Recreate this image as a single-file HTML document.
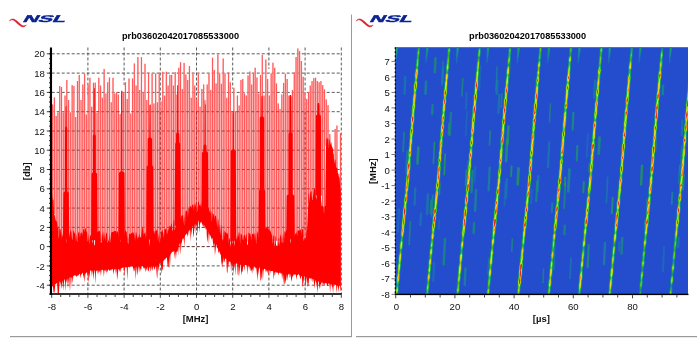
<!DOCTYPE html>
<html><head><meta charset="utf-8"><title>NSL</title><style>html,body{margin:0;padding:0;background:#fff;overflow:hidden}body{width:697px;height:338px;position:relative}</style></head><body>
<svg width="697" height="338" viewBox="0 0 697 338" style="position:absolute;left:0;top:0">
<rect x="0" y="0" width="697" height="338" fill="#fff"/>
<rect x="351" y="14.6" width="1" height="322.4" fill="#9a9a9a"/>
<rect x="10" y="336" width="342" height="1.2" fill="#9a9a9a"/>
<rect x="356" y="336" width="341" height="1.2" fill="#9a9a9a"/>
<g transform="translate(0,0)">
<path transform="translate(-0.3,0.9)" d="M9.6 20.3 C10.6 18.9 12.3 18.4 13.9 19.4 C16.5 21 18.6 24.2 21.5 25.6 C23.6 26.5 25.4 25.8 26.6 24.0 C25.4 24.9 23.8 25.2 22.2 24.3 C19.6 22.7 17.4 19.6 14.6 18.4 C12.4 17.5 10.4 18.4 9.6 20.3 Z" fill="#dc1a28" stroke="#dc1a28" stroke-width="0.45" stroke-linejoin="round"/>
<text x="0" y="0" transform="translate(21.9,21.6) skewX(-32) scale(2.17,1)" font-family="Liberation Sans, sans-serif" font-weight="bold" font-size="9.8" fill="#0b2390" stroke="#0b2390" stroke-width="0.4">NSL</text>
</g>
<g transform="translate(346.9,0)">
<path transform="translate(-0.3,0.9)" d="M9.6 20.3 C10.6 18.9 12.3 18.4 13.9 19.4 C16.5 21 18.6 24.2 21.5 25.6 C23.6 26.5 25.4 25.8 26.6 24.0 C25.4 24.9 23.8 25.2 22.2 24.3 C19.6 22.7 17.4 19.6 14.6 18.4 C12.4 17.5 10.4 18.4 9.6 20.3 Z" fill="#dc1a28" stroke="#dc1a28" stroke-width="0.45" stroke-linejoin="round"/>
<text x="0" y="0" transform="translate(21.9,21.6) skewX(-32) scale(2.17,1)" font-family="Liberation Sans, sans-serif" font-weight="bold" font-size="9.8" fill="#0b2390" stroke="#0b2390" stroke-width="0.4">NSL</text>
</g>
<text x="180.5" y="38.6" text-anchor="middle" font-family="Liberation Sans, sans-serif" font-weight="bold" font-size="9.2" fill="#000">prb03602042017085533000</text>
<text x="527.6" y="38.6" text-anchor="middle" font-family="Liberation Sans, sans-serif" font-weight="bold" font-size="9.2" fill="#000">prb03602042017085533000</text>
<line x1="51.7" y1="285.2" x2="341.3" y2="285.2" stroke="#5a5a5a" stroke-width="1" stroke-dasharray="3 2"/>
<line x1="51.7" y1="265.9" x2="341.3" y2="265.9" stroke="#5a5a5a" stroke-width="1" stroke-dasharray="3 2"/>
<line x1="51.7" y1="246.6" x2="341.3" y2="246.6" stroke="#5a5a5a" stroke-width="1" stroke-dasharray="3 2"/>
<line x1="51.7" y1="227.4" x2="341.3" y2="227.4" stroke="#5a5a5a" stroke-width="1" stroke-dasharray="3 2"/>
<line x1="51.7" y1="208.1" x2="341.3" y2="208.1" stroke="#5a5a5a" stroke-width="1" stroke-dasharray="3 2"/>
<line x1="51.7" y1="188.8" x2="341.3" y2="188.8" stroke="#5a5a5a" stroke-width="1" stroke-dasharray="3 2"/>
<line x1="51.7" y1="169.5" x2="341.3" y2="169.5" stroke="#5a5a5a" stroke-width="1" stroke-dasharray="3 2"/>
<line x1="51.7" y1="150.2" x2="341.3" y2="150.2" stroke="#5a5a5a" stroke-width="1" stroke-dasharray="3 2"/>
<line x1="51.7" y1="131.0" x2="341.3" y2="131.0" stroke="#5a5a5a" stroke-width="1" stroke-dasharray="3 2"/>
<line x1="51.7" y1="111.7" x2="341.3" y2="111.7" stroke="#5a5a5a" stroke-width="1" stroke-dasharray="3 2"/>
<line x1="51.7" y1="92.4" x2="341.3" y2="92.4" stroke="#5a5a5a" stroke-width="1" stroke-dasharray="3 2"/>
<line x1="51.7" y1="73.1" x2="341.3" y2="73.1" stroke="#5a5a5a" stroke-width="1" stroke-dasharray="3 2"/>
<line x1="51.7" y1="53.8" x2="341.3" y2="53.8" stroke="#5a5a5a" stroke-width="1" stroke-dasharray="3 2"/>
<line x1="160.3" y1="47.5" x2="160.3" y2="294.0" stroke="#5a5a5a" stroke-width="1" stroke-dasharray="3 2"/>
<line x1="196.5" y1="47.5" x2="196.5" y2="294.0" stroke="#5a5a5a" stroke-width="1" stroke-dasharray="3 2"/>
<line x1="305.1" y1="47.5" x2="305.1" y2="294.0" stroke="#5a5a5a" stroke-width="1" stroke-dasharray="3 2"/>
<line x1="341.3" y1="47.5" x2="341.3" y2="294.0" stroke="#5a5a5a" stroke-width="1" stroke-dasharray="3 2"/>
<line x1="87.9" y1="47.5" x2="87.9" y2="95.0" stroke="#5a5a5a" stroke-width="1" stroke-dasharray="3 2"/>
<line x1="87.9" y1="271.5" x2="87.9" y2="294.0" stroke="#5a5a5a" stroke-width="1" stroke-dasharray="3 2" stroke-dashoffset="4.0"/>
<line x1="124.1" y1="47.5" x2="124.1" y2="85.1" stroke="#5a5a5a" stroke-width="1" stroke-dasharray="3 2"/>
<line x1="124.1" y1="267.9" x2="124.1" y2="294.0" stroke="#5a5a5a" stroke-width="1" stroke-dasharray="3 2" stroke-dashoffset="0.4"/>
<line x1="232.7" y1="47.5" x2="232.7" y2="88.7" stroke="#5a5a5a" stroke-width="1" stroke-dasharray="3 2"/>
<line x1="232.7" y1="263.2" x2="232.7" y2="294.0" stroke="#5a5a5a" stroke-width="1" stroke-dasharray="3 2" stroke-dashoffset="0.7"/>
<line x1="268.9" y1="47.5" x2="268.9" y2="68.9" stroke="#5a5a5a" stroke-width="1" stroke-dasharray="3 2"/>
<line x1="268.9" y1="270.5" x2="268.9" y2="294.0" stroke="#5a5a5a" stroke-width="1" stroke-dasharray="3 2" stroke-dashoffset="3.0"/>
<path d="M52.60 104.5V201.9M54.38 97.4V214.4M56.15 115.9V229.3M57.93 112.4V233.3M59.71 86.0V237.3M61.49 87.1V238.7M63.26 112.3V239.6M65.04 95.6V240.5M66.82 80.0V240.5M68.59 100.0V240.6M70.37 112.4V240.6M72.15 85.1V240.6M73.92 86.0V240.6M75.70 117.0V240.7M77.48 81.1V240.7M79.26 74.9V240.7M81.03 100.0V240.7M82.81 84.5V240.8M84.59 73.8V240.8M86.36 114.4V240.8M88.14 84.5V240.8M89.92 77.8V240.9M91.69 106.7V240.9M93.47 82.7V240.9M95.25 82.7V240.9M97.03 112.7V241.0M98.80 77.8V241.0M100.58 85.6V241.0M102.36 97.8V241.0M104.13 68.9V241.0M105.91 93.4V240.9M107.69 82.3V240.9M109.46 77.4V240.9M111.24 102.3V240.9M113.02 77.8V240.9M114.80 93.4V240.9M116.57 92.3V240.8M118.35 94.5V240.8M120.13 113.9V240.8M121.90 90.7V240.8M123.68 92.3V240.8M125.46 82.3V240.7M127.23 98.9V240.7M129.01 78.5V240.7M130.79 113.5V240.7M132.56 78.5V240.7M134.34 63.4V240.7M136.12 85.6V240.6M137.90 57.1V240.6M139.67 90.0V240.6M141.45 57.1V240.6M143.23 92.3V240.6M145.00 63.8V240.5M146.78 100.0V240.5M148.56 72.7V240.5M150.33 104.5V240.5M152.11 73.4V240.2M153.89 103.4V240.0M155.67 73.4V239.8M157.44 102.3V239.5M159.22 72.7V239.3M161.00 101.2V239.1M162.77 71.8V238.5M164.55 95.6V237.7M166.33 71.8V236.9M168.10 85.6V236.1M169.88 74.9V234.4M171.66 74.9V231.9M173.44 85.6V229.4M175.21 72.2V228.1M176.99 94.5V227.1M178.77 67.8V226.1M180.54 62.2V225.1M182.32 88.9V224.1M184.10 62.9V223.1M185.87 74.5V220.6M187.65 80.0V218.0M189.43 66.0V215.9M191.21 97.8V214.5M192.98 72.7V213.1M194.76 85.6V211.7M196.54 98.9V211.0M198.31 73.4V210.5M200.09 106.7V210.0M201.87 88.9V209.8M203.64 84.5V211.5M205.42 104.5V213.2M207.20 84.5V214.9M208.98 73.4V216.9M210.75 90.0V219.2M212.53 57.8V221.5M214.31 70.0V223.4M216.08 83.4V225.2M217.86 54.5V227.5M219.64 73.4V231.1M221.41 83.8V234.8M223.19 58.5V237.6M224.97 73.4V240.0M226.75 97.8V242.0M228.52 72.7V241.9M230.30 82.3V241.9M232.08 111.2V241.9M233.85 87.8V241.8M235.63 111.2V241.8M237.41 95.6V241.7M239.18 105.6V241.7M240.96 80.0V241.6M242.74 78.9V241.6M244.52 93.4V241.6M246.29 95.6V241.5M248.07 75.6V241.5M249.85 71.6V241.4M251.62 84.5V241.4M253.40 73.4V241.3M255.18 67.8V241.3M256.95 77.4V241.2M258.73 93.4V241.2M260.51 74.9V241.1M262.29 54.9V241.1M264.06 95.6V241.1M265.84 59.6V241.0M267.62 78.9V241.0M269.39 95.6V240.9M271.17 73.4V240.9M272.95 62.7V240.8M274.72 67.8V240.8M276.50 83.4V240.7M278.28 103.4V240.7M280.06 108.9V240.6M281.83 94.5V240.6M283.61 82.9V240.5M285.39 73.8V240.5M287.16 78.9V240.2M288.94 95.6V240.0M290.72 111.2V239.8M292.49 90.0V239.6M294.27 72.2V239.3M296.05 57.1V239.1M297.83 48.5V238.8M299.60 51.1V238.3M301.38 61.1V237.7M303.16 76.7V237.2M304.93 92.3V236.2M306.71 98.9V234.7M308.49 92.3V202.9M310.26 85.6V201.0M312.04 81.1V199.1M313.82 78.2V197.3M315.60 77.8V196.0M317.37 81.1V196.0M319.15 82.3V196.0M320.93 81.1V196.0M322.70 85.1V215.0M324.48 89.4V215.0M326.26 99.4V146.1M328.03 105.2V146.7M329.81 134.1V147.2M331.59 146.4V151.8M333.37 154.0V159.5M335.14 128.9V167.3M336.92 125.6V175.2M338.70 173.8V183.5M340.47 133.1V190.9" stroke="#ffa4a4" stroke-width="1.4" fill="none"/>
<path d="M52.60 104.5V201.9M54.38 97.4V214.4M56.15 115.9V229.3M57.93 112.4V233.3M59.71 86.0V237.3M61.49 87.1V238.7M63.26 112.3V239.6M65.04 95.6V240.5M66.82 80.0V240.5M68.59 100.0V240.6M70.37 112.4V240.6M72.15 85.1V240.6M73.92 86.0V240.6M75.70 117.0V240.7M77.48 81.1V240.7M79.26 74.9V240.7M81.03 100.0V240.7M82.81 84.5V240.8M84.59 73.8V240.8M86.36 114.4V240.8M88.14 84.5V240.8M89.92 77.8V240.9M91.69 106.7V240.9M93.47 82.7V240.9M95.25 82.7V240.9M97.03 112.7V241.0M98.80 77.8V241.0M100.58 85.6V241.0M102.36 97.8V241.0M104.13 68.9V241.0M105.91 93.4V240.9M107.69 82.3V240.9M109.46 77.4V240.9M111.24 102.3V240.9M113.02 77.8V240.9M114.80 93.4V240.9M116.57 92.3V240.8M118.35 94.5V240.8M120.13 113.9V240.8M121.90 90.7V240.8M123.68 92.3V240.8M125.46 82.3V240.7M127.23 98.9V240.7M129.01 78.5V240.7M130.79 113.5V240.7M132.56 78.5V240.7M134.34 63.4V240.7M136.12 85.6V240.6M137.90 57.1V240.6M139.67 90.0V240.6M141.45 57.1V240.6M143.23 92.3V240.6M145.00 63.8V240.5M146.78 100.0V240.5M148.56 72.7V240.5M150.33 104.5V240.5M152.11 73.4V240.2M153.89 103.4V240.0M155.67 73.4V239.8M157.44 102.3V239.5M159.22 72.7V239.3M161.00 101.2V239.1M162.77 71.8V238.5M164.55 95.6V237.7M166.33 71.8V236.9M168.10 85.6V236.1M169.88 74.9V234.4M171.66 74.9V231.9M173.44 85.6V229.4M175.21 72.2V228.1M176.99 94.5V227.1M178.77 67.8V226.1M180.54 62.2V225.1M182.32 88.9V224.1M184.10 62.9V223.1M185.87 74.5V220.6M187.65 80.0V218.0M189.43 66.0V215.9M191.21 97.8V214.5M192.98 72.7V213.1M194.76 85.6V211.7M196.54 98.9V211.0M198.31 73.4V210.5M200.09 106.7V210.0M201.87 88.9V209.8M203.64 84.5V211.5M205.42 104.5V213.2M207.20 84.5V214.9M208.98 73.4V216.9M210.75 90.0V219.2M212.53 57.8V221.5M214.31 70.0V223.4M216.08 83.4V225.2M217.86 54.5V227.5M219.64 73.4V231.1M221.41 83.8V234.8M223.19 58.5V237.6M224.97 73.4V240.0M226.75 97.8V242.0M228.52 72.7V241.9M230.30 82.3V241.9M232.08 111.2V241.9M233.85 87.8V241.8M235.63 111.2V241.8M237.41 95.6V241.7M239.18 105.6V241.7M240.96 80.0V241.6M242.74 78.9V241.6M244.52 93.4V241.6M246.29 95.6V241.5M248.07 75.6V241.5M249.85 71.6V241.4M251.62 84.5V241.4M253.40 73.4V241.3M255.18 67.8V241.3M256.95 77.4V241.2M258.73 93.4V241.2M260.51 74.9V241.1M262.29 54.9V241.1M264.06 95.6V241.1M265.84 59.6V241.0M267.62 78.9V241.0M269.39 95.6V240.9M271.17 73.4V240.9M272.95 62.7V240.8M274.72 67.8V240.8M276.50 83.4V240.7M278.28 103.4V240.7M280.06 108.9V240.6M281.83 94.5V240.6M283.61 82.9V240.5M285.39 73.8V240.5M287.16 78.9V240.2M288.94 95.6V240.0M290.72 111.2V239.8M292.49 90.0V239.6M294.27 72.2V239.3M296.05 57.1V239.1M297.83 48.5V238.8M299.60 51.1V238.3M301.38 61.1V237.7M303.16 76.7V237.2M304.93 92.3V236.2M306.71 98.9V234.7M308.49 92.3V202.9M310.26 85.6V201.0M312.04 81.1V199.1M313.82 78.2V197.3M315.60 77.8V196.0M317.37 81.1V196.0M319.15 82.3V196.0M320.93 81.1V196.0M322.70 85.1V215.0M324.48 89.4V215.0M326.26 99.4V146.1M328.03 105.2V146.7M329.81 134.1V147.2M331.59 146.4V151.8M333.37 154.0V159.5M335.14 128.9V167.3M336.92 125.6V175.2M338.70 173.8V183.5M340.47 133.1V190.9" stroke="#ff3030" stroke-width="0.68" fill="none"/>
<line x1="51.7" y1="246.6" x2="341.0" y2="246.6" stroke="#7a2020" stroke-opacity="0.5" stroke-width="1" stroke-dasharray="3 2"/>
<line x1="51.7" y1="227.4" x2="341.0" y2="227.4" stroke="#7a2020" stroke-opacity="0.5" stroke-width="1" stroke-dasharray="3 2"/>
<line x1="51.7" y1="208.1" x2="341.0" y2="208.1" stroke="#7a2020" stroke-opacity="0.5" stroke-width="1" stroke-dasharray="3 2"/>
<line x1="51.7" y1="188.8" x2="341.0" y2="188.8" stroke="#7a2020" stroke-opacity="0.5" stroke-width="1" stroke-dasharray="3 2"/>
<line x1="51.7" y1="169.5" x2="324.0" y2="169.5" stroke="#7a2020" stroke-opacity="0.5" stroke-width="1" stroke-dasharray="3 2"/>
<line x1="51.7" y1="150.2" x2="324.0" y2="150.2" stroke="#7a2020" stroke-opacity="0.5" stroke-width="1" stroke-dasharray="3 2"/>
<line x1="51.7" y1="131.0" x2="324.0" y2="131.0" stroke="#7a2020" stroke-opacity="0.5" stroke-width="1" stroke-dasharray="3 2"/>
<line x1="76" y1="111.7" x2="324.0" y2="111.7" stroke="#7a2020" stroke-opacity="0.5" stroke-width="1" stroke-dasharray="3 2"/>
<line x1="160.3" y1="111.7" x2="160.3" y2="233.2" stroke="#8a2a2a" stroke-opacity="0.75" stroke-width="1" stroke-dasharray="3 2"/>
<line x1="196.5" y1="111.7" x2="196.5" y2="205.0" stroke="#8a2a2a" stroke-opacity="0.75" stroke-width="1" stroke-dasharray="3 2"/>
<line x1="305.1" y1="111.7" x2="305.1" y2="230.1" stroke="#8a2a2a" stroke-opacity="0.75" stroke-width="1" stroke-dasharray="3 2"/>
<polygon points="65.8,106.0 65.6,108.0 65.5,126.3 65.0,127.7 64.9,191.3 63.4,192.7 63.0,239.5 69.2,239.5 68.8,192.7 67.3,191.3 67.2,127.7 66.6,126.3 66.5,108.0 66.4,106.0" fill="#ff0000"/>
<polygon points="94.0,88.0 93.8,90.0 93.8,134.3 92.8,135.7 92.8,172.3 91.5,173.7 91.1,239.9 97.5,239.9 97.1,173.7 95.8,172.3 95.8,135.7 94.8,134.3 94.8,90.0 94.6,88.0" fill="#ff0000"/>
<polygon points="121.4,91.0 121.2,93.0 121.1,171.3 118.9,172.7 118.5,239.8 124.9,239.8 124.5,172.7 122.3,171.3 122.2,93.0 122.0,91.0" fill="#ff0000"/>
<polygon points="149.6,105.0 149.5,107.0 149.3,137.3 147.7,138.7 147.6,165.3 146.6,166.7 146.2,239.5 153.6,239.5 153.2,166.7 152.2,165.3 152.1,138.7 150.5,137.3 150.3,107.0 150.2,105.0" fill="#ff0000"/>
<polygon points="177.4,85.0 177.2,87.0 177.1,132.3 176.1,133.7 176.0,142.3 175.2,143.7 175.1,162.3 175.0,163.7 174.6,225.7 180.8,225.7 180.4,163.7 180.3,162.3 180.2,143.7 179.4,142.3 179.3,133.7 178.2,132.3 178.1,87.0 178.0,85.0" fill="#ff0000"/>
<polygon points="204.7,100.0 204.6,102.0 204.4,144.3 203.5,145.7 203.4,151.3 202.0,152.7 201.6,211.8 208.4,211.8 208.0,152.7 206.6,151.3 206.5,145.7 205.6,144.3 205.4,102.0 205.3,100.0" fill="#ff0000"/>
<polygon points="233.0,112.0 232.8,114.0 232.7,149.3 230.8,150.7 230.4,240.8 236.2,240.8 235.8,150.7 233.9,149.3 233.8,114.0 233.6,112.0" fill="#ff0000"/>
<polygon points="261.6,96.0 261.4,98.0 261.3,116.3 259.8,117.7 259.7,189.3 259.0,190.7 258.6,240.1 265.4,240.1 265.0,190.7 264.3,189.3 264.2,117.7 262.7,116.3 262.6,98.0 262.4,96.0" fill="#ff0000"/>
<polygon points="289.9,95.0 289.5,97.0 289.4,132.3 288.5,133.7 288.4,194.3 286.7,195.7 286.3,238.8 294.7,238.8 294.3,195.7 292.6,194.3 292.5,133.7 291.6,132.3 291.5,97.0 291.1,95.0" fill="#ff0000"/>
<polygon points="317.8,103.0 317.4,105.0 317.3,114.3 315.9,115.7 315.5,195.0 321.3,195.0 320.9,115.7 319.5,114.3 319.4,105.0 319.0,103.0" fill="#ff0000"/>
<polygon points="51.7,189.5 52.3,196.6 52.9,200.7 53.5,198.9 54.1,215.3 54.7,214.8 55.3,218.7 55.9,220.7 56.5,221.1 57.1,222.7 57.7,227.8 58.3,226.2 58.9,239.0 59.5,228.4 60.1,229.2 60.7,229.4 61.3,238.9 61.9,231.2 62.5,237.0 63.1,234.5 63.7,237.4 64.3,233.2 64.9,238.5 65.5,239.0 66.1,233.4 66.7,243.2 67.3,231.9 67.9,231.4 68.5,237.5 69.1,237.6 69.7,233.5 70.3,231.6 70.9,229.2 71.5,232.8 72.1,240.3 72.7,238.5 73.3,230.5 73.9,231.0 74.5,233.4 75.1,232.2 75.7,241.3 76.3,232.7 76.9,241.1 77.5,241.6 78.1,233.4 78.7,231.7 79.3,231.8 79.9,238.1 80.5,232.9 81.1,233.1 81.7,232.0 82.3,235.7 82.9,231.2 83.5,228.7 84.1,229.3 84.7,232.6 85.3,227.5 85.9,229.0 86.5,232.6 87.1,231.4 87.7,241.4 88.3,240.3 88.9,233.0 89.5,244.6 90.1,234.9 90.7,235.7 91.3,234.8 91.9,238.1 92.5,243.5 93.1,238.6 93.7,234.1 94.3,245.6 94.9,244.9 95.5,234.6 96.1,240.1 96.7,233.3 97.3,232.3 97.9,231.8 98.5,231.0 99.1,231.5 99.7,230.5 100.3,231.8 100.9,242.8 101.5,242.5 102.1,231.0 102.7,236.8 103.3,231.1 103.9,240.9 104.5,231.6 105.1,241.6 105.7,236.1 106.3,232.2 106.9,233.3 107.5,243.3 108.1,239.3 108.7,241.1 109.3,241.5 109.9,233.5 110.5,243.0 111.1,232.6 111.7,232.4 112.3,232.0 112.9,231.7 113.5,231.7 114.1,231.3 114.7,231.1 115.3,231.1 115.9,231.1 116.5,233.0 117.1,232.3 117.7,231.1 118.3,232.0 118.9,238.4 119.5,232.1 120.1,242.4 120.7,236.9 121.3,232.3 121.9,229.2 122.5,228.3 123.1,232.8 123.7,227.4 124.3,235.6 124.9,232.5 125.5,229.8 126.1,231.5 126.7,232.1 127.3,243.4 127.9,234.5 128.5,245.0 129.1,233.7 129.7,233.6 130.3,234.3 130.9,234.2 131.5,232.7 132.1,233.1 132.7,232.2 133.3,232.2 133.9,233.8 134.5,235.5 135.1,240.8 135.7,232.6 136.3,232.3 136.9,235.5 137.5,239.7 138.1,235.4 138.7,238.4 139.3,232.7 139.9,237.7 140.5,236.8 141.1,238.1 141.7,232.4 142.3,227.7 142.9,227.5 143.5,235.5 144.1,232.3 144.7,234.3 145.3,231.7 145.9,238.1 146.5,235.9 147.1,235.3 147.7,236.6 148.3,236.1 148.9,235.4 149.5,246.8 150.1,234.8 150.7,237.4 151.3,235.7 151.9,232.3 152.5,231.8 153.1,231.6 153.7,231.1 154.3,231.0 154.9,234.5 155.5,230.5 156.1,231.1 156.7,229.7 157.3,229.5 157.9,240.8 158.5,232.1 159.1,243.6 159.7,232.9 160.3,241.0 160.9,232.4 161.5,231.7 162.1,229.8 162.7,231.0 163.3,233.5 163.9,238.2 164.5,228.7 165.1,229.8 165.7,228.5 166.3,228.3 166.9,235.1 167.5,232.6 168.1,227.1 168.7,231.2 169.3,226.5 169.9,226.1 170.5,227.0 171.1,224.6 171.7,222.9 172.3,229.3 172.9,231.6 173.5,220.5 174.1,219.8 174.7,230.7 175.3,225.8 175.9,228.5 176.5,220.3 177.1,218.1 177.7,218.7 178.3,220.6 178.9,217.0 179.5,216.7 180.1,216.8 180.7,220.9 181.3,215.8 181.9,215.6 182.5,215.6 183.1,214.7 183.7,223.8 184.3,214.0 184.9,225.8 185.5,212.1 186.1,211.3 186.7,210.4 187.3,209.7 187.9,217.5 188.5,208.6 189.1,208.8 189.7,207.1 190.3,206.4 190.9,205.8 191.5,208.2 192.1,204.9 192.7,204.5 193.3,204.8 193.9,211.1 194.5,202.9 195.1,206.8 195.7,203.5 196.3,202.1 196.9,212.1 197.5,209.6 198.1,201.7 198.7,201.4 199.3,205.0 199.9,205.6 200.5,206.3 201.1,202.6 201.7,206.5 202.3,211.1 202.9,202.0 203.5,202.5 204.1,207.1 204.7,203.5 205.3,206.4 205.9,204.8 206.5,205.3 207.1,206.9 207.7,209.6 208.3,208.2 208.9,207.9 209.5,212.8 210.1,209.3 210.7,213.8 211.3,211.1 211.9,221.8 212.5,212.5 213.1,214.0 213.7,213.9 214.3,219.3 214.9,215.1 215.5,215.9 216.1,216.3 216.7,222.2 217.3,228.5 217.9,218.6 218.5,220.6 219.1,232.0 219.7,222.9 220.3,235.4 220.9,224.7 221.5,226.6 222.1,235.9 222.7,240.9 223.3,229.1 223.9,240.1 224.5,230.4 225.1,231.8 225.7,232.4 226.3,232.9 226.9,233.4 227.5,233.0 228.1,235.4 228.7,243.3 229.3,238.2 229.9,238.6 230.5,247.5 231.1,238.1 231.7,237.7 232.3,244.5 232.9,237.9 233.5,238.0 234.1,238.3 234.7,246.5 235.3,236.7 235.9,238.5 236.5,239.4 237.1,234.3 237.7,238.6 238.3,235.5 238.9,231.7 239.5,233.3 240.1,243.7 240.7,233.1 241.3,234.8 241.9,233.9 242.5,239.2 243.1,240.4 243.7,235.5 244.3,235.2 244.9,234.3 245.5,239.2 246.1,233.5 246.7,235.1 247.3,244.9 247.9,244.8 248.5,231.9 249.1,233.6 249.7,233.4 250.3,233.5 250.9,236.7 251.5,240.9 252.1,233.5 252.7,234.0 253.3,234.6 253.9,233.6 254.5,233.2 255.1,241.3 255.7,232.4 256.3,244.2 256.9,231.1 257.5,233.8 258.1,230.0 258.7,236.4 259.3,239.0 259.9,229.1 260.5,228.5 261.1,230.4 261.7,228.3 262.3,228.3 262.9,232.8 263.5,226.9 264.1,229.7 264.7,227.3 265.3,226.8 265.9,229.2 266.5,226.7 267.1,227.0 267.7,226.6 268.3,227.4 268.9,230.1 269.5,229.0 270.1,231.7 270.7,230.6 271.3,235.4 271.9,232.4 272.5,244.1 273.1,235.8 273.7,235.1 274.3,247.9 274.9,235.8 275.5,236.5 276.1,246.4 276.7,244.7 277.3,247.2 277.9,237.7 278.5,238.9 279.1,245.8 279.7,238.3 280.3,236.1 280.9,234.1 281.5,243.3 282.1,233.7 282.7,243.7 283.3,231.8 283.9,243.5 284.5,231.1 285.1,231.4 285.7,233.3 286.3,230.1 286.9,229.8 287.5,238.2 288.1,231.4 288.7,232.9 289.3,233.6 289.9,234.0 290.5,243.9 291.1,237.6 291.7,236.4 292.3,235.7 292.9,236.9 293.5,234.6 294.1,235.9 294.7,236.3 295.3,233.1 295.9,234.3 296.5,230.9 297.1,236.5 297.7,230.5 298.3,230.2 298.9,230.8 299.5,230.7 300.1,229.5 300.7,229.3 301.3,234.9 301.9,229.0 302.5,229.4 303.1,228.8 303.7,241.5 304.3,235.1 304.9,240.1 305.5,238.0 306.1,226.3 306.7,236.1 307.3,225.7 307.9,213.4 308.5,194.1 309.1,193.3 309.7,202.6 310.3,192.2 310.9,191.7 311.5,190.8 312.1,200.6 312.7,198.6 313.3,194.8 313.9,189.9 314.5,188.0 315.1,189.0 315.7,195.7 316.3,199.7 316.9,187.7 317.5,187.2 318.1,189.2 318.7,192.5 319.3,187.1 319.9,187.0 320.5,187.2 321.1,199.3 321.7,206.3 322.3,206.0 322.9,206.0 323.5,206.9 324.1,215.1 324.7,206.1 325.3,206.0 325.9,149.0 326.5,137.6 327.1,139.7 327.7,137.6 328.3,138.9 328.9,148.5 329.5,138.2 330.1,141.4 330.7,144.9 331.3,141.7 331.9,147.4 332.5,147.2 333.1,150.3 333.7,156.8 334.3,164.0 334.9,158.9 335.5,160.0 336.1,168.3 336.7,167.2 337.3,168.0 337.9,173.4 338.5,176.7 339.1,176.4 339.7,179.4 340.3,190.5 340.9,187.3 340.9,285.8 340.3,292.1 339.7,285.6 339.1,285.7 338.5,292.6 337.9,286.6 337.3,285.2 336.7,293.5 336.1,284.9 335.5,284.8 334.9,285.3 334.3,284.6 333.7,284.6 333.1,293.5 332.5,287.5 331.9,286.1 331.3,284.0 330.7,284.5 330.1,293.1 329.5,283.7 328.9,283.7 328.3,283.5 327.7,286.2 327.1,285.6 326.5,283.2 325.9,283.0 325.3,282.9 324.7,286.2 324.1,282.7 323.5,284.0 322.9,285.2 322.3,282.2 321.7,282.3 321.1,284.1 320.5,284.7 319.9,288.9 319.3,286.5 318.7,281.8 318.1,281.1 317.5,293.5 316.9,287.1 316.3,283.0 315.7,279.9 315.1,281.9 314.5,288.7 313.9,282.3 313.3,279.0 312.7,278.8 312.1,282.4 311.5,278.3 310.9,278.1 310.3,279.3 309.7,277.7 309.1,278.8 308.5,284.6 307.9,287.2 307.3,282.4 306.7,276.6 306.1,282.9 305.5,287.2 304.9,277.2 304.3,275.7 303.7,280.5 303.1,284.0 302.5,287.6 301.9,276.2 301.3,276.0 300.7,279.5 300.1,277.5 299.5,275.8 298.9,274.3 298.3,274.3 297.7,275.3 297.1,275.1 296.5,279.9 295.9,275.3 295.3,274.0 294.7,274.8 294.1,274.6 293.5,274.5 292.9,276.7 292.3,276.2 291.7,281.7 291.1,279.3 290.5,273.5 289.9,278.4 289.3,273.4 288.7,274.9 288.1,273.4 287.5,281.1 286.9,273.8 286.3,279.6 285.7,280.7 285.1,283.6 284.5,284.5 283.9,274.1 283.3,285.1 282.7,272.9 282.1,279.8 281.5,272.7 280.9,274.2 280.3,272.6 279.7,273.0 279.1,272.5 278.5,275.5 277.9,272.2 277.3,273.1 276.7,272.6 276.1,272.5 275.5,271.6 274.9,276.4 274.3,271.8 273.7,280.2 273.1,271.4 272.5,271.1 271.9,271.0 271.3,271.2 270.7,270.4 270.1,273.4 269.5,270.7 268.9,270.0 268.3,276.5 267.7,269.9 267.1,273.4 266.5,269.4 265.9,272.6 265.3,269.2 264.7,268.9 264.1,268.8 263.5,271.1 262.9,280.8 262.3,268.4 261.7,277.2 261.1,279.6 260.5,281.5 259.9,267.7 259.3,267.6 258.7,275.6 258.1,268.4 257.5,281.6 256.9,274.1 256.3,268.2 255.7,267.3 255.1,268.8 254.5,266.5 253.9,266.5 253.3,271.5 252.7,268.3 252.1,274.3 251.5,269.6 250.9,271.3 250.3,268.6 249.7,265.8 249.1,270.1 248.5,265.5 247.9,265.5 247.3,275.0 246.7,265.4 246.1,265.0 245.5,265.0 244.9,264.9 244.3,271.1 243.7,264.9 243.1,267.1 242.5,272.0 241.9,271.3 241.3,275.8 240.7,264.9 240.1,264.5 239.5,276.7 238.9,263.9 238.3,275.9 237.7,274.6 237.1,263.5 236.5,263.6 235.9,263.4 235.3,276.0 234.7,263.4 234.1,268.3 233.5,274.0 232.9,262.7 232.3,268.5 231.7,263.2 231.1,272.4 230.5,261.8 229.9,261.9 229.3,261.0 228.7,268.1 228.1,260.6 227.5,273.0 226.9,272.2 226.3,259.2 225.7,258.6 225.1,258.7 224.5,261.4 223.9,262.8 223.3,257.1 222.7,268.3 222.1,261.3 221.5,266.1 220.9,255.3 220.3,253.9 219.7,252.6 219.1,251.1 218.5,253.4 217.9,248.4 217.3,248.3 216.7,245.8 216.1,244.3 215.5,250.7 214.9,255.7 214.3,242.6 213.7,247.0 213.1,243.2 212.5,238.6 211.9,237.4 211.3,239.9 210.7,235.9 210.1,235.5 209.5,233.4 208.9,245.1 208.3,231.1 207.7,239.8 207.1,242.2 206.5,228.6 205.9,230.1 205.3,227.3 204.7,227.4 204.1,225.0 203.5,227.3 202.9,223.4 202.3,226.2 201.7,222.6 201.1,222.0 200.5,222.5 199.9,224.4 199.3,232.8 198.7,221.7 198.1,220.4 197.5,234.6 196.9,229.3 196.3,222.8 195.7,225.1 195.1,233.6 194.5,224.0 193.9,233.9 193.3,237.9 192.7,226.4 192.1,226.6 191.5,236.1 190.9,229.3 190.3,242.1 189.7,229.5 189.1,230.7 188.5,231.7 187.9,237.2 187.3,234.6 186.7,233.4 186.1,234.4 185.5,234.9 184.9,236.6 184.3,247.1 183.7,238.7 183.1,238.3 182.5,239.1 181.9,241.9 181.3,244.2 180.7,255.4 180.1,242.7 179.5,244.4 178.9,255.7 178.3,245.3 177.7,251.4 177.1,251.6 176.5,251.9 175.9,260.0 175.3,251.5 174.7,259.0 174.1,250.4 173.5,252.0 172.9,251.4 172.3,252.1 171.7,252.6 171.1,253.4 170.5,254.4 169.9,269.5 169.3,255.6 168.7,266.1 168.1,267.6 167.5,264.8 166.9,257.2 166.3,258.0 165.7,258.3 165.1,259.7 164.5,259.3 163.9,261.0 163.3,260.5 162.7,270.7 162.1,268.9 161.5,274.6 160.9,262.5 160.3,263.1 159.7,263.6 159.1,265.0 158.5,272.0 157.9,265.0 157.3,279.0 156.7,275.3 156.1,266.3 155.5,266.8 154.9,269.2 154.3,269.2 153.7,265.5 153.1,267.7 152.5,271.0 151.9,265.8 151.3,269.0 150.7,271.8 150.1,267.1 149.5,267.3 148.9,271.2 148.3,271.0 147.7,266.0 147.1,271.1 146.5,269.5 145.9,267.4 145.3,272.8 144.7,267.2 144.1,268.9 143.5,268.0 142.9,266.0 142.3,266.0 141.7,266.1 141.1,269.9 140.5,268.3 139.9,273.0 139.3,267.4 138.7,266.0 138.1,271.1 137.5,276.1 136.9,266.0 136.3,270.8 135.7,280.2 135.1,266.6 134.5,270.7 133.9,271.5 133.3,268.4 132.7,266.4 132.1,266.3 131.5,266.4 130.9,266.4 130.3,266.6 129.7,267.7 129.1,266.7 128.5,267.0 127.9,267.0 127.3,280.6 126.7,267.2 126.1,267.2 125.5,267.4 124.9,267.5 124.3,276.6 123.7,267.5 123.1,267.7 122.5,267.7 121.9,267.7 121.3,268.5 120.7,272.4 120.1,268.3 119.5,272.1 118.9,268.7 118.3,269.5 117.7,275.8 117.1,280.3 116.5,268.6 115.9,273.7 115.3,268.8 114.7,269.1 114.1,270.2 113.5,274.7 112.9,269.3 112.3,269.1 111.7,269.2 111.1,270.8 110.5,269.4 109.9,271.2 109.3,270.3 108.7,269.4 108.1,269.4 107.5,272.5 106.9,269.5 106.3,273.6 105.7,269.6 105.1,271.7 104.5,269.6 103.9,277.1 103.3,270.4 102.7,269.9 102.1,269.8 101.5,269.8 100.9,276.4 100.3,269.9 99.7,272.8 99.1,269.9 98.5,271.9 97.9,274.8 97.3,270.1 96.7,271.6 96.1,270.1 95.5,284.6 94.9,270.8 94.3,270.3 93.7,279.9 93.1,273.8 92.5,270.3 91.9,276.8 91.3,270.4 90.7,270.4 90.1,270.5 89.5,278.6 88.9,272.6 88.3,283.0 87.7,275.4 87.1,272.4 86.5,272.4 85.9,273.1 85.3,274.6 84.7,283.0 84.1,274.3 83.5,278.5 82.9,272.8 82.3,272.9 81.7,275.0 81.1,273.6 80.5,278.4 79.9,273.7 79.3,273.9 78.7,274.9 78.1,275.8 77.5,275.8 76.9,275.4 76.3,277.2 75.7,275.5 75.1,275.3 74.5,275.6 73.9,275.8 73.3,276.0 72.7,283.8 72.1,277.1 71.5,278.1 70.9,290.2 70.3,276.9 69.7,277.5 69.1,291.3 68.5,277.5 67.9,288.3 67.3,277.9 66.7,283.0 66.1,279.1 65.5,292.3 64.9,279.4 64.3,279.4 63.7,285.1 63.1,290.7 62.5,280.3 61.9,283.9 61.3,289.0 60.7,284.0 60.1,281.5 59.5,281.8 58.9,293.5 58.3,293.5 57.7,293.5 57.1,283.1 56.5,283.3 55.9,284.0 55.3,283.9 54.7,291.6 54.1,293.0 53.5,292.0 52.9,285.4 52.3,287.0 51.7,285.5" fill="#ff0000"/>
<rect x="49.9" y="47.5" width="2.15" height="247.5" fill="#000"/>
<rect x="49.4" y="293.2" width="292.4" height="1.6" fill="#000"/>
<rect x="46.8" y="284.7" width="3.2" height="1" fill="#444"/>
<text x="44.8" y="288.8" text-anchor="end" font-family="Liberation Sans, sans-serif" font-size="9.6" fill="#111">-4</text>
<rect x="46.8" y="265.4" width="3.2" height="1" fill="#444"/>
<text x="44.8" y="269.5" text-anchor="end" font-family="Liberation Sans, sans-serif" font-size="9.6" fill="#111">-2</text>
<rect x="46.8" y="246.1" width="3.2" height="1" fill="#444"/>
<text x="44.8" y="250.2" text-anchor="end" font-family="Liberation Sans, sans-serif" font-size="9.6" fill="#111">0</text>
<rect x="46.8" y="226.9" width="3.2" height="1" fill="#444"/>
<text x="44.8" y="231.0" text-anchor="end" font-family="Liberation Sans, sans-serif" font-size="9.6" fill="#111">2</text>
<rect x="46.8" y="207.6" width="3.2" height="1" fill="#444"/>
<text x="44.8" y="211.7" text-anchor="end" font-family="Liberation Sans, sans-serif" font-size="9.6" fill="#111">4</text>
<rect x="46.8" y="188.3" width="3.2" height="1" fill="#444"/>
<text x="44.8" y="192.4" text-anchor="end" font-family="Liberation Sans, sans-serif" font-size="9.6" fill="#111">6</text>
<rect x="46.8" y="169.0" width="3.2" height="1" fill="#444"/>
<text x="44.8" y="173.1" text-anchor="end" font-family="Liberation Sans, sans-serif" font-size="9.6" fill="#111">8</text>
<rect x="46.8" y="149.7" width="3.2" height="1" fill="#444"/>
<text x="44.8" y="153.8" text-anchor="end" font-family="Liberation Sans, sans-serif" font-size="9.6" fill="#111">10</text>
<rect x="46.8" y="130.5" width="3.2" height="1" fill="#444"/>
<text x="44.8" y="134.6" text-anchor="end" font-family="Liberation Sans, sans-serif" font-size="9.6" fill="#111">12</text>
<rect x="46.8" y="111.2" width="3.2" height="1" fill="#444"/>
<text x="44.8" y="115.3" text-anchor="end" font-family="Liberation Sans, sans-serif" font-size="9.6" fill="#111">14</text>
<rect x="46.8" y="91.9" width="3.2" height="1" fill="#444"/>
<text x="44.8" y="96.0" text-anchor="end" font-family="Liberation Sans, sans-serif" font-size="9.6" fill="#111">16</text>
<rect x="46.8" y="72.6" width="3.2" height="1" fill="#444"/>
<text x="44.8" y="76.7" text-anchor="end" font-family="Liberation Sans, sans-serif" font-size="9.6" fill="#111">18</text>
<rect x="46.8" y="53.3" width="3.2" height="1" fill="#444"/>
<text x="44.8" y="57.4" text-anchor="end" font-family="Liberation Sans, sans-serif" font-size="9.6" fill="#111">20</text>
<rect x="49.2" y="284.7" width="1" height="1" fill="#000"/>
<rect x="49.2" y="279.9" width="1" height="1" fill="#000"/>
<rect x="49.2" y="275.1" width="1" height="1" fill="#000"/>
<rect x="49.2" y="270.2" width="1" height="1" fill="#000"/>
<rect x="49.2" y="265.4" width="1" height="1" fill="#000"/>
<rect x="49.2" y="260.6" width="1" height="1" fill="#000"/>
<rect x="49.2" y="255.8" width="1" height="1" fill="#000"/>
<rect x="49.2" y="251.0" width="1" height="1" fill="#000"/>
<rect x="49.2" y="246.1" width="1" height="1" fill="#000"/>
<rect x="49.2" y="241.3" width="1" height="1" fill="#000"/>
<rect x="49.2" y="236.5" width="1" height="1" fill="#000"/>
<rect x="49.2" y="231.7" width="1" height="1" fill="#000"/>
<rect x="49.2" y="226.9" width="1" height="1" fill="#000"/>
<rect x="49.2" y="222.0" width="1" height="1" fill="#000"/>
<rect x="49.2" y="217.2" width="1" height="1" fill="#000"/>
<rect x="49.2" y="212.4" width="1" height="1" fill="#000"/>
<rect x="49.2" y="207.6" width="1" height="1" fill="#000"/>
<rect x="49.2" y="202.8" width="1" height="1" fill="#000"/>
<rect x="49.2" y="197.9" width="1" height="1" fill="#000"/>
<rect x="49.2" y="193.1" width="1" height="1" fill="#000"/>
<rect x="49.2" y="188.3" width="1" height="1" fill="#000"/>
<rect x="49.2" y="183.5" width="1" height="1" fill="#000"/>
<rect x="49.2" y="178.7" width="1" height="1" fill="#000"/>
<rect x="49.2" y="173.8" width="1" height="1" fill="#000"/>
<rect x="49.2" y="169.0" width="1" height="1" fill="#000"/>
<rect x="49.2" y="164.2" width="1" height="1" fill="#000"/>
<rect x="49.2" y="159.4" width="1" height="1" fill="#000"/>
<rect x="49.2" y="154.6" width="1" height="1" fill="#000"/>
<rect x="49.2" y="149.7" width="1" height="1" fill="#000"/>
<rect x="49.2" y="144.9" width="1" height="1" fill="#000"/>
<rect x="49.2" y="140.1" width="1" height="1" fill="#000"/>
<rect x="49.2" y="135.3" width="1" height="1" fill="#000"/>
<rect x="49.2" y="130.5" width="1" height="1" fill="#000"/>
<rect x="49.2" y="125.6" width="1" height="1" fill="#000"/>
<rect x="49.2" y="120.8" width="1" height="1" fill="#000"/>
<rect x="49.2" y="116.0" width="1" height="1" fill="#000"/>
<rect x="49.2" y="111.2" width="1" height="1" fill="#000"/>
<rect x="49.2" y="106.4" width="1" height="1" fill="#000"/>
<rect x="49.2" y="101.5" width="1" height="1" fill="#000"/>
<rect x="49.2" y="96.7" width="1" height="1" fill="#000"/>
<rect x="49.2" y="91.9" width="1" height="1" fill="#000"/>
<rect x="49.2" y="87.1" width="1" height="1" fill="#000"/>
<rect x="49.2" y="82.3" width="1" height="1" fill="#000"/>
<rect x="49.2" y="77.4" width="1" height="1" fill="#000"/>
<rect x="49.2" y="72.6" width="1" height="1" fill="#000"/>
<rect x="49.2" y="67.8" width="1" height="1" fill="#000"/>
<rect x="49.2" y="63.0" width="1" height="1" fill="#000"/>
<rect x="49.2" y="58.2" width="1" height="1" fill="#000"/>
<rect x="49.2" y="53.3" width="1" height="1" fill="#000"/>
<rect x="51.2" y="294.8" width="1" height="3" fill="#444"/>
<rect x="60.2" y="294.8" width="1" height="2.2" fill="#444"/>
<rect x="69.3" y="294.8" width="1" height="2.2" fill="#444"/>
<rect x="78.4" y="294.8" width="1" height="2.2" fill="#444"/>
<rect x="87.4" y="294.8" width="1" height="3" fill="#444"/>
<rect x="96.5" y="294.8" width="1" height="2.2" fill="#444"/>
<rect x="105.5" y="294.8" width="1" height="2.2" fill="#444"/>
<rect x="114.6" y="294.8" width="1" height="2.2" fill="#444"/>
<rect x="123.6" y="294.8" width="1" height="3" fill="#444"/>
<rect x="132.7" y="294.8" width="1" height="2.2" fill="#444"/>
<rect x="141.7" y="294.8" width="1" height="2.2" fill="#444"/>
<rect x="150.8" y="294.8" width="1" height="2.2" fill="#444"/>
<rect x="159.8" y="294.8" width="1" height="3" fill="#444"/>
<rect x="168.9" y="294.8" width="1" height="2.2" fill="#444"/>
<rect x="177.9" y="294.8" width="1" height="2.2" fill="#444"/>
<rect x="186.9" y="294.8" width="1" height="2.2" fill="#444"/>
<rect x="196.0" y="294.8" width="1" height="3" fill="#444"/>
<rect x="205.1" y="294.8" width="1" height="2.2" fill="#444"/>
<rect x="214.1" y="294.8" width="1" height="2.2" fill="#444"/>
<rect x="223.2" y="294.8" width="1" height="2.2" fill="#444"/>
<rect x="232.2" y="294.8" width="1" height="3" fill="#444"/>
<rect x="241.2" y="294.8" width="1" height="2.2" fill="#444"/>
<rect x="250.3" y="294.8" width="1" height="2.2" fill="#444"/>
<rect x="259.4" y="294.8" width="1" height="2.2" fill="#444"/>
<rect x="268.4" y="294.8" width="1" height="3" fill="#444"/>
<rect x="277.5" y="294.8" width="1" height="2.2" fill="#444"/>
<rect x="286.5" y="294.8" width="1" height="2.2" fill="#444"/>
<rect x="295.6" y="294.8" width="1" height="2.2" fill="#444"/>
<rect x="304.6" y="294.8" width="1" height="3" fill="#444"/>
<rect x="313.7" y="294.8" width="1" height="2.2" fill="#444"/>
<rect x="322.7" y="294.8" width="1" height="2.2" fill="#444"/>
<rect x="331.8" y="294.8" width="1" height="2.2" fill="#444"/>
<rect x="340.8" y="294.8" width="1" height="3" fill="#444"/>
<text x="51.9" y="310.0" text-anchor="middle" font-family="Liberation Sans, sans-serif" font-size="9.6" fill="#111">-8</text>
<text x="88.1" y="310.0" text-anchor="middle" font-family="Liberation Sans, sans-serif" font-size="9.6" fill="#111">-6</text>
<text x="124.3" y="310.0" text-anchor="middle" font-family="Liberation Sans, sans-serif" font-size="9.6" fill="#111">-4</text>
<text x="160.5" y="310.0" text-anchor="middle" font-family="Liberation Sans, sans-serif" font-size="9.6" fill="#111">-2</text>
<text x="196.7" y="310.0" text-anchor="middle" font-family="Liberation Sans, sans-serif" font-size="9.6" fill="#111">0</text>
<text x="232.9" y="310.0" text-anchor="middle" font-family="Liberation Sans, sans-serif" font-size="9.6" fill="#111">2</text>
<text x="269.1" y="310.0" text-anchor="middle" font-family="Liberation Sans, sans-serif" font-size="9.6" fill="#111">4</text>
<text x="305.3" y="310.0" text-anchor="middle" font-family="Liberation Sans, sans-serif" font-size="9.6" fill="#111">6</text>
<text x="341.5" y="310.0" text-anchor="middle" font-family="Liberation Sans, sans-serif" font-size="9.6" fill="#111">8</text>
<text x="195.6" y="321.6" text-anchor="middle" font-family="Liberation Sans, sans-serif" font-weight="bold" font-size="9.5" fill="#111">[MHz]</text>
<text transform="translate(30.2,171.3) rotate(-90)" text-anchor="middle" font-family="Liberation Sans, sans-serif" font-weight="bold" font-size="9.5" fill="#111">[db]</text>
<clipPath id="c"><rect x="395.0" y="47.2" width="293.0" height="247.10000000000002"/></clipPath>
<rect x="395.0" y="47.2" width="293.0" height="247.10000000000002" fill="#234dcc"/>
<g clip-path="url(#c)">
<path d="M466.5 170.4 l-0.7 14.7" stroke="#1f9c60" stroke-width="2.1" stroke-linecap="round" opacity="0.7"/>
<path d="M565.3 183.7 l-1.2 24.4" stroke="#1a9470" stroke-width="2.0" stroke-linecap="round" opacity="0.7"/>
<path d="M465.5 268.4 l-0.8 16.5" stroke="#1b8c90" stroke-width="2.4" stroke-linecap="round" opacity="0.7"/>
<path d="M512.4 239.1 l-0.6 12.2" stroke="#1a9470" stroke-width="1.6" stroke-linecap="round" opacity="0.7"/>
<path d="M510.3 55.5 l-1.1 22.0" stroke="#1a9470" stroke-width="1.6" stroke-linecap="round" opacity="0.7"/>
<path d="M410.3 221.6 l-1.1 22.8" stroke="#1a9470" stroke-width="1.7" stroke-linecap="round" opacity="0.7"/>
<path d="M605.0 243.0 l-1.0 20.9" stroke="#1b8c90" stroke-width="2.5" stroke-linecap="round" opacity="0.7"/>
<path d="M607.7 177.4 l-1.3 25.4" stroke="#1a80a8" stroke-width="1.6" stroke-linecap="round" opacity="0.7"/>
<path d="M426.1 81.7 l-0.6 11.9" stroke="#1b8c90" stroke-width="2.6" stroke-linecap="round" opacity="0.7"/>
<path d="M622.3 237.9 l-0.8 15.6" stroke="#1a9470" stroke-width="2.4" stroke-linecap="round" opacity="0.7"/>
<path d="M499.1 179.2 l-0.9 18.5" stroke="#1f9c60" stroke-width="2.5" stroke-linecap="round" opacity="0.7"/>
<path d="M661.7 58.4 l-0.7 13.0" stroke="#1f9c60" stroke-width="2.1" stroke-linecap="round" opacity="0.7"/>
<path d="M445.0 239.0 l-1.3 25.4" stroke="#1a9470" stroke-width="2.5" stroke-linecap="round" opacity="0.7"/>
<path d="M428.0 194.5 l-1.0 19.4" stroke="#1a80a8" stroke-width="2.6" stroke-linecap="round" opacity="0.7"/>
<path d="M480.1 66.0 l-1.2 23.4" stroke="#1d70b8" stroke-width="2.6" stroke-linecap="round" opacity="0.7"/>
<path d="M497.1 66.7 l-1.2 24.1" stroke="#1b8c90" stroke-width="1.4" stroke-linecap="round" opacity="0.7"/>
<path d="M619.4 241.7 l-0.4 8.8" stroke="#1d70b8" stroke-width="2.1" stroke-linecap="round" opacity="0.7"/>
<path d="M506.8 179.5 l-0.9 17.9" stroke="#1a80a8" stroke-width="2.5" stroke-linecap="round" opacity="0.7"/>
<path d="M543.6 269.0 l-0.7 13.6" stroke="#1a9470" stroke-width="1.5" stroke-linecap="round" opacity="0.7"/>
<path d="M552.2 258.2 l-1.3 25.5" stroke="#1a80a8" stroke-width="1.7" stroke-linecap="round" opacity="0.7"/>
<path d="M443.0 61.4 l-1.2 23.6" stroke="#1a80a8" stroke-width="1.8" stroke-linecap="round" opacity="0.7"/>
<path d="M656.2 134.2 l-0.8 16.3" stroke="#1f9c60" stroke-width="2.0" stroke-linecap="round" opacity="0.7"/>
<path d="M647.6 200.0 l-0.5 9.8" stroke="#1a9470" stroke-width="2.6" stroke-linecap="round" opacity="0.7"/>
<path d="M476.1 189.9 l-1.0 20.9" stroke="#1b8c90" stroke-width="2.5" stroke-linecap="round" opacity="0.7"/>
<path d="M679.6 165.3 l-0.9 17.9" stroke="#1b8c90" stroke-width="1.4" stroke-linecap="round" opacity="0.7"/>
<path d="M682.4 120.6 l-0.7 14.8" stroke="#1a80a8" stroke-width="2.1" stroke-linecap="round" opacity="0.7"/>
<path d="M415.3 188.4 l-0.8 16.4" stroke="#1a80a8" stroke-width="2.2" stroke-linecap="round" opacity="0.7"/>
<path d="M573.4 112.8 l-0.8 16.8" stroke="#1f9c60" stroke-width="2.1" stroke-linecap="round" opacity="0.7"/>
<path d="M404.1 132.3 l-1.0 19.3" stroke="#1a9470" stroke-width="1.8" stroke-linecap="round" opacity="0.7"/>
<path d="M490.2 131.2 l-0.7 13.6" stroke="#1a9470" stroke-width="1.8" stroke-linecap="round" opacity="0.7"/>
<path d="M474.1 223.1 l-0.5 9.9" stroke="#1a9470" stroke-width="2.4" stroke-linecap="round" opacity="0.7"/>
<path d="M594.9 80.7 l-0.9 17.0" stroke="#1a80a8" stroke-width="2.2" stroke-linecap="round" opacity="0.7"/>
<path d="M466.7 92.9 l-0.8 15.8" stroke="#1d70b8" stroke-width="2.2" stroke-linecap="round" opacity="0.7"/>
<path d="M571.0 258.3 l-1.0 20.1" stroke="#1a80a8" stroke-width="1.7" stroke-linecap="round" opacity="0.7"/>
<path d="M421.0 213.3 l-0.6 11.9" stroke="#1a80a8" stroke-width="2.1" stroke-linecap="round" opacity="0.7"/>
<path d="M462.8 78.5 l-0.9 17.5" stroke="#1a9470" stroke-width="1.6" stroke-linecap="round" opacity="0.7"/>
<path d="M450.9 112.7 l-1.1 22.5" stroke="#1a9470" stroke-width="2.2" stroke-linecap="round" opacity="0.7"/>
<path d="M497.4 80.4 l-0.7 13.3" stroke="#1a80a8" stroke-width="2.4" stroke-linecap="round" opacity="0.7"/>
<path d="M531.8 189.9 l-0.7 13.2" stroke="#1d70b8" stroke-width="2.1" stroke-linecap="round" opacity="0.7"/>
<path d="M663.1 86.1 l-0.4 8.1" stroke="#1a9470" stroke-width="2.5" stroke-linecap="round" opacity="0.7"/>
<path d="M682.2 146.5 l-1.3 25.1" stroke="#1a80a8" stroke-width="2.5" stroke-linecap="round" opacity="0.7"/>
<path d="M407.3 151.3 l-1.1 21.6" stroke="#1a80a8" stroke-width="2.3" stroke-linecap="round" opacity="0.7"/>
<path d="M554.6 245.4 l-1.2 23.5" stroke="#1a80a8" stroke-width="2.4" stroke-linecap="round" opacity="0.7"/>
<path d="M432.6 105.3 l-0.4 8.6" stroke="#1a9470" stroke-width="2.4" stroke-linecap="round" opacity="0.7"/>
<path d="M664.1 246.8 l-1.2 24.2" stroke="#1d70b8" stroke-width="2.1" stroke-linecap="round" opacity="0.7"/>
<path d="M536.5 78.4 l-0.9 17.1" stroke="#1d70b8" stroke-width="1.7" stroke-linecap="round" opacity="0.7"/>
<path d="M549.2 142.0 l-1.2 24.9" stroke="#1a80a8" stroke-width="2.1" stroke-linecap="round" opacity="0.7"/>
<path d="M434.1 263.2 l-0.9 17.7" stroke="#1d70b8" stroke-width="2.4" stroke-linecap="round" opacity="0.7"/>
<path d="M499.3 95.0 l-0.9 17.6" stroke="#1a80a8" stroke-width="2.4" stroke-linecap="round" opacity="0.7"/>
<path d="M467.0 111.6 l-1.2 24.0" stroke="#1d70b8" stroke-width="1.6" stroke-linecap="round" opacity="0.7"/>
<path d="M538.4 176.1 l-0.8 15.2" stroke="#1a80a8" stroke-width="2.3" stroke-linecap="round" opacity="0.7"/>
<path d="M475.4 166.7 l-0.8 15.6" stroke="#1d70b8" stroke-width="2.0" stroke-linecap="round" opacity="0.7"/>
<path d="M644.8 220.5 l-0.4 8.8" stroke="#1b8c90" stroke-width="1.5" stroke-linecap="round" opacity="0.7"/>
<path d="M678.7 237.7 l-0.5 9.6" stroke="#1a80a8" stroke-width="2.0" stroke-linecap="round" opacity="0.7"/>
<path d="M443.2 67.8 l-0.7 14.9" stroke="#1a80a8" stroke-width="1.9" stroke-linecap="round" opacity="0.7"/>
<path d="M501.9 93.7 l-0.7 13.9" stroke="#1a9470" stroke-width="1.5" stroke-linecap="round" opacity="0.7"/>
<path d="M399.0 209.2 l-1.1 22.3" stroke="#1d70b8" stroke-width="2.1" stroke-linecap="round" opacity="0.7"/>
<path d="M505.5 183.4 l-1.1 22.1" stroke="#1d70b8" stroke-width="1.9" stroke-linecap="round" opacity="0.7"/>
<path d="M577.4 145.9 l-0.7 14.7" stroke="#1f9c60" stroke-width="2.0" stroke-linecap="round" opacity="0.7"/>
<path d="M488.7 258.5 l-0.8 15.5" stroke="#1a80a8" stroke-width="1.4" stroke-linecap="round" opacity="0.7"/>
<path d="M552.3 203.1 l-0.5 9.3" stroke="#1b8c90" stroke-width="1.9" stroke-linecap="round" opacity="0.7"/>
<path d="M435.5 58.3 l-0.7 13.9" stroke="#1a9470" stroke-width="2.6" stroke-linecap="round" opacity="0.7"/>
<path d="M625.8 109.1 l-0.8 16.4" stroke="#1f9c60" stroke-width="1.5" stroke-linecap="round" opacity="0.7"/>
<path d="M588.7 244.8 l-1.1 22.3" stroke="#1f9c60" stroke-width="2.2" stroke-linecap="round" opacity="0.7"/>
<path d="M489.7 167.7 l-1.1 22.6" stroke="#1b8c90" stroke-width="2.3" stroke-linecap="round" opacity="0.7"/>
<path d="M439.3 220.3 l-0.4 8.8" stroke="#1d70b8" stroke-width="1.5" stroke-linecap="round" opacity="0.7"/>
<path d="M587.9 133.8 l-1.1 22.8" stroke="#1d70b8" stroke-width="1.8" stroke-linecap="round" opacity="0.7"/>
<path d="M405.3 77.2 l-0.8 16.7" stroke="#1a80a8" stroke-width="2.2" stroke-linecap="round" opacity="0.7"/>
<path d="M564.8 225.6 l-0.4 8.7" stroke="#1a9470" stroke-width="2.3" stroke-linecap="round" opacity="0.7"/>
<path d="M550.4 103.9 l-0.9 18.0" stroke="#1a9470" stroke-width="1.5" stroke-linecap="round" opacity="0.7"/>
<path d="M418.3 147.6 l-0.8 15.9" stroke="#1f9c60" stroke-width="2.6" stroke-linecap="round" opacity="0.75"/>
<path d="M683.5 174.9 l-0.7 14.4" stroke="#22a050" stroke-width="2.4" stroke-linecap="round" opacity="0.75"/>
<path d="M472.6 171.0 l-1.1 21.1" stroke="#1a9470" stroke-width="2.3" stroke-linecap="round" opacity="0.75"/>
<path d="M507.2 140.0 l-1.1 21.0" stroke="#1f9c60" stroke-width="2.6" stroke-linecap="round" opacity="0.75"/>
<path d="M518.5 168.3 l-0.8 16.1" stroke="#22a050" stroke-width="2.7" stroke-linecap="round" opacity="0.75"/>
<path d="M445.2 154.1 l-1.0 20.4" stroke="#22a050" stroke-width="1.8" stroke-linecap="round" opacity="0.75"/>
<path d="M612.7 197.9 l-0.8 15.2" stroke="#1f9c60" stroke-width="2.1" stroke-linecap="round" opacity="0.75"/>
<path d="M439.6 183.9 l-0.5 10.1" stroke="#1f9c60" stroke-width="2.2" stroke-linecap="round" opacity="0.75"/>
<path d="M642.0 165.7 l-0.9 18.9" stroke="#22a050" stroke-width="2.4" stroke-linecap="round" opacity="0.75"/>
<path d="M569.4 169.7 l-1.1 21.8" stroke="#1b8c90" stroke-width="2.7" stroke-linecap="round" opacity="0.75"/>
<path d="M407.5 160.8 l-0.7 13.4" stroke="#1b8c90" stroke-width="1.8" stroke-linecap="round" opacity="0.75"/>
<path d="M468.6 161.0 l-1.0 20.1" stroke="#22a050" stroke-width="2.1" stroke-linecap="round" opacity="0.75"/>
<path d="M599.5 137.5 l-0.8 16.1" stroke="#1a9470" stroke-width="2.7" stroke-linecap="round" opacity="0.75"/>
<path d="M537.2 181.3 l-1.0 20.0" stroke="#1a9470" stroke-width="2.1" stroke-linecap="round" opacity="0.75"/>
<path d="M533.3 139.5 l-0.6 11.3" stroke="#1a9470" stroke-width="2.5" stroke-linecap="round" opacity="0.75"/>
<path d="M672.3 192.6 l-0.6 11.4" stroke="#1b8c90" stroke-width="1.8" stroke-linecap="round" opacity="0.75"/>
<path d="M439.9 172.9 l-0.9 17.5" stroke="#1b8c90" stroke-width="1.6" stroke-linecap="round" opacity="0.75"/>
<path d="M449.0 123.8 l-0.5 10.6" stroke="#1a9470" stroke-width="1.7" stroke-linecap="round" opacity="0.75"/>
<path d="M434.4 142.5 l-1.0 20.8" stroke="#22a050" stroke-width="1.6" stroke-linecap="round" opacity="0.75"/>
<path d="M565.2 177.4 l-0.4 8.1" stroke="#22a050" stroke-width="2.0" stroke-linecap="round" opacity="0.75"/>
<path d="M508.4 126.6 l-0.9 17.0" stroke="#22a050" stroke-width="2.5" stroke-linecap="round" opacity="0.75"/>
<path d="M511.6 166.3 l-0.5 9.7" stroke="#22a050" stroke-width="1.9" stroke-linecap="round" opacity="0.75"/>
<path d="M432.8 195.4 l-1.0 20.7" stroke="#1b8c90" stroke-width="1.7" stroke-linecap="round" opacity="0.75"/>
<path d="M593.0 151.3 l-0.7 14.3" stroke="#1b8c90" stroke-width="2.4" stroke-linecap="round" opacity="0.75"/>
<path d="M431.3 200.3 l-0.6 12.7" stroke="#1a9470" stroke-width="2.3" stroke-linecap="round" opacity="0.75"/>
<path d="M589.7 163.2 l-0.4 8.8" stroke="#1f9c60" stroke-width="2.0" stroke-linecap="round" opacity="0.75"/>
<path d="M583.8 182.1 l-0.5 10.1" stroke="#22a050" stroke-width="2.0" stroke-linecap="round" opacity="0.75"/>
<path d="M435.8 199.2 l-0.5 10.0" stroke="#22a050" stroke-width="2.0" stroke-linecap="round" opacity="0.75"/>
<g filter="url(#b)">
<polygon points="419.0,43.7 418.0,45.2 417.6,47.7 417.1,50.2 416.7,52.7 416.7,55.2 416.5,57.7 416.1,60.2 415.9,62.7 415.6,65.2 415.6,67.7 415.1,70.2 414.7,72.7 414.5,75.2 414.4,77.7 414.4,80.2 413.8,82.7 413.5,85.2 413.3,87.7 413.3,90.2 413.2,92.7 412.8,95.2 412.6,97.7 412.3,100.2 412.2,102.7 411.9,105.2 411.6,107.7 411.5,110.2 411.4,112.7 411.2,115.2 410.6,117.7 410.4,120.2 410.4,122.7 410.4,125.2 410.2,127.7 409.7,130.2 409.5,132.7 409.4,135.2 409.4,137.7 409.1,140.2 408.8,142.7 408.7,145.2 408.5,147.7 408.2,150.2 407.9,152.7 407.8,155.2 407.9,157.7 407.6,160.2 407.1,162.7 406.7,165.2 406.7,167.7 406.6,170.2 406.4,172.7 406.0,175.2 405.7,177.7 405.7,180.2 405.4,182.7 405.2,185.2 404.9,187.7 404.8,190.2 404.8,192.7 404.3,195.2 403.9,197.7 403.6,200.2 403.6,202.7 403.5,205.2 403.0,207.7 402.6,210.2 402.3,212.7 402.3,215.2 402.0,217.7 401.7,220.2 401.5,222.7 401.3,225.2 401.2,227.7 400.8,230.2 400.6,232.7 400.5,235.2 400.6,237.7 400.3,240.2 399.7,242.7 399.4,245.2 399.3,247.7 399.4,250.2 399.0,252.7 398.5,255.2 398.3,257.7 398.1,260.2 398.0,262.7 397.6,265.2 397.3,267.7 397.2,270.2 397.0,272.7 396.7,275.2 396.3,277.7 396.2,280.2 396.2,282.7 396.2,285.2 395.7,287.7 395.3,290.2 395.2,292.7 395.2,295.2 396.5,296.7 396.6,296.7 398.1,295.2 398.5,292.7 398.9,290.2 398.9,287.7 398.9,285.2 399.4,282.7 399.8,280.2 400.2,277.7 400.2,275.2 400.4,272.7 400.7,270.2 401.0,267.7 401.3,265.2 401.3,262.7 401.7,260.2 401.9,257.7 402.2,255.2 402.1,252.7 402.2,250.2 402.8,247.7 403.1,245.2 403.4,242.7 403.2,240.2 403.4,237.7 404.0,235.2 404.4,232.7 404.7,230.2 404.8,227.7 405.2,225.2 405.5,222.7 405.8,220.2 406.0,217.7 406.2,215.2 406.7,212.7 406.9,210.2 407.0,207.7 407.0,205.2 407.3,202.7 407.8,200.2 408.0,197.7 408.1,195.2 408.1,192.7 408.6,190.2 409.0,187.7 409.2,185.2 409.4,182.7 409.7,180.2 410.0,177.7 410.1,175.2 410.2,172.7 410.4,170.2 410.7,167.7 411.1,165.2 411.1,162.7 411.1,160.2 411.2,157.7 411.6,155.2 412.0,152.7 412.0,150.2 412.1,147.7 412.3,145.2 412.7,142.7 412.8,140.2 412.9,137.7 413.2,135.2 413.5,132.7 413.8,130.2 413.7,127.7 413.9,125.2 414.3,122.7 414.6,120.2 414.8,117.7 414.7,115.2 414.9,112.7 415.2,110.2 415.6,107.7 415.7,105.2 415.8,102.7 416.2,100.2 416.4,97.7 416.6,95.2 416.6,92.7 416.9,90.2 417.4,87.7 417.6,85.2 417.7,82.7 417.6,80.2 418.0,77.7 418.4,75.2 418.6,72.7 418.7,70.2 418.6,67.7 419.0,65.2 419.2,62.7 419.4,60.2 419.5,57.7 419.7,55.2 420.1,52.7 420.1,50.2 420.2,47.7 420.1,45.2 419.1,43.7" fill="#1d6cbc"/>
<polygon points="419.0,43.7 418.5,45.2 418.0,47.7 417.5,50.2 417.1,52.7 417.1,55.2 416.9,57.7 416.5,60.2 416.3,62.7 416.0,65.2 416.0,67.7 415.4,70.2 415.0,72.7 414.8,75.2 414.8,77.7 414.8,80.2 414.2,82.7 413.8,85.2 413.6,87.7 413.7,90.2 413.6,92.7 413.1,95.2 412.9,97.7 412.7,100.2 412.6,102.7 412.2,105.2 411.9,107.7 411.9,110.2 411.7,112.7 411.5,115.2 411.0,117.7 410.8,120.2 410.8,122.7 410.8,125.2 410.5,127.7 410.0,130.2 409.9,132.7 409.8,135.2 409.7,137.7 409.4,140.2 409.1,142.7 409.1,145.2 408.8,147.7 408.6,150.2 408.2,152.7 408.1,155.2 408.2,157.7 407.9,160.2 407.5,162.7 407.0,165.2 407.0,167.7 406.9,170.2 406.7,172.7 406.4,175.2 406.1,177.7 406.0,180.2 405.8,182.7 405.5,185.2 405.2,187.7 405.2,190.2 405.2,192.7 404.6,195.2 404.3,197.7 403.9,200.2 404.0,202.7 403.9,205.2 403.3,207.7 402.9,210.2 402.6,212.7 402.6,215.2 402.3,217.7 402.1,220.2 401.8,222.7 401.6,225.2 401.6,227.7 401.1,230.2 400.9,232.7 400.9,235.2 401.0,237.7 400.7,240.2 400.0,242.7 399.8,245.2 399.6,247.7 399.8,250.2 399.4,252.7 398.9,255.2 398.6,257.7 398.4,260.2 398.4,262.7 397.9,265.2 397.7,267.7 397.6,270.2 397.4,272.7 397.1,275.2 396.6,277.7 396.6,280.2 396.6,282.7 396.6,285.2 396.1,287.7 395.6,290.2 395.6,292.7 395.6,295.2 396.5,296.7 396.6,296.7 397.7,295.2 398.1,292.7 398.5,290.2 398.5,287.7 398.5,285.2 399.0,282.7 399.4,280.2 399.9,277.7 399.9,275.2 400.0,272.7 400.3,270.2 400.6,267.7 400.9,265.2 400.9,262.7 401.3,260.2 401.6,257.7 401.8,255.2 401.7,252.7 401.8,250.2 402.4,247.7 402.8,245.2 403.0,242.7 402.8,240.2 403.0,237.7 403.7,235.2 404.1,232.7 404.4,230.2 404.4,227.7 404.9,225.2 405.2,222.7 405.4,220.2 405.6,217.7 405.9,215.2 406.4,212.7 406.5,210.2 406.6,207.7 406.6,205.2 407.0,202.7 407.5,200.2 407.7,197.7 407.8,195.2 407.7,192.7 408.2,190.2 408.6,187.7 408.8,185.2 409.1,182.7 409.3,180.2 409.7,177.7 409.8,175.2 409.9,172.7 410.1,170.2 410.4,167.7 410.8,165.2 410.7,162.7 410.7,160.2 410.8,157.7 411.3,155.2 411.6,152.7 411.6,150.2 411.8,147.7 411.9,145.2 412.3,142.7 412.4,140.2 412.5,137.7 412.9,135.2 413.2,132.7 413.5,130.2 413.3,127.7 413.5,125.2 413.9,122.7 414.3,120.2 414.5,117.7 414.4,115.2 414.5,112.7 414.8,110.2 415.2,107.7 415.4,105.2 415.4,102.7 415.8,100.2 416.0,97.7 416.2,95.2 416.2,92.7 416.6,90.2 417.0,87.7 417.3,85.2 417.4,82.7 417.2,80.2 417.6,77.7 418.0,75.2 418.3,72.7 418.3,70.2 418.2,67.7 418.6,65.2 418.8,62.7 419.0,60.2 419.0,57.7 419.3,55.2 419.7,52.7 419.7,50.2 419.7,47.7 419.7,45.2 419.1,43.7" fill="#198c90"/>
<polygon points="418.9,46.2 418.4,47.7 417.9,50.2 417.4,52.7 417.4,55.2 417.2,57.7 416.8,60.2 416.5,62.7 416.3,65.2 416.3,67.7 415.7,70.2 415.3,72.7 415.1,75.2 415.1,77.7 415.1,80.2 414.4,82.7 414.1,85.2 413.9,87.7 414.0,90.2 413.9,92.7 413.4,95.2 413.2,97.7 412.9,100.2 412.9,102.7 412.5,105.2 412.2,107.7 412.2,110.2 412.0,112.7 411.8,115.2 411.2,117.7 411.0,120.2 411.0,122.7 411.1,125.2 410.8,127.7 410.2,130.2 410.1,132.7 410.0,135.2 410.0,137.7 409.7,140.2 409.4,142.7 409.4,145.2 409.1,147.7 408.9,150.2 408.4,152.7 408.4,155.2 408.5,157.7 408.2,160.2 407.7,162.7 407.3,165.2 407.2,167.7 407.2,170.2 407.0,172.7 406.6,175.2 406.3,177.7 406.3,180.2 406.0,182.7 405.8,185.2 405.5,187.7 405.4,190.2 405.4,192.7 404.9,195.2 404.5,197.7 404.2,200.2 404.2,202.7 404.1,205.2 403.6,207.7 403.2,210.2 402.8,212.7 402.9,215.2 402.6,217.7 402.3,220.2 402.1,222.7 401.9,225.2 401.9,227.7 401.4,230.2 401.2,232.7 401.1,235.2 401.3,237.7 401.0,240.2 400.3,242.7 400.0,245.2 399.9,247.7 400.1,250.2 399.7,252.7 399.1,255.2 398.9,257.7 398.7,260.2 398.6,262.7 398.2,265.2 398.0,267.7 397.9,270.2 397.7,272.7 397.4,275.2 396.9,277.7 396.9,280.2 396.9,282.7 396.9,285.2 396.4,287.7 395.9,290.2 395.9,292.7 395.9,295.2 396.5,296.7 396.6,296.7 397.3,295.2 397.8,292.7 398.3,290.2 398.3,287.7 398.2,285.2 398.7,282.7 399.2,280.2 399.6,277.7 399.6,275.2 399.7,272.7 400.0,270.2 400.4,267.7 400.6,265.2 400.6,262.7 401.0,260.2 401.3,257.7 401.5,255.2 401.4,252.7 401.5,250.2 402.1,247.7 402.5,245.2 402.7,242.7 402.5,240.2 402.7,237.7 403.4,235.2 403.8,232.7 404.1,230.2 404.1,227.7 404.6,225.2 404.9,222.7 405.2,220.2 405.4,217.7 405.6,215.2 406.1,212.7 406.3,210.2 406.4,207.7 406.3,205.2 406.7,202.7 407.2,200.2 407.4,197.7 407.5,195.2 407.5,192.7 408.0,190.2 408.4,187.7 408.6,185.2 408.8,182.7 409.1,180.2 409.5,177.7 409.5,175.2 409.6,172.7 409.8,170.2 410.2,167.7 410.5,165.2 410.5,162.7 410.4,160.2 410.5,157.7 411.0,155.2 411.4,152.7 411.4,150.2 411.5,147.7 411.6,145.2 412.1,142.7 412.1,140.2 412.2,137.7 412.6,135.2 412.9,132.7 413.2,130.2 413.1,127.7 413.2,125.2 413.6,122.7 414.1,120.2 414.3,117.7 414.1,115.2 414.3,112.7 414.6,110.2 415.0,107.7 415.1,105.2 415.1,102.7 415.5,100.2 415.7,97.7 416.0,95.2 415.9,92.7 416.3,90.2 416.8,87.7 417.0,85.2 417.1,82.7 416.9,80.2 417.3,77.7 417.8,75.2 418.0,72.7 418.1,70.2 417.9,67.7 418.4,65.2 418.5,62.7 418.7,60.2 418.7,57.7 419.0,55.2 419.4,52.7 419.4,50.2 419.3,47.7 419.0,46.2" fill="#1aa850"/>
<polygon points="418.7,48.7 418.2,50.2 417.7,52.7 417.7,55.2 417.6,57.7 417.1,60.2 416.8,62.7 416.5,65.2 416.6,67.7 415.9,70.2 415.5,72.7 415.3,75.2 415.4,77.7 415.4,80.2 414.7,82.7 414.3,85.2 414.1,87.7 414.2,90.2 414.1,92.7 413.6,95.2 413.4,97.7 413.2,100.2 413.1,102.7 412.7,105.2 412.4,107.7 412.4,110.2 412.3,112.7 412.0,115.2 411.4,117.7 411.2,120.2 411.3,122.7 411.3,125.2 411.1,127.7 410.5,130.2 410.4,132.7 410.3,135.2 410.3,137.7 409.9,140.2 409.6,142.7 409.7,145.2 409.4,147.7 409.1,150.2 408.7,152.7 408.6,155.2 408.8,157.7 408.5,160.2 408.0,162.7 407.5,165.2 407.5,167.7 407.4,170.2 407.2,172.7 406.9,175.2 406.5,177.7 406.5,180.2 406.3,182.7 406.0,185.2 405.7,187.7 405.7,190.2 405.7,192.7 405.1,195.2 404.7,197.7 404.4,200.2 404.5,202.7 404.4,205.2 403.8,207.7 403.4,210.2 403.1,212.7 403.1,215.2 402.8,217.7 402.5,220.2 402.3,222.7 402.1,225.2 402.1,227.7 401.6,230.2 401.4,232.7 401.4,235.2 401.7,237.7 401.4,240.2 400.6,242.7 400.3,245.2 400.2,247.7 400.6,250.2 400.0,252.7 399.4,255.2 399.2,257.7 399.0,260.2 398.9,262.7 398.4,265.2 398.2,267.7 398.1,270.2 398.0,272.7 397.6,275.2 397.1,277.7 397.1,280.2 397.2,282.7 397.6,284.2 397.7,284.2 398.4,282.7 398.9,280.2 399.4,277.7 399.3,275.2 399.4,272.7 399.7,270.2 400.1,267.7 400.4,265.2 400.4,262.7 400.8,260.2 401.0,257.7 401.3,255.2 401.1,252.7 401.0,250.2 401.9,247.7 402.3,245.2 402.5,242.7 402.1,240.2 402.3,237.7 403.1,235.2 403.6,232.7 403.9,230.2 403.9,227.7 404.4,225.2 404.7,222.7 404.9,220.2 405.1,217.7 405.4,215.2 405.9,212.7 406.1,210.2 406.1,207.7 406.0,205.2 406.4,202.7 407.0,200.2 407.2,197.7 407.3,195.2 407.2,192.7 407.7,190.2 408.1,187.7 408.4,185.2 408.6,182.7 408.8,180.2 409.2,177.7 409.3,175.2 409.4,172.7 409.5,170.2 409.9,167.7 410.3,165.2 410.2,162.7 410.1,160.2 410.2,157.7 410.8,155.2 411.1,152.7 411.1,150.2 411.3,147.7 411.4,145.2 411.8,142.7 411.9,140.2 412.0,137.7 412.4,135.2 412.7,132.7 413.0,130.2 412.8,127.7 412.9,125.2 413.4,122.7 413.8,120.2 414.1,117.7 413.8,115.2 414.0,112.7 414.3,110.2 414.7,107.7 414.9,105.2 414.9,102.7 415.3,100.2 415.5,97.7 415.7,95.2 415.6,92.7 416.0,90.2 416.6,87.7 416.8,85.2 416.9,82.7 416.6,80.2 417.1,77.7 417.5,75.2 417.8,72.7 417.8,70.2 417.6,67.7 418.1,65.2 418.3,62.7 418.4,60.2 418.4,57.7 418.7,55.2 419.2,52.7 419.1,50.2 418.8,48.7" fill="#3cc020"/>
<polygon points="397.4,286.2 396.7,287.7 396.2,290.2 396.2,292.7 396.3,295.2 396.5,296.7 396.6,296.7 397.0,295.2 397.5,292.7 398.0,290.2 398.0,287.7 397.5,286.2" fill="#3cc020"/>
<polygon points="418.4,51.2 417.9,52.7 418.1,54.2 418.4,54.2 418.9,52.7 418.7,51.2" fill="#8cd818"/>
<polygon points="417.8,58.7 417.4,60.2 417.1,62.7 416.8,65.2 417.1,66.7 417.2,66.7 417.8,65.2 418.0,62.7 418.1,60.2 417.9,58.7" fill="#8cd818"/>
<polygon points="417.0,68.7 416.2,70.2 415.7,72.7 415.5,75.2 415.6,77.7 415.8,80.2 414.9,82.7 414.5,85.2 414.3,87.7 414.4,90.2 414.4,92.7 413.8,95.2 413.6,97.7 413.4,100.2 413.4,102.7 412.9,105.2 412.6,107.7 412.6,110.2 412.5,112.7 412.3,115.2 411.6,117.7 411.4,120.2 411.5,122.7 411.6,125.2 411.3,127.7 410.7,130.2 410.6,132.7 410.5,135.2 410.5,137.7 410.2,140.2 409.8,142.7 409.9,145.2 409.6,147.7 409.3,150.2 408.9,152.7 408.8,155.2 409.1,157.7 408.7,160.2 408.2,162.7 407.7,165.2 407.7,167.7 407.6,170.2 407.4,172.7 407.1,175.2 406.7,177.7 406.7,180.2 406.5,182.7 406.2,185.2 405.9,187.7 405.9,190.2 406.0,192.7 405.3,195.2 404.9,197.7 404.6,200.2 404.7,202.7 404.6,205.2 404.0,207.7 403.6,210.2 403.2,212.7 403.3,215.2 403.0,217.7 402.7,220.2 402.5,222.7 402.3,225.2 402.3,227.7 401.8,230.2 401.7,232.7 401.6,235.2 402.1,236.7 402.2,236.7 402.9,235.2 403.4,232.7 403.7,230.2 403.7,227.7 404.2,225.2 404.5,222.7 404.7,220.2 404.9,217.7 405.2,215.2 405.7,212.7 405.9,210.2 405.9,207.7 405.8,205.2 406.2,202.7 406.8,200.2 407.0,197.7 407.1,195.2 406.9,192.7 407.5,190.2 408.0,187.7 408.2,185.2 408.4,182.7 408.6,180.2 409.1,177.7 409.1,175.2 409.1,172.7 409.3,170.2 409.7,167.7 410.1,165.2 410.0,162.7 409.9,160.2 409.9,157.7 410.6,155.2 410.9,152.7 410.9,150.2 411.0,147.7 411.1,145.2 411.6,142.7 411.7,140.2 411.7,137.7 412.2,135.2 412.5,132.7 412.8,130.2 412.6,127.7 412.7,125.2 413.2,122.7 413.6,120.2 413.9,117.7 413.6,115.2 413.8,112.7 414.1,110.2 414.5,107.7 414.7,105.2 414.7,102.7 415.1,100.2 415.3,97.7 415.5,95.2 415.4,92.7 415.8,90.2 416.4,87.7 416.6,85.2 416.7,82.7 416.2,80.2 416.8,77.7 417.3,75.2 417.6,72.7 417.6,70.2 417.1,68.7" fill="#8cd818"/>
<polygon points="401.6,241.2 400.8,242.7 400.5,245.2 400.4,247.7 400.8,249.2 400.9,249.2 401.7,247.7 402.0,245.2 402.3,242.7 401.7,241.2" fill="#8cd818"/>
<polygon points="400.7,251.2 400.4,252.7 399.6,255.2 399.4,257.7 399.2,260.2 399.2,262.7 398.6,265.2 398.4,267.7 398.4,270.2 398.2,272.7 397.9,275.2 397.3,277.7 397.3,280.2 397.6,282.7 397.6,284.2 397.7,284.2 398.0,282.7 398.7,280.2 399.2,277.7 399.1,275.2 399.2,272.7 399.5,270.2 399.9,267.7 400.2,265.2 400.1,262.7 400.6,260.2 400.8,257.7 401.0,255.2 400.7,252.7 400.8,251.2" fill="#8cd818"/>
<polygon points="397.4,286.2 397.0,287.7 396.4,290.2 396.5,292.7 396.7,294.2 396.8,294.2 397.2,292.7 397.8,290.2 397.7,287.7 397.5,286.2" fill="#8cd818"/>
<polygon points="417.4,63.7 417.2,65.2 417.2,66.7 417.2,66.7 417.4,65.2 417.5,63.7" fill="#dce81a"/>
<polygon points="417.0,68.7 416.4,70.2 415.9,72.7 415.7,75.2 415.8,77.7 416.0,79.2 416.1,79.2 416.6,77.7 417.1,75.2 417.4,72.7 417.4,70.2 417.1,68.7" fill="#dce81a"/>
<polygon points="415.9,81.2 415.1,82.7 414.7,85.2 414.5,87.7 414.7,90.2 414.9,91.7 415.0,91.7 415.6,90.2 416.2,87.7 416.4,85.2 416.5,82.7 416.0,81.2" fill="#dce81a"/>
<polygon points="414.8,93.7 414.0,95.2 413.8,97.7 413.6,100.2 413.6,102.7 413.1,105.2 412.8,107.7 412.9,110.2 412.8,112.7 412.5,115.2 411.8,117.7 411.6,120.2 411.7,122.7 411.9,125.2 411.5,127.7 410.8,130.2 410.7,132.7 410.7,135.2 410.8,137.7 410.4,140.2 410.0,142.7 410.1,145.2 409.8,147.7 409.5,150.2 409.0,152.7 409.0,155.2 409.5,156.7 409.6,156.7 410.4,155.2 410.8,152.7 410.7,150.2 410.8,147.7 410.9,145.2 411.4,142.7 411.5,140.2 411.5,137.7 412.0,135.2 412.3,132.7 412.6,130.2 412.3,127.7 412.4,125.2 413.0,122.7 413.5,120.2 413.7,117.7 413.4,115.2 413.5,112.7 413.9,110.2 414.4,107.7 414.5,105.2 414.4,102.7 414.9,100.2 415.1,97.7 415.3,95.2 414.9,93.7" fill="#dce81a"/>
<polygon points="409.4,158.7 409.0,160.2 408.4,162.7 407.8,165.2 407.8,167.7 407.8,170.2 407.6,172.7 407.2,175.2 406.9,177.7 406.9,180.2 406.6,182.7 406.4,185.2 406.1,187.7 406.1,190.2 406.5,191.7 406.6,191.7 407.3,190.2 407.8,187.7 408.0,185.2 408.2,182.7 408.4,180.2 408.9,177.7 408.9,175.2 409.0,172.7 409.1,170.2 409.6,167.7 410.0,165.2 409.8,162.7 409.6,160.2 409.5,158.7" fill="#dce81a"/>
<polygon points="406.3,193.7 405.5,195.2 405.1,197.7 404.8,200.2 404.9,202.7 404.9,205.2 404.2,207.7 403.7,210.2 403.4,212.7 403.5,215.2 403.2,217.7 402.9,220.2 402.7,222.7 402.5,225.2 402.6,227.7 402.0,230.2 401.8,232.7 401.9,235.2 402.1,236.7 402.2,236.7 402.6,235.2 403.2,232.7 403.5,230.2 403.4,227.7 404.0,225.2 404.3,222.7 404.6,220.2 404.7,217.7 405.0,215.2 405.6,212.7 405.7,210.2 405.8,207.7 405.5,205.2 406.0,202.7 406.6,200.2 406.8,197.7 406.9,195.2 406.4,193.7" fill="#dce81a"/>
<polygon points="401.6,241.2 401.0,242.7 400.7,245.2 400.7,247.7 400.8,249.2 400.9,249.2 401.4,247.7 401.8,245.2 402.1,242.7 401.7,241.2" fill="#dce81a"/>
<polygon points="400.4,253.7 399.8,255.2 399.6,257.7 399.4,260.2 399.7,261.7 399.8,261.7 400.3,260.2 400.6,257.7 400.8,255.2 400.5,253.7" fill="#dce81a"/>
<polygon points="399.5,263.7 398.9,265.2 398.7,267.7 398.7,270.2 398.7,271.7 398.8,271.7 399.2,270.2 399.7,267.7 399.9,265.2 399.6,263.7" fill="#dce81a"/>
<polygon points="398.6,273.7 398.1,275.2 397.5,277.7 397.6,280.2 397.8,281.7 397.9,281.7 398.5,280.2 399.0,277.7 398.8,275.2 398.7,273.7" fill="#dce81a"/>
<polygon points="397.1,288.7 396.6,290.2 396.8,291.7 397.1,291.7 397.6,290.2 397.4,288.7" fill="#dce81a"/>
<polygon points="417.0,68.7 416.7,70.2 416.1,72.7 415.9,75.2 416.3,76.7 416.4,76.7 416.9,75.2 417.2,72.7 417.0,70.2 417.1,68.7" fill="#fcd81c"/>
<polygon points="415.9,81.2 415.2,82.7 414.8,85.2 414.6,87.7 415.2,89.2 415.3,89.2 416.0,87.7 416.3,85.2 416.3,82.7 416.0,81.2" fill="#fcd81c"/>
<polygon points="414.8,93.7 414.2,95.2 414.0,97.7 413.8,100.2 414.1,101.7 414.2,101.7 414.7,100.2 414.9,97.7 415.1,95.2 414.9,93.7" fill="#fcd81c"/>
<polygon points="413.9,103.7 413.3,105.2 413.0,107.7 413.1,110.2 413.2,111.7 413.3,111.7 413.6,110.2 414.2,107.7 414.3,105.2 414.0,103.7" fill="#fcd81c"/>
<polygon points="412.8,116.2 411.9,117.7 411.7,120.2 411.8,122.7 412.2,124.2 412.3,124.2 412.8,122.7 413.3,120.2 413.5,117.7 412.9,116.2" fill="#fcd81c"/>
<polygon points="411.8,128.7 411.0,130.2 410.9,132.7 410.9,135.2 411.2,136.7 411.3,136.7 411.8,135.2 412.1,132.7 412.5,130.2 411.9,128.7" fill="#fcd81c"/>
<polygon points="411.0,138.7 410.6,140.2 410.2,142.7 410.5,144.2 410.6,144.2 411.2,142.7 411.2,140.2 411.1,138.7" fill="#fcd81c"/>
<polygon points="410.4,146.2 410.1,147.7 409.8,150.2 409.2,152.7 409.2,155.2 409.5,156.7 409.6,156.7 410.2,155.2 410.6,152.7 410.5,150.2 410.5,147.7 410.5,146.2" fill="#fcd81c"/>
<polygon points="409.2,161.2 408.6,162.7 408.0,165.2 408.0,167.7 408.0,170.2 407.8,172.7 407.4,175.2 407.0,177.7 407.1,180.2 406.8,182.7 406.6,185.2 406.3,187.7 406.3,190.2 406.5,191.7 406.6,191.7 407.1,190.2 407.6,187.7 407.8,185.2 408.1,182.7 408.3,180.2 408.7,177.7 408.8,175.2 408.8,172.7 408.9,170.2 409.4,167.7 409.8,165.2 409.6,162.7 409.3,161.2" fill="#fcd81c"/>
<polygon points="406.3,193.7 405.7,195.2 405.3,197.7 404.9,200.2 405.2,202.7 405.3,204.2 405.4,204.2 405.7,202.7 406.5,200.2 406.6,197.7 406.7,195.2 406.4,193.7" fill="#fcd81c"/>
<polygon points="405.1,206.2 404.4,207.7 403.9,210.2 403.5,212.7 403.7,215.2 403.4,217.7 403.1,220.2 402.8,222.7 402.7,225.2 403.0,226.7 403.1,226.7 403.8,225.2 404.1,222.7 404.4,220.2 404.6,217.7 404.8,215.2 405.4,212.7 405.6,210.2 405.6,207.7 405.2,206.2" fill="#fcd81c"/>
<polygon points="402.9,228.7 402.2,230.2 402.0,232.7 402.3,234.2 402.4,234.2 403.0,232.7 403.3,230.2 403.0,228.7" fill="#fcd81c"/>
<polygon points="401.6,241.2 401.3,242.7 401.0,245.2 401.1,246.7 401.2,246.7 401.6,245.2 401.8,242.7 401.7,241.2" fill="#fcd81c"/>
<polygon points="400.4,253.7 400.2,255.2 399.9,257.7 399.9,260.2 399.7,261.7 399.8,261.7 399.9,260.2 400.3,257.7 400.5,255.2 400.5,253.7" fill="#fcd81c"/>
<polygon points="399.5,263.7 399.1,265.2 399.0,267.7 399.0,269.2 399.1,269.2 399.4,267.7 399.7,265.2 399.6,263.7" fill="#fcd81c"/>
<polygon points="398.2,276.2 397.7,277.7 397.9,279.2 398.3,279.2 398.8,277.7 398.5,276.2" fill="#fcd81c"/>
<polygon points="397.2,288.7 397.0,290.2 396.9,291.7 397.0,291.7 397.2,290.2 397.3,288.7" fill="#fcd81c"/>
<polygon points="416.7,71.2 416.3,72.7 416.1,75.2 416.3,76.7 416.4,76.7 416.8,75.2 417.0,72.7 416.8,71.2" fill="#f8981c"/>
<polygon points="415.9,81.2 415.4,82.7 415.0,85.2 414.8,87.7 415.2,89.2 415.3,89.2 415.9,87.7 416.1,85.2 416.2,82.7 416.0,81.2" fill="#f8981c"/>
<polygon points="414.8,93.7 414.4,95.2 414.3,97.7 414.0,100.2 414.1,101.7 414.2,101.7 414.5,100.2 414.6,97.7 414.9,95.2 414.9,93.7" fill="#f8981c"/>
<polygon points="413.9,103.7 413.5,105.2 413.1,107.7 413.4,109.2 413.5,109.2 414.0,107.7 414.1,105.2 414.0,103.7" fill="#f8981c"/>
<polygon points="412.8,116.2 412.1,117.7 411.9,120.2 412.0,122.7 412.2,124.2 412.3,124.2 412.6,122.7 413.2,120.2 413.4,117.7 412.9,116.2" fill="#f8981c"/>
<polygon points="411.8,128.7 411.1,130.2 411.0,132.7 411.1,135.2 411.2,136.7 411.3,136.7 411.5,135.2 412.0,132.7 412.3,130.2 411.9,128.7" fill="#f8981c"/>
<polygon points="410.7,141.2 410.4,142.7 410.5,144.2 410.7,144.2 411.1,142.7 410.9,141.2" fill="#f8981c"/>
<polygon points="410.0,151.2 409.3,152.7 409.4,155.2 409.5,156.7 409.6,156.7 410.0,155.2 410.5,152.7 410.1,151.2" fill="#f8981c"/>
<polygon points="409.2,161.2 408.7,162.7 408.1,165.2 408.1,167.7 408.3,170.2 408.0,172.7 407.5,175.2 407.1,177.7 407.2,180.2 407.0,182.7 406.7,185.2 406.4,187.7 406.5,190.2 406.5,191.7 406.6,191.7 406.8,190.2 407.5,187.7 407.7,185.2 407.9,182.7 408.1,180.2 408.6,177.7 408.7,175.2 408.5,172.7 408.7,170.2 409.3,167.7 409.7,165.2 409.5,162.7 409.3,161.2" fill="#f8981c"/>
<polygon points="406.3,193.7 405.9,195.2 405.4,197.7 405.0,200.2 405.5,201.7 405.6,201.7 406.4,200.2 406.5,197.7 406.5,195.2 406.4,193.7" fill="#f8981c"/>
<polygon points="405.1,206.2 404.5,207.7 404.0,210.2 403.6,212.7 403.8,215.2 403.6,217.7 403.2,220.2 403.0,222.7 402.9,225.2 403.0,226.7 403.1,226.7 403.6,225.2 404.0,222.7 404.3,220.2 404.4,217.7 404.7,215.2 405.3,212.7 405.5,210.2 405.4,207.7 405.2,206.2" fill="#f8981c"/>
<polygon points="402.9,228.7 402.3,230.2 402.3,232.7 402.3,234.2 402.4,234.2 402.8,232.7 403.2,230.2 403.0,228.7" fill="#f8981c"/>
<polygon points="398.3,276.2 397.9,277.7 398.0,279.2 398.2,279.2 398.6,277.7 398.5,276.2" fill="#f8981c"/>
<polygon points="416.7,71.2 416.5,72.7 416.5,74.2 416.6,74.2 416.8,72.7 416.8,71.2" fill="#ec4c1c"/>
<polygon points="415.9,81.2 415.7,82.7 415.1,85.2 414.9,87.7 415.2,89.2 415.3,89.2 415.8,87.7 416.0,85.2 415.9,82.7 416.0,81.2" fill="#ec4c1c"/>
<polygon points="413.6,106.2 413.3,107.7 413.4,109.2 413.5,109.2 413.8,107.7 413.8,106.2" fill="#ec4c1c"/>
<polygon points="412.8,116.2 412.2,117.7 412.0,120.2 412.4,121.7 412.5,121.7 413.1,120.2 413.3,117.7 412.9,116.2" fill="#ec4c1c"/>
<polygon points="411.8,128.7 411.2,130.2 411.2,132.7 411.4,134.2 411.5,134.2 411.8,132.7 412.2,130.2 411.9,128.7" fill="#ec4c1c"/>
<polygon points="409.9,151.2 409.5,152.7 409.7,154.2 409.9,154.2 410.4,152.7 410.2,151.2" fill="#ec4c1c"/>
<polygon points="409.2,161.2 409.0,162.7 408.2,165.2 408.3,167.7 408.5,169.2 408.6,169.2 409.1,167.7 409.6,165.2 409.2,162.7 409.3,161.2" fill="#ec4c1c"/>
<polygon points="408.2,173.7 407.7,175.2 407.3,177.7 407.4,180.2 407.1,182.7 406.9,185.2 406.6,187.7 406.7,189.2 406.8,189.2 407.3,187.7 407.5,185.2 407.7,182.7 407.9,180.2 408.5,177.7 408.5,175.2 408.3,173.7" fill="#ec4c1c"/>
<polygon points="406.1,196.2 405.5,197.7 405.2,200.2 405.5,201.7 405.6,201.7 406.2,200.2 406.4,197.7 406.2,196.2" fill="#ec4c1c"/>
<polygon points="405.1,206.2 404.7,207.7 404.1,210.2 403.8,212.7 404.0,215.2 403.8,217.7 403.4,220.2 403.1,222.7 403.2,225.2 403.0,226.7 403.1,226.7 403.3,225.2 403.9,222.7 404.1,220.2 404.2,217.7 404.4,215.2 405.2,212.7 405.3,210.2 405.3,207.7 405.2,206.2" fill="#ec4c1c"/>
<polygon points="402.8,228.7 402.5,230.2 402.5,231.7 402.7,231.7 403.0,230.2 403.0,228.7" fill="#ec4c1c"/>
<polygon points="398.3,276.2 398.1,277.7 398.1,279.2 398.1,279.2 398.4,277.7 398.4,276.2" fill="#ec4c1c"/>
<polygon points="415.6,83.7 415.3,85.2 415.1,87.7 415.2,89.2 415.3,89.2 415.6,87.7 415.8,85.2 415.7,83.7" fill="#dc241c"/>
<polygon points="412.8,116.2 412.3,117.7 412.1,120.2 412.4,121.7 412.5,121.7 413.0,120.2 413.2,117.7 412.9,116.2" fill="#dc241c"/>
<polygon points="411.8,128.7 411.4,130.2 411.5,131.7 411.7,131.7 412.1,130.2 411.9,128.7" fill="#dc241c"/>
<polygon points="409.9,151.2 409.6,152.7 409.7,154.2 409.9,154.2 410.2,152.7 410.1,151.2" fill="#dc241c"/>
<polygon points="409.0,163.7 408.3,165.2 408.5,167.7 408.5,169.2 408.6,169.2 408.9,167.7 409.5,165.2 409.1,163.7" fill="#dc241c"/>
<polygon points="408.2,173.7 407.9,175.2 407.4,177.7 407.7,179.2 407.8,179.2 408.4,177.7 408.3,175.2 408.3,173.7" fill="#dc241c"/>
<polygon points="407.0,186.2 406.8,187.7 406.7,189.2 406.8,189.2 407.1,187.7 407.1,186.2" fill="#dc241c"/>
<polygon points="406.1,196.2 405.7,197.7 405.3,200.2 405.5,201.7 405.6,201.7 406.1,200.2 406.2,197.7 406.2,196.2" fill="#dc241c"/>
<polygon points="404.8,208.7 404.2,210.2 403.9,212.7 404.3,214.2 404.4,214.2 405.1,212.7 405.2,210.2 404.9,208.7" fill="#dc241c"/>
<polygon points="403.8,218.7 403.6,220.2 403.4,222.7 403.3,224.2 403.4,224.2 403.6,222.7 403.8,220.2 403.9,218.7" fill="#dc241c"/>
<polygon points="449.5,43.7 448.4,45.2 448.0,47.7 447.4,50.2 447.3,52.7 447.2,55.2 446.9,57.7 446.6,60.2 446.4,62.7 446.0,65.2 445.6,67.7 445.7,70.2 445.6,72.7 444.9,75.2 444.8,77.7 444.7,80.2 444.3,82.7 444.1,85.2 443.9,87.7 443.6,90.2 443.2,92.7 443.1,95.2 443.2,97.7 442.6,100.2 442.4,102.7 442.4,105.2 442.0,107.7 441.9,110.2 441.9,112.7 441.5,115.2 441.1,117.7 441.0,120.2 441.1,122.7 440.6,125.2 440.3,127.7 440.3,130.2 439.9,132.7 439.7,135.2 439.9,137.7 439.6,140.2 439.1,142.7 439.0,145.2 439.0,147.7 438.8,150.2 438.4,152.7 438.4,155.2 438.0,157.7 437.7,160.2 437.8,162.7 437.6,165.2 437.1,167.7 436.9,170.2 436.7,172.7 436.5,175.2 436.3,177.7 436.2,180.2 435.9,182.7 435.4,185.2 435.5,187.7 435.5,190.2 434.9,192.7 434.7,195.2 434.5,197.7 434.2,200.2 434.0,202.7 433.9,205.2 433.6,207.7 433.0,210.2 432.8,212.7 432.9,215.2 432.3,217.7 432.1,220.2 432.0,222.7 431.6,225.2 431.4,227.7 431.4,230.2 431.3,232.7 430.8,235.2 430.6,237.7 430.7,240.2 430.3,242.7 429.9,245.2 429.9,247.7 429.4,250.2 429.1,252.7 429.2,255.2 429.0,257.7 428.5,260.2 428.1,262.7 428.1,265.2 427.9,267.7 427.5,270.2 427.6,272.7 427.2,275.2 426.7,277.7 426.8,280.2 426.7,282.7 426.3,285.2 426.0,287.7 425.9,290.2 425.8,292.7 425.4,295.2 426.9,296.7 427.0,296.7 428.7,295.2 428.8,292.7 429.1,290.2 429.5,287.7 429.6,285.2 429.7,282.7 430.1,280.2 430.6,277.7 430.7,275.2 430.7,272.7 431.2,270.2 431.3,267.7 431.5,265.2 432.0,262.7 432.1,260.2 432.1,257.7 432.4,255.2 432.9,252.7 433.0,250.2 433.0,247.7 433.5,245.2 433.6,242.7 433.7,240.2 434.3,237.7 434.6,235.2 434.6,232.7 435.0,230.2 435.4,227.7 435.7,225.2 435.9,222.7 436.3,220.2 436.5,217.7 436.4,215.2 437.0,212.7 437.3,210.2 437.2,207.7 437.4,205.2 437.8,202.7 438.0,200.2 438.2,197.7 438.6,195.2 438.9,192.7 438.8,190.2 439.3,187.7 439.8,185.2 439.8,182.7 440.0,180.2 440.4,177.7 440.5,175.2 440.7,172.7 441.0,170.2 441.2,167.7 441.0,165.2 441.2,162.7 441.8,160.2 441.8,157.7 441.9,155.2 442.3,152.7 442.3,150.2 442.5,147.7 442.9,145.2 443.2,142.7 443.1,140.2 443.2,137.7 443.8,135.2 444.0,132.7 444.0,130.2 444.4,127.7 444.5,125.2 444.4,122.7 445.0,120.2 445.2,117.7 445.2,115.2 445.3,112.7 445.7,110.2 446.0,107.7 446.0,105.2 446.5,102.7 446.7,100.2 446.6,97.7 447.1,95.2 447.5,92.7 447.5,90.2 447.6,87.7 447.8,85.2 448.1,82.7 448.2,80.2 448.5,77.7 448.8,75.2 448.5,72.7 448.9,70.2 449.4,67.7 449.5,65.2 449.6,62.7 449.8,60.2 449.9,57.7 450.0,55.2 450.4,52.7 450.8,50.2 450.6,47.7 450.6,45.2 449.6,43.7" fill="#1d6cbc"/>
<polygon points="449.5,43.7 448.9,45.2 448.4,47.7 447.7,50.2 447.7,52.7 447.6,55.2 447.3,57.7 446.9,60.2 446.8,62.7 446.4,65.2 446.0,67.7 446.1,70.2 446.0,72.7 445.3,75.2 445.1,77.7 445.1,80.2 444.7,82.7 444.5,85.2 444.3,87.7 443.9,90.2 443.5,92.7 443.5,95.2 443.6,97.7 443.0,100.2 442.8,102.7 442.8,105.2 442.4,107.7 442.3,110.2 442.3,112.7 441.9,115.2 441.4,117.7 441.3,120.2 441.5,122.7 441.0,125.2 440.6,127.7 440.7,130.2 440.3,132.7 440.1,135.2 440.3,137.7 439.9,140.2 439.5,142.7 439.3,145.2 439.4,147.7 439.1,150.2 438.7,152.7 438.8,155.2 438.4,157.7 438.0,160.2 438.2,162.7 438.0,165.2 437.4,167.7 437.2,170.2 437.1,172.7 436.9,175.2 436.6,177.7 436.5,180.2 436.2,182.7 435.8,185.2 435.8,187.7 435.8,190.2 435.2,192.7 435.0,195.2 434.9,197.7 434.6,200.2 434.3,202.7 434.2,205.2 433.9,207.7 433.3,210.2 433.2,212.7 433.2,215.2 432.7,217.7 432.4,220.2 432.3,222.7 431.9,225.2 431.8,227.7 431.8,230.2 431.7,232.7 431.1,235.2 430.9,237.7 431.1,240.2 430.7,242.7 430.3,245.2 430.3,247.7 429.8,250.2 429.5,252.7 429.5,255.2 429.4,257.7 428.9,260.2 428.5,262.7 428.5,265.2 428.3,267.7 427.9,270.2 428.0,272.7 427.5,275.2 427.1,277.7 427.2,280.2 427.2,282.7 426.7,285.2 426.4,287.7 426.3,290.2 426.2,292.7 425.8,295.2 426.9,296.7 427.0,296.7 428.3,295.2 428.4,292.7 428.7,290.2 429.1,287.7 429.3,285.2 429.3,282.7 429.7,280.2 430.3,277.7 430.3,275.2 430.3,272.7 430.9,270.2 430.9,267.7 431.1,265.2 431.6,262.7 431.7,260.2 431.7,257.7 432.0,255.2 432.5,252.7 432.7,250.2 432.6,247.7 433.1,245.2 433.2,242.7 433.3,240.2 434.0,237.7 434.2,235.2 434.2,232.7 434.6,230.2 435.1,227.7 435.4,225.2 435.5,222.7 435.9,220.2 436.2,217.7 436.1,215.2 436.7,212.7 437.0,210.2 436.9,207.7 437.1,205.2 437.5,202.7 437.7,200.2 437.9,197.7 438.2,195.2 438.5,192.7 438.4,190.2 438.9,187.7 439.5,185.2 439.5,182.7 439.7,180.2 440.0,177.7 440.2,175.2 440.4,172.7 440.6,170.2 440.8,167.7 440.7,165.2 440.8,162.7 441.5,160.2 441.5,157.7 441.5,155.2 441.9,152.7 442.0,150.2 442.1,147.7 442.6,145.2 442.8,142.7 442.8,140.2 442.8,137.7 443.4,135.2 443.6,132.7 443.7,130.2 444.1,127.7 444.1,125.2 444.1,122.7 444.6,120.2 444.9,117.7 444.9,115.2 444.9,112.7 445.3,110.2 445.6,107.7 445.7,105.2 446.1,102.7 446.4,100.2 446.2,97.7 446.7,95.2 447.1,92.7 447.2,90.2 447.2,87.7 447.5,85.2 447.7,82.7 447.8,80.2 448.2,77.7 448.5,75.2 448.1,72.7 448.5,70.2 449.1,67.7 449.1,65.2 449.2,62.7 449.4,60.2 449.5,57.7 449.6,55.2 450.0,52.7 450.4,50.2 450.1,47.7 450.1,45.2 449.6,43.7" fill="#198c90"/>
<polygon points="449.4,46.2 448.8,47.7 448.0,50.2 448.0,52.7 448.0,55.2 447.6,57.7 447.2,60.2 447.1,62.7 446.7,65.2 446.2,67.7 446.4,70.2 446.4,72.7 445.5,75.2 445.4,77.7 445.4,80.2 445.0,82.7 444.8,85.2 444.6,87.7 444.2,90.2 443.8,92.7 443.7,95.2 443.9,97.7 443.2,100.2 443.0,102.7 443.1,105.2 442.6,107.7 442.5,110.2 442.6,112.7 442.1,115.2 441.7,117.7 441.6,120.2 441.7,122.7 441.2,125.2 440.9,127.7 440.9,130.2 440.5,132.7 440.3,135.2 440.6,137.7 440.2,140.2 439.7,142.7 439.6,145.2 439.7,147.7 439.4,150.2 439.0,152.7 439.0,155.2 438.6,157.7 438.2,160.2 438.5,162.7 438.3,165.2 437.7,167.7 437.5,170.2 437.3,172.7 437.1,175.2 436.8,177.7 436.8,180.2 436.5,182.7 436.0,185.2 436.1,187.7 436.1,190.2 435.5,192.7 435.3,195.2 435.2,197.7 434.9,200.2 434.6,202.7 434.5,205.2 434.2,207.7 433.6,210.2 433.4,212.7 433.5,215.2 432.9,217.7 432.7,220.2 432.6,222.7 432.2,225.2 432.0,227.7 432.1,230.2 432.0,232.7 431.4,235.2 431.2,237.7 431.5,240.2 431.0,242.7 430.6,245.2 430.6,247.7 430.1,250.2 429.8,252.7 429.8,255.2 429.7,257.7 429.1,260.2 428.8,262.7 428.8,265.2 428.5,267.7 428.1,270.2 428.3,272.7 427.8,275.2 427.3,277.7 427.5,280.2 427.5,282.7 427.0,285.2 426.7,287.7 426.6,290.2 426.5,292.7 426.1,295.2 426.9,296.7 427.0,296.7 428.0,295.2 428.1,292.7 428.4,290.2 428.8,287.7 429.0,285.2 428.9,282.7 429.4,280.2 430.0,277.7 430.0,275.2 430.0,272.7 430.6,270.2 430.7,267.7 430.9,265.2 431.4,262.7 431.5,260.2 431.4,257.7 431.7,255.2 432.2,252.7 432.4,250.2 432.3,247.7 432.8,245.2 432.9,242.7 432.9,240.2 433.7,237.7 434.0,235.2 433.9,232.7 434.3,230.2 434.8,227.7 435.2,225.2 435.3,222.7 435.7,220.2 435.9,217.7 435.8,215.2 436.4,212.7 436.8,210.2 436.6,207.7 436.8,205.2 437.2,202.7 437.4,200.2 437.6,197.7 438.0,195.2 438.3,192.7 438.1,190.2 438.7,187.7 439.2,185.2 439.2,182.7 439.4,180.2 439.8,177.7 439.9,175.2 440.1,172.7 440.4,170.2 440.6,167.7 440.4,165.2 440.6,162.7 441.2,160.2 441.2,157.7 441.2,155.2 441.7,152.7 441.7,150.2 441.8,147.7 442.3,145.2 442.6,142.7 442.5,140.2 442.5,137.7 443.2,135.2 443.4,132.7 443.4,130.2 443.8,127.7 443.9,125.2 443.8,122.7 444.4,120.2 444.6,117.7 444.6,115.2 444.6,112.7 445.1,110.2 445.4,107.7 445.4,105.2 445.9,102.7 446.1,100.2 445.9,97.7 446.5,95.2 446.9,92.7 446.9,90.2 447.0,87.7 447.2,85.2 447.4,82.7 447.5,80.2 447.9,77.7 448.2,75.2 447.8,72.7 448.2,70.2 448.8,67.7 448.8,65.2 448.9,62.7 449.1,60.2 449.2,57.7 449.3,55.2 449.7,52.7 450.1,50.2 449.8,47.7 449.5,46.2" fill="#1aa850"/>
<polygon points="449.1,48.7 448.3,50.2 448.3,52.7 448.4,55.2 447.9,57.7 447.5,60.2 447.4,62.7 447.0,65.2 446.5,67.7 446.7,70.2 446.7,72.7 445.8,75.2 445.6,77.7 445.6,80.2 445.2,82.7 445.0,85.2 444.8,87.7 444.4,90.2 444.0,92.7 444.0,95.2 444.1,97.7 443.5,100.2 443.2,102.7 443.3,105.2 442.9,107.7 442.8,110.2 442.8,112.7 442.4,115.2 441.9,117.7 441.8,120.2 442.0,122.7 441.5,125.2 441.1,127.7 441.2,130.2 440.8,132.7 440.6,135.2 440.8,137.7 440.5,140.2 440.0,142.7 439.8,145.2 439.9,147.7 439.7,150.2 439.2,152.7 439.3,155.2 438.9,157.7 438.5,160.2 438.8,162.7 438.5,165.2 437.9,167.7 437.7,170.2 437.6,172.7 437.4,175.2 437.1,177.7 437.0,180.2 436.7,182.7 436.2,185.2 436.3,187.7 436.4,190.2 435.7,192.7 435.5,195.2 435.4,197.7 435.1,200.2 434.8,202.7 434.7,205.2 434.5,207.7 433.8,210.2 433.6,212.7 433.8,215.2 433.1,217.7 432.9,220.2 432.8,222.7 432.4,225.2 432.3,227.7 432.3,230.2 432.2,232.7 431.6,235.2 431.5,237.7 431.8,240.2 431.2,242.7 430.8,245.2 430.9,247.7 430.3,250.2 430.0,252.7 430.1,255.2 430.0,257.7 429.4,260.2 429.0,262.7 429.1,265.2 428.8,267.7 428.4,270.2 428.6,272.7 428.1,275.2 427.6,277.7 427.8,280.2 427.8,282.7 427.3,285.2 426.9,287.7 426.9,290.2 426.8,292.7 426.4,295.2 426.9,296.7 427.0,296.7 427.7,295.2 427.7,292.7 428.1,290.2 428.6,287.7 428.7,285.2 428.6,282.7 429.1,280.2 429.8,277.7 429.7,275.2 429.7,272.7 430.3,270.2 430.4,267.7 430.6,265.2 431.1,262.7 431.2,260.2 431.1,257.7 431.4,255.2 432.0,252.7 432.1,250.2 432.0,247.7 432.6,245.2 432.7,242.7 432.6,240.2 433.4,237.7 433.7,235.2 433.6,232.7 434.1,230.2 434.6,227.7 434.9,225.2 435.0,222.7 435.5,220.2 435.7,217.7 435.5,215.2 436.2,212.7 436.5,210.2 436.3,207.7 436.5,205.2 437.0,202.7 437.2,200.2 437.4,197.7 437.7,195.2 438.0,192.7 437.8,190.2 438.4,187.7 439.0,185.2 439.0,182.7 439.2,180.2 439.6,177.7 439.7,175.2 439.9,172.7 440.2,170.2 440.3,167.7 440.1,165.2 440.3,162.7 441.0,160.2 441.0,157.7 441.0,155.2 441.4,152.7 441.4,150.2 441.6,147.7 442.1,145.2 442.3,142.7 442.2,140.2 442.3,137.7 442.9,135.2 443.2,132.7 443.1,130.2 443.6,127.7 443.6,125.2 443.5,122.7 444.1,120.2 444.4,117.7 444.3,115.2 444.3,112.7 444.8,110.2 445.1,107.7 445.2,105.2 445.7,102.7 445.9,100.2 445.6,97.7 446.3,95.2 446.7,92.7 446.7,90.2 446.7,87.7 447.0,85.2 447.2,82.7 447.2,80.2 447.7,77.7 448.0,75.2 447.4,72.7 447.9,70.2 448.6,67.7 448.5,65.2 448.6,62.7 448.9,60.2 448.9,57.7 448.9,55.2 449.4,52.7 449.8,50.2 449.2,48.7" fill="#3cc020"/>
<polygon points="449.0,48.7 448.6,50.2 448.8,51.7 449.1,51.7 449.6,50.2 449.3,48.7" fill="#8cd818"/>
<polygon points="448.3,58.7 447.8,60.2 447.7,62.7 447.2,65.2 446.7,67.7 447.1,70.2 447.1,71.7 447.2,71.7 447.5,70.2 448.4,67.7 448.3,65.2 448.2,62.7 448.6,60.2 448.4,58.7" fill="#8cd818"/>
<polygon points="446.9,73.7 446.0,75.2 445.8,77.7 445.9,80.2 445.4,82.7 445.2,85.2 445.0,87.7 444.6,90.2 444.2,92.7 444.2,95.2 444.4,97.7 443.7,100.2 443.4,102.7 443.5,105.2 443.1,107.7 443.0,110.2 443.1,112.7 442.6,115.2 442.1,117.7 442.0,120.2 442.3,122.7 441.7,125.2 441.3,127.7 441.4,130.2 441.0,132.7 440.8,135.2 441.1,137.7 440.7,140.2 440.2,142.7 440.0,145.2 440.2,147.7 439.9,150.2 439.4,152.7 439.5,155.2 439.1,157.7 438.7,160.2 439.0,162.7 438.8,165.2 438.1,167.7 437.9,170.2 437.8,172.7 437.6,175.2 437.3,177.7 437.2,180.2 436.9,182.7 436.4,185.2 436.5,187.7 436.7,190.2 435.9,192.7 435.7,195.2 435.6,197.7 435.3,200.2 435.0,202.7 435.0,205.2 434.7,207.7 434.0,210.2 433.8,212.7 434.0,215.2 433.3,217.7 433.1,220.2 433.0,222.7 432.6,225.2 432.5,227.7 432.5,230.2 432.5,232.7 431.9,235.2 431.7,237.7 432.2,239.2 432.3,239.2 433.2,237.7 433.5,235.2 433.4,232.7 433.8,230.2 434.4,227.7 434.7,225.2 434.8,222.7 435.3,220.2 435.5,217.7 435.3,215.2 436.0,212.7 436.3,210.2 436.1,207.7 436.3,205.2 436.8,202.7 437.0,200.2 437.2,197.7 437.5,195.2 437.8,192.7 437.6,190.2 438.2,187.7 438.8,185.2 438.8,182.7 439.0,180.2 439.4,177.7 439.5,175.2 439.7,172.7 440.0,170.2 440.2,167.7 439.9,165.2 440.0,162.7 440.8,160.2 440.8,157.7 440.7,155.2 441.2,152.7 441.2,150.2 441.3,147.7 441.9,145.2 442.1,142.7 442.0,140.2 442.0,137.7 442.7,135.2 443.0,132.7 442.9,130.2 443.4,127.7 443.4,125.2 443.2,122.7 443.9,120.2 444.2,117.7 444.1,115.2 444.1,112.7 444.6,110.2 444.9,107.7 444.9,105.2 445.5,102.7 445.7,100.2 445.4,97.7 446.1,95.2 446.5,92.7 446.5,90.2 446.5,87.7 446.7,85.2 447.0,82.7 447.0,80.2 447.5,77.7 447.8,75.2 447.0,73.7" fill="#8cd818"/>
<polygon points="432.1,241.2 431.5,242.7 431.1,245.2 431.5,246.7 431.6,246.7 432.3,245.2 432.4,242.7 432.2,241.2" fill="#8cd818"/>
<polygon points="431.3,248.7 430.5,250.2 430.2,252.7 430.5,255.2 430.6,256.7 430.7,256.7 431.1,255.2 431.8,252.7 431.9,250.2 431.4,248.7" fill="#8cd818"/>
<polygon points="430.4,258.7 429.6,260.2 429.2,262.7 429.3,265.2 429.1,267.7 428.6,270.2 429.1,272.7 428.3,275.2 427.8,277.7 428.1,280.2 428.3,281.7 428.4,281.7 428.8,280.2 429.6,277.7 429.5,275.2 429.2,272.7 430.1,270.2 430.1,267.7 430.3,265.2 430.9,262.7 431.0,260.2 430.5,258.7" fill="#8cd818"/>
<polygon points="428.1,283.7 427.6,285.2 427.2,287.7 427.3,290.2 427.3,291.7 427.4,291.7 427.7,290.2 428.3,287.7 428.4,285.2 428.2,283.7" fill="#8cd818"/>
<polygon points="427.1,293.7 426.7,295.2 426.8,296.7 427.0,296.7 427.4,295.2 427.3,293.7" fill="#8cd818"/>
<polygon points="447.8,63.7 447.6,65.2 446.9,67.7 447.3,69.2 447.4,69.2 448.2,67.7 447.9,65.2 447.9,63.7" fill="#dce81a"/>
<polygon points="446.9,73.7 446.1,75.2 446.0,77.7 446.2,80.2 445.6,82.7 445.4,85.2 445.3,87.7 444.8,90.2 444.3,92.7 444.3,95.2 444.9,96.7 445.0,96.7 445.9,95.2 446.3,92.7 446.3,90.2 446.3,87.7 446.5,85.2 446.8,82.7 446.7,80.2 447.3,77.7 447.6,75.2 447.0,73.7" fill="#dce81a"/>
<polygon points="444.7,98.7 443.8,100.2 443.6,102.7 443.8,105.2 443.3,107.7 443.2,110.2 443.6,111.7 443.7,111.7 444.4,110.2 444.8,107.7 444.7,105.2 445.3,102.7 445.5,100.2 444.8,98.7" fill="#dce81a"/>
<polygon points="443.4,113.7 442.8,115.2 442.3,117.7 442.2,120.2 442.8,121.7 442.9,121.7 443.7,120.2 444.0,117.7 443.9,115.2 443.5,113.7" fill="#dce81a"/>
<polygon points="442.6,123.7 441.9,125.2 441.5,127.7 441.6,130.2 441.1,132.7 440.9,135.2 441.6,136.7 441.7,136.7 442.6,135.2 442.8,132.7 442.7,130.2 443.2,127.7 443.3,125.2 442.7,123.7" fill="#dce81a"/>
<polygon points="441.4,138.7 440.9,140.2 440.3,142.7 440.2,145.2 440.5,147.7 440.1,150.2 439.6,152.7 439.8,155.2 439.3,157.7 438.8,160.2 439.6,161.7 439.7,161.7 440.6,160.2 440.6,157.7 440.4,155.2 441.1,152.7 441.0,150.2 441.0,147.7 441.7,145.2 442.0,142.7 441.8,140.2 441.5,138.7" fill="#dce81a"/>
<polygon points="439.4,163.7 439.1,165.2 438.3,167.7 438.0,170.2 438.0,172.7 437.8,175.2 437.4,177.7 437.4,180.2 437.1,182.7 436.6,185.2 436.7,187.7 437.2,189.2 437.3,189.2 438.0,187.7 438.7,185.2 438.6,182.7 438.8,180.2 439.2,177.7 439.3,175.2 439.5,172.7 439.8,170.2 440.0,167.7 439.5,165.2 439.5,163.7" fill="#dce81a"/>
<polygon points="437.0,191.2 436.1,192.7 435.9,195.2 435.8,197.7 435.5,200.2 435.2,202.7 435.2,205.2 434.9,207.7 434.1,210.2 434.0,212.7 434.3,215.2 433.5,217.7 433.2,220.2 433.2,222.7 432.8,225.2 432.6,227.7 432.8,230.2 433.0,231.7 433.1,231.7 433.6,230.2 434.2,227.7 434.6,225.2 434.7,222.7 435.1,220.2 435.3,217.7 435.1,215.2 435.8,212.7 436.2,210.2 435.9,207.7 436.1,205.2 436.6,202.7 436.8,200.2 437.0,197.7 437.4,195.2 437.6,192.7 437.1,191.2" fill="#dce81a"/>
<polygon points="432.8,233.7 432.0,235.2 431.9,237.7 432.2,239.2 432.3,239.2 433.0,237.7 433.3,235.2 432.9,233.7" fill="#dce81a"/>
<polygon points="431.7,243.7 431.3,245.2 431.4,246.7 431.7,246.7 432.1,245.2 432.0,243.7" fill="#dce81a"/>
<polygon points="431.3,248.7 430.8,250.2 430.4,252.7 430.8,254.2 430.9,254.2 431.6,252.7 431.7,250.2 431.4,248.7" fill="#dce81a"/>
<polygon points="430.4,258.7 429.8,260.2 429.4,262.7 429.9,264.2 430.0,264.2 430.7,262.7 430.8,260.2 430.5,258.7" fill="#dce81a"/>
<polygon points="429.7,266.2 429.4,267.7 428.8,270.2 429.2,271.7 429.3,271.7 429.9,270.2 429.8,267.7 429.8,266.2" fill="#dce81a"/>
<polygon points="429.0,273.7 428.6,275.2 428.0,277.7 428.5,279.2 428.6,279.2 429.4,277.7 429.2,275.2 429.1,273.7" fill="#dce81a"/>
<polygon points="427.8,286.2 427.5,287.7 427.5,289.2 427.7,289.2 428.0,287.7 428.0,286.2" fill="#dce81a"/>
<polygon points="447.5,66.2 447.1,67.7 447.3,69.2 447.5,69.2 448.0,67.7 447.8,66.2" fill="#fcd81c"/>
<polygon points="446.9,73.7 446.3,75.2 446.3,77.7 446.5,79.2 446.6,79.2 447.0,77.7 447.4,75.2 447.0,73.7" fill="#fcd81c"/>
<polygon points="446.3,81.2 445.9,82.7 445.7,85.2 445.6,87.7 445.0,90.2 444.5,92.7 444.5,95.2 444.9,96.7 445.0,96.7 445.7,95.2 446.2,92.7 446.1,90.2 446.0,87.7 446.3,85.2 446.5,82.7 446.4,81.2" fill="#fcd81c"/>
<polygon points="444.7,98.7 444.0,100.2 443.8,102.7 444.1,105.2 443.4,107.7 443.4,110.2 443.6,111.7 443.7,111.7 444.2,110.2 444.6,107.7 444.3,105.2 445.1,102.7 445.3,100.2 444.8,98.7" fill="#fcd81c"/>
<polygon points="443.4,113.7 443.1,115.2 442.5,117.7 442.4,120.2 442.8,121.7 442.9,121.7 443.6,120.2 443.9,117.7 443.7,115.2 443.5,113.7" fill="#fcd81c"/>
<polygon points="442.6,123.7 442.1,125.2 441.6,127.7 441.9,130.2 441.3,132.7 441.1,135.2 441.6,136.7 441.7,136.7 442.4,135.2 442.6,132.7 442.5,130.2 443.1,127.7 443.1,125.2 442.7,123.7" fill="#fcd81c"/>
<polygon points="441.2,141.2 440.5,142.7 440.3,145.2 440.8,146.7 440.9,146.7 441.5,145.2 441.8,142.7 441.3,141.2" fill="#fcd81c"/>
<polygon points="440.3,151.2 439.8,152.7 440.1,154.2 440.4,154.2 440.9,152.7 440.6,151.2" fill="#fcd81c"/>
<polygon points="440.0,156.2 439.5,157.7 439.0,160.2 439.6,161.7 439.7,161.7 440.5,160.2 440.4,157.7 440.1,156.2" fill="#fcd81c"/>
<polygon points="439.2,166.2 438.4,167.7 438.2,170.2 438.1,172.7 437.9,175.2 437.6,177.7 437.6,180.2 437.3,182.7 436.7,185.2 436.9,187.7 437.2,189.2 437.3,189.2 437.8,187.7 438.5,185.2 438.4,182.7 438.6,180.2 439.0,177.7 439.1,175.2 439.3,172.7 439.6,170.2 439.8,167.7 439.3,166.2" fill="#fcd81c"/>
<polygon points="437.0,191.2 436.3,192.7 436.1,195.2 436.1,197.7 435.7,200.2 435.4,202.7 435.7,204.2 435.8,204.2 436.4,202.7 436.6,200.2 436.7,197.7 437.2,195.2 437.5,192.7 437.1,191.2" fill="#fcd81c"/>
<polygon points="435.5,206.2 435.2,207.7 434.3,210.2 434.2,212.7 434.7,214.2 434.8,214.2 435.7,212.7 436.0,210.2 435.6,207.7 435.6,206.2" fill="#fcd81c"/>
<polygon points="434.5,216.2 433.7,217.7 433.4,220.2 433.4,222.7 433.0,225.2 432.8,227.7 433.2,229.2 433.3,229.2 434.1,227.7 434.4,225.2 434.5,222.7 434.9,220.2 435.2,217.7 434.6,216.2" fill="#fcd81c"/>
<polygon points="432.8,233.7 432.3,235.2 432.1,237.7 432.2,239.2 432.3,239.2 432.8,237.7 433.1,235.2 432.9,233.7" fill="#fcd81c"/>
<polygon points="431.0,251.2 430.7,252.7 430.8,254.2 431.0,254.2 431.3,252.7 431.2,251.2" fill="#fcd81c"/>
<polygon points="430.1,261.2 429.6,262.7 429.8,264.2 430.1,264.2 430.5,262.7 430.3,261.2" fill="#fcd81c"/>
<polygon points="429.4,268.7 429.1,270.2 429.1,271.7 429.3,271.7 429.7,270.2 429.6,268.7" fill="#fcd81c"/>
<polygon points="428.7,276.2 428.2,277.7 428.4,279.2 428.7,279.2 429.2,277.7 429.0,276.2" fill="#fcd81c"/>
<polygon points="447.6,66.2 447.3,67.7 447.3,69.2 447.4,69.2 447.7,67.7 447.7,66.2" fill="#f8981c"/>
<polygon points="446.9,73.7 446.5,75.2 446.6,76.7 446.8,76.7 447.2,75.2 447.1,73.7" fill="#f8981c"/>
<polygon points="445.6,88.7 445.2,90.2 444.6,92.7 444.7,95.2 444.9,96.7 445.0,96.7 445.5,95.2 446.1,92.7 445.9,90.2 445.7,88.7" fill="#f8981c"/>
<polygon points="444.7,98.7 444.1,100.2 443.9,102.7 444.3,104.2 444.4,104.2 445.0,102.7 445.2,100.2 444.8,98.7" fill="#f8981c"/>
<polygon points="444.1,106.2 443.6,107.7 443.7,110.2 443.6,111.7 443.7,111.7 443.9,110.2 444.4,107.7 444.2,106.2" fill="#f8981c"/>
<polygon points="443.2,116.2 442.6,117.7 442.5,120.2 442.8,121.7 442.9,121.7 443.4,120.2 443.8,117.7 443.3,116.2" fill="#f8981c"/>
<polygon points="442.6,123.7 442.3,125.2 441.8,127.7 442.2,129.2 442.3,129.2 443.0,127.7 442.9,125.2 442.7,123.7" fill="#f8981c"/>
<polygon points="442.0,131.2 441.4,132.7 441.2,135.2 441.6,136.7 441.7,136.7 442.3,135.2 442.5,132.7 442.1,131.2" fill="#f8981c"/>
<polygon points="441.2,141.2 440.6,142.7 440.5,145.2 440.8,146.7 440.9,146.7 441.4,145.2 441.7,142.7 441.3,141.2" fill="#f8981c"/>
<polygon points="440.3,151.2 440.0,152.7 440.1,154.2 440.3,154.2 440.7,152.7 440.6,151.2" fill="#f8981c"/>
<polygon points="440.0,156.2 439.7,157.7 439.1,160.2 439.6,161.7 439.7,161.7 440.3,160.2 440.2,157.7 440.1,156.2" fill="#f8981c"/>
<polygon points="439.2,166.2 438.6,167.7 438.3,170.2 438.3,172.7 438.1,175.2 437.7,177.7 437.8,180.2 437.4,182.7 436.8,185.2 437.1,187.7 437.2,189.2 437.3,189.2 437.6,187.7 438.4,185.2 438.3,182.7 438.4,180.2 438.9,177.7 439.0,175.2 439.1,172.7 439.5,170.2 439.7,167.7 439.3,166.2" fill="#f8981c"/>
<polygon points="437.0,191.2 436.4,192.7 436.3,195.2 436.4,196.7 436.5,196.7 437.0,195.2 437.3,192.7 437.1,191.2" fill="#f8981c"/>
<polygon points="436.2,198.7 435.9,200.2 435.6,202.7 435.7,204.2 435.8,204.2 436.2,202.7 436.3,200.2 436.3,198.7" fill="#f8981c"/>
<polygon points="435.3,208.7 434.4,210.2 434.3,212.7 434.7,214.2 434.8,214.2 435.5,212.7 435.9,210.2 435.4,208.7" fill="#f8981c"/>
<polygon points="434.5,216.2 433.8,217.7 433.5,220.2 433.5,222.7 433.1,225.2 432.9,227.7 433.2,229.2 433.3,229.2 433.9,227.7 434.3,225.2 434.3,222.7 434.8,220.2 435.0,217.7 434.6,216.2" fill="#f8981c"/>
<polygon points="432.8,233.7 432.5,235.2 432.5,236.7 432.6,236.7 432.9,235.2 432.9,233.7" fill="#f8981c"/>
<polygon points="430.1,261.2 429.8,262.7 429.8,264.2 430.0,264.2 430.3,262.7 430.3,261.2" fill="#f8981c"/>
<polygon points="428.7,276.2 428.4,277.7 428.4,279.2 428.6,279.2 429.0,277.7 428.9,276.2" fill="#f8981c"/>
<polygon points="445.6,88.7 445.5,90.2 444.7,92.7 444.9,95.2 444.9,96.7 445.0,96.7 445.3,95.2 445.9,92.7 445.6,90.2 445.7,88.7" fill="#ec4c1c"/>
<polygon points="444.7,98.7 444.3,100.2 444.1,102.7 444.3,104.2 444.4,104.2 444.8,102.7 445.1,100.2 444.8,98.7" fill="#ec4c1c"/>
<polygon points="444.1,106.2 443.9,107.7 443.8,109.2 443.9,109.2 444.2,107.7 444.2,106.2" fill="#ec4c1c"/>
<polygon points="443.2,116.2 442.7,117.7 442.7,120.2 442.8,121.7 442.9,121.7 443.2,120.2 443.6,117.7 443.3,116.2" fill="#ec4c1c"/>
<polygon points="442.3,126.2 441.9,127.7 442.1,129.2 442.4,129.2 442.8,127.7 442.6,126.2" fill="#ec4c1c"/>
<polygon points="442.0,131.2 441.6,132.7 441.4,135.2 441.6,136.7 441.7,136.7 442.1,135.2 442.3,132.7 442.1,131.2" fill="#ec4c1c"/>
<polygon points="441.2,141.2 440.8,142.7 440.7,145.2 440.8,146.7 440.9,146.7 441.2,145.2 441.5,142.7 441.3,141.2" fill="#ec4c1c"/>
<polygon points="439.7,158.7 439.3,160.2 439.5,161.7 439.8,161.7 440.2,160.2 440.0,158.7" fill="#ec4c1c"/>
<polygon points="439.2,166.2 438.7,167.7 438.5,170.2 438.5,172.7 438.3,175.2 437.8,177.7 438.1,179.2 438.2,179.2 438.8,177.7 438.7,175.2 438.9,172.7 439.4,170.2 439.5,167.7 439.3,166.2" fill="#ec4c1c"/>
<polygon points="438.0,181.2 437.7,182.7 436.9,185.2 437.4,186.7 437.5,186.7 438.3,185.2 438.1,182.7 438.1,181.2" fill="#ec4c1c"/>
<polygon points="437.0,191.2 436.7,192.7 436.6,195.2 436.4,196.7 436.5,196.7 436.7,195.2 437.1,192.7 437.1,191.2" fill="#ec4c1c"/>
<polygon points="435.3,208.7 434.5,210.2 434.4,212.7 434.7,214.2 434.8,214.2 435.4,212.7 435.8,210.2 435.4,208.7" fill="#ec4c1c"/>
<polygon points="434.5,216.2 433.9,217.7 433.6,220.2 433.8,222.7 433.2,225.2 433.1,227.7 433.2,229.2 433.3,229.2 433.7,227.7 434.1,225.2 434.0,222.7 434.7,220.2 434.9,217.7 434.6,216.2" fill="#ec4c1c"/>
<polygon points="445.3,91.2 444.8,92.7 445.0,94.2 445.3,94.2 445.8,92.7 445.6,91.2" fill="#dc241c"/>
<polygon points="444.7,98.7 444.5,100.2 444.3,102.7 444.3,104.2 444.4,104.2 444.6,102.7 444.8,100.2 444.8,98.7" fill="#dc241c"/>
<polygon points="443.2,116.2 442.9,117.7 443.0,119.2 443.1,119.2 443.5,117.7 443.4,116.2" fill="#dc241c"/>
<polygon points="442.4,126.2 442.1,127.7 442.2,129.2 442.3,129.2 442.6,127.7 442.6,126.2" fill="#dc241c"/>
<polygon points="442.1,131.2 441.9,132.7 441.8,134.2 441.9,134.2 442.0,132.7 442.1,131.2" fill="#dc241c"/>
<polygon points="439.8,158.7 439.4,160.2 439.5,161.7 439.7,161.7 440.1,160.2 439.9,158.7" fill="#dc241c"/>
<polygon points="439.2,166.2 438.9,167.7 438.6,170.2 438.8,171.7 438.9,171.7 439.2,170.2 439.3,167.7 439.3,166.2" fill="#dc241c"/>
<polygon points="438.3,176.2 438.0,177.7 438.1,179.2 438.3,179.2 438.6,177.7 438.5,176.2" fill="#dc241c"/>
<polygon points="437.6,183.7 437.0,185.2 437.3,186.7 437.6,186.7 438.2,185.2 437.9,183.7" fill="#dc241c"/>
<polygon points="435.3,208.7 434.6,210.2 434.6,212.7 434.7,214.2 434.8,214.2 435.3,212.7 435.7,210.2 435.4,208.7" fill="#dc241c"/>
<polygon points="434.5,216.2 434.1,217.7 433.8,220.2 434.0,221.7 434.1,221.7 434.6,220.2 434.8,217.7 434.6,216.2" fill="#dc241c"/>
<polygon points="433.7,223.7 433.4,225.2 433.4,226.7 433.6,226.7 434.0,225.2 433.9,223.7" fill="#dc241c"/>
<polygon points="479.9,43.7 478.8,45.2 478.6,47.7 477.9,50.2 477.6,52.7 477.4,55.2 477.5,57.7 477.1,60.2 476.7,62.7 476.5,65.2 476.2,67.7 476.1,70.2 475.6,72.7 475.5,75.2 475.3,77.7 475.0,80.2 474.6,82.7 474.3,85.2 474.2,87.7 474.1,90.2 474.0,92.7 473.5,95.2 473.2,97.7 473.1,100.2 473.0,102.7 472.8,105.2 472.3,107.7 472.1,110.2 472.0,112.7 471.9,115.2 471.7,117.7 471.3,120.2 471.3,122.7 471.1,125.2 470.8,127.7 470.6,130.2 470.4,132.7 470.6,135.2 470.2,137.7 469.8,140.2 469.5,142.7 469.5,145.2 469.6,147.7 469.2,150.2 468.8,152.7 468.5,155.2 468.5,157.7 468.5,160.2 468.2,162.7 467.8,165.2 467.6,167.7 467.6,170.2 467.2,172.7 467.0,175.2 466.8,177.7 466.7,180.2 466.4,182.7 466.0,185.2 465.7,187.7 465.5,190.2 465.6,192.7 465.3,195.2 464.8,197.7 464.5,200.2 464.4,202.7 464.5,205.2 464.0,207.7 463.5,210.2 463.2,212.7 463.0,215.2 462.9,217.7 462.5,220.2 462.3,222.7 462.1,225.2 462.0,227.7 461.7,230.2 461.4,232.7 461.4,235.2 461.3,237.7 461.2,240.2 460.6,242.7 460.3,245.2 460.2,247.7 460.2,250.2 460.0,252.7 459.3,255.2 459.1,257.7 458.9,260.2 458.9,262.7 458.5,265.2 458.1,267.7 457.9,270.2 457.7,272.7 457.6,275.2 457.3,277.7 457.1,280.2 457.1,282.7 456.8,285.2 456.5,287.7 456.2,290.2 456.2,292.7 456.3,295.2 457.3,296.7 457.4,296.7 458.7,295.2 459.2,292.7 459.7,290.2 459.8,287.7 460.0,285.2 460.2,282.7 460.6,280.2 460.9,277.7 461.0,275.2 461.4,272.7 461.7,270.2 462.0,267.7 462.0,265.2 462.1,262.7 462.5,260.2 462.8,257.7 463.1,255.2 462.9,252.7 463.1,250.2 463.6,247.7 464.0,245.2 464.2,242.7 464.1,240.2 464.4,237.7 464.9,235.2 465.3,232.7 465.5,230.2 465.7,227.7 466.1,225.2 466.4,222.7 466.7,220.2 466.8,217.7 467.1,215.2 467.5,212.7 467.6,210.2 467.7,207.7 467.7,205.2 468.3,202.7 468.6,200.2 468.9,197.7 468.9,195.2 469.0,192.7 469.6,190.2 469.9,187.7 470.1,185.2 470.2,182.7 470.4,180.2 470.7,177.7 470.9,175.2 471.1,172.7 471.1,170.2 471.5,167.7 471.7,165.2 471.7,162.7 471.9,160.2 472.2,157.7 472.6,155.2 472.7,152.7 472.7,150.2 472.7,147.7 473.3,145.2 473.7,142.7 473.7,140.2 473.8,137.7 473.8,135.2 474.3,132.7 474.6,130.2 474.7,127.7 474.9,125.2 475.1,122.7 475.5,120.2 475.5,117.7 475.8,115.2 476.0,112.7 476.3,110.2 476.6,107.7 476.5,105.2 476.7,102.7 477.1,100.2 477.5,97.7 477.6,95.2 477.6,92.7 477.8,90.2 478.2,87.7 478.6,85.2 478.6,82.7 478.7,80.2 478.9,77.7 479.1,75.2 479.4,72.7 479.4,70.2 479.7,67.7 479.9,65.2 480.1,62.7 480.1,60.2 480.2,57.7 480.7,55.2 480.9,52.7 481.1,50.2 480.9,47.7 481.1,45.2 480.0,43.7" fill="#1d6cbc"/>
<polygon points="479.9,43.7 479.3,45.2 479.0,47.7 478.3,50.2 478.0,52.7 477.8,55.2 477.9,57.7 477.5,60.2 477.0,62.7 476.8,65.2 476.6,67.7 476.5,70.2 476.0,72.7 475.8,75.2 475.7,77.7 475.4,80.2 475.0,82.7 474.6,85.2 474.5,87.7 474.5,90.2 474.3,92.7 473.8,95.2 473.5,97.7 473.5,100.2 473.4,102.7 473.2,105.2 472.6,107.7 472.4,110.2 472.3,112.7 472.2,115.2 472.0,117.7 471.7,120.2 471.6,122.7 471.4,125.2 471.2,127.7 470.9,130.2 470.8,132.7 471.0,135.2 470.6,137.7 470.2,140.2 469.8,142.7 469.8,145.2 470.0,147.7 469.6,150.2 469.2,152.7 468.8,155.2 468.9,157.7 468.8,160.2 468.5,162.7 468.2,165.2 467.9,167.7 467.9,170.2 467.6,172.7 467.4,175.2 467.1,177.7 467.0,180.2 466.8,182.7 466.3,185.2 466.0,187.7 465.9,190.2 466.0,192.7 465.6,195.2 465.1,197.7 464.8,200.2 464.7,202.7 464.9,205.2 464.3,207.7 463.9,210.2 463.5,212.7 463.4,215.2 463.3,217.7 462.9,220.2 462.7,222.7 462.4,225.2 462.3,227.7 462.0,230.2 461.7,232.7 461.8,235.2 461.7,237.7 461.6,240.2 460.9,242.7 460.6,245.2 460.6,247.7 460.7,250.2 460.4,252.7 459.7,255.2 459.4,257.7 459.3,260.2 459.3,262.7 458.9,265.2 458.4,267.7 458.3,270.2 458.1,272.7 458.0,275.2 457.7,277.7 457.5,280.2 457.5,282.7 457.2,285.2 456.9,287.7 456.5,290.2 456.6,292.7 456.7,295.2 457.3,296.7 457.4,296.7 458.2,295.2 458.8,292.7 459.3,290.2 459.4,287.7 459.6,285.2 459.8,282.7 460.2,280.2 460.5,277.7 460.6,275.2 461.0,272.7 461.3,270.2 461.6,267.7 461.6,265.2 461.7,262.7 462.2,260.2 462.5,257.7 462.7,255.2 462.5,252.7 462.7,250.2 463.2,247.7 463.6,245.2 463.8,242.7 463.7,240.2 464.0,237.7 464.5,235.2 465.0,232.7 465.2,230.2 465.4,227.7 465.8,225.2 466.1,222.7 466.3,220.2 466.4,217.7 466.8,215.2 467.1,212.7 467.3,210.2 467.3,207.7 467.3,205.2 467.9,202.7 468.3,200.2 468.5,197.7 468.5,195.2 468.6,192.7 469.3,190.2 469.6,187.7 469.8,185.2 469.8,182.7 470.1,180.2 470.4,177.7 470.5,175.2 470.7,172.7 470.8,170.2 471.2,167.7 471.3,165.2 471.4,162.7 471.5,160.2 471.8,157.7 472.3,155.2 472.4,152.7 472.3,150.2 472.3,147.7 472.9,145.2 473.3,142.7 473.4,140.2 473.4,137.7 473.4,135.2 474.0,132.7 474.3,130.2 474.4,127.7 474.5,125.2 474.7,122.7 475.1,120.2 475.2,117.7 475.4,115.2 475.7,112.7 476.0,110.2 476.2,107.7 476.2,105.2 476.4,102.7 476.7,100.2 477.1,97.7 477.3,95.2 477.2,92.7 477.5,90.2 477.9,87.7 478.3,85.2 478.3,82.7 478.3,80.2 478.5,77.7 478.8,75.2 479.0,72.7 479.0,70.2 479.3,67.7 479.5,65.2 479.8,62.7 479.7,60.2 479.7,57.7 480.3,55.2 480.6,52.7 480.7,50.2 480.4,47.7 480.6,45.2 480.0,43.7" fill="#198c90"/>
<polygon points="479.8,46.2 479.7,47.7 478.6,50.2 478.3,52.7 478.1,55.2 478.3,57.7 477.8,60.2 477.3,62.7 477.1,65.2 476.9,67.7 476.8,70.2 476.3,72.7 476.1,75.2 476.0,77.7 475.7,80.2 475.2,82.7 474.8,85.2 474.8,87.7 474.7,90.2 474.6,92.7 474.1,95.2 473.7,97.7 473.7,100.2 473.6,102.7 473.4,105.2 472.9,107.7 472.7,110.2 472.6,112.7 472.5,115.2 472.3,117.7 471.9,120.2 471.9,122.7 471.7,125.2 471.5,127.7 471.2,130.2 471.0,132.7 471.2,135.2 470.9,137.7 470.5,140.2 470.1,142.7 470.1,145.2 470.3,147.7 469.9,150.2 469.5,152.7 469.1,155.2 469.2,157.7 469.1,160.2 468.8,162.7 468.4,165.2 468.2,167.7 468.2,170.2 467.9,172.7 467.6,175.2 467.4,177.7 467.3,180.2 467.1,182.7 466.5,185.2 466.3,187.7 466.1,190.2 466.3,192.7 465.9,195.2 465.4,197.7 465.1,200.2 465.0,202.7 465.2,205.2 464.6,207.7 464.1,210.2 463.8,212.7 463.6,215.2 463.5,217.7 463.1,220.2 462.9,222.7 462.7,225.2 462.6,227.7 462.3,230.2 462.0,232.7 462.0,235.2 462.0,237.7 461.9,240.2 461.2,242.7 460.9,245.2 460.9,247.7 461.0,250.2 460.7,252.7 459.9,255.2 459.7,257.7 459.6,260.2 459.6,262.7 459.2,265.2 458.7,267.7 458.5,270.2 458.4,272.7 458.3,275.2 457.9,277.7 457.8,280.2 457.8,282.7 457.5,285.2 457.2,287.7 456.8,290.2 457.0,292.7 457.1,295.2 457.3,296.7 457.4,296.7 457.8,295.2 458.5,292.7 459.1,290.2 459.1,287.7 459.3,285.2 459.5,282.7 459.9,280.2 460.3,277.7 460.4,275.2 460.8,272.7 461.1,270.2 461.4,267.7 461.4,265.2 461.4,262.7 461.9,260.2 462.2,257.7 462.4,255.2 462.1,252.7 462.3,250.2 462.9,247.7 463.4,245.2 463.6,242.7 463.3,240.2 463.7,237.7 464.2,235.2 464.7,232.7 464.9,230.2 465.1,227.7 465.5,225.2 465.8,222.7 466.1,220.2 466.2,217.7 466.5,215.2 466.9,212.7 467.0,210.2 467.1,207.7 467.0,205.2 467.7,202.7 468.1,200.2 468.3,197.7 468.2,195.2 468.3,192.7 469.0,190.2 469.3,187.7 469.6,185.2 469.5,182.7 469.8,180.2 470.1,177.7 470.3,175.2 470.4,172.7 470.5,170.2 470.9,167.7 471.1,165.2 471.1,162.7 471.2,160.2 471.6,157.7 472.1,155.2 472.1,152.7 472.0,150.2 472.0,147.7 472.6,145.2 473.1,142.7 473.1,140.2 473.1,137.7 473.1,135.2 473.7,132.7 474.0,130.2 474.1,127.7 474.3,125.2 474.5,122.7 474.9,120.2 474.9,117.7 475.1,115.2 475.4,112.7 475.8,110.2 476.0,107.7 475.9,105.2 476.1,102.7 476.5,100.2 476.9,97.7 477.0,95.2 476.9,92.7 477.2,90.2 477.6,87.7 478.0,85.2 478.0,82.7 478.0,80.2 478.2,77.7 478.5,75.2 478.8,72.7 478.7,70.2 479.0,67.7 479.2,65.2 479.5,62.7 479.4,60.2 479.4,57.7 480.0,55.2 480.3,52.7 480.4,50.2 479.8,47.7 479.9,46.2" fill="#1aa850"/>
<polygon points="479.6,48.7 478.9,50.2 478.6,52.7 478.4,55.2 478.9,56.7 479.0,56.7 479.7,55.2 480.0,52.7 480.1,50.2 479.7,48.7" fill="#3cc020"/>
<polygon points="478.7,58.7 478.1,60.2 477.6,62.7 477.4,65.2 477.1,67.7 477.0,70.2 476.5,72.7 476.3,75.2 476.2,77.7 475.9,80.2 475.5,82.7 475.0,85.2 475.0,87.7 475.0,90.2 474.8,92.7 474.3,95.2 474.0,97.7 474.0,100.2 473.9,102.7 473.7,105.2 473.1,107.7 472.9,110.2 472.8,112.7 472.7,115.2 472.5,117.7 472.2,120.2 472.2,122.7 471.9,125.2 471.7,127.7 471.4,130.2 471.3,132.7 471.5,135.2 471.1,137.7 470.7,140.2 470.3,142.7 470.3,145.2 470.6,147.7 470.2,150.2 469.7,152.7 469.3,155.2 469.4,157.7 469.4,160.2 469.1,162.7 468.7,165.2 468.4,167.7 468.5,170.2 468.1,172.7 467.9,175.2 467.6,177.7 467.5,180.2 467.3,182.7 466.8,185.2 466.5,187.7 466.3,190.2 466.5,192.7 466.2,195.2 465.6,197.7 465.3,200.2 465.2,202.7 465.5,205.2 464.9,207.7 464.4,210.2 464.0,212.7 463.9,215.2 463.8,217.7 463.3,220.2 463.1,222.7 462.9,225.2 462.9,227.7 462.5,230.2 462.2,232.7 462.3,235.2 462.3,237.7 462.3,240.2 461.4,242.7 461.1,245.2 461.2,247.7 461.4,250.2 461.1,252.7 460.2,255.2 459.9,257.7 459.8,260.2 459.8,262.7 459.4,265.2 458.9,267.7 458.8,270.2 458.6,272.7 458.6,275.2 458.2,277.7 458.1,280.2 458.1,282.7 457.8,285.2 457.5,287.7 457.1,290.2 457.3,292.7 457.5,294.2 457.6,294.2 458.1,292.7 458.8,290.2 458.8,287.7 459.0,285.2 459.1,282.7 459.7,280.2 460.0,277.7 460.1,275.2 460.5,272.7 460.8,270.2 461.1,267.7 461.1,265.2 461.1,262.7 461.6,260.2 462.0,257.7 462.2,255.2 461.7,252.7 461.9,250.2 462.6,247.7 463.1,245.2 463.3,242.7 463.0,240.2 463.4,237.7 463.9,235.2 464.5,232.7 464.7,230.2 464.9,227.7 465.3,225.2 465.6,222.7 465.9,220.2 465.9,217.7 466.3,215.2 466.7,212.7 466.8,210.2 466.8,207.7 466.7,205.2 467.4,202.7 467.8,200.2 468.0,197.7 468.0,195.2 468.1,192.7 468.8,190.2 469.1,187.7 469.3,185.2 469.3,182.7 469.6,180.2 469.9,177.7 470.0,175.2 470.2,172.7 470.3,170.2 470.7,167.7 470.8,165.2 470.8,162.7 470.9,160.2 471.3,157.7 471.8,155.2 471.8,152.7 471.8,150.2 471.7,147.7 472.4,145.2 472.9,142.7 472.9,140.2 472.9,137.7 472.8,135.2 473.5,132.7 473.8,130.2 473.9,127.7 474.0,125.2 474.2,122.7 474.6,120.2 474.7,117.7 474.9,115.2 475.2,112.7 475.6,110.2 475.8,107.7 475.6,105.2 475.9,102.7 476.2,100.2 476.7,97.7 476.8,95.2 476.7,92.7 477.0,90.2 477.4,87.7 477.8,85.2 477.8,82.7 477.8,80.2 477.9,77.7 478.2,75.2 478.5,72.7 478.4,70.2 478.8,67.7 479.0,65.2 479.2,62.7 479.1,60.2 478.8,58.7" fill="#3cc020"/>
<polygon points="479.6,48.7 479.2,50.2 478.8,52.7 478.7,55.2 478.9,56.7 479.0,56.7 479.4,55.2 479.7,52.7 479.8,50.2 479.7,48.7" fill="#8cd818"/>
<polygon points="478.5,61.2 477.8,62.7 477.6,65.2 477.4,67.7 477.3,70.2 476.7,72.7 476.6,75.2 476.4,77.7 476.1,80.2 475.7,82.7 475.2,85.2 475.2,87.7 475.2,90.2 475.1,92.7 474.5,95.2 474.1,97.7 474.2,100.2 474.1,102.7 473.9,105.2 473.3,107.7 473.1,110.2 473.0,112.7 472.9,115.2 472.7,117.7 472.3,120.2 472.4,122.7 472.2,125.2 471.9,127.7 471.6,130.2 471.5,132.7 471.9,135.2 471.3,137.7 470.9,140.2 470.5,142.7 470.6,145.2 471.2,146.7 471.3,146.7 472.2,145.2 472.7,142.7 472.7,140.2 472.6,137.7 472.5,135.2 473.3,132.7 473.6,130.2 473.7,127.7 473.8,125.2 474.0,122.7 474.4,120.2 474.5,117.7 474.7,115.2 475.0,112.7 475.4,110.2 475.6,107.7 475.4,105.2 475.7,102.7 476.0,100.2 476.5,97.7 476.6,95.2 476.4,92.7 476.8,90.2 477.2,87.7 477.6,85.2 477.6,82.7 477.6,80.2 477.7,77.7 478.0,75.2 478.3,72.7 478.2,70.2 478.5,67.7 478.7,65.2 479.0,62.7 478.6,61.2" fill="#8cd818"/>
<polygon points="471.0,148.7 470.4,150.2 469.9,152.7 469.5,155.2 469.6,157.7 469.6,160.2 469.3,162.7 468.9,165.2 468.6,167.7 468.7,170.2 468.3,172.7 468.1,175.2 467.8,177.7 467.7,180.2 467.5,182.7 466.9,185.2 466.7,187.7 466.5,190.2 466.8,192.7 466.4,195.2 465.8,197.7 465.5,200.2 465.4,202.7 465.8,205.2 465.1,207.7 464.6,210.2 464.2,212.7 464.1,215.2 464.0,217.7 463.5,220.2 463.3,222.7 463.1,225.2 463.1,227.7 462.7,230.2 462.4,232.7 462.5,235.2 462.8,237.7 462.7,239.2 462.8,239.2 463.0,237.7 463.7,235.2 464.3,232.7 464.5,230.2 464.7,227.7 465.1,225.2 465.4,222.7 465.7,220.2 465.7,217.7 466.1,215.2 466.5,212.7 466.6,210.2 466.6,207.7 466.3,205.2 467.2,202.7 467.6,200.2 467.8,197.7 467.7,195.2 467.8,192.7 468.6,190.2 468.9,187.7 469.1,185.2 469.1,182.7 469.4,180.2 469.7,177.7 469.8,175.2 470.0,172.7 470.0,170.2 470.5,167.7 470.6,165.2 470.6,162.7 470.7,160.2 471.1,157.7 471.7,155.2 471.6,152.7 471.5,150.2 471.1,148.7" fill="#8cd818"/>
<polygon points="462.5,241.2 461.7,242.7 461.4,245.2 461.4,247.7 461.7,249.2 461.8,249.2 462.3,247.7 462.9,245.2 463.1,242.7 462.6,241.2" fill="#8cd818"/>
<polygon points="461.3,253.7 460.4,255.2 460.2,257.7 460.1,260.2 460.2,262.7 459.7,265.2 459.1,267.7 459.0,270.2 458.8,272.7 458.8,275.2 458.4,277.7 458.3,280.2 458.7,281.7 458.8,281.7 459.4,280.2 459.8,277.7 459.8,275.2 460.3,272.7 460.6,270.2 460.9,267.7 460.9,265.2 460.8,262.7 461.4,260.2 461.8,257.7 462.0,255.2 461.4,253.7" fill="#8cd818"/>
<polygon points="458.5,283.7 458.2,285.2 457.8,287.7 457.3,290.2 457.8,291.7 457.9,291.7 458.6,290.2 458.5,287.7 458.6,285.2 458.6,283.7" fill="#8cd818"/>
<polygon points="478.5,61.2 478.2,62.7 478.0,65.2 477.7,67.7 477.8,69.2 477.9,69.2 478.2,67.7 478.4,65.2 478.6,62.7 478.6,61.2" fill="#dce81a"/>
<polygon points="477.6,71.2 476.9,72.7 476.8,75.2 476.7,77.7 476.4,80.2 475.9,82.7 475.4,85.2 475.4,87.7 475.4,90.2 475.3,92.7 474.7,95.2 474.3,97.7 474.4,100.2 474.3,102.7 474.1,105.2 473.5,107.7 473.2,110.2 473.2,112.7 473.1,115.2 472.9,117.7 472.5,120.2 472.6,122.7 472.3,125.2 472.1,127.7 471.8,130.2 471.7,132.7 472.2,134.2 472.3,134.2 473.1,132.7 473.4,130.2 473.5,127.7 473.6,125.2 473.8,122.7 474.3,120.2 474.3,117.7 474.5,115.2 474.8,112.7 475.2,110.2 475.4,107.7 475.2,105.2 475.5,102.7 475.8,100.2 476.3,97.7 476.4,95.2 476.2,92.7 476.5,90.2 477.0,87.7 477.5,85.2 477.4,82.7 477.4,80.2 477.5,77.7 477.8,75.2 478.1,72.7 477.7,71.2" fill="#dce81a"/>
<polygon points="472.1,136.2 471.6,137.7 471.1,140.2 470.7,142.7 470.8,145.2 471.2,146.7 471.3,146.7 472.0,145.2 472.5,142.7 472.5,140.2 472.4,137.7 472.2,136.2" fill="#dce81a"/>
<polygon points="471.0,148.7 470.7,150.2 470.1,152.7 469.6,155.2 469.8,157.7 470.0,160.2 469.6,162.7 469.1,165.2 468.8,167.7 468.9,170.2 468.5,172.7 468.2,175.2 468.0,177.7 467.9,180.2 467.7,182.7 467.1,185.2 466.9,187.7 466.7,190.2 467.2,192.7 466.6,195.2 466.0,197.7 465.7,200.2 465.6,202.7 466.1,204.2 466.2,204.2 467.1,202.7 467.5,200.2 467.7,197.7 467.5,195.2 467.4,192.7 468.4,190.2 468.7,187.7 469.0,185.2 468.9,182.7 469.2,180.2 469.5,177.7 469.6,175.2 469.8,172.7 469.8,170.2 470.3,167.7 470.4,165.2 470.4,162.7 470.3,160.2 470.9,157.7 471.5,155.2 471.5,152.7 471.2,150.2 471.1,148.7" fill="#dce81a"/>
<polygon points="465.9,206.2 465.3,207.7 464.7,210.2 464.4,212.7 464.2,215.2 464.2,217.7 463.7,220.2 463.5,222.7 463.3,225.2 463.3,227.7 462.9,230.2 462.6,232.7 462.8,235.2 462.9,236.7 463.0,236.7 463.4,235.2 464.1,232.7 464.3,230.2 464.5,227.7 464.9,225.2 465.2,222.7 465.5,220.2 465.5,217.7 466.0,215.2 466.3,212.7 466.4,210.2 466.4,207.7 466.0,206.2" fill="#dce81a"/>
<polygon points="462.5,241.2 461.9,242.7 461.6,245.2 461.9,246.7 462.0,246.7 462.7,245.2 462.9,242.7 462.6,241.2" fill="#dce81a"/>
<polygon points="461.3,253.7 460.6,255.2 460.4,257.7 460.3,260.2 460.5,261.7 460.6,261.7 461.2,260.2 461.6,257.7 461.8,255.2 461.4,253.7" fill="#dce81a"/>
<polygon points="460.4,263.7 460.0,265.2 459.3,267.7 459.2,270.2 459.1,272.7 459.4,274.2 459.5,274.2 460.1,272.7 460.4,270.2 460.7,267.7 460.6,265.2 460.5,263.7" fill="#dce81a"/>
<polygon points="459.2,276.2 458.7,277.7 458.6,280.2 458.7,281.7 458.8,281.7 459.1,280.2 459.5,277.7 459.3,276.2" fill="#dce81a"/>
<polygon points="458.0,288.7 457.6,290.2 457.7,291.7 457.9,291.7 458.3,290.2 458.2,288.7" fill="#dce81a"/>
<polygon points="477.6,71.2 477.1,72.7 477.1,75.2 477.1,76.7 477.2,76.7 477.5,75.2 477.9,72.7 477.7,71.2" fill="#fcd81c"/>
<polygon points="476.9,78.7 476.7,80.2 476.0,82.7 475.5,85.2 475.6,87.7 475.7,90.2 475.8,91.7 475.9,91.7 476.3,90.2 476.8,87.7 477.3,85.2 477.3,82.7 477.0,80.2 477.0,78.7" fill="#fcd81c"/>
<polygon points="475.6,93.7 474.8,95.2 474.5,97.7 474.5,100.2 474.5,102.7 474.3,105.2 473.6,107.7 473.4,110.2 473.3,112.7 473.3,115.2 473.1,117.7 472.7,120.2 472.8,122.7 472.6,125.2 472.3,127.7 471.9,130.2 471.9,132.7 472.2,134.2 472.3,134.2 472.9,132.7 473.2,130.2 473.3,127.7 473.4,125.2 473.6,122.7 474.1,120.2 474.1,117.7 474.3,115.2 474.7,112.7 475.1,110.2 475.3,107.7 475.0,105.2 475.2,102.7 475.7,100.2 476.2,97.7 476.3,95.2 475.7,93.7" fill="#fcd81c"/>
<polygon points="471.9,138.7 471.3,140.2 470.8,142.7 471.0,145.2 471.2,146.7 471.3,146.7 471.8,145.2 472.3,142.7 472.3,140.2 472.0,138.7" fill="#fcd81c"/>
<polygon points="470.8,151.2 470.3,152.7 469.8,155.2 470.1,157.7 470.2,159.2 470.3,159.2 470.6,157.7 471.3,155.2 471.3,152.7 470.9,151.2" fill="#fcd81c"/>
<polygon points="469.8,163.7 469.3,165.2 469.0,167.7 469.4,169.2 469.5,169.2 470.1,167.7 470.2,165.2 469.9,163.7" fill="#fcd81c"/>
<polygon points="469.2,171.2 468.7,172.7 468.4,175.2 468.1,177.7 468.2,180.2 468.0,182.7 467.3,185.2 467.0,187.7 466.9,190.2 467.4,191.7 467.5,191.7 468.2,190.2 468.6,187.7 468.8,185.2 468.6,182.7 468.9,180.2 469.4,177.7 469.5,175.2 469.6,172.7 469.3,171.2" fill="#fcd81c"/>
<polygon points="466.9,196.2 466.1,197.7 465.8,200.2 465.8,202.7 466.1,204.2 466.2,204.2 466.9,202.7 467.3,200.2 467.5,197.7 467.0,196.2" fill="#fcd81c"/>
<polygon points="465.9,206.2 465.5,207.7 464.9,210.2 464.5,212.7 464.4,215.2 464.4,217.7 463.8,220.2 463.7,222.7 463.4,225.2 463.5,227.7 463.1,230.2 462.8,232.7 463.2,234.2 463.3,234.2 463.9,232.7 464.1,230.2 464.2,227.7 464.8,225.2 465.0,222.7 465.3,220.2 465.3,217.7 465.8,215.2 466.2,212.7 466.3,210.2 466.1,207.7 466.0,206.2" fill="#fcd81c"/>
<polygon points="462.5,241.2 462.2,242.7 461.8,245.2 461.9,246.7 462.0,246.7 462.5,245.2 462.5,242.7 462.6,241.2" fill="#fcd81c"/>
<polygon points="461.3,253.7 460.8,255.2 460.6,257.7 460.8,259.2 460.9,259.2 461.3,257.7 461.5,255.2 461.4,253.7" fill="#fcd81c"/>
<polygon points="460.1,266.2 459.5,267.7 459.4,270.2 459.4,272.7 459.4,274.2 459.5,274.2 459.8,272.7 460.2,270.2 460.6,267.7 460.2,266.2" fill="#fcd81c"/>
<polygon points="476.7,81.2 476.2,82.7 475.6,85.2 475.7,87.7 476.0,89.2 476.1,89.2 476.7,87.7 477.2,85.2 477.1,82.7 476.8,81.2" fill="#f8981c"/>
<polygon points="475.6,93.7 475.0,95.2 474.6,97.7 474.7,100.2 474.9,101.7 475.0,101.7 475.5,100.2 476.1,97.7 476.1,95.2 475.7,93.7" fill="#f8981c"/>
<polygon points="474.5,106.2 473.7,107.7 473.5,110.2 473.5,112.7 473.4,115.2 473.3,117.7 472.8,120.2 473.0,122.7 472.8,125.2 472.5,127.7 472.1,130.2 472.0,132.7 472.2,134.2 472.3,134.2 472.7,132.7 473.1,130.2 473.1,127.7 473.2,125.2 473.4,122.7 474.0,120.2 473.9,117.7 474.2,115.2 474.5,112.7 474.9,110.2 475.2,107.7 474.6,106.2" fill="#f8981c"/>
<polygon points="471.9,138.7 471.5,140.2 470.9,142.7 471.3,145.2 471.2,146.7 471.3,146.7 471.5,145.2 472.2,142.7 472.1,140.2 472.0,138.7" fill="#f8981c"/>
<polygon points="470.8,151.2 470.5,152.7 469.9,155.2 470.4,156.7 470.5,156.7 471.2,155.2 471.1,152.7 470.9,151.2" fill="#f8981c"/>
<polygon points="469.8,163.7 469.5,165.2 469.1,167.7 469.4,169.2 469.5,169.2 470.0,167.7 470.0,165.2 469.9,163.7" fill="#f8981c"/>
<polygon points="469.2,171.2 468.9,172.7 468.6,175.2 468.3,177.7 468.5,180.2 468.3,181.7 468.4,181.7 468.6,180.2 469.2,177.7 469.3,175.2 469.4,172.7 469.3,171.2" fill="#f8981c"/>
<polygon points="468.1,183.7 467.4,185.2 467.1,187.7 467.0,190.2 467.4,191.7 467.5,191.7 468.1,190.2 468.5,187.7 468.7,185.2 468.2,183.7" fill="#f8981c"/>
<polygon points="466.9,196.2 466.3,197.7 466.0,200.2 465.9,202.7 466.1,204.2 466.2,204.2 466.7,202.7 467.2,200.2 467.4,197.7 467.0,196.2" fill="#f8981c"/>
<polygon points="465.7,208.7 465.0,210.2 464.6,212.7 464.5,215.2 464.6,217.7 464.0,220.2 463.8,222.7 463.6,225.2 463.9,226.7 464.0,226.7 464.6,225.2 464.9,222.7 465.2,220.2 465.1,217.7 465.7,215.2 466.1,212.7 466.1,210.2 465.8,208.7" fill="#f8981c"/>
<polygon points="463.7,228.7 463.3,230.2 463.0,232.7 463.2,234.2 463.3,234.2 463.8,232.7 463.9,230.2 463.8,228.7" fill="#f8981c"/>
<polygon points="460.1,266.2 459.7,267.7 459.8,269.2 460.0,269.2 460.4,267.7 460.3,266.2" fill="#f8981c"/>
<polygon points="476.7,81.2 476.4,82.7 475.7,85.2 475.9,87.7 476.0,89.2 476.1,89.2 476.5,87.7 477.1,85.2 476.9,82.7 476.8,81.2" fill="#ec4c1c"/>
<polygon points="475.6,93.7 475.1,95.2 474.7,97.7 474.9,100.2 474.9,101.7 475.0,101.7 475.3,100.2 476.0,97.7 476.0,95.2 475.7,93.7" fill="#ec4c1c"/>
<polygon points="474.5,106.2 473.8,107.7 473.6,110.2 473.6,112.7 473.8,114.2 473.9,114.2 474.4,112.7 474.8,110.2 475.0,107.7 474.6,106.2" fill="#ec4c1c"/>
<polygon points="473.4,118.7 472.9,120.2 473.1,121.7 473.4,121.7 473.9,120.2 473.7,118.7" fill="#ec4c1c"/>
<polygon points="472.6,128.7 472.2,130.2 472.4,131.7 472.6,131.7 472.9,130.2 472.8,128.7" fill="#ec4c1c"/>
<polygon points="471.5,141.2 471.1,142.7 471.3,144.2 471.6,144.2 472.1,142.7 471.9,141.2" fill="#ec4c1c"/>
<polygon points="470.5,153.7 470.0,155.2 470.3,156.7 470.6,156.7 471.1,155.2 470.8,153.7" fill="#ec4c1c"/>
<polygon points="469.6,166.2 469.3,167.7 469.4,169.2 469.5,169.2 469.8,167.7 469.7,166.2" fill="#ec4c1c"/>
<polygon points="468.8,176.2 468.5,177.7 468.5,179.2 468.7,179.2 469.0,177.7 468.9,176.2" fill="#ec4c1c"/>
<polygon points="468.1,183.7 467.5,185.2 467.3,187.7 467.1,190.2 467.4,191.7 467.5,191.7 468.0,190.2 468.4,187.7 468.6,185.2 468.2,183.7" fill="#ec4c1c"/>
<polygon points="466.9,196.2 466.4,197.7 466.1,200.2 466.2,202.7 466.1,204.2 466.2,204.2 466.5,202.7 467.1,200.2 467.2,197.7 467.0,196.2" fill="#ec4c1c"/>
<polygon points="465.7,208.7 465.2,210.2 464.7,212.7 464.7,215.2 464.9,216.7 465.0,216.7 465.5,215.2 465.9,212.7 466.0,210.2 465.8,208.7" fill="#ec4c1c"/>
<polygon points="464.7,218.7 464.1,220.2 463.9,222.7 463.7,225.2 463.9,226.7 464.0,226.7 464.5,225.2 464.8,222.7 465.1,220.2 464.8,218.7" fill="#ec4c1c"/>
<polygon points="463.5,231.2 463.2,232.7 463.2,234.2 463.3,234.2 463.5,232.7 463.6,231.2" fill="#ec4c1c"/>
<polygon points="476.4,83.7 475.9,85.2 476.1,86.7 476.5,86.7 477.0,85.2 476.7,83.7" fill="#dc241c"/>
<polygon points="475.6,93.7 475.3,95.2 474.8,97.7 475.1,99.2 475.2,99.2 475.8,97.7 475.8,95.2 475.7,93.7" fill="#dc241c"/>
<polygon points="474.5,106.2 474.0,107.7 473.7,110.2 473.9,112.7 473.8,114.2 473.9,114.2 474.1,112.7 474.7,110.2 474.9,107.7 474.6,106.2" fill="#dc241c"/>
<polygon points="473.4,118.7 473.1,120.2 473.2,121.7 473.4,121.7 473.7,120.2 473.6,118.7" fill="#dc241c"/>
<polygon points="471.6,141.2 471.2,142.7 471.3,144.2 471.6,144.2 472.0,142.7 471.8,141.2" fill="#dc241c"/>
<polygon points="470.6,153.7 470.2,155.2 470.3,156.7 470.6,156.7 470.9,155.2 470.8,153.7" fill="#dc241c"/>
<polygon points="468.1,183.7 467.7,185.2 467.4,187.7 467.4,190.2 467.4,191.7 467.5,191.7 467.8,190.2 468.2,187.7 468.4,185.2 468.2,183.7" fill="#dc241c"/>
<polygon points="466.9,196.2 466.6,197.7 466.2,200.2 466.4,201.7 466.5,201.7 466.9,200.2 467.0,197.7 467.0,196.2" fill="#dc241c"/>
<polygon points="465.7,208.7 465.4,210.2 464.9,212.7 464.8,215.2 464.9,216.7 465.0,216.7 465.3,215.2 465.8,212.7 465.8,210.2 465.8,208.7" fill="#dc241c"/>
<polygon points="464.7,218.7 464.3,220.2 464.2,222.7 464.0,225.2 463.9,226.7 464.0,226.7 464.2,225.2 464.6,222.7 464.9,220.2 464.8,218.7" fill="#dc241c"/>
<polygon points="510.3,43.7 509.2,45.2 508.9,47.7 508.3,50.2 508.2,52.7 508.0,55.2 507.6,57.7 507.3,60.2 507.2,62.7 507.3,65.2 506.7,67.7 506.3,70.2 506.0,72.7 506.1,75.2 505.7,77.7 505.5,80.2 505.2,82.7 505.1,85.2 504.7,87.7 504.3,90.2 504.2,92.7 504.2,95.2 503.9,97.7 503.4,100.2 503.3,102.7 503.1,105.2 502.9,107.7 502.5,110.2 502.4,112.7 502.4,115.2 502.1,117.7 501.7,120.2 501.5,122.7 501.6,125.2 501.4,127.7 501.1,130.2 500.8,132.7 500.8,135.2 500.4,137.7 500.1,140.2 500.0,142.7 500.2,145.2 499.9,147.7 499.5,150.2 499.2,152.7 499.1,155.2 499.0,157.7 498.6,160.2 498.5,162.7 498.5,165.2 498.4,167.7 497.7,170.2 497.6,172.7 497.5,175.2 497.5,177.7 497.1,180.2 496.8,182.7 496.7,185.2 496.3,187.7 495.9,190.2 495.6,192.7 495.7,195.2 495.5,197.7 495.1,200.2 494.7,202.7 494.6,205.2 494.3,207.7 494.0,210.2 493.7,212.7 493.6,215.2 493.4,217.7 492.9,220.2 492.6,222.7 492.5,225.2 492.5,227.7 492.1,230.2 491.9,232.7 491.8,235.2 491.7,237.7 491.2,240.2 490.9,242.7 490.9,245.2 490.9,247.7 490.4,250.2 490.0,252.7 489.9,255.2 489.6,257.7 489.3,260.2 489.0,262.7 489.1,265.2 488.9,267.7 488.5,270.2 488.1,272.7 488.0,275.2 488.0,277.7 487.6,280.2 487.4,282.7 487.3,285.2 487.2,287.7 486.7,290.2 486.4,292.7 486.4,295.2 487.7,296.7 487.8,296.7 489.4,295.2 489.8,292.7 490.1,290.2 490.0,287.7 490.4,285.2 490.7,282.7 491.0,280.2 491.1,277.7 491.5,275.2 491.9,272.7 492.0,270.2 492.0,267.7 492.3,265.2 492.9,262.7 493.0,260.2 493.2,257.7 493.4,255.2 493.7,252.7 493.8,250.2 493.8,247.7 494.2,245.2 494.7,242.7 494.9,240.2 494.9,237.7 495.3,235.2 495.7,232.7 496.0,230.2 496.1,227.7 496.6,225.2 496.9,222.7 497.2,220.2 497.1,217.7 497.4,215.2 497.8,212.7 498.1,210.2 498.2,207.7 498.4,205.2 498.8,202.7 498.9,200.2 499.0,197.7 499.2,195.2 499.8,192.7 500.0,190.2 500.1,187.7 500.2,185.2 500.6,182.7 500.9,180.2 500.9,177.7 501.3,175.2 501.6,172.7 501.8,170.2 501.6,167.7 501.9,165.2 502.2,162.7 502.6,160.2 502.6,157.7 502.9,155.2 503.2,152.7 503.3,150.2 503.3,147.7 503.4,145.2 504.0,142.7 504.3,140.2 504.4,137.7 504.4,135.2 504.8,132.7 504.9,130.2 505.1,127.7 505.2,125.2 505.7,122.7 505.9,120.2 505.9,117.7 506.1,115.2 506.4,112.7 506.8,110.2 506.9,107.7 507.1,105.2 507.4,102.7 507.6,100.2 507.6,97.7 507.8,95.2 508.2,92.7 508.5,90.2 508.6,87.7 508.6,85.2 508.9,82.7 509.1,80.2 509.3,77.7 509.3,75.2 509.9,72.7 510.1,70.2 510.1,67.7 509.9,65.2 510.4,62.7 510.8,60.2 510.9,57.7 511.0,55.2 511.3,52.7 511.5,50.2 511.4,47.7 511.5,45.2 510.4,43.7" fill="#1d6cbc"/>
<polygon points="510.3,43.7 509.7,45.2 509.4,47.7 508.7,50.2 508.6,52.7 508.4,55.2 508.0,57.7 507.7,60.2 507.6,62.7 507.7,65.2 507.0,67.7 506.6,70.2 506.4,72.7 506.5,75.2 506.1,77.7 505.8,80.2 505.6,82.7 505.5,85.2 505.0,87.7 504.6,90.2 504.5,92.7 504.5,95.2 504.3,97.7 503.8,100.2 503.6,102.7 503.4,105.2 503.2,107.7 502.8,110.2 502.8,112.7 502.7,115.2 502.5,117.7 502.0,120.2 501.9,122.7 502.0,125.2 501.7,127.7 501.4,130.2 501.2,132.7 501.2,135.2 500.8,137.7 500.5,140.2 500.3,142.7 500.5,145.2 500.3,147.7 499.8,150.2 499.6,152.7 499.5,155.2 499.3,157.7 498.9,160.2 498.9,162.7 498.9,165.2 498.8,167.7 498.1,170.2 497.9,172.7 497.9,175.2 497.8,177.7 497.4,180.2 497.2,182.7 497.1,185.2 496.7,187.7 496.3,190.2 496.0,192.7 496.1,195.2 495.9,197.7 495.5,200.2 495.0,202.7 495.0,205.2 494.6,207.7 494.3,210.2 494.0,212.7 494.0,215.2 493.8,217.7 493.2,220.2 492.9,222.7 492.8,225.2 492.8,227.7 492.4,230.2 492.3,232.7 492.2,235.2 492.1,237.7 491.6,240.2 491.3,242.7 491.3,245.2 491.3,247.7 490.8,250.2 490.3,252.7 490.2,255.2 489.9,257.7 489.7,260.2 489.3,262.7 489.5,265.2 489.3,267.7 488.9,270.2 488.4,272.7 488.4,275.2 488.4,277.7 488.0,280.2 487.8,282.7 487.7,285.2 487.7,287.7 487.0,290.2 486.8,292.7 486.8,295.2 487.7,296.7 487.8,296.7 489.1,295.2 489.5,292.7 489.7,290.2 489.6,287.7 490.0,285.2 490.4,282.7 490.6,280.2 490.7,277.7 491.1,275.2 491.6,272.7 491.6,270.2 491.6,267.7 491.9,265.2 492.5,262.7 492.6,260.2 492.8,257.7 493.0,255.2 493.4,252.7 493.4,250.2 493.4,247.7 493.8,245.2 494.3,242.7 494.6,240.2 494.5,237.7 494.9,235.2 495.3,232.7 495.7,230.2 495.8,227.7 496.3,225.2 496.6,222.7 496.9,220.2 496.8,217.7 497.1,215.2 497.5,212.7 497.7,210.2 497.9,207.7 498.0,205.2 498.5,202.7 498.5,200.2 498.6,197.7 498.9,195.2 499.5,192.7 499.7,190.2 499.8,187.7 499.9,185.2 500.3,182.7 500.5,180.2 500.5,177.7 500.9,175.2 501.2,172.7 501.5,170.2 501.2,167.7 501.5,165.2 501.9,162.7 502.3,160.2 502.3,157.7 502.5,155.2 502.8,152.7 503.0,150.2 502.9,147.7 503.1,145.2 503.7,142.7 503.9,140.2 504.1,137.7 504.0,135.2 504.5,132.7 504.6,130.2 504.7,127.7 504.9,125.2 505.4,122.7 505.6,120.2 505.6,117.7 505.7,115.2 506.1,112.7 506.5,110.2 506.5,107.7 506.8,105.2 507.0,102.7 507.3,100.2 507.2,97.7 507.4,95.2 507.8,92.7 508.2,90.2 508.2,87.7 508.2,85.2 508.6,82.7 508.8,80.2 508.9,77.7 508.9,75.2 509.5,72.7 509.7,70.2 509.7,67.7 509.5,65.2 510.0,62.7 510.4,60.2 510.5,57.7 510.6,55.2 510.9,52.7 511.2,50.2 510.9,47.7 511.1,45.2 510.4,43.7" fill="#198c90"/>
<polygon points="510.3,43.7 510.2,45.2 509.8,47.7 509.0,50.2 508.9,52.7 508.7,55.2 508.3,57.7 508.0,60.2 507.9,62.7 508.1,65.2 507.3,67.7 506.9,70.2 506.6,72.7 506.8,75.2 506.4,77.7 506.1,80.2 505.9,82.7 505.8,85.2 505.3,87.7 504.9,90.2 504.8,92.7 504.8,95.2 504.6,97.7 504.0,100.2 503.9,102.7 503.7,105.2 503.5,107.7 503.1,110.2 503.0,112.7 503.0,115.2 502.7,117.7 502.3,120.2 502.1,122.7 502.2,125.2 502.0,127.7 501.7,130.2 501.4,132.7 501.5,135.2 501.0,137.7 500.7,140.2 500.6,142.7 500.8,145.2 500.6,147.7 500.1,150.2 499.8,152.7 499.8,155.2 499.6,157.7 499.2,160.2 499.2,162.7 499.2,165.2 499.0,167.7 498.3,170.2 498.2,172.7 498.1,175.2 498.1,177.7 497.7,180.2 497.4,182.7 497.4,185.2 497.0,187.7 496.5,190.2 496.2,192.7 496.4,195.2 496.1,197.7 495.8,200.2 495.3,202.7 495.2,205.2 494.9,207.7 494.5,210.2 494.3,212.7 494.3,215.2 494.0,217.7 493.4,220.2 493.2,222.7 493.1,225.2 493.1,227.7 492.7,230.2 492.6,232.7 492.5,235.2 492.4,237.7 491.8,240.2 491.6,242.7 491.6,245.2 491.6,247.7 491.1,250.2 490.6,252.7 490.5,255.2 490.2,257.7 489.9,260.2 489.6,262.7 489.8,265.2 489.6,267.7 489.1,270.2 488.7,272.7 488.7,275.2 488.7,277.7 488.3,280.2 488.1,282.7 488.0,285.2 488.0,287.7 487.3,290.2 487.1,292.7 487.1,295.2 487.7,296.7 487.8,296.7 488.7,295.2 489.2,292.7 489.4,290.2 489.2,287.7 489.7,285.2 490.1,282.7 490.3,280.2 490.4,277.7 490.9,275.2 491.3,272.7 491.3,270.2 491.3,267.7 491.6,265.2 492.2,262.7 492.4,260.2 492.6,257.7 492.7,255.2 493.1,252.7 493.1,250.2 493.0,247.7 493.5,245.2 494.1,242.7 494.3,240.2 494.2,237.7 494.6,235.2 495.0,232.7 495.4,230.2 495.5,227.7 496.0,225.2 496.4,222.7 496.6,220.2 496.5,217.7 496.8,215.2 497.3,212.7 497.5,210.2 497.6,207.7 497.8,205.2 498.2,202.7 498.2,200.2 498.3,197.7 498.6,195.2 499.3,192.7 499.5,190.2 499.5,187.7 499.6,185.2 500.0,182.7 500.3,180.2 500.2,177.7 500.6,175.2 501.0,172.7 501.2,170.2 500.9,167.7 501.2,165.2 501.6,162.7 502.0,160.2 502.0,157.7 502.2,155.2 502.6,152.7 502.7,150.2 502.6,147.7 502.8,145.2 503.5,142.7 503.7,140.2 503.8,137.7 503.7,135.2 504.2,132.7 504.3,130.2 504.4,127.7 504.6,125.2 505.1,122.7 505.4,120.2 505.3,117.7 505.4,115.2 505.8,112.7 506.2,110.2 506.3,107.7 506.5,105.2 506.8,102.7 507.1,100.2 506.9,97.7 507.1,95.2 507.6,92.7 507.9,90.2 508.0,87.7 507.9,85.2 508.3,82.7 508.5,80.2 508.6,77.7 508.6,75.2 509.3,72.7 509.4,70.2 509.4,67.7 509.1,65.2 509.7,62.7 510.1,60.2 510.2,57.7 510.3,55.2 510.6,52.7 510.9,50.2 510.5,47.7 510.6,45.2 510.4,43.7" fill="#1aa850"/>
<polygon points="510.0,48.7 509.3,50.2 509.2,52.7 509.1,55.2 508.6,57.7 508.2,60.2 508.2,62.7 508.6,64.2 508.7,64.2 509.4,62.7 509.8,60.2 509.9,57.7 509.9,55.2 510.2,52.7 510.6,50.2 510.1,48.7" fill="#3cc020"/>
<polygon points="508.5,66.2 507.6,67.7 507.1,70.2 506.9,72.7 507.1,75.2 506.6,77.7 506.3,80.2 506.1,82.7 506.1,85.2 505.5,87.7 505.1,90.2 505.0,92.7 505.1,95.2 504.8,97.7 504.2,100.2 504.1,102.7 503.9,105.2 503.7,107.7 503.3,110.2 503.3,112.7 503.3,115.2 503.0,117.7 502.5,120.2 502.3,122.7 502.5,125.2 502.2,127.7 501.9,130.2 501.7,132.7 501.7,135.2 501.3,137.7 501.0,140.2 500.8,142.7 501.1,145.2 500.9,147.7 500.3,150.2 500.1,152.7 500.0,155.2 499.9,157.7 499.4,160.2 499.4,162.7 499.4,165.2 499.3,167.7 498.6,170.2 498.4,172.7 498.4,175.2 498.4,177.7 497.9,180.2 497.7,182.7 497.6,185.2 497.2,187.7 496.7,190.2 496.4,192.7 496.6,195.2 496.4,197.7 496.0,200.2 495.5,202.7 495.5,205.2 495.1,207.7 494.8,210.2 494.5,212.7 494.5,215.2 494.3,217.7 493.7,220.2 493.4,222.7 493.3,225.2 493.4,227.7 492.9,230.2 492.8,232.7 492.7,235.2 492.7,237.7 492.1,240.2 491.8,242.7 491.9,245.2 492.0,247.7 491.4,250.2 490.8,252.7 490.8,255.2 490.5,257.7 490.2,260.2 489.9,262.7 490.1,265.2 489.9,267.7 489.4,270.2 488.9,272.7 488.9,275.2 489.0,277.7 488.6,280.2 488.3,282.7 488.3,285.2 488.6,286.7 488.7,286.7 489.4,285.2 489.8,282.7 490.0,280.2 490.1,277.7 490.6,275.2 491.1,272.7 491.1,270.2 491.0,267.7 491.3,265.2 492.0,262.7 492.1,260.2 492.3,257.7 492.5,255.2 492.9,252.7 492.8,250.2 492.7,247.7 493.2,245.2 493.8,242.7 494.0,240.2 493.9,237.7 494.4,235.2 494.8,232.7 495.2,230.2 495.2,227.7 495.8,225.2 496.2,222.7 496.4,220.2 496.3,217.7 496.5,215.2 497.0,212.7 497.3,210.2 497.4,207.7 497.5,205.2 498.0,202.7 498.0,200.2 498.1,197.7 498.3,195.2 499.0,192.7 499.2,190.2 499.3,187.7 499.3,185.2 499.8,182.7 500.0,180.2 500.0,177.7 500.4,175.2 500.8,172.7 501.0,170.2 500.6,167.7 500.9,165.2 501.4,162.7 501.8,160.2 501.7,157.7 502.0,155.2 502.3,152.7 502.5,150.2 502.3,147.7 502.5,145.2 503.2,142.7 503.5,140.2 503.6,137.7 503.5,135.2 504.0,132.7 504.1,130.2 504.2,127.7 504.4,125.2 504.9,122.7 505.1,120.2 505.1,117.7 505.2,115.2 505.6,112.7 506.0,110.2 506.0,107.7 506.3,105.2 506.5,102.7 506.8,100.2 506.7,97.7 506.9,95.2 507.3,92.7 507.7,90.2 507.7,87.7 507.6,85.2 508.0,82.7 508.2,80.2 508.4,77.7 508.4,75.2 509.0,72.7 509.2,70.2 509.2,67.7 508.6,66.2" fill="#3cc020"/>
<polygon points="488.5,288.7 487.6,290.2 487.4,292.7 487.4,295.2 487.7,296.7 487.8,296.7 488.4,295.2 488.9,292.7 489.2,290.2 488.6,288.7" fill="#3cc020"/>
<polygon points="510.0,48.7 509.6,50.2 509.7,51.7 509.9,51.7 510.3,50.2 510.2,48.7" fill="#8cd818"/>
<polygon points="509.3,56.2 508.9,57.7 508.5,60.2 508.6,62.7 508.6,64.2 508.7,64.2 509.1,62.7 509.6,60.2 509.6,57.7 509.4,56.2" fill="#8cd818"/>
<polygon points="508.5,66.2 507.8,67.7 507.3,70.2 507.1,72.7 507.4,75.2 506.9,77.7 506.6,80.2 506.3,82.7 506.3,85.2 505.7,87.7 505.3,90.2 505.2,92.7 505.3,95.2 505.0,97.7 504.4,100.2 504.3,102.7 504.1,105.2 503.9,107.7 503.5,110.2 503.5,112.7 503.5,115.2 503.2,117.7 502.7,120.2 502.5,122.7 502.7,125.2 502.5,127.7 502.1,130.2 501.9,132.7 502.0,135.2 501.5,137.7 501.2,140.2 501.0,142.7 501.4,145.2 501.1,147.7 500.6,150.2 500.3,152.7 500.2,155.2 500.1,157.7 499.6,160.2 499.6,162.7 499.7,165.2 499.7,167.7 498.8,170.2 498.6,172.7 498.6,175.2 498.6,177.7 498.1,180.2 497.9,182.7 497.9,185.2 497.4,187.7 496.9,190.2 496.6,192.7 496.9,195.2 496.6,197.7 496.2,200.2 495.7,202.7 495.7,205.2 495.4,207.7 495.0,210.2 494.7,212.7 494.7,215.2 494.5,217.7 493.9,220.2 493.6,222.7 493.5,225.2 493.6,227.7 493.1,230.2 493.0,232.7 493.0,235.2 493.1,237.7 492.3,240.2 492.0,242.7 492.2,245.2 492.4,246.7 492.5,246.7 492.9,245.2 493.6,242.7 493.8,240.2 493.5,237.7 494.1,235.2 494.6,232.7 495.0,230.2 495.0,227.7 495.6,225.2 496.0,222.7 496.2,220.2 496.1,217.7 496.3,215.2 496.9,212.7 497.1,210.2 497.2,207.7 497.3,205.2 497.8,202.7 497.8,200.2 497.9,197.7 498.1,195.2 498.9,192.7 499.0,190.2 499.1,187.7 499.1,185.2 499.6,182.7 499.8,180.2 499.7,177.7 500.2,175.2 500.6,172.7 500.8,170.2 500.3,167.7 500.7,165.2 501.1,162.7 501.6,160.2 501.5,157.7 501.8,155.2 502.1,152.7 502.2,150.2 502.1,147.7 502.2,145.2 503.0,142.7 503.3,140.2 503.4,137.7 503.2,135.2 503.8,132.7 503.9,130.2 504.0,127.7 504.1,125.2 504.7,122.7 505.0,120.2 504.9,117.7 505.0,115.2 505.4,112.7 505.8,110.2 505.8,107.7 506.1,105.2 506.3,102.7 506.6,100.2 506.5,97.7 506.7,95.2 507.1,92.7 507.5,90.2 507.5,87.7 507.4,85.2 507.8,82.7 508.0,80.2 508.1,77.7 508.0,75.2 508.8,72.7 509.0,70.2 508.9,67.7 508.6,66.2" fill="#8cd818"/>
<polygon points="492.2,248.7 491.6,250.2 491.0,252.7 491.0,255.2 490.7,257.7 490.4,260.2 490.1,262.7 490.5,265.2 490.5,266.7 490.6,266.7 490.9,265.2 491.8,262.7 491.9,260.2 492.1,257.7 492.2,255.2 492.7,252.7 492.5,250.2 492.3,248.7" fill="#8cd818"/>
<polygon points="490.3,268.7 489.6,270.2 489.1,272.7 489.2,275.2 489.6,276.7 489.7,276.7 490.4,275.2 490.9,272.7 490.8,270.2 490.4,268.7" fill="#8cd818"/>
<polygon points="489.4,278.7 488.9,280.2 488.6,282.7 488.6,285.2 488.6,286.7 488.7,286.7 489.0,285.2 489.5,282.7 489.7,280.2 489.5,278.7" fill="#8cd818"/>
<polygon points="488.5,288.7 487.8,290.2 487.6,292.7 487.9,294.2 488.0,294.2 488.6,292.7 488.9,290.2 488.6,288.7" fill="#8cd818"/>
<polygon points="509.1,58.7 508.8,60.2 508.8,61.7 509.0,61.7 509.3,60.2 509.2,58.7" fill="#dce81a"/>
<polygon points="508.5,66.2 508.2,67.7 507.5,70.2 507.3,72.7 507.8,74.2 507.9,74.2 508.6,72.7 508.8,70.2 508.6,67.7 508.6,66.2" fill="#dce81a"/>
<polygon points="507.6,76.2 507.1,77.7 506.8,80.2 506.5,82.7 506.7,85.2 505.9,87.7 505.5,90.2 505.4,92.7 505.5,95.2 505.3,97.7 504.6,100.2 504.4,102.7 504.3,105.2 504.1,107.7 503.6,110.2 503.7,112.7 503.7,115.2 503.4,117.7 502.9,120.2 502.7,122.7 502.9,125.2 502.7,127.7 502.3,130.2 502.0,132.7 502.2,135.2 501.6,137.7 501.3,140.2 501.2,142.7 501.8,144.2 501.9,144.2 502.9,142.7 503.1,140.2 503.2,137.7 503.0,135.2 503.6,132.7 503.7,130.2 503.8,127.7 503.9,125.2 504.5,122.7 504.8,120.2 504.7,117.7 504.8,115.2 505.2,112.7 505.7,110.2 505.7,107.7 505.9,105.2 506.2,102.7 506.5,100.2 506.2,97.7 506.4,95.2 507.0,92.7 507.4,90.2 507.3,87.7 507.0,85.2 507.6,82.7 507.8,80.2 507.9,77.7 507.7,76.2" fill="#dce81a"/>
<polygon points="501.5,148.7 500.7,150.2 500.5,152.7 500.4,155.2 500.3,157.7 499.8,160.2 499.8,162.7 500.2,164.2 500.3,164.2 500.9,162.7 501.4,160.2 501.3,157.7 501.6,155.2 501.9,152.7 502.1,150.2 501.6,148.7" fill="#dce81a"/>
<polygon points="499.9,168.7 498.9,170.2 498.8,172.7 498.8,175.2 499.0,177.7 498.3,180.2 498.1,182.7 498.1,185.2 497.6,187.7 497.1,190.2 496.8,192.7 497.2,195.2 496.9,197.7 496.4,200.2 495.9,202.7 495.9,205.2 495.5,207.7 495.1,210.2 494.9,212.7 494.9,215.2 494.7,217.7 494.0,220.2 493.7,222.7 493.6,225.2 493.8,227.7 493.3,230.2 493.2,232.7 493.3,235.2 493.4,236.7 493.5,236.7 493.8,235.2 494.4,232.7 494.8,230.2 494.8,227.7 495.4,225.2 495.8,222.7 496.0,220.2 495.8,217.7 496.1,215.2 496.7,212.7 496.9,210.2 497.0,207.7 497.1,205.2 497.6,202.7 497.6,200.2 497.6,197.7 497.8,195.2 498.7,192.7 498.9,190.2 498.9,187.7 498.8,185.2 499.4,182.7 499.6,180.2 499.4,177.7 500.0,175.2 500.4,172.7 500.6,170.2 500.0,168.7" fill="#dce81a"/>
<polygon points="493.2,238.7 492.5,240.2 492.2,242.7 492.6,244.2 492.7,244.2 493.4,242.7 493.6,240.2 493.3,238.7" fill="#dce81a"/>
<polygon points="491.9,251.2 491.2,252.7 491.3,255.2 490.9,257.7 490.6,260.2 490.2,262.7 490.7,264.2 490.8,264.2 491.6,262.7 491.7,260.2 491.9,257.7 492.0,255.2 492.5,252.7 492.0,251.2" fill="#dce81a"/>
<polygon points="490.3,268.7 489.9,270.2 489.3,272.7 489.4,275.2 489.6,276.7 489.7,276.7 490.1,275.2 490.7,272.7 490.5,270.2 490.4,268.7" fill="#dce81a"/>
<polygon points="488.5,288.7 488.2,290.2 488.1,292.7 487.9,294.2 488.0,294.2 488.2,292.7 488.5,290.2 488.6,288.7" fill="#dce81a"/>
<polygon points="508.2,68.7 507.8,70.2 507.5,72.7 507.8,74.2 507.9,74.2 508.4,72.7 508.6,70.2 508.3,68.7" fill="#fcd81c"/>
<polygon points="507.4,78.7 507.1,80.2 506.8,82.7 506.9,84.2 507.0,84.2 507.3,82.7 507.5,80.2 507.5,78.7" fill="#fcd81c"/>
<polygon points="506.7,86.2 506.1,87.7 505.6,90.2 505.6,92.7 506.0,94.2 506.1,94.2 506.8,92.7 507.2,90.2 507.1,87.7 506.8,86.2" fill="#fcd81c"/>
<polygon points="505.8,96.2 505.6,97.7 504.7,100.2 504.6,102.7 504.4,105.2 504.2,107.7 503.8,110.2 503.8,112.7 504.0,115.2 503.6,117.7 503.0,120.2 502.9,122.7 503.3,125.2 502.9,127.7 502.5,130.2 502.2,132.7 502.6,134.2 502.7,134.2 503.4,132.7 503.5,130.2 503.5,127.7 503.6,125.2 504.4,122.7 504.6,120.2 504.5,117.7 504.5,115.2 505.0,112.7 505.5,110.2 505.5,107.7 505.8,105.2 506.0,102.7 506.3,100.2 505.9,97.7 505.9,96.2" fill="#fcd81c"/>
<polygon points="502.5,136.2 501.8,137.7 501.5,140.2 501.3,142.7 501.8,144.2 501.9,144.2 502.7,142.7 502.9,140.2 503.0,137.7 502.6,136.2" fill="#fcd81c"/>
<polygon points="501.5,148.7 501.0,150.2 500.6,152.7 500.7,155.2 500.6,157.7 499.9,160.2 500.1,162.7 500.2,164.2 500.3,164.2 500.7,162.7 501.2,160.2 501.0,157.7 501.3,155.2 501.7,152.7 501.8,150.2 501.6,148.7" fill="#fcd81c"/>
<polygon points="499.9,168.7 499.1,170.2 498.9,172.7 499.0,175.2 499.2,176.7 499.3,176.7 499.7,175.2 500.2,172.7 500.5,170.2 500.0,168.7" fill="#fcd81c"/>
<polygon points="499.0,178.7 498.5,180.2 498.3,182.7 498.5,184.2 498.6,184.2 499.2,182.7 499.4,180.2 499.1,178.7" fill="#fcd81c"/>
<polygon points="498.3,186.2 497.8,187.7 497.3,190.2 496.9,192.7 497.5,194.2 497.6,194.2 498.5,192.7 498.7,190.2 498.6,187.7 498.4,186.2" fill="#fcd81c"/>
<polygon points="497.1,198.7 496.7,200.2 496.0,202.7 496.1,205.2 495.7,207.7 495.3,210.2 495.0,212.7 495.1,215.2 494.9,217.7 494.2,220.2 493.9,222.7 493.8,225.2 494.1,227.7 493.5,230.2 493.5,232.7 493.6,234.2 493.7,234.2 494.1,232.7 494.6,230.2 494.5,227.7 495.3,225.2 495.7,222.7 495.9,220.2 495.6,217.7 495.9,215.2 496.5,212.7 496.7,210.2 496.8,207.7 496.9,205.2 497.5,202.7 497.3,200.2 497.2,198.7" fill="#fcd81c"/>
<polygon points="493.2,238.7 492.7,240.2 492.5,242.7 492.6,244.2 492.7,244.2 493.1,242.7 493.4,240.2 493.3,238.7" fill="#fcd81c"/>
<polygon points="491.9,251.2 491.4,252.7 491.6,254.2 491.8,254.2 492.3,252.7 492.1,251.2" fill="#fcd81c"/>
<polygon points="491.5,256.2 491.3,257.7 490.9,260.2 490.4,262.7 490.7,264.2 490.8,264.2 491.4,262.7 491.4,260.2 491.5,257.7 491.6,256.2" fill="#fcd81c"/>
<polygon points="490.0,271.2 489.5,272.7 489.7,274.2 490.0,274.2 490.5,272.7 490.3,271.2" fill="#fcd81c"/>
<polygon points="508.2,68.7 508.1,70.2 507.7,72.7 507.8,74.2 507.9,74.2 508.2,72.7 508.3,70.2 508.3,68.7" fill="#f8981c"/>
<polygon points="506.7,86.2 506.3,87.7 505.7,90.2 505.7,92.7 506.0,94.2 506.1,94.2 506.6,92.7 507.1,90.2 507.0,87.7 506.8,86.2" fill="#f8981c"/>
<polygon points="505.6,98.7 504.9,100.2 504.7,102.7 504.6,105.2 504.4,107.7 503.9,110.2 504.0,112.7 504.3,114.2 504.4,114.2 504.9,112.7 505.4,110.2 505.3,107.7 505.6,105.2 505.9,102.7 506.2,100.2 505.7,98.7" fill="#f8981c"/>
<polygon points="504.1,116.2 503.8,117.7 503.1,120.2 503.0,122.7 503.5,124.2 503.6,124.2 504.3,122.7 504.5,120.2 504.3,117.7 504.2,116.2" fill="#f8981c"/>
<polygon points="503.1,128.7 502.7,130.2 502.4,132.7 502.6,134.2 502.7,134.2 503.3,132.7 503.3,130.2 503.2,128.7" fill="#f8981c"/>
<polygon points="502.5,136.2 502.0,137.7 501.6,140.2 501.4,142.7 501.8,144.2 501.9,144.2 502.6,142.7 502.8,140.2 502.9,137.7 502.6,136.2" fill="#f8981c"/>
<polygon points="501.5,148.7 501.2,150.2 500.8,152.7 501.0,154.2 501.1,154.2 501.6,152.7 501.6,150.2 501.6,148.7" fill="#f8981c"/>
<polygon points="500.6,158.7 500.1,160.2 500.3,161.7 500.6,161.7 501.1,160.2 500.9,158.7" fill="#f8981c"/>
<polygon points="499.9,168.7 499.2,170.2 499.1,172.7 499.4,174.2 499.5,174.2 500.1,172.7 500.3,170.2 500.0,168.7" fill="#f8981c"/>
<polygon points="499.0,178.7 498.7,180.2 498.5,182.7 498.5,184.2 498.6,184.2 498.9,182.7 499.2,180.2 499.1,178.7" fill="#f8981c"/>
<polygon points="498.3,186.2 498.1,187.7 497.4,190.2 497.1,192.7 497.5,194.2 497.6,194.2 498.4,192.7 498.6,190.2 498.4,187.7 498.4,186.2" fill="#f8981c"/>
<polygon points="496.7,201.2 496.2,202.7 496.4,204.2 496.8,204.2 497.3,202.7 497.1,201.2" fill="#f8981c"/>
<polygon points="496.4,206.2 495.9,207.7 495.4,210.2 495.1,212.7 495.5,215.2 495.3,216.7 495.4,216.7 495.6,215.2 496.4,212.7 496.6,210.2 496.6,207.7 496.5,206.2" fill="#f8981c"/>
<polygon points="495.1,218.7 494.3,220.2 494.0,222.7 493.9,225.2 494.3,226.7 494.4,226.7 495.1,225.2 495.6,222.7 495.8,220.2 495.2,218.7" fill="#f8981c"/>
<polygon points="494.1,228.7 493.6,230.2 493.8,231.7 494.0,231.7 494.5,230.2 494.3,228.7" fill="#f8981c"/>
<polygon points="492.0,251.2 491.7,252.7 491.7,254.2 491.7,254.2 492.0,252.7 492.0,251.2" fill="#f8981c"/>
<polygon points="491.0,261.2 490.6,262.7 490.7,264.2 490.9,264.2 491.2,262.7 491.1,261.2" fill="#f8981c"/>
<polygon points="490.0,271.2 489.7,272.7 489.8,274.2 489.9,274.2 490.3,272.7 490.2,271.2" fill="#f8981c"/>
<polygon points="506.5,88.7 505.8,90.2 505.9,92.7 506.0,94.2 506.1,94.2 506.5,92.7 507.0,90.2 506.6,88.7" fill="#ec4c1c"/>
<polygon points="505.6,98.7 505.0,100.2 504.9,102.7 504.7,105.2 504.6,107.7 504.0,110.2 504.2,112.7 504.3,114.2 504.4,114.2 504.7,112.7 505.3,110.2 505.2,107.7 505.5,105.2 505.7,102.7 506.1,100.2 505.7,98.7" fill="#ec4c1c"/>
<polygon points="503.9,118.7 503.3,120.2 503.1,122.7 503.5,124.2 503.6,124.2 504.1,122.7 504.4,120.2 504.0,118.7" fill="#ec4c1c"/>
<polygon points="502.9,131.2 502.5,132.7 502.6,134.2 502.8,134.2 503.1,132.7 503.0,131.2" fill="#ec4c1c"/>
<polygon points="502.5,136.2 502.2,137.7 501.7,140.2 501.6,142.7 501.8,144.2 501.9,144.2 502.4,142.7 502.7,140.2 502.7,137.7 502.6,136.2" fill="#ec4c1c"/>
<polygon points="501.3,151.2 501.1,152.7 501.0,154.2 501.1,154.2 501.3,152.7 501.4,151.2" fill="#ec4c1c"/>
<polygon points="500.6,158.7 500.2,160.2 500.4,161.7 500.6,161.7 501.0,160.2 500.8,158.7" fill="#ec4c1c"/>
<polygon points="499.9,168.7 499.4,170.2 499.3,172.7 499.4,174.2 499.5,174.2 499.9,172.7 500.2,170.2 500.0,168.7" fill="#ec4c1c"/>
<polygon points="498.1,188.7 497.5,190.2 497.2,192.7 497.5,194.2 497.6,194.2 498.3,192.7 498.5,190.2 498.2,188.7" fill="#ec4c1c"/>
<polygon points="496.8,201.2 496.3,202.7 496.5,204.2 496.7,204.2 497.2,202.7 497.0,201.2" fill="#ec4c1c"/>
<polygon points="496.4,206.2 496.2,207.7 495.5,210.2 495.3,212.7 495.6,214.2 495.7,214.2 496.3,212.7 496.5,210.2 496.3,207.7 496.5,206.2" fill="#ec4c1c"/>
<polygon points="495.1,218.7 494.4,220.2 494.1,222.7 494.1,225.2 494.3,226.7 494.4,226.7 495.0,225.2 495.5,222.7 495.7,220.2 495.2,218.7" fill="#ec4c1c"/>
<polygon points="494.1,228.7 493.8,230.2 493.8,231.7 494.0,231.7 494.3,230.2 494.3,228.7" fill="#ec4c1c"/>
<polygon points="506.4,88.7 506.0,90.2 506.1,91.7 506.4,91.7 506.8,90.2 506.7,88.7" fill="#dc241c"/>
<polygon points="505.6,98.7 505.1,100.2 505.1,102.7 504.9,105.2 504.9,106.7 505.0,106.7 505.2,105.2 505.5,102.7 506.0,100.2 505.7,98.7" fill="#dc241c"/>
<polygon points="504.6,108.7 504.1,110.2 504.4,111.7 504.7,111.7 505.2,110.2 504.9,108.7" fill="#dc241c"/>
<polygon points="503.9,118.7 503.4,120.2 503.3,122.7 503.5,124.2 503.6,124.2 504.0,122.7 504.3,120.2 504.0,118.7" fill="#dc241c"/>
<polygon points="502.3,138.7 501.9,140.2 501.8,142.7 501.8,144.2 501.9,144.2 502.2,142.7 502.5,140.2 502.4,138.7" fill="#dc241c"/>
<polygon points="500.7,158.7 500.5,160.2 500.4,161.7 500.5,161.7 500.7,160.2 500.7,158.7" fill="#dc241c"/>
<polygon points="499.8,168.7 499.6,170.2 499.6,171.7 499.7,171.7 500.0,170.2 500.0,168.7" fill="#dc241c"/>
<polygon points="498.1,188.7 497.7,190.2 497.3,192.7 497.5,194.2 497.6,194.2 498.2,192.7 498.3,190.2 498.2,188.7" fill="#dc241c"/>
<polygon points="496.8,201.2 496.5,202.7 496.5,204.2 496.7,204.2 497.0,202.7 497.0,201.2" fill="#dc241c"/>
<polygon points="496.1,208.7 495.7,210.2 495.4,212.7 495.6,214.2 495.7,214.2 496.1,212.7 496.3,210.2 496.2,208.7" fill="#dc241c"/>
<polygon points="495.1,218.7 494.5,220.2 494.2,222.7 494.2,225.2 494.3,226.7 494.4,226.7 494.9,225.2 495.4,222.7 495.6,220.2 495.2,218.7" fill="#dc241c"/>
<polygon points="540.8,43.7 539.5,45.2 539.0,47.7 538.8,50.2 538.7,52.7 538.4,55.2 538.1,57.7 538.1,60.2 537.6,62.7 537.1,65.2 537.2,67.7 537.0,70.2 536.5,72.7 536.6,75.2 536.1,77.7 535.7,80.2 535.7,82.7 535.6,85.2 535.1,87.7 534.9,90.2 534.7,92.7 534.4,95.2 534.2,97.7 534.1,100.2 533.8,102.7 533.4,105.2 533.2,107.7 533.1,110.2 532.7,112.7 532.8,115.2 532.7,117.7 532.1,120.2 532.0,122.7 532.1,125.2 531.7,127.7 531.6,130.2 531.6,132.7 531.0,135.2 530.8,137.7 530.8,140.2 530.6,142.7 530.3,145.2 530.1,147.7 529.9,150.2 529.5,152.7 529.5,155.2 529.6,157.7 529.1,160.2 528.8,162.7 528.8,165.2 528.4,167.7 528.2,170.2 528.3,172.7 527.8,175.2 527.5,177.7 527.4,180.2 527.1,182.7 526.9,185.2 526.8,187.7 526.6,190.2 526.1,192.7 525.9,195.2 525.9,197.7 525.6,200.2 525.3,202.7 525.2,205.2 524.7,207.7 524.3,210.2 524.4,212.7 524.1,215.2 523.6,217.7 523.5,220.2 523.2,222.7 522.8,225.2 522.8,227.7 522.7,230.2 522.3,232.7 522.1,235.2 522.0,237.7 521.7,240.2 521.5,242.7 521.5,245.2 521.2,247.7 520.6,250.2 520.5,252.7 520.3,255.2 519.8,257.7 519.8,260.2 519.5,262.7 518.9,265.2 518.8,267.7 518.6,270.2 518.3,272.7 518.1,275.2 518.0,277.7 517.6,280.2 517.4,282.7 517.4,285.2 517.4,287.7 517.1,290.2 516.9,292.7 516.8,295.2 518.2,296.7 518.3,296.7 519.8,295.2 520.2,292.7 520.5,290.2 520.7,287.7 521.1,285.2 521.6,282.7 521.8,280.2 522.0,277.7 522.3,275.2 522.6,272.7 522.7,270.2 523.0,267.7 523.3,265.2 523.2,262.7 523.4,260.2 523.8,257.7 523.8,255.2 524.1,252.7 524.4,250.2 524.3,247.7 524.5,245.2 525.0,242.7 525.3,240.2 525.4,237.7 525.8,235.2 526.1,232.7 526.2,230.2 526.6,227.7 527.1,225.2 527.2,222.7 527.4,220.2 527.8,217.7 527.8,215.2 528.0,212.7 528.6,210.2 528.7,207.7 528.6,205.2 529.1,202.7 529.3,200.2 529.5,197.7 530.0,195.2 530.2,192.7 530.3,190.2 530.5,187.7 531.0,185.2 531.2,182.7 531.4,180.2 531.7,177.7 531.8,175.2 531.7,172.7 532.2,170.2 532.5,167.7 532.4,165.2 532.8,162.7 533.0,160.2 532.8,157.7 533.4,155.2 533.7,152.7 533.8,150.2 534.0,147.7 534.2,145.2 534.3,142.7 534.5,140.2 534.9,137.7 535.0,135.2 534.9,132.7 535.3,130.2 535.6,127.7 535.6,125.2 536.1,122.7 536.4,120.2 536.2,117.7 536.5,115.2 537.0,112.7 537.1,110.2 537.4,107.7 537.7,105.2 537.7,102.7 537.8,100.2 538.2,97.7 538.4,95.2 538.5,92.7 538.7,90.2 539.0,87.7 538.9,85.2 539.3,82.7 539.8,80.2 539.7,77.7 539.8,75.2 540.2,72.7 540.2,70.2 540.4,67.7 541.0,65.2 541.0,62.7 540.8,60.2 541.3,57.7 541.5,55.2 541.6,52.7 541.9,50.2 542.1,47.7 542.1,45.2 540.9,43.7" fill="#1d6cbc"/>
<polygon points="540.8,43.7 540.0,45.2 539.4,47.7 539.2,50.2 539.1,52.7 538.8,55.2 538.5,57.7 538.5,60.2 537.9,62.7 537.5,65.2 537.6,67.7 537.4,70.2 536.9,72.7 536.9,75.2 536.5,77.7 536.0,80.2 536.1,82.7 536.0,85.2 535.5,87.7 535.3,90.2 535.1,92.7 534.7,95.2 534.5,97.7 534.5,100.2 534.2,102.7 533.7,105.2 533.6,107.7 533.4,110.2 533.1,112.7 533.1,115.2 533.1,117.7 532.5,120.2 532.4,122.7 532.4,125.2 532.0,127.7 532.0,130.2 531.9,132.7 531.4,135.2 531.1,137.7 531.2,140.2 531.0,142.7 530.6,145.2 530.5,147.7 530.2,150.2 529.9,152.7 529.8,155.2 530.0,157.7 529.4,160.2 529.2,162.7 529.2,165.2 528.7,167.7 528.5,170.2 528.7,172.7 528.2,175.2 527.8,177.7 527.7,180.2 527.4,182.7 527.2,185.2 527.2,187.7 526.9,190.2 526.5,192.7 526.2,195.2 526.3,197.7 525.9,200.2 525.6,202.7 525.6,205.2 525.1,207.7 524.6,210.2 524.8,212.7 524.5,215.2 523.9,217.7 523.9,220.2 523.5,222.7 523.1,225.2 523.2,227.7 523.1,230.2 522.7,232.7 522.5,235.2 522.4,237.7 522.1,240.2 521.9,242.7 521.9,245.2 521.5,247.7 520.9,250.2 520.8,252.7 520.7,255.2 520.2,257.7 520.1,260.2 519.8,262.7 519.3,265.2 519.1,267.7 519.0,270.2 518.6,272.7 518.4,275.2 518.3,277.7 518.0,280.2 517.8,282.7 517.8,285.2 517.7,287.7 517.4,290.2 517.3,292.7 517.2,295.2 518.2,296.7 518.3,296.7 519.4,295.2 519.8,292.7 520.2,290.2 520.3,287.7 520.7,285.2 521.2,282.7 521.5,280.2 521.6,277.7 521.9,275.2 522.2,272.7 522.3,270.2 522.7,267.7 523.0,265.2 522.9,262.7 523.1,260.2 523.5,257.7 523.4,255.2 523.7,252.7 524.1,250.2 524.0,247.7 524.1,245.2 524.6,242.7 524.9,240.2 525.1,237.7 525.5,235.2 525.8,232.7 525.8,230.2 526.3,227.7 526.8,225.2 526.9,222.7 527.0,220.2 527.5,217.7 527.4,215.2 527.6,212.7 528.3,210.2 528.3,207.7 528.3,205.2 528.8,202.7 528.9,200.2 529.1,197.7 529.6,195.2 529.9,192.7 529.9,190.2 530.2,187.7 530.6,185.2 530.9,182.7 531.1,180.2 531.4,177.7 531.5,175.2 531.3,172.7 531.9,170.2 532.1,167.7 532.1,165.2 532.5,162.7 532.6,160.2 532.4,157.7 533.0,155.2 533.4,152.7 533.4,150.2 533.6,147.7 533.9,145.2 533.9,142.7 534.1,140.2 534.5,137.7 534.7,135.2 534.5,132.7 534.9,130.2 535.3,127.7 535.3,125.2 535.7,122.7 536.1,120.2 535.8,117.7 536.2,115.2 536.7,112.7 536.7,110.2 537.0,107.7 537.3,105.2 537.3,102.7 537.4,100.2 537.9,97.7 538.1,95.2 538.2,92.7 538.4,90.2 538.6,87.7 538.5,85.2 538.9,82.7 539.4,80.2 539.4,77.7 539.4,75.2 539.9,72.7 539.8,70.2 540.0,67.7 540.6,65.2 540.6,62.7 540.4,60.2 540.9,57.7 541.1,55.2 541.2,52.7 541.6,50.2 541.7,47.7 541.6,45.2 540.9,43.7" fill="#198c90"/>
<polygon points="540.8,43.7 540.4,45.2 539.7,47.7 539.5,50.2 539.4,52.7 539.1,55.2 538.8,57.7 538.9,60.2 538.2,62.7 537.7,65.2 537.9,67.7 537.7,70.2 537.1,72.7 537.2,75.2 536.8,77.7 536.3,80.2 536.4,82.7 536.3,85.2 535.8,87.7 535.6,90.2 535.3,92.7 534.9,95.2 534.7,97.7 534.8,100.2 534.4,102.7 533.9,105.2 533.8,107.7 533.7,110.2 533.3,112.7 533.4,115.2 533.4,117.7 532.7,120.2 532.6,122.7 532.7,125.2 532.3,127.7 532.3,130.2 532.2,132.7 531.6,135.2 531.4,137.7 531.4,140.2 531.2,142.7 530.9,145.2 530.7,147.7 530.5,150.2 530.1,152.7 530.1,155.2 530.3,157.7 529.7,160.2 529.4,162.7 529.4,165.2 528.9,167.7 528.8,170.2 529.0,172.7 528.4,175.2 528.0,177.7 528.0,180.2 527.7,182.7 527.4,185.2 527.4,187.7 527.2,190.2 526.7,192.7 526.5,195.2 526.5,197.7 526.2,200.2 525.9,202.7 525.9,205.2 525.3,207.7 524.9,210.2 525.0,212.7 524.7,215.2 524.2,217.7 524.2,220.2 523.8,222.7 523.4,225.2 523.4,227.7 523.4,230.2 523.0,232.7 522.8,235.2 522.7,237.7 522.4,240.2 522.2,242.7 522.3,245.2 521.8,247.7 521.2,250.2 521.1,252.7 521.0,255.2 520.4,257.7 520.4,260.2 520.1,262.7 519.5,265.2 519.3,267.7 519.2,270.2 518.9,272.7 518.7,275.2 518.6,277.7 518.2,280.2 518.0,282.7 518.1,285.2 518.0,287.7 517.7,290.2 517.6,292.7 517.5,295.2 518.2,296.7 518.3,296.7 519.1,295.2 519.5,292.7 519.9,290.2 520.0,287.7 520.5,285.2 521.0,282.7 521.3,280.2 521.4,277.7 521.7,275.2 522.0,272.7 522.1,270.2 522.4,267.7 522.7,265.2 522.6,262.7 522.8,260.2 523.2,257.7 523.1,255.2 523.4,252.7 523.8,250.2 523.7,247.7 523.7,245.2 524.3,242.7 524.6,240.2 524.8,237.7 525.2,235.2 525.5,232.7 525.6,230.2 526.0,227.7 526.6,225.2 526.6,222.7 526.8,220.2 527.2,217.7 527.2,215.2 527.3,212.7 528.0,210.2 528.1,207.7 528.0,205.2 528.5,202.7 528.6,200.2 528.8,197.7 529.4,195.2 529.6,192.7 529.6,190.2 529.9,187.7 530.4,185.2 530.6,182.7 530.8,180.2 531.2,177.7 531.2,175.2 531.0,172.7 531.7,170.2 531.9,167.7 531.8,165.2 532.2,162.7 532.3,160.2 532.1,157.7 532.8,155.2 533.1,152.7 533.1,150.2 533.3,147.7 533.6,145.2 533.6,142.7 533.8,140.2 534.3,137.7 534.5,135.2 534.3,132.7 534.6,130.2 535.0,127.7 535.0,125.2 535.5,122.7 535.8,120.2 535.6,117.7 535.9,115.2 536.4,112.7 536.5,110.2 536.8,107.7 537.1,105.2 537.0,102.7 537.2,100.2 537.6,97.7 537.9,95.2 537.9,92.7 538.1,90.2 538.3,87.7 538.2,85.2 538.6,82.7 539.2,80.2 539.1,77.7 539.1,75.2 539.6,72.7 539.5,70.2 539.7,67.7 540.3,65.2 540.3,62.7 540.1,60.2 540.6,57.7 540.7,55.2 540.8,52.7 541.3,50.2 541.4,47.7 541.2,45.2 540.9,43.7" fill="#1aa850"/>
<polygon points="540.7,46.2 540.0,47.7 539.7,50.2 539.8,52.7 539.4,55.2 539.1,57.7 539.5,59.2 539.6,59.2 540.3,57.7 540.4,55.2 540.4,52.7 541.0,50.2 541.1,47.7 540.8,46.2" fill="#3cc020"/>
<polygon points="539.3,61.2 538.5,62.7 538.0,65.2 538.2,67.7 538.0,70.2 537.4,72.7 537.5,75.2 537.0,77.7 536.5,80.2 536.6,82.7 536.6,85.2 536.0,87.7 535.8,90.2 535.6,92.7 535.2,95.2 535.0,97.7 535.0,100.2 534.7,102.7 534.2,105.2 534.1,107.7 533.9,110.2 533.5,112.7 533.7,115.2 533.6,117.7 532.9,120.2 532.9,122.7 533.0,125.2 532.5,127.7 532.5,130.2 532.5,132.7 531.9,135.2 531.6,137.7 531.7,140.2 531.5,142.7 531.1,145.2 531.0,147.7 530.8,150.2 530.3,152.7 530.3,155.2 530.6,157.7 529.9,160.2 529.7,162.7 529.7,165.2 529.2,167.7 529.0,170.2 529.2,172.7 528.6,175.2 528.3,177.7 528.2,180.2 527.9,182.7 527.7,185.2 527.7,187.7 527.4,190.2 526.9,192.7 526.7,195.2 526.8,197.7 526.5,200.2 526.1,202.7 526.2,205.2 525.5,207.7 525.1,210.2 525.3,212.7 525.0,215.2 524.4,217.7 524.4,220.2 524.0,222.7 523.6,225.2 523.7,227.7 523.7,230.2 523.2,232.7 523.0,235.2 522.9,237.7 522.6,240.2 522.4,242.7 522.6,245.2 522.1,247.7 521.5,250.2 521.4,252.7 521.2,255.2 520.7,257.7 520.6,260.2 520.4,262.7 519.7,265.2 519.6,267.7 519.5,270.2 519.1,272.7 518.9,275.2 518.8,277.7 518.4,280.2 518.2,282.7 518.3,285.2 518.3,287.7 518.0,290.2 517.9,292.7 517.9,295.2 518.2,296.7 518.3,296.7 518.8,295.2 519.2,292.7 519.6,290.2 519.8,287.7 520.2,285.2 520.7,282.7 521.0,280.2 521.1,277.7 521.5,275.2 521.8,272.7 521.9,270.2 522.2,267.7 522.5,265.2 522.3,262.7 522.5,260.2 523.0,257.7 522.9,255.2 523.2,252.7 523.6,250.2 523.4,247.7 523.4,245.2 524.1,242.7 524.3,240.2 524.5,237.7 524.9,235.2 525.3,232.7 525.3,230.2 525.8,227.7 526.3,225.2 526.4,222.7 526.5,220.2 527.0,217.7 526.9,215.2 527.1,212.7 527.8,210.2 527.8,207.7 527.7,205.2 528.3,202.7 528.4,200.2 528.6,197.7 529.1,195.2 529.4,192.7 529.4,190.2 529.6,187.7 530.1,185.2 530.4,182.7 530.6,180.2 531.0,177.7 531.0,175.2 530.8,172.7 531.4,170.2 531.7,167.7 531.5,165.2 532.0,162.7 532.1,160.2 531.8,157.7 532.5,155.2 532.9,152.7 532.9,150.2 533.1,147.7 533.4,145.2 533.4,142.7 533.6,140.2 534.1,137.7 534.2,135.2 534.0,132.7 534.4,130.2 534.8,127.7 534.7,125.2 535.2,122.7 535.6,120.2 535.3,117.7 535.7,115.2 536.2,112.7 536.2,110.2 536.5,107.7 536.9,105.2 536.8,102.7 536.9,100.2 537.4,97.7 537.6,95.2 537.7,92.7 537.9,90.2 538.1,87.7 538.0,85.2 538.4,82.7 538.9,80.2 538.8,77.7 538.8,75.2 539.4,72.7 539.2,70.2 539.4,67.7 540.1,65.2 540.0,62.7 539.4,61.2" fill="#3cc020"/>
<polygon points="540.7,46.2 540.5,47.7 540.1,50.2 540.2,51.7 540.3,51.7 540.6,50.2 540.6,47.7 540.8,46.2" fill="#8cd818"/>
<polygon points="539.8,56.2 539.5,57.7 539.5,59.2 539.6,59.2 539.9,57.7 539.9,56.2" fill="#8cd818"/>
<polygon points="539.3,61.2 538.8,62.7 538.2,65.2 538.6,67.7 538.3,70.2 537.6,72.7 537.9,75.2 537.3,77.7 536.7,80.2 536.9,82.7 536.9,85.2 536.2,87.7 536.0,90.2 535.8,92.7 535.4,95.2 535.2,97.7 535.2,100.2 534.9,102.7 534.3,105.2 534.3,107.7 534.1,110.2 533.7,112.7 533.9,115.2 533.8,117.7 533.1,120.2 533.1,122.7 533.2,125.2 532.7,127.7 532.7,130.2 532.8,132.7 532.1,135.2 531.8,137.7 531.9,140.2 531.7,142.7 531.3,145.2 531.2,147.7 531.0,150.2 530.5,152.7 530.5,155.2 531.0,157.7 530.1,160.2 529.8,162.7 529.9,165.2 529.4,167.7 529.2,170.2 529.5,172.7 528.8,175.2 528.4,177.7 528.4,180.2 528.1,182.7 527.9,185.2 527.9,187.7 527.7,190.2 527.1,192.7 526.9,195.2 527.0,197.7 526.7,200.2 526.3,202.7 526.4,205.2 525.7,207.7 525.3,210.2 525.5,212.7 525.2,215.2 524.6,217.7 524.6,220.2 524.2,222.7 523.8,225.2 523.9,227.7 523.9,230.2 523.4,232.7 523.2,235.2 523.2,237.7 522.9,240.2 522.7,242.7 523.0,244.2 523.1,244.2 523.8,242.7 524.1,240.2 524.3,237.7 524.7,235.2 525.1,232.7 525.1,230.2 525.5,227.7 526.2,225.2 526.2,222.7 526.3,220.2 526.8,217.7 526.7,215.2 526.9,212.7 527.6,210.2 527.6,207.7 527.5,205.2 528.0,202.7 528.2,200.2 528.3,197.7 528.9,195.2 529.2,192.7 529.2,190.2 529.4,187.7 529.9,185.2 530.2,182.7 530.4,180.2 530.8,177.7 530.8,175.2 530.5,172.7 531.2,170.2 531.5,167.7 531.3,165.2 531.8,162.7 531.9,160.2 531.5,157.7 532.3,155.2 532.7,152.7 532.7,150.2 532.9,147.7 533.2,145.2 533.2,142.7 533.4,140.2 533.9,137.7 534.0,135.2 533.7,132.7 534.2,130.2 534.6,127.7 534.5,125.2 535.0,122.7 535.4,120.2 535.1,117.7 535.5,115.2 536.0,112.7 536.0,110.2 536.3,107.7 536.7,105.2 536.6,102.7 536.7,100.2 537.2,97.7 537.4,95.2 537.5,92.7 537.7,90.2 537.9,87.7 537.7,85.2 538.1,82.7 538.7,80.2 538.6,77.7 538.5,75.2 539.1,72.7 538.9,70.2 539.0,67.7 539.9,65.2 539.8,62.7 539.4,61.2" fill="#8cd818"/>
<polygon points="522.8,246.2 522.5,247.7 521.7,250.2 521.6,252.7 521.5,255.2 520.9,257.7 520.8,260.2 520.6,262.7 519.9,265.2 519.7,267.7 519.7,270.2 519.3,272.7 519.1,275.2 519.0,277.7 518.6,280.2 518.4,282.7 518.6,285.2 518.6,287.7 518.2,290.2 518.2,292.7 518.4,294.2 518.5,294.2 518.9,292.7 519.4,290.2 519.5,287.7 520.0,285.2 520.6,282.7 520.8,280.2 520.9,277.7 521.3,275.2 521.6,272.7 521.7,270.2 522.0,267.7 522.3,265.2 522.1,262.7 522.3,260.2 522.8,257.7 522.6,255.2 523.0,252.7 523.4,250.2 523.0,247.7 522.9,246.2" fill="#8cd818"/>
<polygon points="539.3,61.2 539.2,62.7 538.4,65.2 538.9,66.7 539.0,66.7 539.7,65.2 539.3,62.7 539.4,61.2" fill="#dce81a"/>
<polygon points="538.3,71.2 537.8,72.7 538.1,74.2 538.4,74.2 538.9,72.7 538.7,71.2" fill="#dce81a"/>
<polygon points="538.0,76.2 537.5,77.7 536.9,80.2 537.1,82.7 537.3,84.2 537.4,84.2 537.9,82.7 538.6,80.2 538.4,77.7 538.1,76.2" fill="#dce81a"/>
<polygon points="537.1,86.2 536.4,87.7 536.2,90.2 536.0,92.7 535.5,95.2 535.3,97.7 535.4,100.2 535.1,102.7 534.5,105.2 534.4,107.7 534.3,110.2 533.9,112.7 534.1,115.2 534.1,117.7 533.3,120.2 533.2,122.7 533.5,125.2 532.9,127.7 533.0,130.2 533.3,131.7 533.4,131.7 533.9,130.2 534.4,127.7 534.2,125.2 534.9,122.7 535.2,120.2 534.8,117.7 535.3,115.2 535.8,112.7 535.9,110.2 536.2,107.7 536.5,105.2 536.4,102.7 536.5,100.2 537.0,97.7 537.3,95.2 537.3,92.7 537.5,90.2 537.7,87.7 537.2,86.2" fill="#dce81a"/>
<polygon points="533.1,133.7 532.2,135.2 532.0,137.7 532.1,140.2 531.9,142.7 531.5,145.2 531.4,147.7 531.1,150.2 530.7,152.7 530.7,155.2 531.3,156.7 531.4,156.7 532.1,155.2 532.6,152.7 532.5,150.2 532.7,147.7 533.0,145.2 533.0,142.7 533.2,140.2 533.7,137.7 533.8,135.2 533.2,133.7" fill="#dce81a"/>
<polygon points="531.1,158.7 530.3,160.2 530.0,162.7 530.2,165.2 529.5,167.7 529.4,170.2 530.0,172.7 529.0,175.2 528.6,177.7 528.6,180.2 528.3,182.7 528.0,185.2 528.1,187.7 527.9,190.2 527.3,192.7 527.1,195.2 527.3,197.7 526.9,200.2 526.5,202.7 526.8,205.2 525.9,207.7 525.4,210.2 525.8,212.7 525.4,215.2 524.8,217.7 524.8,220.2 524.4,222.7 523.9,225.2 524.1,227.7 524.2,230.2 523.6,232.7 523.5,235.2 523.6,237.7 523.1,240.2 522.9,242.7 523.0,244.2 523.1,244.2 523.5,242.7 523.8,240.2 523.9,237.7 524.5,235.2 524.9,232.7 524.8,230.2 525.3,227.7 526.0,225.2 526.0,222.7 526.1,220.2 526.6,217.7 526.5,215.2 526.6,212.7 527.4,210.2 527.5,207.7 527.1,205.2 527.9,202.7 528.0,200.2 528.1,197.7 528.8,195.2 529.0,192.7 529.0,190.2 529.2,187.7 529.8,185.2 530.0,182.7 530.2,180.2 530.6,177.7 530.6,175.2 530.0,172.7 531.1,170.2 531.3,167.7 531.1,165.2 531.6,162.7 531.7,160.2 531.2,158.7" fill="#dce81a"/>
<polygon points="522.6,248.7 521.9,250.2 521.8,252.7 521.7,255.2 521.1,257.7 521.1,260.2 520.8,262.7 520.1,265.2 519.9,267.7 519.8,270.2 519.4,272.7 519.3,275.2 519.2,277.7 518.8,280.2 518.6,282.7 518.8,285.2 519.1,286.7 519.2,286.7 519.8,285.2 520.4,282.7 520.7,280.2 520.8,277.7 521.1,275.2 521.4,272.7 521.5,270.2 521.9,267.7 522.2,265.2 521.9,262.7 522.1,260.2 522.6,257.7 522.4,255.2 522.7,252.7 523.2,250.2 522.7,248.7" fill="#dce81a"/>
<polygon points="518.9,288.7 518.5,290.2 518.6,291.7 518.7,291.7 519.1,290.2 519.0,288.7" fill="#dce81a"/>
<polygon points="539.0,63.7 538.6,65.2 538.8,66.7 539.0,66.7 539.5,65.2 539.3,63.7" fill="#fcd81c"/>
<polygon points="538.4,71.2 538.1,72.7 538.2,74.2 538.3,74.2 538.7,72.7 538.6,71.2" fill="#fcd81c"/>
<polygon points="537.6,78.7 537.0,80.2 537.4,81.7 537.8,81.7 538.4,80.2 538.1,78.7" fill="#fcd81c"/>
<polygon points="537.1,86.2 536.6,87.7 536.4,90.2 536.2,92.7 535.7,95.2 535.5,97.7 535.7,100.2 535.3,102.7 534.7,105.2 534.6,107.7 534.5,110.2 534.0,112.7 534.3,115.2 534.5,116.7 534.6,116.7 535.0,115.2 535.7,112.7 535.7,110.2 536.0,107.7 536.4,105.2 536.2,102.7 536.2,100.2 536.8,97.7 537.1,95.2 537.1,92.7 537.3,90.2 537.5,87.7 537.2,86.2" fill="#fcd81c"/>
<polygon points="534.3,118.7 533.4,120.2 533.4,122.7 533.9,124.2 534.0,124.2 534.7,122.7 535.1,120.2 534.4,118.7" fill="#fcd81c"/>
<polygon points="533.7,126.2 533.1,127.7 533.3,130.2 533.3,131.7 533.4,131.7 533.6,130.2 534.2,127.7 533.8,126.2" fill="#fcd81c"/>
<polygon points="533.1,133.7 532.4,135.2 532.2,137.7 532.4,140.2 532.2,142.7 531.7,145.2 531.5,147.7 531.3,150.2 530.8,152.7 530.9,155.2 531.3,156.7 531.4,156.7 532.0,155.2 532.4,152.7 532.3,150.2 532.5,147.7 532.8,145.2 532.7,142.7 532.9,140.2 533.5,137.7 533.7,135.2 533.2,133.7" fill="#fcd81c"/>
<polygon points="531.1,158.7 530.5,160.2 530.2,162.7 530.6,164.2 530.7,164.2 531.4,162.7 531.5,160.2 531.2,158.7" fill="#fcd81c"/>
<polygon points="530.5,166.2 529.7,167.7 529.5,170.2 530.0,171.7 530.1,171.7 530.9,170.2 531.1,167.7 530.6,166.2" fill="#fcd81c"/>
<polygon points="529.9,173.7 529.2,175.2 528.8,177.7 528.8,180.2 528.5,182.7 528.2,185.2 528.4,187.7 528.1,190.2 527.5,192.7 527.2,195.2 527.7,196.7 527.8,196.7 528.6,195.2 528.9,192.7 528.7,190.2 529.0,187.7 529.6,185.2 529.9,182.7 530.0,180.2 530.5,177.7 530.4,175.2 530.0,173.7" fill="#fcd81c"/>
<polygon points="527.5,198.7 527.2,200.2 526.7,202.7 527.0,204.2 527.1,204.2 527.7,202.7 527.7,200.2 527.6,198.7" fill="#fcd81c"/>
<polygon points="526.8,206.2 526.1,207.7 525.6,210.2 526.2,211.7 526.3,211.7 527.3,210.2 527.3,207.7 526.9,206.2" fill="#fcd81c"/>
<polygon points="526.0,213.7 525.7,215.2 524.9,217.7 525.0,220.2 524.6,222.7 524.1,225.2 524.3,227.7 524.5,229.2 524.6,229.2 525.1,227.7 525.9,225.2 525.9,222.7 525.9,220.2 526.5,217.7 526.2,215.2 526.1,213.7" fill="#fcd81c"/>
<polygon points="524.3,231.2 523.8,232.7 523.7,235.2 523.8,236.7 523.9,236.7 524.2,235.2 524.6,232.7 524.4,231.2" fill="#fcd81c"/>
<polygon points="522.5,248.7 522.1,250.2 522.2,251.7 522.5,251.7 523.0,250.2 522.8,248.7" fill="#fcd81c"/>
<polygon points="521.9,256.2 521.2,257.7 521.4,260.2 521.0,262.7 520.2,265.2 520.1,267.7 520.0,270.2 519.6,272.7 519.4,275.2 519.3,277.7 518.9,280.2 518.8,282.7 519.1,285.2 519.1,286.7 519.2,286.7 519.4,285.2 520.2,282.7 520.5,280.2 520.6,277.7 521.0,275.2 521.3,272.7 521.3,270.2 521.7,267.7 522.0,265.2 521.7,262.7 521.8,260.2 522.4,257.7 522.0,256.2" fill="#fcd81c"/>
<polygon points="539.1,63.7 538.8,65.2 538.8,66.7 539.0,66.7 539.3,65.2 539.2,63.7" fill="#f8981c"/>
<polygon points="537.7,78.7 537.2,80.2 537.4,81.7 537.8,81.7 538.3,80.2 538.0,78.7" fill="#f8981c"/>
<polygon points="537.1,86.2 536.8,87.7 536.7,90.2 536.4,92.7 535.8,95.2 535.6,97.7 536.0,99.2 536.1,99.2 536.7,97.7 537.0,95.2 536.8,92.7 537.0,90.2 537.3,87.7 537.2,86.2" fill="#f8981c"/>
<polygon points="535.8,101.2 535.5,102.7 534.8,105.2 534.7,107.7 534.6,110.2 534.2,112.7 534.7,114.2 534.8,114.2 535.6,112.7 535.5,110.2 535.9,107.7 536.3,105.2 536.0,102.7 535.9,101.2" fill="#f8981c"/>
<polygon points="534.3,118.7 533.6,120.2 533.6,122.7 533.9,124.2 534.0,124.2 534.6,122.7 535.0,120.2 534.4,118.7" fill="#f8981c"/>
<polygon points="533.6,126.2 533.2,127.7 533.4,129.2 533.7,129.2 534.1,127.7 533.9,126.2" fill="#f8981c"/>
<polygon points="533.1,133.7 532.6,135.2 532.3,137.7 532.7,139.2 532.8,139.2 533.4,137.7 533.5,135.2 533.2,133.7" fill="#f8981c"/>
<polygon points="532.3,143.7 531.9,145.2 531.7,147.7 531.5,150.2 531.0,152.7 531.1,155.2 531.3,156.7 531.4,156.7 531.8,155.2 532.3,152.7 532.1,150.2 532.3,147.7 532.6,145.2 532.4,143.7" fill="#f8981c"/>
<polygon points="531.1,158.7 530.7,160.2 530.3,162.7 530.6,164.2 530.7,164.2 531.3,162.7 531.3,160.2 531.2,158.7" fill="#f8981c"/>
<polygon points="530.5,166.2 529.8,167.7 529.7,170.2 530.0,171.7 530.1,171.7 530.8,170.2 531.0,167.7 530.6,166.2" fill="#f8981c"/>
<polygon points="529.9,173.7 529.3,175.2 528.9,177.7 528.9,180.2 528.6,182.7 528.3,185.2 528.7,186.7 528.8,186.7 529.5,185.2 529.7,182.7 529.9,180.2 530.3,177.7 530.3,175.2 530.0,173.7" fill="#f8981c"/>
<polygon points="528.3,191.2 527.6,192.7 527.4,195.2 527.7,196.7 527.8,196.7 528.5,195.2 528.7,192.7 528.4,191.2" fill="#f8981c"/>
<polygon points="527.2,201.2 526.9,202.7 527.0,204.2 527.1,204.2 527.5,202.7 527.4,201.2" fill="#f8981c"/>
<polygon points="526.8,206.2 526.3,207.7 525.7,210.2 526.2,211.7 526.3,211.7 527.2,210.2 527.1,207.7 526.9,206.2" fill="#f8981c"/>
<polygon points="525.8,216.2 525.0,217.7 525.2,220.2 524.7,222.7 524.2,225.2 524.6,227.7 524.5,229.2 524.6,229.2 524.9,227.7 525.7,225.2 525.7,222.7 525.7,220.2 526.4,217.7 525.9,216.2" fill="#f8981c"/>
<polygon points="524.3,231.2 524.1,232.7 524.0,234.2 524.1,234.2 524.4,232.7 524.4,231.2" fill="#f8981c"/>
<polygon points="522.6,248.7 522.3,250.2 522.3,251.7 522.4,251.7 522.8,250.2 522.7,248.7" fill="#f8981c"/>
<polygon points="521.8,256.2 521.4,257.7 521.6,259.2 521.8,259.2 522.2,257.7 522.1,256.2" fill="#f8981c"/>
<polygon points="521.2,263.7 520.3,265.2 520.2,267.7 520.1,270.2 519.7,272.7 519.6,275.2 519.5,277.7 519.1,280.2 518.9,282.7 519.3,284.2 519.4,284.2 520.1,282.7 520.4,280.2 520.4,277.7 520.8,275.2 521.2,272.7 521.2,270.2 521.6,267.7 521.9,265.2 521.3,263.7" fill="#f8981c"/>
<polygon points="537.7,78.7 537.3,80.2 537.5,81.7 537.7,81.7 538.1,80.2 538.0,78.7" fill="#ec4c1c"/>
<polygon points="536.5,93.7 536.0,95.2 535.8,97.7 536.0,99.2 536.1,99.2 536.6,97.7 536.8,95.2 536.6,93.7" fill="#ec4c1c"/>
<polygon points="535.6,103.7 534.9,105.2 534.8,107.7 534.8,110.2 534.3,112.7 534.7,114.2 534.8,114.2 535.4,112.7 535.3,110.2 535.8,107.7 536.2,105.2 535.7,103.7" fill="#ec4c1c"/>
<polygon points="534.3,118.7 533.7,120.2 533.7,122.7 533.9,124.2 534.0,124.2 534.4,122.7 534.8,120.2 534.4,118.7" fill="#ec4c1c"/>
<polygon points="533.7,126.2 533.5,127.7 533.5,129.2 533.6,129.2 533.8,127.7 533.8,126.2" fill="#ec4c1c"/>
<polygon points="533.1,133.7 532.7,135.2 532.4,137.7 532.7,139.2 532.8,139.2 533.3,137.7 533.4,135.2 533.2,133.7" fill="#ec4c1c"/>
<polygon points="532.3,143.7 532.1,145.2 532.1,146.7 532.1,146.7 532.3,145.2 532.4,143.7" fill="#ec4c1c"/>
<polygon points="531.6,151.2 531.1,152.7 531.3,154.2 531.7,154.2 532.2,152.7 531.9,151.2" fill="#ec4c1c"/>
<polygon points="530.9,161.2 530.5,162.7 530.6,164.2 530.8,164.2 531.1,162.7 531.0,161.2" fill="#ec4c1c"/>
<polygon points="530.5,166.2 529.9,167.7 529.8,170.2 530.0,171.7 530.1,171.7 530.6,170.2 530.9,167.7 530.6,166.2" fill="#ec4c1c"/>
<polygon points="529.9,173.7 529.5,175.2 529.0,177.7 529.1,180.2 528.7,182.7 528.5,185.2 528.7,186.7 528.8,186.7 529.4,185.2 529.6,182.7 529.7,180.2 530.2,177.7 530.1,175.2 530.0,173.7" fill="#ec4c1c"/>
<polygon points="528.3,191.2 527.7,192.7 527.5,195.2 527.7,196.7 527.8,196.7 528.3,195.2 528.6,192.7 528.4,191.2" fill="#ec4c1c"/>
<polygon points="526.8,206.2 526.5,207.7 525.8,210.2 526.2,211.7 526.3,211.7 527.1,210.2 526.9,207.7 526.9,206.2" fill="#ec4c1c"/>
<polygon points="525.7,216.2 525.2,217.7 525.4,219.2 525.7,219.2 526.3,217.7 526.0,216.2" fill="#ec4c1c"/>
<polygon points="525.3,221.2 524.8,222.7 524.3,225.2 524.8,226.7 524.9,226.7 525.6,225.2 525.6,222.7 525.4,221.2" fill="#ec4c1c"/>
<polygon points="521.9,256.2 521.6,257.7 521.6,259.2 521.7,259.2 522.0,257.7 522.0,256.2" fill="#ec4c1c"/>
<polygon points="521.2,263.7 520.4,265.2 520.3,267.7 520.3,270.2 519.8,272.7 519.7,275.2 519.6,277.7 519.2,280.2 519.0,282.7 519.3,284.2 519.4,284.2 520.0,282.7 520.3,280.2 520.3,277.7 520.7,275.2 521.0,272.7 521.0,270.2 521.5,267.7 521.8,265.2 521.3,263.7" fill="#ec4c1c"/>
<polygon points="537.8,78.7 537.5,80.2 537.5,81.7 537.6,81.7 537.9,80.2 537.9,78.7" fill="#dc241c"/>
<polygon points="536.5,93.7 536.1,95.2 536.0,97.7 536.0,99.2 536.1,99.2 536.3,97.7 536.6,95.2 536.6,93.7" fill="#dc241c"/>
<polygon points="535.6,103.7 535.0,105.2 535.0,107.7 535.1,109.2 535.2,109.2 535.6,107.7 536.0,105.2 535.7,103.7" fill="#dc241c"/>
<polygon points="534.9,111.2 534.4,112.7 534.6,114.2 534.9,114.2 535.3,112.7 535.1,111.2" fill="#dc241c"/>
<polygon points="534.2,118.7 533.8,120.2 534.0,121.7 534.3,121.7 534.7,120.2 534.5,118.7" fill="#dc241c"/>
<polygon points="532.9,136.2 532.6,137.7 532.7,139.2 532.8,139.2 533.1,137.7 533.0,136.2" fill="#dc241c"/>
<polygon points="531.6,151.2 531.2,152.7 531.4,154.2 531.6,154.2 532.0,152.7 531.9,151.2" fill="#dc241c"/>
<polygon points="530.5,166.2 530.1,167.7 530.0,170.2 530.0,171.7 530.1,171.7 530.4,170.2 530.7,167.7 530.6,166.2" fill="#dc241c"/>
<polygon points="529.6,176.2 529.1,177.7 529.3,179.2 529.6,179.2 530.1,177.7 529.9,176.2" fill="#dc241c"/>
<polygon points="529.3,181.2 528.9,182.7 528.6,185.2 528.7,186.7 528.8,186.7 529.2,185.2 529.4,182.7 529.4,181.2" fill="#dc241c"/>
<polygon points="528.3,191.2 527.9,192.7 527.7,195.2 527.7,196.7 527.8,196.7 528.1,195.2 528.4,192.7 528.4,191.2" fill="#dc241c"/>
<polygon points="526.4,208.7 525.9,210.2 526.1,211.7 526.5,211.7 527.0,210.2 526.7,208.7" fill="#dc241c"/>
<polygon points="525.7,216.2 525.3,217.7 525.4,219.2 525.7,219.2 526.1,217.7 526.0,216.2" fill="#dc241c"/>
<polygon points="525.3,221.2 525.1,222.7 524.4,225.2 524.8,226.7 524.9,226.7 525.5,225.2 525.3,222.7 525.4,221.2" fill="#dc241c"/>
<polygon points="521.2,263.7 520.5,265.2 520.4,267.7 520.6,270.2 519.9,272.7 519.8,275.2 520.0,276.7 520.1,276.7 520.6,275.2 520.9,272.7 520.8,270.2 521.4,267.7 521.7,265.2 521.3,263.7" fill="#dc241c"/>
<polygon points="519.8,278.7 519.3,280.2 519.2,282.7 519.3,284.2 519.4,284.2 519.8,282.7 520.2,280.2 519.9,278.7" fill="#dc241c"/>
<polygon points="571.2,43.7 569.8,45.2 569.6,47.7 569.2,50.2 569.2,52.7 569.1,55.2 568.4,57.7 568.1,60.2 568.2,62.7 567.9,65.2 567.5,67.7 567.2,70.2 567.0,72.7 566.7,75.2 566.3,77.7 566.3,80.2 566.4,82.7 565.8,85.2 565.4,87.7 565.4,90.2 565.2,92.7 564.9,95.2 564.7,97.7 564.6,100.2 564.4,102.7 563.9,105.2 563.8,107.7 564.0,110.2 563.5,112.7 563.1,115.2 563.0,117.7 562.8,120.2 562.6,122.7 562.3,125.2 562.4,127.7 562.2,130.2 561.6,132.7 561.4,135.2 561.5,137.7 561.2,140.2 560.9,142.7 560.7,145.2 560.5,147.7 560.3,150.2 560.0,152.7 560.0,155.2 560.1,157.7 559.5,160.2 559.2,162.7 559.2,165.2 559.0,167.7 558.7,170.2 558.6,172.7 558.4,175.2 558.1,177.7 557.6,180.2 557.5,182.7 557.6,185.2 557.1,187.7 556.8,190.2 556.7,192.7 556.4,195.2 556.1,197.7 555.9,200.2 555.9,202.7 555.6,205.2 555.0,207.7 554.8,210.2 554.8,212.7 554.4,215.2 554.1,217.7 554.0,220.2 553.7,222.7 553.4,225.2 553.1,227.7 553.2,230.2 553.2,232.7 552.5,235.2 552.4,237.7 552.3,240.2 552.0,242.7 551.7,245.2 551.6,247.7 551.4,250.2 551.0,252.7 550.6,255.2 550.6,257.7 550.6,260.2 550.0,262.7 549.7,265.2 549.6,267.7 549.2,270.2 549.0,272.7 548.8,275.2 548.8,277.7 548.4,280.2 547.9,282.7 547.9,285.2 547.9,287.7 547.5,290.2 547.4,292.7 547.4,295.2 548.6,296.7 548.7,296.7 550.2,295.2 550.6,292.7 550.9,290.2 551.0,287.7 551.5,285.2 551.9,282.7 551.9,280.2 552.0,277.7 552.4,275.2 552.8,272.7 552.9,270.2 553.0,267.7 553.4,265.2 553.5,262.7 553.4,260.2 553.9,257.7 554.4,255.2 554.4,252.7 554.5,250.2 554.7,247.7 555.1,245.2 555.4,242.7 555.5,240.2 556.0,237.7 556.3,235.2 556.1,232.7 556.6,230.2 557.2,227.7 557.4,225.2 557.6,222.7 557.8,220.2 558.2,217.7 558.4,215.2 558.4,212.7 558.9,210.2 559.2,207.7 559.1,205.2 559.3,202.7 559.8,200.2 560.1,197.7 560.3,195.2 560.5,192.7 560.9,190.2 561.1,187.7 561.1,185.2 561.6,182.7 562.0,180.2 562.0,177.7 562.1,175.2 562.3,172.7 562.6,170.2 562.7,167.7 562.9,165.2 563.3,162.7 563.4,160.2 563.2,157.7 563.7,155.2 564.1,152.7 564.3,150.2 564.4,147.7 564.6,145.2 564.8,142.7 564.9,140.2 565.0,137.7 565.5,135.2 565.7,132.7 565.5,130.2 565.8,127.7 566.2,125.2 566.4,122.7 566.6,120.2 566.8,117.7 567.0,115.2 567.1,112.7 567.0,110.2 567.7,107.7 568.0,105.2 568.0,102.7 568.1,100.2 568.5,97.7 568.7,95.2 568.9,92.7 569.2,90.2 569.6,87.7 569.6,85.2 569.5,82.7 570.0,80.2 570.4,77.7 570.5,75.2 570.6,72.7 570.8,70.2 571.0,67.7 571.0,65.2 571.2,62.7 571.7,60.2 571.8,57.7 571.6,55.2 571.9,52.7 572.4,50.2 572.4,47.7 572.7,45.2 571.3,43.7" fill="#1d6cbc"/>
<polygon points="571.2,43.7 570.2,45.2 570.0,47.7 569.6,50.2 569.6,52.7 569.6,55.2 568.8,57.7 568.4,60.2 568.6,62.7 568.3,65.2 567.9,67.7 567.6,70.2 567.4,72.7 567.1,75.2 566.7,77.7 566.6,80.2 566.7,82.7 566.1,85.2 565.8,87.7 565.7,90.2 565.5,92.7 565.3,95.2 565.1,97.7 565.0,100.2 564.7,102.7 564.2,105.2 564.1,107.7 564.4,110.2 563.9,112.7 563.5,115.2 563.4,117.7 563.2,120.2 562.9,122.7 562.7,125.2 562.7,127.7 562.6,130.2 561.9,132.7 561.7,135.2 561.9,137.7 561.5,140.2 561.2,142.7 561.1,145.2 560.9,147.7 560.6,150.2 560.3,152.7 560.4,155.2 560.5,157.7 559.8,160.2 559.6,162.7 559.6,165.2 559.3,167.7 559.1,170.2 558.9,172.7 558.8,175.2 558.4,177.7 558.0,180.2 557.9,182.7 557.9,185.2 557.4,187.7 557.1,190.2 557.0,192.7 556.7,195.2 556.5,197.7 556.3,200.2 556.3,202.7 556.0,205.2 555.3,207.7 555.1,210.2 555.2,212.7 554.7,215.2 554.4,217.7 554.3,220.2 554.1,222.7 553.7,225.2 553.4,227.7 553.6,230.2 553.6,232.7 552.9,235.2 552.7,237.7 552.7,240.2 552.3,242.7 552.1,245.2 552.0,247.7 551.8,250.2 551.4,252.7 550.9,255.2 550.9,257.7 551.1,260.2 550.4,262.7 550.1,265.2 550.0,267.7 549.6,270.2 549.3,272.7 549.2,275.2 549.2,277.7 548.8,280.2 548.3,282.7 548.2,285.2 548.3,287.7 547.9,290.2 547.8,292.7 547.8,295.2 548.6,296.7 548.7,296.7 549.8,295.2 550.2,292.7 550.6,290.2 550.6,287.7 551.2,285.2 551.6,282.7 551.5,280.2 551.6,277.7 552.1,275.2 552.4,272.7 552.6,270.2 552.6,267.7 553.0,265.2 553.2,262.7 553.0,260.2 553.5,257.7 554.0,255.2 554.1,252.7 554.1,250.2 554.3,247.7 554.8,245.2 555.0,242.7 555.1,240.2 555.6,237.7 555.9,235.2 555.7,232.7 556.2,230.2 556.9,227.7 557.1,225.2 557.2,222.7 557.4,220.2 557.8,217.7 558.0,215.2 558.1,212.7 558.6,210.2 558.9,207.7 558.7,205.2 558.9,202.7 559.4,200.2 559.8,197.7 560.0,195.2 560.2,192.7 560.6,190.2 560.8,187.7 560.8,185.2 561.3,182.7 561.7,180.2 561.7,177.7 561.7,175.2 562.0,172.7 562.2,170.2 562.4,167.7 562.5,165.2 562.9,162.7 563.1,160.2 562.8,157.7 563.3,155.2 563.8,152.7 563.9,150.2 564.0,147.7 564.2,145.2 564.5,142.7 564.6,140.2 564.7,137.7 565.2,135.2 565.4,132.7 565.1,130.2 565.4,127.7 565.9,125.2 566.1,122.7 566.2,120.2 566.4,117.7 566.7,115.2 566.7,112.7 566.7,110.2 567.3,107.7 567.7,105.2 567.6,102.7 567.8,100.2 568.1,97.7 568.4,95.2 568.5,92.7 568.8,90.2 569.2,87.7 569.3,85.2 569.1,82.7 569.7,80.2 570.1,77.7 570.1,75.2 570.2,72.7 570.4,70.2 570.6,67.7 570.7,65.2 570.8,62.7 571.4,60.2 571.5,57.7 571.1,55.2 571.5,52.7 572.0,50.2 572.0,47.7 572.2,45.2 571.3,43.7" fill="#198c90"/>
<polygon points="571.2,43.7 570.6,45.2 570.3,47.7 569.9,50.2 569.9,52.7 570.0,55.2 569.1,57.7 568.7,60.2 568.9,62.7 568.6,65.2 568.2,67.7 567.9,70.2 567.7,72.7 567.3,75.2 566.9,77.7 566.9,80.2 567.0,82.7 566.4,85.2 566.0,87.7 566.0,90.2 565.8,92.7 565.6,95.2 565.4,97.7 565.3,100.2 565.0,102.7 564.5,105.2 564.4,107.7 564.7,110.2 564.1,112.7 563.7,115.2 563.6,117.7 563.4,120.2 563.2,122.7 563.0,125.2 563.0,127.7 562.9,130.2 562.2,132.7 562.0,135.2 562.1,137.7 561.8,140.2 561.5,142.7 561.4,145.2 561.2,147.7 560.9,150.2 560.6,152.7 560.7,155.2 560.8,157.7 560.1,160.2 559.8,162.7 559.9,165.2 559.6,167.7 559.3,170.2 559.2,172.7 559.0,175.2 558.7,177.7 558.2,180.2 558.1,182.7 558.2,185.2 557.7,187.7 557.4,190.2 557.3,192.7 557.0,195.2 556.7,197.7 556.5,200.2 556.6,202.7 556.3,205.2 555.6,207.7 555.4,210.2 555.5,212.7 555.0,215.2 554.7,217.7 554.6,220.2 554.3,222.7 554.0,225.2 553.7,227.7 553.8,230.2 553.9,232.7 553.2,235.2 553.0,237.7 553.0,240.2 552.6,242.7 552.4,245.2 552.3,247.7 552.2,250.2 551.7,252.7 551.2,255.2 551.2,257.7 551.4,260.2 550.7,262.7 550.4,265.2 550.3,267.7 549.9,270.2 549.6,272.7 549.5,275.2 549.5,277.7 549.1,280.2 548.5,282.7 548.5,285.2 548.6,287.7 548.2,290.2 548.1,292.7 548.1,295.2 548.6,296.7 548.7,296.7 549.4,295.2 549.9,292.7 550.3,290.2 550.3,287.7 550.9,285.2 551.3,282.7 551.2,280.2 551.3,277.7 551.8,275.2 552.1,272.7 552.3,270.2 552.3,267.7 552.7,265.2 552.9,262.7 552.6,260.2 553.3,257.7 553.8,255.2 553.8,252.7 553.7,250.2 554.0,247.7 554.5,245.2 554.7,242.7 554.8,240.2 555.3,237.7 555.7,235.2 555.4,232.7 556.0,230.2 556.6,227.7 556.8,225.2 557.0,222.7 557.2,220.2 557.6,217.7 557.8,215.2 557.8,212.7 558.4,210.2 558.7,207.7 558.5,205.2 558.6,202.7 559.2,200.2 559.5,197.7 559.7,195.2 559.9,192.7 560.3,190.2 560.5,187.7 560.5,185.2 561.1,182.7 561.5,180.2 561.4,177.7 561.4,175.2 561.7,172.7 562.0,170.2 562.1,167.7 562.2,165.2 562.7,162.7 562.8,160.2 562.5,157.7 563.1,155.2 563.6,152.7 563.7,150.2 563.8,147.7 564.0,145.2 564.2,142.7 564.3,140.2 564.4,137.7 564.9,135.2 565.1,132.7 564.8,130.2 565.1,127.7 565.6,125.2 565.8,122.7 565.9,120.2 566.1,117.7 566.4,115.2 566.5,112.7 566.3,110.2 567.1,107.7 567.4,105.2 567.3,102.7 567.5,100.2 567.8,97.7 568.1,95.2 568.3,92.7 568.5,90.2 569.0,87.7 569.0,85.2 568.8,82.7 569.4,80.2 569.8,77.7 569.8,75.2 569.9,72.7 570.2,70.2 570.3,67.7 570.3,65.2 570.5,62.7 571.1,60.2 571.2,57.7 570.6,55.2 571.2,52.7 571.7,50.2 571.7,47.7 571.9,45.2 571.3,43.7" fill="#1aa850"/>
<polygon points="571.2,43.7 571.0,45.2 570.7,47.7 570.2,50.2 570.5,52.7 570.4,54.2 570.5,54.2 570.6,52.7 571.4,50.2 571.3,47.7 571.5,45.2 571.3,43.7" fill="#3cc020"/>
<polygon points="570.2,56.2 569.3,57.7 569.0,60.2 569.2,62.7 568.9,65.2 568.4,67.7 568.2,70.2 567.9,72.7 567.6,75.2 567.1,77.7 567.1,80.2 567.3,82.7 566.6,85.2 566.2,87.7 566.2,90.2 566.1,92.7 565.8,95.2 565.6,97.7 565.6,100.2 565.3,102.7 564.7,105.2 564.6,107.7 565.0,110.2 564.4,112.7 564.0,115.2 563.9,117.7 563.7,120.2 563.4,122.7 563.2,125.2 563.3,127.7 563.2,130.2 562.4,132.7 562.2,135.2 562.4,137.7 562.1,140.2 561.7,142.7 561.6,145.2 561.4,147.7 561.1,150.2 560.8,152.7 560.9,155.2 561.1,157.7 560.3,160.2 560.0,162.7 560.1,165.2 559.8,167.7 559.6,170.2 559.4,172.7 559.3,175.2 558.9,177.7 558.4,180.2 558.3,182.7 558.5,185.2 557.9,187.7 557.6,190.2 557.5,192.7 557.2,195.2 556.9,197.7 556.8,200.2 556.9,202.7 556.5,205.2 555.8,207.7 555.6,210.2 555.7,212.7 555.2,215.2 554.9,217.7 554.9,220.2 554.6,222.7 554.2,225.2 553.9,227.7 554.1,230.2 554.2,232.7 553.4,235.2 553.2,237.7 553.3,240.2 552.9,242.7 552.6,245.2 552.6,247.7 552.5,250.2 551.9,252.7 551.4,255.2 551.5,257.7 551.9,260.2 550.9,262.7 550.6,265.2 550.6,267.7 550.1,270.2 549.8,272.7 549.7,275.2 549.8,277.7 549.4,280.2 548.8,282.7 548.7,285.2 548.9,287.7 548.5,290.2 548.4,292.7 548.6,295.2 548.6,296.7 548.7,296.7 549.0,295.2 549.6,292.7 550.0,290.2 550.0,287.7 550.7,285.2 551.1,282.7 551.0,280.2 551.0,277.7 551.5,275.2 551.9,272.7 552.1,270.2 552.1,267.7 552.5,265.2 552.6,262.7 552.1,260.2 553.0,257.7 553.5,255.2 553.5,252.7 553.4,250.2 553.7,247.7 554.2,245.2 554.5,242.7 554.5,240.2 555.1,237.7 555.4,235.2 555.1,232.7 555.7,230.2 556.4,227.7 556.6,225.2 556.7,222.7 556.9,220.2 557.3,217.7 557.5,215.2 557.5,212.7 558.1,210.2 558.4,207.7 558.2,205.2 558.4,202.7 558.9,200.2 559.3,197.7 559.5,195.2 559.7,192.7 560.1,190.2 560.3,187.7 560.2,185.2 560.8,182.7 561.2,180.2 561.2,177.7 561.2,175.2 561.5,172.7 561.7,170.2 561.9,167.7 562.0,165.2 562.5,162.7 562.6,160.2 562.2,157.7 562.8,155.2 563.3,152.7 563.4,150.2 563.5,147.7 563.7,145.2 564.0,142.7 564.1,140.2 564.1,137.7 564.7,135.2 564.9,132.7 564.6,130.2 564.9,127.7 565.4,125.2 565.6,122.7 565.7,120.2 565.9,117.7 566.2,115.2 566.2,112.7 566.0,110.2 566.9,107.7 567.2,105.2 567.1,102.7 567.2,100.2 567.6,97.7 567.8,95.2 568.0,92.7 568.3,90.2 568.7,87.7 568.8,85.2 568.5,82.7 569.2,80.2 569.6,77.7 569.6,75.2 569.7,72.7 569.9,70.2 570.1,67.7 570.1,65.2 570.2,62.7 570.8,60.2 570.9,57.7 570.3,56.2" fill="#3cc020"/>
<polygon points="570.9,48.7 570.6,50.2 570.6,51.7 570.7,51.7 570.9,50.2 571.0,48.7" fill="#8cd818"/>
<polygon points="570.2,56.2 569.6,57.7 569.2,60.2 569.7,61.7 569.8,61.7 570.6,60.2 570.7,57.7 570.3,56.2" fill="#8cd818"/>
<polygon points="569.5,63.7 569.3,65.2 568.7,67.7 568.4,70.2 568.2,72.7 567.8,75.2 567.3,77.7 567.3,80.2 567.7,82.7 566.8,85.2 566.4,87.7 566.4,90.2 566.3,92.7 566.0,95.2 565.8,97.7 565.8,100.2 565.5,102.7 564.9,105.2 564.8,107.7 565.5,109.2 565.6,109.2 566.6,107.7 567.0,105.2 566.8,102.7 567.0,100.2 567.4,97.7 567.6,95.2 567.8,92.7 568.1,90.2 568.6,87.7 568.6,85.2 568.1,82.7 569.0,80.2 569.4,77.7 569.4,75.2 569.5,72.7 569.7,70.2 569.8,67.7 569.7,65.2 569.6,63.7" fill="#8cd818"/>
<polygon points="565.4,111.2 564.6,112.7 564.2,115.2 564.1,117.7 563.9,120.2 563.6,122.7 563.4,125.2 563.6,127.7 563.5,130.2 562.6,132.7 562.4,135.2 562.6,137.7 562.3,140.2 561.9,142.7 561.8,145.2 561.6,147.7 561.3,150.2 561.0,152.7 561.1,155.2 561.7,156.7 561.8,156.7 562.6,155.2 563.1,152.7 563.2,150.2 563.3,147.7 563.5,145.2 563.8,142.7 563.9,140.2 563.9,137.7 564.5,135.2 564.7,132.7 564.3,130.2 564.6,127.7 565.2,125.2 565.3,122.7 565.5,120.2 565.7,117.7 566.0,115.2 566.0,112.7 565.5,111.2" fill="#8cd818"/>
<polygon points="561.5,158.7 560.5,160.2 560.2,162.7 560.3,165.2 560.0,167.7 559.8,170.2 559.6,172.7 559.5,175.2 559.1,177.7 558.6,180.2 558.5,182.7 558.7,185.2 558.1,187.7 557.8,190.2 557.7,192.7 557.4,195.2 557.1,197.7 557.0,200.2 557.1,202.7 556.8,205.2 556.0,207.7 555.8,210.2 555.9,212.7 555.4,215.2 555.1,217.7 555.1,220.2 554.8,222.7 554.4,225.2 554.1,227.7 554.4,230.2 554.7,231.7 554.8,231.7 555.4,230.2 556.2,227.7 556.4,225.2 556.5,222.7 556.7,220.2 557.1,217.7 557.3,215.2 557.3,212.7 557.9,210.2 558.3,207.7 558.0,205.2 558.1,202.7 558.7,200.2 559.1,197.7 559.3,195.2 559.5,192.7 559.9,190.2 560.1,187.7 560.0,185.2 560.6,182.7 561.1,180.2 561.0,177.7 561.0,175.2 561.2,172.7 561.5,170.2 561.7,167.7 561.8,165.2 562.3,162.7 562.4,160.2 561.6,158.7" fill="#8cd818"/>
<polygon points="554.5,233.7 553.6,235.2 553.5,237.7 553.7,240.2 553.1,242.7 552.9,245.2 553.1,247.7 553.0,249.2 553.1,249.2 553.2,247.7 554.0,245.2 554.2,242.7 554.1,240.2 554.9,237.7 555.2,235.2 554.6,233.7" fill="#8cd818"/>
<polygon points="552.8,251.2 552.2,252.7 551.6,255.2 551.8,257.7 552.1,259.2 552.2,259.2 552.7,257.7 553.3,255.2 553.3,252.7 552.9,251.2" fill="#8cd818"/>
<polygon points="551.9,261.2 551.2,262.7 550.9,265.2 550.8,267.7 550.3,270.2 550.0,272.7 549.9,275.2 550.1,277.7 549.6,280.2 549.0,282.7 549.0,285.2 549.4,287.7 548.7,290.2 548.7,292.7 548.8,294.2 548.9,294.2 549.3,292.7 549.7,290.2 549.5,287.7 550.4,285.2 550.9,282.7 550.7,280.2 550.7,277.7 551.3,275.2 551.7,272.7 551.8,270.2 551.8,267.7 552.2,265.2 552.4,262.7 552.0,261.2" fill="#8cd818"/>
<polygon points="570.2,56.2 569.9,57.7 569.4,60.2 569.7,61.7 569.8,61.7 570.4,60.2 570.3,57.7 570.3,56.2" fill="#dce81a"/>
<polygon points="569.3,66.2 569.0,67.7 568.6,70.2 568.4,72.7 568.0,75.2 567.5,77.7 567.5,80.2 568.0,81.7 568.1,81.7 568.8,80.2 569.2,77.7 569.2,75.2 569.2,72.7 569.4,70.2 569.5,67.7 569.4,66.2" fill="#dce81a"/>
<polygon points="567.8,83.7 567.0,85.2 566.6,87.7 566.6,90.2 566.5,92.7 566.2,95.2 566.0,97.7 566.1,100.2 565.8,102.7 565.0,105.2 565.0,107.7 565.5,109.2 565.6,109.2 566.5,107.7 566.9,105.2 566.6,102.7 566.7,100.2 567.2,97.7 567.4,95.2 567.6,92.7 567.9,90.2 568.4,87.7 568.4,85.2 567.9,83.7" fill="#dce81a"/>
<polygon points="565.4,111.2 564.8,112.7 564.4,115.2 564.3,117.7 564.1,120.2 563.8,122.7 563.6,125.2 563.9,127.7 563.9,129.2 564.0,129.2 564.2,127.7 565.0,125.2 565.2,122.7 565.3,120.2 565.5,117.7 565.8,115.2 565.7,112.7 565.5,111.2" fill="#dce81a"/>
<polygon points="563.7,131.2 562.8,132.7 562.6,135.2 562.9,137.7 562.5,140.2 562.1,142.7 562.0,145.2 561.8,147.7 561.5,150.2 561.1,152.7 561.3,155.2 561.7,156.7 561.8,156.7 562.4,155.2 563.0,152.7 563.1,150.2 563.1,147.7 563.3,145.2 563.6,142.7 563.7,140.2 563.7,137.7 564.4,135.2 564.6,132.7 563.8,131.2" fill="#dce81a"/>
<polygon points="561.5,158.7 560.7,160.2 560.4,162.7 560.5,165.2 560.2,167.7 559.9,170.2 559.8,172.7 559.7,175.2 559.3,177.7 558.8,180.2 558.7,182.7 558.9,185.2 558.3,187.7 558.0,190.2 557.9,192.7 557.6,195.2 557.3,197.7 557.2,200.2 557.7,201.7 557.8,201.7 558.5,200.2 558.9,197.7 559.1,195.2 559.3,192.7 559.7,190.2 559.9,187.7 559.7,185.2 560.5,182.7 560.9,180.2 560.8,177.7 560.7,175.2 561.0,172.7 561.3,170.2 561.5,167.7 561.6,165.2 562.1,162.7 562.2,160.2 561.6,158.7" fill="#dce81a"/>
<polygon points="557.5,203.7 557.1,205.2 556.1,207.7 556.0,210.2 556.2,212.7 555.6,215.2 555.3,217.7 555.3,220.2 555.0,222.7 554.6,225.2 554.3,227.7 554.7,230.2 554.7,231.7 554.8,231.7 555.1,230.2 556.0,227.7 556.2,225.2 556.3,222.7 556.5,220.2 557.0,217.7 557.1,215.2 557.1,212.7 557.8,210.2 558.1,207.7 557.7,205.2 557.6,203.7" fill="#dce81a"/>
<polygon points="554.5,233.7 553.8,235.2 553.7,237.7 554.0,239.2 554.1,239.2 554.6,237.7 555.0,235.2 554.6,233.7" fill="#dce81a"/>
<polygon points="553.8,241.2 553.5,242.7 553.2,245.2 553.2,246.7 553.3,246.7 553.6,245.2 553.9,242.7 553.9,241.2" fill="#dce81a"/>
<polygon points="552.8,251.2 552.5,252.7 551.8,255.2 552.3,256.7 552.4,256.7 553.1,255.2 552.9,252.7 552.9,251.2" fill="#dce81a"/>
<polygon points="551.9,261.2 551.4,262.7 551.1,265.2 551.4,266.7 551.5,266.7 552.0,265.2 552.1,262.7 552.0,261.2" fill="#dce81a"/>
<polygon points="551.2,268.7 550.5,270.2 550.2,272.7 550.2,275.2 550.4,276.7 550.5,276.7 551.1,275.2 551.5,272.7 551.6,270.2 551.3,268.7" fill="#dce81a"/>
<polygon points="550.2,278.7 549.9,280.2 549.2,282.7 549.2,285.2 549.5,286.7 549.6,286.7 550.2,285.2 550.7,282.7 550.4,280.2 550.3,278.7" fill="#dce81a"/>
<polygon points="549.3,288.7 549.1,290.2 549.1,291.7 549.1,291.7 549.3,290.2 549.4,288.7" fill="#dce81a"/>
<polygon points="570.0,58.7 569.7,60.2 569.7,61.7 569.8,61.7 570.1,60.2 570.1,58.7" fill="#fcd81c"/>
<polygon points="568.7,73.7 568.3,75.2 567.7,77.7 567.8,80.2 568.0,81.7 568.1,81.7 568.5,80.2 569.1,77.7 568.9,75.2 568.8,73.7" fill="#fcd81c"/>
<polygon points="567.8,83.7 567.2,85.2 566.8,87.7 566.9,90.2 566.7,92.7 566.4,95.2 566.3,97.7 566.4,99.2 566.5,99.2 566.9,97.7 567.2,95.2 567.3,92.7 567.7,90.2 568.2,87.7 568.2,85.2 567.9,83.7" fill="#fcd81c"/>
<polygon points="566.0,103.7 565.2,105.2 565.2,107.7 565.5,109.2 565.6,109.2 566.3,107.7 566.7,105.2 566.1,103.7" fill="#fcd81c"/>
<polygon points="565.2,113.7 564.5,115.2 564.5,117.7 564.3,120.2 564.0,122.7 563.8,125.2 564.1,126.7 564.2,126.7 564.8,125.2 565.0,122.7 565.0,120.2 565.2,117.7 565.6,115.2 565.3,113.7" fill="#fcd81c"/>
<polygon points="563.7,131.2 563.0,132.7 562.7,135.2 563.3,136.7 563.4,136.7 564.2,135.2 564.4,132.7 563.8,131.2" fill="#fcd81c"/>
<polygon points="563.1,138.7 562.7,140.2 562.3,142.7 562.2,145.2 562.0,147.7 561.6,150.2 561.3,152.7 561.6,155.2 561.7,156.7 561.8,156.7 562.1,155.2 562.8,152.7 562.9,150.2 562.9,147.7 563.1,145.2 563.4,142.7 563.4,140.2 563.2,138.7" fill="#fcd81c"/>
<polygon points="561.5,158.7 560.9,160.2 560.6,162.7 560.8,165.2 560.5,167.7 560.1,170.2 560.1,172.7 560.0,175.2 559.5,177.7 558.9,180.2 558.9,182.7 559.4,184.2 559.5,184.2 560.3,182.7 560.8,180.2 560.6,177.7 560.4,175.2 560.8,172.7 561.1,170.2 561.2,167.7 561.3,165.2 561.9,162.7 562.0,160.2 561.6,158.7" fill="#fcd81c"/>
<polygon points="559.2,186.2 558.5,187.7 558.1,190.2 558.1,192.7 557.8,195.2 557.5,197.7 557.4,200.2 557.7,201.7 557.8,201.7 558.3,200.2 558.7,197.7 558.9,195.2 559.1,192.7 559.6,190.2 559.7,187.7 559.3,186.2" fill="#fcd81c"/>
<polygon points="557.2,206.2 556.3,207.7 556.1,210.2 556.7,211.7 556.8,211.7 557.6,210.2 557.9,207.7 557.3,206.2" fill="#fcd81c"/>
<polygon points="556.5,213.7 555.8,215.2 555.5,217.7 555.5,220.2 555.2,222.7 554.7,225.2 554.5,227.7 555.0,229.2 555.1,229.2 555.8,227.7 556.1,225.2 556.1,222.7 556.3,220.2 556.8,217.7 557.0,215.2 556.6,213.7" fill="#fcd81c"/>
<polygon points="554.5,233.7 554.1,235.2 554.1,237.7 554.0,239.2 554.1,239.2 554.2,237.7 554.7,235.2 554.6,233.7" fill="#fcd81c"/>
<polygon points="552.5,253.7 552.0,255.2 552.2,256.7 552.5,256.7 552.9,255.2 552.8,253.7" fill="#fcd81c"/>
<polygon points="551.2,268.7 550.8,270.2 550.4,272.7 550.7,274.2 550.8,274.2 551.3,272.7 551.4,270.2 551.3,268.7" fill="#fcd81c"/>
<polygon points="550.0,281.2 549.3,282.7 549.5,285.2 549.5,286.7 549.6,286.7 549.9,285.2 550.5,282.7 550.1,281.2" fill="#fcd81c"/>
<polygon points="568.3,76.2 567.8,77.7 568.1,79.2 568.4,79.2 568.9,77.7 568.7,76.2" fill="#f8981c"/>
<polygon points="567.8,83.7 567.4,85.2 566.9,87.7 567.1,90.2 567.1,91.7 567.2,91.7 567.4,90.2 568.1,87.7 568.0,85.2 567.9,83.7" fill="#f8981c"/>
<polygon points="566.0,103.7 565.3,105.2 565.3,107.7 565.5,109.2 565.6,109.2 566.1,107.7 566.6,105.2 566.1,103.7" fill="#f8981c"/>
<polygon points="565.1,113.7 564.7,115.2 564.9,116.7 565.1,116.7 565.5,115.2 565.3,113.7" fill="#f8981c"/>
<polygon points="564.6,121.2 564.2,122.7 564.0,125.2 564.1,126.7 564.2,126.7 564.6,125.2 564.8,122.7 564.7,121.2" fill="#f8981c"/>
<polygon points="563.7,131.2 563.1,132.7 562.9,135.2 563.3,136.7 563.4,136.7 564.1,135.2 564.3,132.7 563.8,131.2" fill="#f8981c"/>
<polygon points="562.9,141.2 562.5,142.7 562.4,145.2 562.2,147.7 561.8,150.2 561.4,152.7 561.9,154.2 562.0,154.2 562.7,152.7 562.7,150.2 562.7,147.7 562.9,145.2 563.3,142.7 563.0,141.2" fill="#f8981c"/>
<polygon points="561.5,158.7 561.1,160.2 560.7,162.7 561.1,164.2 561.2,164.2 561.8,162.7 561.8,160.2 561.6,158.7" fill="#f8981c"/>
<polygon points="560.9,166.2 560.8,167.7 560.3,170.2 560.5,171.7 560.6,171.7 561.0,170.2 560.9,167.7 561.0,166.2" fill="#f8981c"/>
<polygon points="560.1,176.2 559.6,177.7 559.0,180.2 559.0,182.7 559.4,184.2 559.5,184.2 560.2,182.7 560.7,180.2 560.5,177.7 560.2,176.2" fill="#f8981c"/>
<polygon points="559.2,186.2 558.6,187.7 558.3,190.2 558.3,192.7 558.0,195.2 557.6,197.7 557.6,200.2 557.7,201.7 557.8,201.7 558.1,200.2 558.6,197.7 558.7,195.2 558.9,192.7 559.4,190.2 559.6,187.7 559.3,186.2" fill="#f8981c"/>
<polygon points="557.2,206.2 556.4,207.7 556.3,210.2 556.7,211.7 556.8,211.7 557.5,210.2 557.8,207.7 557.3,206.2" fill="#f8981c"/>
<polygon points="556.5,213.7 556.0,215.2 555.6,217.7 555.7,220.2 555.4,222.7 554.9,225.2 554.6,227.7 555.0,229.2 555.1,229.2 555.7,227.7 555.9,225.2 555.9,222.7 556.0,220.2 556.7,217.7 556.8,215.2 556.6,213.7" fill="#f8981c"/>
<polygon points="552.5,253.7 552.2,255.2 552.3,256.7 552.4,256.7 552.7,255.2 552.7,253.7" fill="#f8981c"/>
<polygon points="550.9,271.2 550.7,272.7 550.7,274.2 550.8,274.2 551.0,272.7 551.1,271.2" fill="#f8981c"/>
<polygon points="549.9,281.2 549.5,282.7 549.7,284.2 549.9,284.2 550.4,282.7 550.2,281.2" fill="#f8981c"/>
<polygon points="568.4,76.2 568.0,77.7 568.1,79.2 568.4,79.2 568.8,77.7 568.6,76.2" fill="#ec4c1c"/>
<polygon points="567.5,86.2 567.0,87.7 567.2,89.2 567.5,89.2 568.0,87.7 567.8,86.2" fill="#ec4c1c"/>
<polygon points="566.0,103.7 565.4,105.2 565.6,107.7 565.5,109.2 565.6,109.2 565.9,107.7 566.4,105.2 566.1,103.7" fill="#ec4c1c"/>
<polygon points="565.2,113.7 565.0,115.2 564.9,116.7 565.0,116.7 565.2,115.2 565.2,113.7" fill="#ec4c1c"/>
<polygon points="563.7,131.2 563.2,132.7 563.0,135.2 563.3,136.7 563.4,136.7 563.9,135.2 564.1,132.7 563.8,131.2" fill="#ec4c1c"/>
<polygon points="562.9,141.2 562.7,142.7 562.7,144.2 562.8,144.2 563.1,142.7 563.0,141.2" fill="#ec4c1c"/>
<polygon points="562.3,148.7 562.0,150.2 561.5,152.7 561.9,154.2 562.0,154.2 562.6,152.7 562.6,150.2 562.4,148.7" fill="#ec4c1c"/>
<polygon points="561.5,158.7 561.3,160.2 560.9,162.7 561.1,164.2 561.2,164.2 561.6,162.7 561.6,160.2 561.6,158.7" fill="#ec4c1c"/>
<polygon points="560.1,176.2 559.8,177.7 559.1,180.2 559.1,182.7 559.4,184.2 559.5,184.2 560.0,182.7 560.5,180.2 560.2,177.7 560.2,176.2" fill="#ec4c1c"/>
<polygon points="559.2,186.2 558.8,187.7 558.4,190.2 558.6,191.7 558.7,191.7 559.3,190.2 559.4,187.7 559.3,186.2" fill="#ec4c1c"/>
<polygon points="558.5,193.7 558.3,195.2 557.8,197.7 557.9,199.2 558.0,199.2 558.4,197.7 558.4,195.2 558.6,193.7" fill="#ec4c1c"/>
<polygon points="557.2,206.2 556.5,207.7 556.4,210.2 556.7,211.7 556.8,211.7 557.4,210.2 557.7,207.7 557.3,206.2" fill="#ec4c1c"/>
<polygon points="556.5,213.7 556.2,215.2 555.8,217.7 555.9,219.2 556.0,219.2 556.5,217.7 556.6,215.2 556.6,213.7" fill="#ec4c1c"/>
<polygon points="555.5,223.7 555.0,225.2 554.7,227.7 555.0,229.2 555.1,229.2 555.6,227.7 555.8,225.2 555.6,223.7" fill="#ec4c1c"/>
<polygon points="550.0,281.2 549.7,282.7 549.7,284.2 549.9,284.2 550.2,282.7 550.1,281.2" fill="#ec4c1c"/>
<polygon points="568.4,76.2 568.2,77.7 568.2,79.2 568.3,79.2 568.6,77.7 568.6,76.2" fill="#dc241c"/>
<polygon points="567.5,86.2 567.2,87.7 567.3,89.2 567.5,89.2 567.8,87.7 567.7,86.2" fill="#dc241c"/>
<polygon points="566.0,103.7 565.6,105.2 565.7,106.7 565.9,106.7 566.3,105.2 566.2,103.7" fill="#dc241c"/>
<polygon points="563.7,131.2 563.4,132.7 563.2,135.2 563.3,136.7 563.4,136.7 563.8,135.2 564.0,132.7 563.8,131.2" fill="#dc241c"/>
<polygon points="562.1,151.2 561.7,152.7 561.8,154.2 562.0,154.2 562.4,152.7 562.3,151.2" fill="#dc241c"/>
<polygon points="561.3,161.2 561.1,162.7 561.1,164.2 561.2,164.2 561.4,162.7 561.4,161.2" fill="#dc241c"/>
<polygon points="559.9,178.7 559.2,180.2 559.3,182.7 559.4,184.2 559.5,184.2 559.9,182.7 560.4,180.2 560.0,178.7" fill="#dc241c"/>
<polygon points="558.9,188.7 558.6,190.2 558.6,191.7 558.8,191.7 559.1,190.2 559.1,188.7" fill="#dc241c"/>
<polygon points="557.2,206.2 556.7,207.7 556.5,210.2 556.7,211.7 556.8,211.7 557.2,210.2 557.6,207.7 557.3,206.2" fill="#dc241c"/>
<polygon points="556.2,216.2 556.0,217.7 555.9,219.2 556.0,219.2 556.3,217.7 556.3,216.2" fill="#dc241c"/>
<polygon points="555.5,223.7 555.3,225.2 554.9,227.7 555.0,229.2 555.1,229.2 555.4,227.7 555.5,225.2 555.6,223.7" fill="#dc241c"/>
<polygon points="601.6,43.7 600.5,45.2 600.0,47.7 599.5,50.2 599.5,52.7 599.4,55.2 598.9,57.7 598.7,60.2 598.5,62.7 598.4,65.2 598.0,67.7 597.5,70.2 597.3,72.7 597.4,75.2 597.1,77.7 596.8,80.2 596.5,82.7 596.4,85.2 596.2,87.7 595.7,90.2 595.4,92.7 595.4,95.2 595.4,97.7 595.1,100.2 594.6,102.7 594.4,105.2 594.4,107.7 594.0,110.2 593.7,112.7 593.6,115.2 593.6,117.7 593.6,120.2 593.0,122.7 592.7,125.2 592.6,127.7 592.5,130.2 592.2,132.7 592.0,135.2 591.8,137.7 591.8,140.2 591.4,142.7 591.0,145.2 590.8,147.7 590.7,150.2 590.7,152.7 590.4,155.2 590.1,157.7 590.1,160.2 589.9,162.7 589.5,165.2 589.2,167.7 589.1,170.2 589.3,172.7 589.0,175.2 588.5,177.7 588.3,180.2 588.2,182.7 587.9,185.2 587.6,187.7 587.3,190.2 587.3,192.7 587.3,195.2 586.6,197.7 586.3,200.2 586.0,202.7 585.9,205.2 585.7,207.7 585.3,210.2 585.1,212.7 585.1,215.2 584.6,217.7 584.2,220.2 583.9,222.7 583.9,225.2 583.9,227.7 583.5,230.2 583.2,232.7 583.2,235.2 583.0,237.7 582.7,240.2 582.2,242.7 582.1,245.2 582.3,247.7 581.9,250.2 581.4,252.7 581.1,255.2 580.9,257.7 580.8,260.2 580.4,262.7 580.1,265.2 580.2,267.7 580.0,270.2 579.6,272.7 579.1,275.2 578.8,277.7 578.8,280.2 578.5,282.7 578.2,285.2 578.1,287.7 578.1,290.2 577.9,292.7 577.5,295.2 579.0,296.7 579.1,296.7 580.9,295.2 580.9,292.7 581.3,290.2 581.6,287.7 582.0,285.2 582.2,282.7 582.4,280.2 582.8,277.7 583.0,275.2 583.0,272.7 583.1,270.2 583.3,267.7 583.9,265.2 584.0,262.7 584.1,260.2 584.4,257.7 584.7,255.2 584.8,252.7 584.9,250.2 585.0,247.7 585.6,245.2 586.0,242.7 586.0,240.2 586.2,237.7 586.5,235.2 586.9,232.7 587.2,230.2 587.2,227.7 587.8,225.2 588.2,222.7 588.4,220.2 588.5,217.7 588.6,215.2 589.0,212.7 589.4,210.2 589.4,207.7 589.7,205.2 590.0,202.7 590.3,200.2 590.4,197.7 590.3,195.2 590.7,192.7 591.3,190.2 591.5,187.7 591.6,185.2 591.9,182.7 592.2,180.2 592.4,177.7 592.3,175.2 592.5,172.7 593.0,170.2 593.3,167.7 593.5,165.2 593.5,162.7 593.7,160.2 594.1,157.7 594.2,155.2 594.3,152.7 594.6,150.2 595.0,147.7 595.2,145.2 595.2,142.7 595.2,140.2 595.6,137.7 595.9,135.2 596.0,132.7 596.2,130.2 596.4,127.7 596.8,125.2 596.8,122.7 596.6,120.2 597.1,117.7 597.5,115.2 597.7,112.7 597.9,110.2 598.0,107.7 598.4,105.2 598.6,102.7 598.5,100.2 598.7,97.7 599.1,95.2 599.5,92.7 599.7,90.2 599.6,87.7 599.9,85.2 600.3,82.7 600.3,80.2 600.5,77.7 600.7,75.2 601.1,72.7 601.4,70.2 601.3,67.7 601.4,65.2 601.7,62.7 602.0,60.2 602.2,57.7 602.2,55.2 602.5,52.7 602.9,50.2 602.9,47.7 602.8,45.2 601.7,43.7" fill="#1d6cbc"/>
<polygon points="601.6,43.7 600.9,45.2 600.4,47.7 599.9,50.2 599.9,52.7 599.8,55.2 599.3,57.7 599.1,60.2 598.9,62.7 598.8,65.2 598.4,67.7 597.8,70.2 597.7,72.7 597.7,75.2 597.5,77.7 597.2,80.2 596.8,82.7 596.7,85.2 596.6,87.7 596.0,90.2 595.8,92.7 595.8,95.2 595.7,97.7 595.5,100.2 595.0,102.7 594.7,105.2 594.7,107.7 594.4,110.2 594.1,112.7 593.9,115.2 594.0,117.7 594.0,120.2 593.3,122.7 593.0,125.2 593.0,127.7 592.8,130.2 592.6,132.7 592.3,135.2 592.1,137.7 592.2,140.2 591.7,142.7 591.3,145.2 591.1,147.7 591.1,150.2 591.1,152.7 590.7,155.2 590.4,157.7 590.5,160.2 590.2,162.7 589.8,165.2 589.6,167.7 589.5,170.2 589.7,172.7 589.4,175.2 588.8,177.7 588.7,180.2 588.5,182.7 588.3,185.2 587.9,187.7 587.6,190.2 587.7,192.7 587.7,195.2 587.0,197.7 586.6,200.2 586.4,202.7 586.3,205.2 586.1,207.7 585.6,210.2 585.5,212.7 585.4,215.2 585.0,217.7 584.6,220.2 584.3,222.7 584.2,225.2 584.3,227.7 583.8,230.2 583.6,232.7 583.6,235.2 583.4,237.7 583.0,240.2 582.6,242.7 582.4,245.2 582.7,247.7 582.3,250.2 581.8,252.7 581.5,255.2 581.3,257.7 581.2,260.2 580.8,262.7 580.5,265.2 580.6,267.7 580.4,270.2 579.9,272.7 579.5,275.2 579.2,277.7 579.2,280.2 578.9,282.7 578.6,285.2 578.5,287.7 578.5,290.2 578.3,292.7 577.9,295.2 579.0,296.7 579.1,296.7 580.5,295.2 580.5,292.7 580.9,290.2 581.3,287.7 581.7,285.2 581.8,282.7 582.0,280.2 582.5,277.7 582.6,275.2 582.6,272.7 582.7,270.2 582.9,267.7 583.5,265.2 583.7,262.7 583.7,260.2 584.0,257.7 584.3,255.2 584.5,252.7 584.5,250.2 584.5,247.7 585.3,245.2 585.6,242.7 585.7,240.2 585.8,237.7 586.1,235.2 586.6,232.7 586.8,230.2 586.8,227.7 587.4,225.2 587.9,222.7 588.1,220.2 588.2,217.7 588.2,215.2 588.7,212.7 589.0,210.2 589.0,207.7 589.3,205.2 589.7,202.7 590.0,200.2 590.1,197.7 589.9,195.2 590.3,192.7 590.9,190.2 591.1,187.7 591.3,185.2 591.5,182.7 591.8,180.2 592.1,177.7 591.9,175.2 592.1,172.7 592.7,170.2 593.0,167.7 593.1,165.2 593.1,162.7 593.3,160.2 593.8,157.7 593.8,155.2 593.9,152.7 594.3,150.2 594.6,147.7 594.9,145.2 594.9,142.7 594.8,140.2 595.3,137.7 595.5,135.2 595.6,132.7 595.8,130.2 596.1,127.7 596.4,125.2 596.5,122.7 596.3,120.2 596.7,117.7 597.1,115.2 597.4,112.7 597.5,110.2 597.6,107.7 598.0,105.2 598.2,102.7 598.1,100.2 598.3,97.7 598.7,95.2 599.2,92.7 599.4,90.2 599.3,87.7 599.5,85.2 599.9,82.7 600.0,80.2 600.1,77.7 600.3,75.2 600.8,72.7 601.1,70.2 600.9,67.7 600.9,65.2 601.3,62.7 601.6,60.2 601.8,57.7 601.8,55.2 602.1,52.7 602.5,50.2 602.5,47.7 602.4,45.2 601.7,43.7" fill="#198c90"/>
<polygon points="601.6,43.7 601.4,45.2 600.7,47.7 600.2,50.2 600.2,52.7 600.1,55.2 599.6,57.7 599.4,60.2 599.2,62.7 599.2,65.2 598.7,67.7 598.1,70.2 598.0,72.7 598.0,75.2 597.8,77.7 597.5,80.2 597.1,82.7 597.0,85.2 596.9,87.7 596.3,90.2 596.0,92.7 596.0,95.2 596.0,97.7 595.8,100.2 595.2,102.7 595.0,105.2 595.0,107.7 594.6,110.2 594.3,112.7 594.2,115.2 594.2,117.7 594.3,120.2 593.6,122.7 593.2,125.2 593.2,127.7 593.1,130.2 592.9,132.7 592.6,135.2 592.4,137.7 592.5,140.2 592.0,142.7 591.5,145.2 591.4,147.7 591.3,150.2 591.4,152.7 591.0,155.2 590.7,157.7 590.7,160.2 590.5,162.7 590.1,165.2 589.8,167.7 589.7,170.2 590.0,172.7 589.7,175.2 589.1,177.7 589.0,180.2 588.8,182.7 588.5,185.2 588.2,187.7 587.9,190.2 588.0,192.7 588.0,195.2 587.3,197.7 586.9,200.2 586.6,202.7 586.6,205.2 586.3,207.7 585.8,210.2 585.7,212.7 585.7,215.2 585.2,217.7 584.8,220.2 584.5,222.7 584.5,225.2 584.6,227.7 584.1,230.2 583.9,232.7 583.9,235.2 583.7,237.7 583.3,240.2 582.8,242.7 582.7,245.2 583.0,247.7 582.6,250.2 582.1,252.7 581.8,255.2 581.6,257.7 581.5,260.2 581.0,262.7 580.7,265.2 580.9,267.7 580.7,270.2 580.2,272.7 579.7,275.2 579.4,277.7 579.5,280.2 579.2,282.7 578.8,285.2 578.8,287.7 578.8,290.2 578.7,292.7 578.2,295.2 579.0,296.7 579.1,296.7 580.2,295.2 580.2,292.7 580.6,290.2 581.0,287.7 581.4,285.2 581.5,282.7 581.7,280.2 582.2,277.7 582.4,275.2 582.3,272.7 582.4,270.2 582.6,267.7 583.2,265.2 583.4,262.7 583.4,260.2 583.8,257.7 584.0,255.2 584.2,252.7 584.1,250.2 584.2,247.7 585.0,245.2 585.4,242.7 585.4,240.2 585.5,237.7 585.8,235.2 586.3,232.7 586.6,230.2 586.5,227.7 587.1,225.2 587.6,222.7 587.8,220.2 587.9,217.7 587.9,215.2 588.4,212.7 588.8,210.2 588.8,207.7 589.0,205.2 589.4,202.7 589.7,200.2 589.8,197.7 589.6,195.2 590.1,192.7 590.7,190.2 590.9,187.7 591.0,185.2 591.2,182.7 591.6,180.2 591.8,177.7 591.6,175.2 591.8,172.7 592.4,170.2 592.7,167.7 592.9,165.2 592.9,162.7 593.0,160.2 593.5,157.7 593.6,155.2 593.6,152.7 594.0,150.2 594.4,147.7 594.6,145.2 594.6,142.7 594.5,140.2 595.0,137.7 595.2,135.2 595.3,132.7 595.5,130.2 595.8,127.7 596.2,125.2 596.2,122.7 595.9,120.2 596.4,117.7 596.8,115.2 597.1,112.7 597.3,110.2 597.3,107.7 597.8,105.2 598.0,102.7 597.8,100.2 598.0,97.7 598.5,95.2 598.9,92.7 599.1,90.2 599.0,87.7 599.3,85.2 599.6,82.7 599.7,80.2 599.8,77.7 600.0,75.2 600.5,72.7 600.8,70.2 600.6,67.7 600.6,65.2 601.0,62.7 601.3,60.2 601.5,57.7 601.4,55.2 601.8,52.7 602.3,50.2 602.2,47.7 601.9,45.2 601.7,43.7" fill="#1aa850"/>
<polygon points="601.5,46.2 601.0,47.7 600.4,50.2 600.5,52.7 600.5,55.2 599.9,57.7 599.7,60.2 599.5,62.7 599.5,65.2 599.0,67.7 598.3,70.2 598.2,72.7 598.3,75.2 598.1,77.7 597.7,80.2 597.3,82.7 597.3,85.2 597.1,87.7 596.5,90.2 596.3,92.7 596.3,95.2 596.3,97.7 596.1,100.2 595.4,102.7 595.2,105.2 595.3,107.7 594.9,110.2 594.6,112.7 594.4,115.2 594.5,117.7 594.6,120.2 593.8,122.7 593.5,125.2 593.5,127.7 593.3,130.2 593.1,132.7 592.8,135.2 592.6,137.7 592.8,140.2 592.2,142.7 591.8,145.2 591.6,147.7 591.6,150.2 591.6,152.7 591.3,155.2 590.9,157.7 591.0,160.2 590.8,162.7 590.3,165.2 590.1,167.7 590.0,170.2 590.3,172.7 590.0,175.2 589.3,177.7 589.2,180.2 589.0,182.7 588.8,185.2 588.4,187.7 588.1,190.2 588.3,192.7 588.3,195.2 587.5,197.7 587.1,200.2 586.9,202.7 586.8,205.2 586.6,207.7 586.1,210.2 586.0,212.7 586.0,215.2 585.5,217.7 585.0,220.2 584.7,222.7 584.7,225.2 584.9,227.7 584.4,230.2 584.1,232.7 584.1,235.2 584.0,237.7 583.6,240.2 583.1,242.7 583.0,245.2 583.7,246.7 583.8,246.7 584.7,245.2 585.1,242.7 585.1,240.2 585.2,237.7 585.6,235.2 586.0,232.7 586.3,230.2 586.3,227.7 586.9,225.2 587.4,222.7 587.6,220.2 587.7,217.7 587.7,215.2 588.1,212.7 588.5,210.2 588.5,207.7 588.8,205.2 589.2,202.7 589.5,200.2 589.6,197.7 589.3,195.2 589.8,192.7 590.4,190.2 590.6,187.7 590.8,185.2 591.0,182.7 591.3,180.2 591.6,177.7 591.4,175.2 591.5,172.7 592.2,170.2 592.5,167.7 592.6,165.2 592.6,162.7 592.8,160.2 593.3,157.7 593.3,155.2 593.3,152.7 593.8,150.2 594.2,147.7 594.4,145.2 594.3,142.7 594.2,140.2 594.8,137.7 595.0,135.2 595.1,132.7 595.3,130.2 595.6,127.7 596.0,125.2 596.0,122.7 595.6,120.2 596.1,117.7 596.6,115.2 596.9,112.7 597.0,110.2 597.1,107.7 597.5,105.2 597.7,102.7 597.6,100.2 597.8,97.7 598.2,95.2 598.7,92.7 598.9,90.2 598.7,87.7 599.0,85.2 599.4,82.7 599.4,80.2 599.5,77.7 599.7,75.2 600.3,72.7 600.6,70.2 600.4,67.7 600.3,65.2 600.7,62.7 601.0,60.2 601.2,57.7 601.0,55.2 601.5,52.7 602.0,50.2 601.8,47.7 601.6,46.2" fill="#3cc020"/>
<polygon points="583.5,248.7 582.9,250.2 582.4,252.7 582.1,255.2 581.9,257.7 581.8,260.2 581.3,262.7 581.0,265.2 581.2,267.7 581.0,270.2 580.5,272.7 580.0,275.2 579.7,277.7 579.7,280.2 579.4,282.7 579.1,285.2 579.1,287.7 579.1,290.2 579.0,292.7 578.5,295.2 579.0,296.7 579.1,296.7 579.9,295.2 579.9,292.7 580.3,290.2 580.7,287.7 581.2,285.2 581.3,282.7 581.5,280.2 582.0,277.7 582.1,275.2 582.1,272.7 582.0,270.2 582.3,267.7 583.0,265.2 583.2,262.7 583.1,260.2 583.5,257.7 583.8,255.2 583.9,252.7 583.8,250.2 583.6,248.7" fill="#3cc020"/>
<polygon points="601.2,48.7 600.7,50.2 600.9,51.7 601.2,51.7 601.7,50.2 601.5,48.7" fill="#8cd818"/>
<polygon points="600.6,56.2 600.2,57.7 600.0,60.2 599.9,62.7 599.9,64.2 600.0,64.2 600.3,62.7 600.7,60.2 600.9,57.7 600.7,56.2" fill="#8cd818"/>
<polygon points="599.8,66.2 599.3,67.7 598.5,70.2 598.4,72.7 598.6,75.2 598.3,77.7 598.0,80.2 597.5,82.7 597.5,85.2 597.4,87.7 596.7,90.2 596.5,92.7 596.5,95.2 596.6,97.7 596.3,100.2 595.6,102.7 595.4,105.2 595.5,107.7 595.1,110.2 594.8,112.7 594.6,115.2 594.7,117.7 595.1,119.2 595.2,119.2 595.9,117.7 596.4,115.2 596.7,112.7 596.8,110.2 596.8,107.7 597.3,105.2 597.5,102.7 597.3,100.2 597.5,97.7 598.0,95.2 598.5,92.7 598.7,90.2 598.5,87.7 598.8,85.2 599.2,82.7 599.2,80.2 599.3,77.7 599.5,75.2 600.1,72.7 600.4,70.2 600.1,67.7 599.9,66.2" fill="#8cd818"/>
<polygon points="595.0,121.2 594.0,122.7 593.7,125.2 593.7,127.7 593.5,130.2 593.3,132.7 593.0,135.2 592.8,137.7 593.1,140.2 592.5,142.7 592.0,145.2 591.8,147.7 591.8,150.2 591.9,152.7 591.5,155.2 591.1,157.7 591.2,160.2 591.0,162.7 590.5,165.2 590.3,167.7 590.2,170.2 590.6,172.7 590.3,175.2 589.5,177.7 589.4,180.2 589.3,182.7 589.0,185.2 588.6,187.7 588.3,190.2 588.5,192.7 588.8,194.2 588.9,194.2 589.5,192.7 590.3,190.2 590.4,187.7 590.6,185.2 590.8,182.7 591.1,180.2 591.4,177.7 591.1,175.2 591.1,172.7 592.0,170.2 592.3,167.7 592.4,165.2 592.4,162.7 592.6,160.2 593.1,157.7 593.1,155.2 593.1,152.7 593.6,150.2 594.0,147.7 594.2,145.2 594.1,142.7 593.9,140.2 594.6,137.7 594.8,135.2 594.9,132.7 595.1,130.2 595.3,127.7 595.8,125.2 595.8,122.7 595.1,121.2" fill="#8cd818"/>
<polygon points="588.6,196.2 587.7,197.7 587.3,200.2 587.1,202.7 587.0,205.2 586.8,207.7 586.3,210.2 586.2,212.7 586.2,215.2 585.7,217.7 585.2,220.2 584.9,222.7 584.9,225.2 585.2,227.7 584.6,230.2 584.3,232.7 584.4,235.2 584.3,237.7 583.9,240.2 583.3,242.7 583.2,245.2 583.7,246.7 583.8,246.7 584.5,245.2 584.9,242.7 584.8,240.2 584.9,237.7 585.3,235.2 585.8,232.7 586.1,230.2 585.9,227.7 586.7,225.2 587.2,222.7 587.4,220.2 587.5,217.7 587.4,215.2 587.9,212.7 588.3,210.2 588.3,207.7 588.6,205.2 589.0,202.7 589.3,200.2 589.4,197.7 588.7,196.2" fill="#8cd818"/>
<polygon points="583.2,251.2 582.6,252.7 582.3,255.2 582.1,257.7 582.1,260.2 581.5,262.7 581.2,265.2 581.6,267.7 581.6,269.2 581.7,269.2 581.9,267.7 582.8,265.2 582.9,262.7 582.7,260.2 583.2,257.7 583.5,255.2 583.6,252.7 583.3,251.2" fill="#8cd818"/>
<polygon points="581.4,271.2 580.7,272.7 580.2,275.2 579.9,277.7 579.9,280.2 579.6,282.7 579.3,285.2 579.3,287.7 579.4,290.2 579.5,291.7 579.6,291.7 579.9,290.2 580.5,287.7 581.0,285.2 581.1,282.7 581.2,280.2 581.8,277.7 581.9,275.2 581.8,272.7 581.5,271.2" fill="#8cd818"/>
<polygon points="579.2,293.7 578.8,295.2 579.0,296.7 579.2,296.7 579.6,295.2 579.5,293.7" fill="#8cd818"/>
<polygon points="601.3,48.7 601.1,50.2 601.0,51.7 601.1,51.7 601.4,50.2 601.4,48.7" fill="#dce81a"/>
<polygon points="599.5,68.7 598.7,70.2 598.6,72.7 599.1,74.2 599.2,74.2 599.9,72.7 600.2,70.2 599.6,68.7" fill="#dce81a"/>
<polygon points="598.7,78.7 598.2,80.2 597.7,82.7 597.8,85.2 597.7,87.7 596.9,90.2 596.6,92.7 596.7,95.2 597.1,96.7 597.2,96.7 597.8,95.2 598.3,92.7 598.5,90.2 598.1,87.7 598.5,85.2 599.0,82.7 598.9,80.2 598.8,78.7" fill="#dce81a"/>
<polygon points="596.7,101.2 595.8,102.7 595.6,105.2 595.7,107.7 595.3,110.2 594.9,112.7 594.8,115.2 595.0,117.7 595.1,119.2 595.2,119.2 595.6,117.7 596.2,115.2 596.5,112.7 596.6,110.2 596.6,107.7 597.1,105.2 597.4,102.7 596.8,101.2" fill="#dce81a"/>
<polygon points="595.0,121.2 594.2,122.7 593.8,125.2 593.9,127.7 593.8,130.2 593.5,132.7 593.2,135.2 593.0,137.7 593.5,139.2 593.6,139.2 594.4,137.7 594.6,135.2 594.7,132.7 594.9,130.2 595.2,127.7 595.6,125.2 595.6,122.7 595.1,121.2" fill="#dce81a"/>
<polygon points="593.4,141.2 592.6,142.7 592.1,145.2 592.0,147.7 592.0,150.2 592.1,152.7 591.7,155.2 591.3,157.7 591.5,160.2 591.2,162.7 590.7,165.2 590.4,167.7 590.4,170.2 590.9,171.7 591.0,171.7 591.8,170.2 592.1,167.7 592.3,165.2 592.1,162.7 592.3,160.2 592.9,157.7 592.9,155.2 592.8,152.7 593.4,150.2 593.8,147.7 594.1,145.2 593.9,142.7 593.5,141.2" fill="#dce81a"/>
<polygon points="590.5,176.2 589.7,177.7 589.6,180.2 589.5,182.7 589.2,185.2 588.8,187.7 588.5,190.2 589.1,191.7 589.2,191.7 590.1,190.2 590.2,187.7 590.3,185.2 590.6,182.7 590.9,180.2 591.2,177.7 590.6,176.2" fill="#dce81a"/>
<polygon points="588.6,196.2 587.9,197.7 587.5,200.2 587.3,202.7 587.2,205.2 587.0,207.7 586.4,210.2 586.4,212.7 586.5,215.2 585.8,217.7 585.4,220.2 585.1,222.7 585.1,225.2 585.6,226.7 585.7,226.7 586.5,225.2 587.1,222.7 587.2,220.2 587.3,217.7 587.2,215.2 587.8,212.7 588.2,210.2 588.1,207.7 588.4,205.2 588.8,202.7 589.1,200.2 589.2,197.7 588.7,196.2" fill="#dce81a"/>
<polygon points="585.4,228.7 584.8,230.2 584.6,232.7 584.9,234.2 585.0,234.2 585.6,232.7 585.9,230.2 585.5,228.7" fill="#dce81a"/>
<polygon points="584.2,241.2 583.5,242.7 583.4,245.2 583.7,246.7 583.8,246.7 584.3,245.2 584.7,242.7 584.3,241.2" fill="#dce81a"/>
<polygon points="583.2,251.2 583.1,252.7 582.6,255.2 582.4,257.7 582.5,259.2 582.6,259.2 582.9,257.7 583.3,255.2 583.2,252.7 583.3,251.2" fill="#dce81a"/>
<polygon points="582.3,261.2 581.7,262.7 581.4,265.2 581.8,266.7 581.9,266.7 582.6,265.2 582.7,262.7 582.4,261.2" fill="#dce81a"/>
<polygon points="581.4,271.2 581.1,272.7 580.4,275.2 580.1,277.7 580.2,280.2 579.9,282.7 579.5,285.2 579.6,287.7 579.7,289.2 579.8,289.2 580.2,287.7 580.8,285.2 580.8,282.7 581.0,280.2 581.6,277.7 581.7,275.2 581.5,272.7 581.5,271.2" fill="#dce81a"/>
<polygon points="599.5,68.7 598.9,70.2 598.8,72.7 599.1,74.2 599.2,74.2 599.6,72.7 600.0,70.2 599.6,68.7" fill="#fcd81c"/>
<polygon points="598.4,81.2 597.9,82.7 598.1,84.2 598.3,84.2 598.8,82.7 598.6,81.2" fill="#fcd81c"/>
<polygon points="597.8,88.7 597.0,90.2 596.8,92.7 597.0,95.2 597.1,96.7 597.2,96.7 597.5,95.2 598.2,92.7 598.4,90.2 597.9,88.7" fill="#fcd81c"/>
<polygon points="596.7,101.2 596.0,102.7 595.8,105.2 596.2,106.7 596.3,106.7 597.0,105.2 597.2,102.7 596.8,101.2" fill="#fcd81c"/>
<polygon points="596.0,108.7 595.4,110.2 595.1,112.7 595.0,115.2 595.3,116.7 595.4,116.7 596.0,115.2 596.3,112.7 596.4,110.2 596.1,108.7" fill="#fcd81c"/>
<polygon points="595.0,121.2 594.4,122.7 594.0,125.2 594.1,127.7 594.0,130.2 593.8,132.7 593.4,135.2 593.2,137.7 593.5,139.2 593.6,139.2 594.2,137.7 594.4,135.2 594.4,132.7 594.6,130.2 594.9,127.7 595.4,125.2 595.4,122.7 595.1,121.2" fill="#fcd81c"/>
<polygon points="593.4,141.2 592.9,142.7 592.3,145.2 592.1,147.7 592.2,150.2 592.5,151.7 592.6,151.7 593.2,150.2 593.6,147.7 593.9,145.2 593.7,142.7 593.5,141.2" fill="#fcd81c"/>
<polygon points="592.4,153.7 591.9,155.2 591.4,157.7 591.9,159.2 592.0,159.2 592.7,157.7 592.7,155.2 592.5,153.7" fill="#fcd81c"/>
<polygon points="591.8,161.2 591.6,162.7 590.9,165.2 590.6,167.7 590.5,170.2 590.9,171.7 591.0,171.7 591.6,170.2 591.9,167.7 592.1,165.2 591.8,162.7 591.9,161.2" fill="#fcd81c"/>
<polygon points="590.5,176.2 589.9,177.7 589.8,180.2 589.7,182.7 589.4,185.2 589.0,187.7 588.6,190.2 589.1,191.7 589.2,191.7 589.9,190.2 590.0,187.7 590.1,185.2 590.3,182.7 590.7,180.2 591.0,177.7 590.6,176.2" fill="#fcd81c"/>
<polygon points="588.6,196.2 588.1,197.7 587.7,200.2 587.4,202.7 587.5,205.2 587.3,207.7 586.6,210.2 586.5,212.7 586.9,214.2 587.0,214.2 587.6,212.7 588.0,210.2 587.8,207.7 588.1,205.2 588.7,202.7 588.9,200.2 589.0,197.7 588.7,196.2" fill="#fcd81c"/>
<polygon points="586.7,216.2 586.0,217.7 585.6,220.2 585.2,222.7 585.3,225.2 585.6,226.7 585.7,226.7 586.3,225.2 586.9,222.7 587.1,220.2 587.1,217.7 586.8,216.2" fill="#fcd81c"/>
<polygon points="585.4,228.7 585.1,230.2 584.8,232.7 584.9,234.2 585.0,234.2 585.3,232.7 585.6,230.2 585.5,228.7" fill="#fcd81c"/>
<polygon points="584.1,241.2 583.7,242.7 583.8,244.2 584.1,244.2 584.5,242.7 584.4,241.2" fill="#fcd81c"/>
<polygon points="582.3,261.2 582.0,262.7 581.6,265.2 581.8,266.7 581.9,266.7 582.3,265.2 582.4,262.7 582.4,261.2" fill="#fcd81c"/>
<polygon points="581.1,273.7 580.6,275.2 580.2,277.7 580.6,279.2 580.7,279.2 581.4,277.7 581.5,275.2 581.2,273.7" fill="#fcd81c"/>
<polygon points="580.4,281.2 580.2,282.7 579.7,285.2 579.9,286.7 580.0,286.7 580.6,285.2 580.5,282.7 580.5,281.2" fill="#fcd81c"/>
<polygon points="599.5,68.7 599.0,70.2 599.1,72.7 599.1,74.2 599.2,74.2 599.3,72.7 599.9,70.2 599.6,68.7" fill="#f8981c"/>
<polygon points="598.4,81.2 598.2,82.7 598.2,84.2 598.3,84.2 598.5,82.7 598.5,81.2" fill="#f8981c"/>
<polygon points="597.8,88.7 597.2,90.2 596.9,92.7 597.3,94.2 597.4,94.2 598.0,92.7 598.2,90.2 597.9,88.7" fill="#f8981c"/>
<polygon points="596.7,101.2 596.2,102.7 595.9,105.2 596.2,106.7 596.3,106.7 596.8,105.2 597.0,102.7 596.8,101.2" fill="#f8981c"/>
<polygon points="596.0,108.7 595.6,110.2 595.3,112.7 595.2,115.2 595.3,116.7 595.4,116.7 595.8,115.2 596.2,112.7 596.2,110.2 596.1,108.7" fill="#f8981c"/>
<polygon points="595.0,121.2 594.6,122.7 594.1,125.2 594.3,127.7 594.3,129.2 594.4,129.2 594.7,127.7 595.3,125.2 595.2,122.7 595.1,121.2" fill="#f8981c"/>
<polygon points="594.0,133.7 593.5,135.2 593.5,137.7 593.5,139.2 593.6,139.2 593.9,137.7 594.3,135.2 594.1,133.7" fill="#f8981c"/>
<polygon points="593.4,141.2 593.1,142.7 592.4,145.2 592.3,147.7 592.3,150.2 592.5,151.7 592.6,151.7 593.1,150.2 593.5,147.7 593.8,145.2 593.5,142.7 593.5,141.2" fill="#f8981c"/>
<polygon points="592.4,153.7 592.2,155.2 591.6,157.7 591.9,159.2 592.0,159.2 592.6,157.7 592.4,155.2 592.5,153.7" fill="#f8981c"/>
<polygon points="591.5,163.7 591.0,165.2 590.7,167.7 590.7,170.2 590.9,171.7 591.0,171.7 591.4,170.2 591.8,167.7 591.9,165.2 591.6,163.7" fill="#f8981c"/>
<polygon points="590.5,176.2 590.1,177.7 590.0,180.2 590.1,181.7 590.2,181.7 590.5,180.2 590.9,177.7 590.6,176.2" fill="#f8981c"/>
<polygon points="589.6,186.2 589.2,187.7 588.8,190.2 589.1,191.7 589.2,191.7 589.8,190.2 589.9,187.7 589.7,186.2" fill="#f8981c"/>
<polygon points="588.6,196.2 588.4,197.7 587.8,200.2 587.6,202.7 587.8,204.2 587.9,204.2 588.5,202.7 588.8,200.2 588.7,197.7 588.7,196.2" fill="#f8981c"/>
<polygon points="587.4,208.7 586.7,210.2 586.7,212.7 586.9,214.2 587.0,214.2 587.4,212.7 587.9,210.2 587.5,208.7" fill="#f8981c"/>
<polygon points="586.7,216.2 586.2,217.7 585.7,220.2 585.3,222.7 585.5,225.2 585.6,226.7 585.7,226.7 586.1,225.2 586.8,222.7 587.0,220.2 586.9,217.7 586.8,216.2" fill="#f8981c"/>
<polygon points="581.1,273.7 580.8,275.2 580.4,277.7 580.6,279.2 580.7,279.2 581.3,277.7 581.4,275.2 581.2,273.7" fill="#f8981c"/>
<polygon points="580.2,283.7 579.9,285.2 579.9,286.7 580.0,286.7 580.3,285.2 580.3,283.7" fill="#f8981c"/>
<polygon points="599.5,68.7 599.3,70.2 599.3,71.7 599.4,71.7 599.7,70.2 599.6,68.7" fill="#ec4c1c"/>
<polygon points="597.8,88.7 597.3,90.2 597.1,92.7 597.3,94.2 597.4,94.2 597.9,92.7 598.1,90.2 597.9,88.7" fill="#ec4c1c"/>
<polygon points="596.7,101.2 596.4,102.7 596.2,105.2 596.2,106.7 596.3,106.7 596.6,105.2 596.8,102.7 596.8,101.2" fill="#ec4c1c"/>
<polygon points="595.8,111.2 595.5,112.7 595.5,114.2 595.7,114.2 596.0,112.7 595.9,111.2" fill="#ec4c1c"/>
<polygon points="594.7,123.7 594.2,125.2 594.4,126.7 594.7,126.7 595.2,125.2 595.0,123.7" fill="#ec4c1c"/>
<polygon points="593.2,143.7 592.5,145.2 592.4,147.7 592.7,149.2 592.8,149.2 593.4,147.7 593.7,145.2 593.3,143.7" fill="#ec4c1c"/>
<polygon points="592.1,156.2 591.8,157.7 591.9,159.2 592.1,159.2 592.4,157.7 592.3,156.2" fill="#ec4c1c"/>
<polygon points="591.5,163.7 591.2,165.2 590.9,167.7 591.1,169.2 591.2,169.2 591.7,167.7 591.7,165.2 591.6,163.7" fill="#ec4c1c"/>
<polygon points="590.5,176.2 590.3,177.7 590.3,179.2 590.4,179.2 590.6,177.7 590.6,176.2" fill="#ec4c1c"/>
<polygon points="589.3,188.7 589.0,190.2 589.0,191.7 589.2,191.7 589.6,190.2 589.5,188.7" fill="#ec4c1c"/>
<polygon points="588.4,198.7 588.0,200.2 587.8,202.7 587.8,204.2 587.9,204.2 588.3,202.7 588.6,200.2 588.5,198.7" fill="#ec4c1c"/>
<polygon points="587.3,208.7 586.9,210.2 587.0,211.7 587.3,211.7 587.7,210.2 587.6,208.7" fill="#ec4c1c"/>
<polygon points="586.4,218.7 585.8,220.2 585.5,222.7 585.9,224.2 586.0,224.2 586.7,222.7 586.8,220.2 586.5,218.7" fill="#ec4c1c"/>
<polygon points="580.9,276.2 580.6,277.7 580.6,279.2 580.7,279.2 581.0,277.7 581.0,276.2" fill="#ec4c1c"/>
<polygon points="597.8,88.7 597.6,90.2 597.3,92.7 597.3,94.2 597.4,94.2 597.7,92.7 597.8,90.2 597.9,88.7" fill="#dc241c"/>
<polygon points="594.7,123.7 594.4,125.2 594.5,126.7 594.7,126.7 595.0,125.2 594.9,123.7" fill="#dc241c"/>
<polygon points="593.2,143.7 592.6,145.2 592.5,147.7 592.7,149.2 592.8,149.2 593.2,147.7 593.6,145.2 593.3,143.7" fill="#dc241c"/>
<polygon points="591.3,166.2 591.1,167.7 591.1,169.2 591.2,169.2 591.4,167.7 591.4,166.2" fill="#dc241c"/>
<polygon points="587.4,208.7 587.0,210.2 587.1,211.7 587.2,211.7 587.6,210.2 587.5,208.7" fill="#dc241c"/>
<polygon points="586.4,218.7 586.0,220.2 585.6,222.7 585.9,224.2 586.0,224.2 586.6,222.7 586.7,220.2 586.5,218.7" fill="#dc241c"/>
<polygon points="632.0,43.7 630.4,45.2 630.5,47.7 630.3,50.2 630.0,52.7 629.6,55.2 629.5,57.7 629.3,60.2 628.8,62.7 628.5,65.2 628.2,67.7 628.4,70.2 628.1,72.7 627.7,75.2 627.2,77.7 627.0,80.2 627.0,82.7 626.7,85.2 626.4,87.7 626.1,90.2 626.1,92.7 625.8,95.2 625.5,97.7 625.1,100.2 625.1,102.7 625.1,105.2 624.9,107.7 624.5,110.2 624.0,112.7 624.0,115.2 623.8,117.7 623.7,120.2 623.4,122.7 623.3,125.2 623.2,127.7 622.9,130.2 622.6,132.7 622.2,135.2 622.3,137.7 622.2,140.2 622.0,142.7 621.5,145.2 621.2,147.7 621.1,150.2 621.0,152.7 620.8,155.2 620.5,157.7 620.5,160.2 620.3,162.7 620.1,165.2 619.6,167.7 619.5,170.2 619.5,172.7 619.5,175.2 619.2,177.7 618.7,180.2 618.5,182.7 618.3,185.2 618.2,187.7 617.8,190.2 617.5,192.7 617.5,195.2 617.3,197.7 616.9,200.2 616.4,202.7 616.2,205.2 616.1,207.7 616.1,210.2 615.5,212.7 615.1,215.2 614.9,217.7 614.8,220.2 614.6,222.7 614.2,225.2 614.1,227.7 614.0,230.2 613.9,232.7 613.4,235.2 613.1,237.7 613.0,240.2 613.0,242.7 612.9,245.2 612.3,247.7 612.1,250.2 611.8,252.7 611.8,255.2 611.4,257.7 611.1,260.2 610.9,262.7 610.9,265.2 610.6,267.7 610.0,270.2 609.8,272.7 609.6,275.2 609.7,277.7 609.3,280.2 609.0,282.7 608.7,285.2 608.6,287.7 608.5,290.2 608.1,292.7 608.0,295.2 609.5,296.7 609.6,296.7 611.2,295.2 611.6,292.7 611.7,290.2 612.0,287.7 612.4,285.2 612.6,282.7 612.7,280.2 612.8,277.7 613.4,275.2 613.7,272.7 613.9,270.2 613.8,267.7 614.0,265.2 614.3,262.7 614.7,260.2 614.9,257.7 614.9,255.2 615.3,252.7 615.6,250.2 615.8,247.7 615.7,245.2 616.0,242.7 616.5,240.2 616.9,237.7 617.1,235.2 617.1,232.7 617.5,230.2 617.9,227.7 618.3,225.2 618.4,222.7 618.7,220.2 619.1,217.7 619.3,215.2 619.5,212.7 619.4,210.2 619.8,207.7 620.2,205.2 620.6,202.7 620.6,200.2 620.7,197.7 621.0,195.2 621.4,192.7 621.6,190.2 621.7,187.7 622.1,185.2 622.4,182.7 622.7,180.2 622.6,177.7 622.7,175.2 623.1,172.7 623.5,170.2 623.8,167.7 623.7,165.2 623.9,162.7 624.1,160.2 624.6,157.7 624.7,155.2 624.9,152.7 625.1,150.2 625.4,147.7 625.6,145.2 625.5,142.7 625.7,140.2 626.0,137.7 626.4,135.2 626.5,132.7 626.6,130.2 626.6,127.7 627.0,125.2 627.3,122.7 627.4,120.2 627.7,117.7 627.9,115.2 628.3,112.7 628.3,110.2 628.3,107.7 628.5,105.2 629.0,102.7 629.3,100.2 629.4,97.7 629.6,95.2 629.7,92.7 630.1,90.2 630.2,87.7 630.4,85.2 630.6,82.7 631.0,80.2 631.2,77.7 631.2,75.2 631.2,72.7 631.4,70.2 632.0,67.7 632.2,65.2 632.3,62.7 632.2,60.2 632.5,57.7 632.8,55.2 632.9,52.7 633.0,50.2 633.2,47.7 633.7,45.2 632.1,43.7" fill="#1d6cbc"/>
<polygon points="632.0,43.7 630.8,45.2 630.9,47.7 630.7,50.2 630.4,52.7 630.0,55.2 629.9,57.7 629.7,60.2 629.2,62.7 628.9,65.2 628.6,67.7 628.8,70.2 628.5,72.7 628.1,75.2 627.6,77.7 627.4,80.2 627.4,82.7 627.1,85.2 626.8,87.7 626.5,90.2 626.5,92.7 626.2,95.2 625.8,97.7 625.5,100.2 625.4,102.7 625.5,105.2 625.2,107.7 624.8,110.2 624.4,112.7 624.3,115.2 624.2,117.7 624.1,120.2 623.7,122.7 623.6,125.2 623.6,127.7 623.3,130.2 622.9,132.7 622.5,135.2 622.6,137.7 622.5,140.2 622.3,142.7 621.8,145.2 621.5,147.7 621.4,150.2 621.3,152.7 621.1,155.2 620.8,157.7 620.9,160.2 620.7,162.7 620.5,165.2 620.0,167.7 619.8,170.2 619.9,172.7 619.9,175.2 619.6,177.7 619.0,180.2 618.9,182.7 618.7,185.2 618.6,187.7 618.1,190.2 617.9,192.7 617.8,195.2 617.6,197.7 617.2,200.2 616.7,202.7 616.6,205.2 616.5,207.7 616.5,210.2 615.9,212.7 615.5,215.2 615.3,217.7 615.1,220.2 614.9,222.7 614.5,225.2 614.5,227.7 614.4,230.2 614.3,232.7 613.8,235.2 613.5,237.7 613.4,240.2 613.4,242.7 613.3,245.2 612.7,247.7 612.4,250.2 612.2,252.7 612.2,255.2 611.7,257.7 611.5,260.2 611.3,262.7 611.3,265.2 611.0,267.7 610.3,270.2 610.1,272.7 610.0,275.2 610.1,277.7 609.7,280.2 609.3,282.7 609.1,285.2 609.0,287.7 608.9,290.2 608.5,292.7 608.4,295.2 609.5,296.7 609.6,296.7 610.8,295.2 611.2,292.7 611.3,290.2 611.7,287.7 612.1,285.2 612.3,282.7 612.4,280.2 612.4,277.7 613.0,275.2 613.3,272.7 613.6,270.2 613.4,267.7 613.6,265.2 614.0,262.7 614.3,260.2 614.5,257.7 614.5,255.2 615.0,252.7 615.2,250.2 615.4,247.7 615.2,245.2 615.6,242.7 616.2,240.2 616.6,237.7 616.8,235.2 616.7,232.7 617.2,230.2 617.5,227.7 618.0,225.2 618.1,222.7 618.4,220.2 618.7,217.7 619.0,215.2 619.1,212.7 619.0,210.2 619.5,207.7 619.9,205.2 620.3,202.7 620.2,200.2 620.3,197.7 620.6,195.2 621.0,192.7 621.3,190.2 621.3,187.7 621.7,185.2 622.0,182.7 622.4,180.2 622.2,177.7 622.3,175.2 622.7,172.7 623.2,170.2 623.4,167.7 623.3,165.2 623.5,162.7 623.8,160.2 624.2,157.7 624.3,155.2 624.5,152.7 624.8,150.2 625.1,147.7 625.3,145.2 625.1,142.7 625.3,140.2 625.7,137.7 626.1,135.2 626.2,132.7 626.2,130.2 626.3,127.7 626.7,125.2 627.0,122.7 627.0,120.2 627.3,117.7 627.6,115.2 628.0,112.7 627.9,110.2 627.9,107.7 628.1,105.2 628.7,102.7 629.0,100.2 629.1,97.7 629.2,95.2 629.3,92.7 629.8,90.2 629.9,87.7 630.1,85.2 630.2,82.7 630.6,80.2 630.9,77.7 630.8,75.2 630.8,72.7 631.0,70.2 631.6,67.7 631.8,65.2 631.9,62.7 631.8,60.2 632.1,57.7 632.4,55.2 632.5,52.7 632.6,50.2 632.8,47.7 633.4,45.2 632.1,43.7" fill="#198c90"/>
<polygon points="632.0,43.7 631.1,45.2 631.3,47.7 631.0,50.2 630.7,52.7 630.3,55.2 630.2,57.7 630.1,60.2 629.5,62.7 629.1,65.2 628.8,67.7 629.1,70.2 628.9,72.7 628.4,75.2 627.8,77.7 627.7,80.2 627.6,82.7 627.3,85.2 627.1,87.7 626.7,90.2 626.7,92.7 626.4,95.2 626.1,97.7 625.7,100.2 625.7,102.7 625.8,105.2 625.5,107.7 625.1,110.2 624.6,112.7 624.6,115.2 624.4,117.7 624.3,120.2 624.0,122.7 623.9,125.2 623.9,127.7 623.6,130.2 623.2,132.7 622.8,135.2 622.9,137.7 622.8,140.2 622.6,142.7 622.0,145.2 621.8,147.7 621.7,150.2 621.6,152.7 621.4,155.2 621.1,157.7 621.1,160.2 621.0,162.7 620.7,165.2 620.2,167.7 620.1,170.2 620.1,172.7 620.2,175.2 619.9,177.7 619.3,180.2 619.1,182.7 618.9,185.2 618.8,187.7 618.4,190.2 618.2,192.7 618.1,195.2 617.9,197.7 617.5,200.2 616.9,202.7 616.8,205.2 616.7,207.7 616.8,210.2 616.1,212.7 615.7,215.2 615.5,217.7 615.4,220.2 615.2,222.7 614.8,225.2 614.8,227.7 614.7,230.2 614.6,232.7 614.0,235.2 613.8,237.7 613.7,240.2 613.8,242.7 613.7,245.2 613.0,247.7 612.7,250.2 612.5,252.7 612.5,255.2 612.0,257.7 611.7,260.2 611.6,262.7 611.6,265.2 611.3,267.7 610.6,270.2 610.4,272.7 610.2,275.2 610.4,277.7 610.0,280.2 609.6,282.7 609.3,285.2 609.3,287.7 609.2,290.2 608.8,292.7 608.7,295.2 609.5,296.7 609.6,296.7 610.5,295.2 610.9,292.7 611.0,290.2 611.4,287.7 611.8,285.2 612.0,282.7 612.1,280.2 612.1,277.7 612.7,275.2 613.1,272.7 613.3,270.2 613.1,267.7 613.3,265.2 613.7,262.7 614.0,260.2 614.2,257.7 614.2,255.2 614.7,252.7 614.9,250.2 615.1,247.7 614.9,245.2 615.3,242.7 615.9,240.2 616.3,237.7 616.5,235.2 616.4,232.7 616.9,230.2 617.3,227.7 617.7,225.2 617.8,222.7 618.1,220.2 618.5,217.7 618.8,215.2 618.9,212.7 618.7,210.2 619.2,207.7 619.6,205.2 620.0,202.7 619.9,200.2 620.0,197.7 620.3,195.2 620.8,192.7 621.0,190.2 621.1,187.7 621.5,185.2 621.8,182.7 622.1,180.2 621.9,177.7 622.0,175.2 622.5,172.7 622.9,170.2 623.2,167.7 623.1,165.2 623.2,162.7 623.5,160.2 624.0,157.7 624.0,155.2 624.3,152.7 624.5,150.2 624.9,147.7 625.0,145.2 624.9,142.7 625.0,140.2 625.4,137.7 625.9,135.2 625.9,132.7 625.9,130.2 626.0,127.7 626.4,125.2 626.7,122.7 626.8,120.2 627.1,117.7 627.3,115.2 627.7,112.7 627.7,110.2 627.6,107.7 627.8,105.2 628.4,102.7 628.8,100.2 628.8,97.7 628.9,95.2 629.1,92.7 629.5,90.2 629.6,87.7 629.8,85.2 629.9,82.7 630.4,80.2 630.6,77.7 630.5,75.2 630.5,72.7 630.7,70.2 631.4,67.7 631.5,65.2 631.6,62.7 631.5,60.2 631.8,57.7 632.1,55.2 632.1,52.7 632.3,50.2 632.5,47.7 633.1,45.2 632.1,43.7" fill="#1aa850"/>
<polygon points="631.9,43.7 631.4,45.2 631.7,46.7 632.2,46.7 632.8,45.2 632.3,43.7" fill="#3cc020"/>
<polygon points="631.7,48.7 631.6,50.2 631.1,52.7 630.6,55.2 630.5,57.7 630.5,60.2 629.8,62.7 629.4,65.2 629.1,67.7 629.4,70.2 629.2,72.7 628.7,75.2 628.1,77.7 627.9,80.2 627.9,82.7 627.6,85.2 627.3,87.7 626.9,90.2 627.0,92.7 626.7,95.2 626.3,97.7 625.9,100.2 625.9,102.7 626.1,105.2 625.8,107.7 625.3,110.2 624.8,112.7 624.8,115.2 624.7,117.7 624.6,120.2 624.2,122.7 624.1,125.2 624.2,127.7 623.8,130.2 623.4,132.7 623.0,135.2 623.1,137.7 623.1,140.2 622.9,142.7 622.3,145.2 622.0,147.7 621.9,150.2 621.8,152.7 621.6,155.2 621.3,157.7 621.4,160.2 621.2,162.7 621.0,165.2 620.5,167.7 620.3,170.2 620.4,172.7 620.5,175.2 620.1,177.7 619.5,180.2 619.4,182.7 619.2,185.2 619.1,187.7 618.6,190.2 618.4,192.7 618.4,195.2 618.2,197.7 617.7,200.2 617.2,202.7 617.1,205.2 617.0,207.7 617.0,210.2 616.4,212.7 615.9,215.2 615.7,217.7 615.6,220.2 615.5,222.7 615.0,225.2 615.0,227.7 614.9,230.2 614.9,232.7 614.3,235.2 614.0,237.7 613.9,240.2 614.1,242.7 614.3,244.2 614.4,244.2 615.0,242.7 615.6,240.2 616.0,237.7 616.2,235.2 616.1,232.7 616.6,230.2 617.0,227.7 617.5,225.2 617.6,222.7 617.9,220.2 618.3,217.7 618.5,215.2 618.6,212.7 618.4,210.2 619.0,207.7 619.4,205.2 619.8,202.7 619.7,200.2 619.7,197.7 620.0,195.2 620.5,192.7 620.8,190.2 620.8,187.7 621.2,185.2 621.5,182.7 621.9,180.2 621.7,177.7 621.7,175.2 622.2,172.7 622.7,170.2 622.9,167.7 622.8,165.2 623.0,162.7 623.2,160.2 623.7,157.7 623.8,155.2 624.0,152.7 624.3,150.2 624.6,147.7 624.8,145.2 624.6,142.7 624.8,140.2 625.1,137.7 625.7,135.2 625.7,132.7 625.7,130.2 625.7,127.7 626.2,125.2 626.5,122.7 626.5,120.2 626.8,117.7 627.1,115.2 627.5,112.7 627.4,110.2 627.4,107.7 627.5,105.2 628.2,102.7 628.5,100.2 628.6,97.7 628.7,95.2 628.8,92.7 629.3,90.2 629.4,87.7 629.5,85.2 629.7,82.7 630.1,80.2 630.4,77.7 630.2,75.2 630.2,72.7 630.3,70.2 631.1,67.7 631.3,65.2 631.3,62.7 631.1,60.2 631.5,57.7 631.8,55.2 631.8,52.7 631.7,50.2 631.8,48.7" fill="#3cc020"/>
<polygon points="614.1,246.2 613.2,247.7 613.0,250.2 612.7,252.7 612.8,255.2 612.3,257.7 612.0,260.2 611.9,262.7 611.9,265.2 611.6,267.7 610.8,270.2 610.6,272.7 610.5,275.2 610.7,277.7 610.2,280.2 609.8,282.7 609.6,285.2 609.5,287.7 609.5,290.2 609.1,292.7 609.0,295.2 609.5,296.7 609.6,296.7 610.2,295.2 610.6,292.7 610.7,290.2 611.1,287.7 611.5,285.2 611.7,282.7 611.8,280.2 611.8,277.7 612.5,275.2 612.8,272.7 613.1,270.2 612.8,267.7 612.9,265.2 613.4,262.7 613.8,260.2 614.0,257.7 613.9,255.2 614.4,252.7 614.6,250.2 614.9,247.7 614.2,246.2" fill="#3cc020"/>
<polygon points="632.0,43.7 631.7,45.2 631.8,46.7 632.1,46.7 632.5,45.2 632.2,43.7" fill="#8cd818"/>
<polygon points="631.3,53.7 630.9,55.2 631.0,56.7 631.2,56.7 631.5,55.2 631.4,53.7" fill="#8cd818"/>
<polygon points="630.6,61.2 630.0,62.7 629.6,65.2 629.3,67.7 629.9,69.2 630.0,69.2 630.9,67.7 631.1,65.2 631.1,62.7 630.7,61.2" fill="#8cd818"/>
<polygon points="629.5,73.7 628.9,75.2 628.3,77.7 628.1,80.2 628.1,82.7 627.8,85.2 627.5,87.7 627.1,90.2 627.2,92.7 626.9,95.2 626.5,97.7 626.1,100.2 626.1,102.7 626.4,105.2 626.0,107.7 625.5,110.2 625.0,112.7 625.0,115.2 624.9,117.7 624.8,120.2 624.4,122.7 624.3,125.2 624.4,127.7 624.0,130.2 623.6,132.7 623.2,135.2 623.3,137.7 623.3,140.2 623.1,142.7 622.5,145.2 622.2,147.7 622.1,150.2 622.0,152.7 621.8,155.2 621.5,157.7 621.6,160.2 621.5,162.7 621.2,165.2 620.7,167.7 620.5,170.2 620.6,172.7 620.8,175.2 620.4,177.7 619.7,180.2 619.6,182.7 619.4,185.2 619.3,187.7 618.8,190.2 618.6,192.7 618.6,195.2 618.4,197.7 618.0,200.2 617.3,202.7 617.3,205.2 617.2,207.7 617.3,210.2 616.6,212.7 616.1,215.2 615.9,217.7 615.8,220.2 615.7,222.7 615.2,225.2 615.2,227.7 615.2,230.2 615.4,232.7 614.5,235.2 614.2,237.7 614.2,240.2 614.6,241.7 614.7,241.7 615.4,240.2 615.8,237.7 616.0,235.2 615.7,232.7 616.4,230.2 616.8,227.7 617.3,225.2 617.3,222.7 617.7,220.2 618.1,217.7 618.3,215.2 618.4,212.7 618.2,210.2 618.8,207.7 619.2,205.2 619.6,202.7 619.5,200.2 619.5,197.7 619.8,195.2 620.3,192.7 620.6,190.2 620.6,187.7 621.0,185.2 621.3,182.7 621.7,180.2 621.4,177.7 621.4,175.2 622.0,172.7 622.5,170.2 622.8,167.7 622.6,165.2 622.8,162.7 623.0,160.2 623.5,157.7 623.6,155.2 623.8,152.7 624.1,150.2 624.5,147.7 624.6,145.2 624.4,142.7 624.6,140.2 624.9,137.7 625.5,135.2 625.5,132.7 625.4,130.2 625.5,127.7 625.9,125.2 626.3,122.7 626.3,120.2 626.6,117.7 626.9,115.2 627.3,112.7 627.2,110.2 627.1,107.7 627.3,105.2 628.0,102.7 628.4,100.2 628.4,97.7 628.5,95.2 628.6,92.7 629.1,90.2 629.2,87.7 629.3,85.2 629.5,82.7 629.9,80.2 630.2,77.7 630.0,75.2 629.6,73.7" fill="#8cd818"/>
<polygon points="614.1,246.2 613.5,247.7 613.2,250.2 613.0,252.7 613.2,255.2 612.5,257.7 612.2,260.2 612.1,262.7 612.5,264.2 612.6,264.2 613.1,262.7 613.5,260.2 613.7,257.7 613.5,255.2 614.2,252.7 614.4,250.2 614.6,247.7 614.2,246.2" fill="#8cd818"/>
<polygon points="612.3,266.2 611.9,267.7 611.0,270.2 610.8,272.7 610.7,275.2 611.1,277.7 610.5,280.2 610.1,282.7 609.8,285.2 609.8,287.7 609.8,290.2 609.3,292.7 609.3,295.2 609.5,296.7 609.6,296.7 609.9,295.2 610.4,292.7 610.3,290.2 610.9,287.7 611.3,285.2 611.5,282.7 611.6,280.2 611.4,277.7 612.3,275.2 612.6,272.7 612.8,270.2 612.5,267.7 612.4,266.2" fill="#8cd818"/>
<polygon points="630.6,61.2 630.4,62.7 629.8,65.2 629.5,67.7 629.9,69.2 630.0,69.2 630.7,67.7 630.8,65.2 630.7,62.7 630.7,61.2" fill="#dce81a"/>
<polygon points="629.5,73.7 629.3,75.2 628.5,77.7 628.3,80.2 628.3,82.7 628.0,85.2 627.7,87.7 627.3,90.2 627.5,92.7 627.1,95.2 626.7,97.7 626.3,100.2 626.3,102.7 626.8,104.2 626.9,104.2 627.8,102.7 628.2,100.2 628.2,97.7 628.3,95.2 628.4,92.7 628.9,90.2 629.0,87.7 629.1,85.2 629.2,82.7 629.7,80.2 630.0,77.7 629.6,75.2 629.6,73.7" fill="#dce81a"/>
<polygon points="626.7,106.2 626.4,107.7 625.7,110.2 625.2,112.7 625.2,115.2 625.1,117.7 625.0,120.2 624.6,122.7 624.5,125.2 624.8,127.7 624.3,130.2 623.8,132.7 623.4,135.2 623.5,137.7 623.6,140.2 623.3,142.7 622.6,145.2 622.3,147.7 622.3,150.2 622.2,152.7 622.0,155.2 621.7,157.7 621.8,160.2 621.7,162.7 621.5,165.2 620.8,167.7 620.7,170.2 620.9,172.7 621.1,174.2 621.2,174.2 621.7,172.7 622.4,170.2 622.6,167.7 622.4,165.2 622.5,162.7 622.8,160.2 623.4,157.7 623.4,155.2 623.6,152.7 623.9,150.2 624.3,147.7 624.4,145.2 624.1,142.7 624.3,140.2 624.7,137.7 625.3,135.2 625.3,132.7 625.2,130.2 625.1,127.7 625.7,125.2 626.1,122.7 626.1,120.2 626.4,117.7 626.7,115.2 627.1,112.7 627.0,110.2 626.8,107.7 626.8,106.2" fill="#dce81a"/>
<polygon points="621.0,176.2 620.8,177.7 619.9,180.2 619.7,182.7 619.6,185.2 619.6,187.7 619.0,190.2 618.8,192.7 618.9,195.2 618.8,197.7 618.2,200.2 617.5,202.7 617.4,205.2 617.4,207.7 617.8,209.2 617.9,209.2 618.6,207.7 619.0,205.2 619.4,202.7 619.3,200.2 619.1,197.7 619.5,195.2 620.1,192.7 620.4,190.2 620.3,187.7 620.8,185.2 621.1,182.7 621.5,180.2 621.0,177.7 621.1,176.2" fill="#dce81a"/>
<polygon points="617.6,211.2 616.7,212.7 616.3,215.2 616.1,217.7 616.0,220.2 615.9,222.7 615.4,225.2 615.4,227.7 615.4,230.2 615.6,231.7 615.7,231.7 616.1,230.2 616.6,227.7 617.1,225.2 617.2,222.7 617.5,220.2 617.9,217.7 618.2,215.2 618.2,212.7 617.7,211.2" fill="#dce81a"/>
<polygon points="615.4,233.7 614.7,235.2 614.4,237.7 614.4,240.2 614.6,241.7 614.7,241.7 615.1,240.2 615.6,237.7 615.8,235.2 615.5,233.7" fill="#dce81a"/>
<polygon points="614.1,246.2 613.8,247.7 613.5,250.2 613.2,252.7 613.4,254.2 613.5,254.2 613.9,252.7 614.1,250.2 614.3,247.7 614.2,246.2" fill="#dce81a"/>
<polygon points="613.2,256.2 612.8,257.7 612.5,260.2 612.6,262.7 612.5,264.2 612.6,264.2 612.7,262.7 613.3,260.2 613.4,257.7 613.3,256.2" fill="#dce81a"/>
<polygon points="612.0,268.7 611.2,270.2 611.0,272.7 610.9,275.2 611.3,276.7 611.4,276.7 612.1,275.2 612.4,272.7 612.7,270.2 612.1,268.7" fill="#dce81a"/>
<polygon points="611.1,278.7 610.8,280.2 610.3,282.7 610.0,285.2 610.1,287.7 610.1,289.2 610.2,289.2 610.6,287.7 611.1,285.2 611.3,282.7 611.2,280.2 611.2,278.7" fill="#dce81a"/>
<polygon points="609.9,291.2 609.7,292.7 609.7,294.2 609.8,294.2 610.0,292.7 610.1,291.2" fill="#dce81a"/>
<polygon points="630.4,63.7 630.1,65.2 629.7,67.7 629.9,69.2 630.0,69.2 630.5,67.7 630.5,65.2 630.5,63.7" fill="#fcd81c"/>
<polygon points="629.3,76.2 628.6,77.7 628.5,80.2 628.8,81.7 628.9,81.7 629.6,80.2 629.8,77.7 629.4,76.2" fill="#fcd81c"/>
<polygon points="628.6,83.7 628.3,85.2 627.9,87.7 627.5,90.2 627.9,91.7 628.0,91.7 628.8,90.2 628.8,87.7 628.8,85.2 628.7,83.7" fill="#fcd81c"/>
<polygon points="627.8,93.7 627.3,95.2 626.9,97.7 626.5,100.2 626.5,102.7 626.8,104.2 626.9,104.2 627.6,102.7 628.0,100.2 628.0,97.7 628.0,95.2 627.9,93.7" fill="#fcd81c"/>
<polygon points="626.5,108.7 625.9,110.2 625.3,112.7 625.4,115.2 625.3,117.7 625.3,120.2 624.8,122.7 624.8,125.2 625.0,126.7 625.1,126.7 625.5,125.2 625.9,122.7 625.8,120.2 626.2,117.7 626.5,115.2 627.0,112.7 626.8,110.2 626.6,108.7" fill="#fcd81c"/>
<polygon points="624.8,128.7 624.6,130.2 624.0,132.7 623.5,135.2 623.8,137.7 624.0,139.2 624.1,139.2 624.5,137.7 625.1,135.2 625.1,132.7 624.9,130.2 624.9,128.7" fill="#fcd81c"/>
<polygon points="623.6,143.7 622.8,145.2 622.5,147.7 622.5,150.2 622.4,152.7 622.2,155.2 621.8,157.7 622.2,160.2 622.1,161.7 622.2,161.7 622.5,160.2 623.2,157.7 623.2,155.2 623.5,152.7 623.8,150.2 624.1,147.7 624.3,145.2 623.7,143.7" fill="#fcd81c"/>
<polygon points="621.8,166.2 621.0,167.7 620.8,170.2 621.3,171.7 621.4,171.7 622.2,170.2 622.4,167.7 621.9,166.2" fill="#fcd81c"/>
<polygon points="620.8,178.7 620.0,180.2 619.9,182.7 619.8,185.2 620.0,186.7 620.1,186.7 620.6,185.2 621.0,182.7 621.3,180.2 620.9,178.7" fill="#fcd81c"/>
<polygon points="619.8,188.7 619.2,190.2 619.0,192.7 619.3,194.2 619.4,194.2 619.9,192.7 620.2,190.2 619.9,188.7" fill="#fcd81c"/>
<polygon points="618.8,198.7 618.4,200.2 617.7,202.7 617.6,205.2 617.6,207.7 617.8,209.2 617.9,209.2 618.3,207.7 618.9,205.2 619.3,202.7 619.0,200.2 618.9,198.7" fill="#fcd81c"/>
<polygon points="617.6,211.2 616.9,212.7 616.5,215.2 616.3,217.7 616.2,220.2 616.1,222.7 615.6,225.2 615.7,227.7 615.8,229.2 615.9,229.2 616.4,227.7 617.0,225.2 616.9,222.7 617.3,220.2 617.7,217.7 618.0,215.2 618.1,212.7 617.7,211.2" fill="#fcd81c"/>
<polygon points="615.4,233.7 615.0,235.2 614.6,237.7 614.8,239.2 614.9,239.2 615.4,237.7 615.6,235.2 615.5,233.7" fill="#fcd81c"/>
<polygon points="612.0,268.7 611.4,270.2 611.2,272.7 611.1,275.2 611.3,276.7 611.4,276.7 611.8,275.2 612.2,272.7 612.5,270.2 612.1,268.7" fill="#fcd81c"/>
<polygon points="610.9,281.2 610.6,282.7 610.3,285.2 610.4,286.7 610.5,286.7 610.9,285.2 611.0,282.7 611.0,281.2" fill="#fcd81c"/>
<polygon points="629.3,76.2 628.8,77.7 628.6,80.2 628.8,81.7 628.9,81.7 629.4,80.2 629.7,77.7 629.4,76.2" fill="#f8981c"/>
<polygon points="628.4,86.2 628.2,87.7 627.6,90.2 627.9,91.7 628.0,91.7 628.6,90.2 628.5,87.7 628.5,86.2" fill="#f8981c"/>
<polygon points="627.5,96.2 627.1,97.7 626.6,100.2 626.6,102.7 626.8,104.2 626.9,104.2 627.4,102.7 627.9,100.2 627.9,97.7 627.6,96.2" fill="#f8981c"/>
<polygon points="626.5,108.7 626.1,110.2 625.4,112.7 625.5,115.2 625.5,117.7 625.6,119.2 625.7,119.2 626.0,117.7 626.4,115.2 626.9,112.7 626.6,110.2 626.6,108.7" fill="#f8981c"/>
<polygon points="625.3,121.2 624.9,122.7 625.1,124.2 625.3,124.2 625.7,122.7 625.6,121.2" fill="#f8981c"/>
<polygon points="624.6,131.2 624.1,132.7 623.6,135.2 624.2,136.7 624.3,136.7 625.0,135.2 624.9,132.7 624.7,131.2" fill="#f8981c"/>
<polygon points="623.6,143.7 622.9,145.2 622.6,147.7 622.6,150.2 622.5,152.7 622.4,155.2 622.0,157.7 622.3,159.2 622.4,159.2 623.1,157.7 623.0,155.2 623.3,152.7 623.6,150.2 624.0,147.7 624.1,145.2 623.7,143.7" fill="#f8981c"/>
<polygon points="621.8,166.2 621.1,167.7 620.9,170.2 621.3,171.7 621.4,171.7 622.1,170.2 622.3,167.7 621.9,166.2" fill="#f8981c"/>
<polygon points="620.8,178.7 620.2,180.2 620.1,182.7 620.0,185.2 620.0,186.7 620.1,186.7 620.3,185.2 620.8,182.7 621.2,180.2 620.9,178.7" fill="#f8981c"/>
<polygon points="619.8,188.7 619.4,190.2 619.2,192.7 619.3,194.2 619.4,194.2 619.7,192.7 620.0,190.2 619.9,188.7" fill="#f8981c"/>
<polygon points="618.6,201.2 617.8,202.7 617.7,205.2 618.0,206.7 618.1,206.7 618.7,205.2 619.2,202.7 618.7,201.2" fill="#f8981c"/>
<polygon points="617.6,211.2 617.1,212.7 616.6,215.2 616.4,217.7 616.3,220.2 616.3,222.7 615.7,225.2 616.1,226.7 616.2,226.7 616.8,225.2 616.7,222.7 617.2,220.2 617.6,217.7 617.9,215.2 617.9,212.7 617.7,211.2" fill="#f8981c"/>
<polygon points="615.2,236.2 615.0,237.7 614.9,239.2 614.9,239.2 615.1,237.7 615.2,236.2" fill="#f8981c"/>
<polygon points="612.0,268.7 611.6,270.2 611.4,272.7 611.5,274.2 611.6,274.2 612.1,272.7 612.3,270.2 612.1,268.7" fill="#f8981c"/>
<polygon points="629.3,76.2 629.0,77.7 628.9,80.2 628.8,81.7 628.9,81.7 629.1,80.2 629.5,77.7 629.4,76.2" fill="#ec4c1c"/>
<polygon points="628.2,88.7 627.8,90.2 627.9,91.7 628.1,91.7 628.5,90.2 628.4,88.7" fill="#ec4c1c"/>
<polygon points="627.5,96.2 627.3,97.7 626.7,100.2 626.8,102.7 626.8,104.2 626.9,104.2 627.2,102.7 627.8,100.2 627.6,97.7 627.6,96.2" fill="#ec4c1c"/>
<polygon points="626.2,111.2 625.6,112.7 625.7,115.2 625.8,116.7 625.9,116.7 626.2,115.2 626.8,112.7 626.3,111.2" fill="#ec4c1c"/>
<polygon points="625.4,121.2 625.2,122.7 625.2,124.2 625.3,124.2 625.5,122.7 625.5,121.2" fill="#ec4c1c"/>
<polygon points="624.6,131.2 624.4,132.7 623.8,135.2 624.2,136.7 624.3,136.7 624.9,135.2 624.7,132.7 624.7,131.2" fill="#ec4c1c"/>
<polygon points="623.6,143.7 623.0,145.2 622.7,147.7 622.8,150.2 622.8,152.7 622.7,154.2 622.8,154.2 623.0,152.7 623.5,150.2 623.9,147.7 624.0,145.2 623.7,143.7" fill="#ec4c1c"/>
<polygon points="622.5,156.2 622.1,157.7 622.3,159.2 622.5,159.2 622.9,157.7 622.8,156.2" fill="#ec4c1c"/>
<polygon points="621.8,166.2 621.2,167.7 621.1,170.2 621.3,171.7 621.4,171.7 621.9,170.2 622.2,167.7 621.9,166.2" fill="#ec4c1c"/>
<polygon points="620.7,178.7 620.3,180.2 620.4,181.7 620.6,181.7 621.0,180.2 620.9,178.7" fill="#ec4c1c"/>
<polygon points="618.6,201.2 617.9,202.7 617.9,205.2 618.0,206.7 618.1,206.7 618.5,205.2 619.1,202.7 618.7,201.2" fill="#ec4c1c"/>
<polygon points="617.6,211.2 617.3,212.7 616.7,215.2 616.5,217.7 616.6,220.2 616.6,221.7 616.7,221.7 616.9,220.2 617.5,217.7 617.8,215.2 617.7,212.7 617.7,211.2" fill="#ec4c1c"/>
<polygon points="616.3,223.7 615.8,225.2 616.0,226.7 616.2,226.7 616.7,225.2 616.5,223.7" fill="#ec4c1c"/>
<polygon points="627.3,98.7 626.8,100.2 627.0,101.7 627.2,101.7 627.7,100.2 627.5,98.7" fill="#dc241c"/>
<polygon points="626.1,111.2 625.7,112.7 625.9,114.2 626.2,114.2 626.6,112.7 626.4,111.2" fill="#dc241c"/>
<polygon points="624.3,133.7 623.9,135.2 624.1,136.7 624.3,136.7 624.8,135.2 624.6,133.7" fill="#dc241c"/>
<polygon points="623.6,143.7 623.2,145.2 622.9,147.7 623.1,150.2 622.9,151.7 623.0,151.7 623.2,150.2 623.8,147.7 623.9,145.2 623.7,143.7" fill="#dc241c"/>
<polygon points="622.6,156.2 622.3,157.7 622.3,159.2 622.5,159.2 622.7,157.7 622.7,156.2" fill="#dc241c"/>
<polygon points="621.8,166.2 621.4,167.7 621.3,170.2 621.3,171.7 621.4,171.7 621.7,170.2 622.0,167.7 621.9,166.2" fill="#dc241c"/>
<polygon points="618.5,201.2 618.0,202.7 618.2,204.2 618.5,204.2 618.9,202.7 618.8,201.2" fill="#dc241c"/>
<polygon points="617.3,213.7 616.8,215.2 616.7,217.7 616.8,219.2 616.9,219.2 617.3,217.7 617.6,215.2 617.4,213.7" fill="#dc241c"/>
<polygon points="616.3,223.7 616.0,225.2 616.0,226.7 616.2,226.7 616.5,225.2 616.5,223.7" fill="#dc241c"/>
<polygon points="662.5,43.7 661.0,45.2 661.2,47.7 660.8,50.2 660.3,52.7 659.9,55.2 659.8,57.7 659.7,60.2 659.3,62.7 659.0,65.2 658.9,67.7 658.7,70.2 658.2,72.7 657.8,75.2 657.7,77.7 657.7,80.2 657.4,82.7 657.1,85.2 656.9,87.7 656.8,90.2 656.4,92.7 656.0,95.2 655.8,97.7 655.9,100.2 655.6,102.7 655.2,105.2 654.9,107.7 654.8,110.2 654.6,112.7 654.3,115.2 654.1,117.7 654.1,120.2 654.0,122.7 653.7,125.2 653.3,127.7 653.2,130.2 653.1,132.7 652.9,135.2 652.6,137.7 652.5,140.2 652.4,142.7 652.1,145.2 651.6,147.7 651.5,150.2 651.4,152.7 651.3,155.2 650.9,157.7 650.7,160.2 650.6,162.7 650.5,165.2 650.0,167.7 649.9,170.2 649.8,172.7 649.9,175.2 649.5,177.7 649.2,180.2 648.9,182.7 648.9,185.2 648.4,187.7 648.2,190.2 648.0,192.7 648.2,195.2 647.6,197.7 647.2,200.2 646.8,202.7 646.8,205.2 646.5,207.7 646.2,210.2 645.9,212.7 645.9,215.2 645.5,217.7 645.1,220.2 644.8,222.7 644.8,225.2 644.6,227.7 644.4,230.2 644.1,232.7 644.1,235.2 643.9,237.7 643.5,240.2 643.1,242.7 643.0,245.2 643.0,247.7 642.9,250.2 642.3,252.7 642.1,255.2 642.0,257.7 641.8,260.2 641.3,262.7 641.2,265.2 641.2,267.7 641.2,270.2 640.5,272.7 640.2,275.2 640.1,277.7 640.0,280.2 639.6,282.7 639.4,285.2 639.4,287.7 639.4,290.2 638.9,292.7 638.4,295.2 639.9,296.7 640.0,296.7 641.7,295.2 641.7,292.7 641.6,290.2 642.1,287.7 642.6,285.2 642.8,282.7 642.9,280.2 643.3,277.7 643.6,275.2 643.8,272.7 643.5,270.2 644.0,267.7 644.5,265.2 644.9,262.7 644.8,260.2 645.1,257.7 645.4,255.2 645.7,252.7 645.6,250.2 645.9,247.7 646.4,245.2 646.9,242.7 646.9,240.2 647.0,237.7 647.3,235.2 647.8,232.7 648.0,230.2 648.2,227.7 648.6,225.2 649.1,222.7 649.2,220.2 649.3,217.7 649.4,215.2 650.0,212.7 650.2,210.2 650.4,207.7 650.5,205.2 651.0,202.7 651.1,200.2 651.2,197.7 651.1,195.2 651.8,192.7 652.1,190.2 652.4,187.7 652.4,185.2 652.8,182.7 653.0,180.2 653.2,177.7 653.1,175.2 653.7,172.7 654.0,170.2 654.3,167.7 654.2,165.2 654.5,162.7 654.7,160.2 655.0,157.7 655.0,155.2 655.3,152.7 655.6,150.2 655.9,147.7 655.8,145.2 655.9,142.7 656.2,140.2 656.6,137.7 656.6,135.2 656.8,132.7 657.1,130.2 657.5,127.7 657.4,125.2 657.5,122.7 657.8,120.2 658.3,117.7 658.5,115.2 658.6,112.7 658.8,110.2 659.1,107.7 659.2,105.2 659.3,102.7 659.5,100.2 660.0,97.7 660.2,95.2 660.3,92.7 660.3,90.2 660.7,87.7 660.9,85.2 661.0,82.7 661.2,80.2 661.7,77.7 662.0,75.2 662.0,72.7 662.0,70.2 662.2,67.7 662.6,65.2 662.7,62.7 662.7,60.2 663.0,57.7 663.4,55.2 663.4,52.7 663.3,50.2 663.4,47.7 664.0,45.2 662.6,43.7" fill="#1d6cbc"/>
<polygon points="662.5,43.7 661.4,45.2 661.6,47.7 661.3,50.2 660.7,52.7 660.3,55.2 660.2,57.7 660.0,60.2 659.6,62.7 659.3,65.2 659.2,67.7 659.0,70.2 658.5,72.7 658.1,75.2 658.0,77.7 658.0,80.2 657.8,82.7 657.4,85.2 657.2,87.7 657.2,90.2 656.8,92.7 656.4,95.2 656.2,97.7 656.2,100.2 656.0,102.7 655.6,105.2 655.2,107.7 655.1,110.2 654.9,112.7 654.6,115.2 654.4,117.7 654.5,120.2 654.4,122.7 654.1,125.2 653.6,127.7 653.6,130.2 653.5,132.7 653.3,135.2 652.9,137.7 652.9,140.2 652.8,142.7 652.5,145.2 651.9,147.7 651.8,150.2 651.7,152.7 651.7,155.2 651.2,157.7 651.1,160.2 650.9,162.7 650.8,165.2 650.3,167.7 650.2,170.2 650.1,172.7 650.3,175.2 649.8,177.7 649.5,180.2 649.3,182.7 649.3,185.2 648.7,187.7 648.5,190.2 648.3,192.7 648.6,195.2 648.0,197.7 647.6,200.2 647.2,202.7 647.2,205.2 646.8,207.7 646.5,210.2 646.2,212.7 646.3,215.2 645.9,217.7 645.5,220.2 645.1,222.7 645.1,225.2 645.0,227.7 644.8,230.2 644.4,232.7 644.5,235.2 644.3,237.7 643.9,240.2 643.4,242.7 643.4,245.2 643.4,247.7 643.3,250.2 642.7,252.7 642.5,255.2 642.4,257.7 642.2,260.2 641.6,262.7 641.5,265.2 641.7,267.7 641.7,270.2 640.9,272.7 640.6,275.2 640.4,277.7 640.4,280.2 640.0,282.7 639.7,285.2 639.8,287.7 639.9,290.2 639.3,292.7 638.8,295.2 639.9,296.7 640.0,296.7 641.3,295.2 641.3,292.7 641.2,290.2 641.7,287.7 642.2,285.2 642.5,282.7 642.5,280.2 642.9,277.7 643.3,275.2 643.4,272.7 643.1,270.2 643.6,267.7 644.1,265.2 644.5,262.7 644.4,260.2 644.7,257.7 645.0,255.2 645.3,252.7 645.1,250.2 645.5,247.7 646.0,245.2 646.5,242.7 646.5,240.2 646.6,237.7 646.9,235.2 647.5,232.7 647.6,230.2 647.9,227.7 648.3,225.2 648.8,222.7 648.9,220.2 649.0,217.7 649.1,215.2 649.6,212.7 649.8,210.2 650.0,207.7 650.1,205.2 650.6,202.7 650.7,200.2 650.8,197.7 650.7,195.2 651.5,192.7 651.8,190.2 652.0,187.7 652.0,185.2 652.5,182.7 652.7,180.2 652.8,177.7 652.7,175.2 653.3,172.7 653.7,170.2 653.9,167.7 653.9,165.2 654.2,162.7 654.4,160.2 654.7,157.7 654.6,155.2 655.0,152.7 655.3,150.2 655.6,147.7 655.4,145.2 655.5,142.7 655.8,140.2 656.2,137.7 656.2,135.2 656.5,132.7 656.8,130.2 657.1,127.7 657.1,125.2 657.1,122.7 657.5,120.2 658.0,117.7 658.1,115.2 658.3,112.7 658.5,110.2 658.8,107.7 658.9,105.2 658.9,102.7 659.1,100.2 659.6,97.7 659.9,95.2 659.9,92.7 660.0,90.2 660.3,87.7 660.6,85.2 660.7,82.7 660.8,80.2 661.3,77.7 661.6,75.2 661.7,72.7 661.6,70.2 661.8,67.7 662.2,65.2 662.3,62.7 662.3,60.2 662.6,57.7 663.0,55.2 663.1,52.7 662.9,50.2 662.9,47.7 663.6,45.2 662.6,43.7" fill="#198c90"/>
<polygon points="662.3,43.7 661.8,45.2 662.2,46.7 662.6,46.7 663.3,45.2 662.8,43.7" fill="#1aa850"/>
<polygon points="662.2,48.7 661.7,50.2 661.0,52.7 660.6,55.2 660.5,57.7 660.4,60.2 659.9,62.7 659.6,65.2 659.5,67.7 659.3,70.2 658.8,72.7 658.4,75.2 658.3,77.7 658.3,80.2 658.0,82.7 657.7,85.2 657.5,87.7 657.4,90.2 657.0,92.7 656.6,95.2 656.4,97.7 656.5,100.2 656.3,102.7 655.8,105.2 655.5,107.7 655.4,110.2 655.2,112.7 654.9,115.2 654.6,117.7 654.8,120.2 654.7,122.7 654.3,125.2 653.9,127.7 653.8,130.2 653.7,132.7 653.6,135.2 653.2,137.7 653.2,140.2 653.1,142.7 652.8,145.2 652.2,147.7 652.0,150.2 652.0,152.7 651.9,155.2 651.5,157.7 651.3,160.2 651.2,162.7 651.1,165.2 650.6,167.7 650.4,170.2 650.4,172.7 650.6,175.2 650.1,177.7 649.8,180.2 649.5,182.7 649.5,185.2 649.0,187.7 648.8,190.2 648.6,192.7 648.9,195.2 648.3,197.7 647.8,200.2 647.4,202.7 647.4,205.2 647.1,207.7 646.8,210.2 646.5,212.7 646.6,215.2 646.2,217.7 645.7,220.2 645.3,222.7 645.4,225.2 645.3,227.7 645.1,230.2 644.7,232.7 644.8,235.2 644.6,237.7 644.2,240.2 643.7,242.7 643.7,245.2 643.8,247.7 643.7,250.2 643.0,252.7 642.8,255.2 642.7,257.7 642.5,260.2 641.9,262.7 641.8,265.2 642.0,267.7 642.4,269.2 642.5,269.2 643.2,267.7 643.9,265.2 644.2,262.7 644.1,260.2 644.4,257.7 644.7,255.2 645.0,252.7 644.8,250.2 645.2,247.7 645.7,245.2 646.2,242.7 646.2,240.2 646.3,237.7 646.6,235.2 647.2,232.7 647.3,230.2 647.6,227.7 648.0,225.2 648.5,222.7 648.6,220.2 648.7,217.7 648.8,215.2 649.4,212.7 649.6,210.2 649.7,207.7 649.9,205.2 650.4,202.7 650.5,200.2 650.5,197.7 650.4,195.2 651.2,192.7 651.5,190.2 651.8,187.7 651.7,185.2 652.2,182.7 652.4,180.2 652.6,177.7 652.4,175.2 653.1,172.7 653.4,170.2 653.7,167.7 653.6,165.2 653.9,162.7 654.1,160.2 654.4,157.7 654.4,155.2 654.7,152.7 655.1,150.2 655.3,147.7 655.1,145.2 655.2,142.7 655.5,140.2 656.0,137.7 656.0,135.2 656.2,132.7 656.5,130.2 656.9,127.7 656.8,125.2 656.9,122.7 657.2,120.2 657.7,117.7 657.9,115.2 658.0,112.7 658.2,110.2 658.6,107.7 658.6,105.2 658.7,102.7 658.9,100.2 659.4,97.7 659.6,95.2 659.7,92.7 659.7,90.2 660.1,87.7 660.3,85.2 660.4,82.7 660.6,80.2 661.1,77.7 661.4,75.2 661.4,72.7 661.3,70.2 661.5,67.7 661.9,65.2 662.0,62.7 662.0,60.2 662.3,57.7 662.7,55.2 662.8,52.7 662.4,50.2 662.3,48.7" fill="#1aa850"/>
<polygon points="642.2,271.2 641.2,272.7 640.8,275.2 640.7,277.7 640.7,280.2 640.3,282.7 640.0,285.2 640.1,287.7 640.6,289.2 640.7,289.2 641.4,287.7 641.9,285.2 642.2,282.7 642.2,280.2 642.6,277.7 643.0,275.2 643.1,272.7 642.3,271.2" fill="#1aa850"/>
<polygon points="640.4,291.2 639.6,292.7 639.1,295.2 639.9,296.7 640.0,296.7 641.0,295.2 641.0,292.7 640.5,291.2" fill="#1aa850"/>
<polygon points="662.4,43.7 662.1,45.2 662.3,46.7 662.5,46.7 662.9,45.2 662.6,43.7" fill="#3cc020"/>
<polygon points="661.9,51.2 661.3,52.7 660.8,55.2 660.8,57.7 660.7,60.2 660.2,62.7 659.9,65.2 659.8,67.7 659.6,70.2 659.0,72.7 658.6,75.2 658.5,77.7 658.6,80.2 658.3,82.7 657.9,85.2 657.7,87.7 657.7,90.2 657.3,92.7 656.8,95.2 656.6,97.7 656.8,100.2 656.5,102.7 656.1,105.2 655.7,107.7 655.6,110.2 655.4,112.7 655.1,115.2 654.9,117.7 655.0,120.2 655.0,122.7 654.6,125.2 654.1,127.7 654.1,130.2 654.0,132.7 653.8,135.2 653.4,137.7 653.4,140.2 653.3,142.7 653.0,145.2 652.4,147.7 652.3,150.2 652.2,152.7 652.2,155.2 651.7,157.7 651.6,160.2 651.4,162.7 651.3,165.2 650.8,167.7 650.7,170.2 650.6,172.7 650.9,175.2 650.3,177.7 650.0,180.2 649.8,182.7 649.8,185.2 649.2,187.7 649.0,190.2 648.8,192.7 649.2,195.2 648.5,197.7 648.1,200.2 647.6,202.7 647.7,205.2 647.3,207.7 647.0,210.2 646.7,212.7 646.8,215.2 646.4,217.7 646.0,220.2 645.5,222.7 645.6,225.2 645.5,227.7 645.3,230.2 644.9,232.7 645.1,235.2 644.9,237.7 644.5,240.2 643.9,242.7 644.0,245.2 644.2,247.7 644.3,249.2 644.4,249.2 644.8,247.7 645.5,245.2 646.0,242.7 645.9,240.2 646.0,237.7 646.3,235.2 647.0,232.7 647.1,230.2 647.4,227.7 647.8,225.2 648.3,222.7 648.4,220.2 648.5,217.7 648.5,215.2 649.2,212.7 649.3,210.2 649.5,207.7 649.6,205.2 650.2,202.7 650.2,200.2 650.3,197.7 650.1,195.2 651.0,192.7 651.3,190.2 651.5,187.7 651.5,185.2 652.0,182.7 652.2,180.2 652.3,177.7 652.1,175.2 652.8,172.7 653.2,170.2 653.5,167.7 653.3,165.2 653.7,162.7 653.9,160.2 654.2,157.7 654.1,155.2 654.5,152.7 654.8,150.2 655.1,147.7 654.9,145.2 655.0,142.7 655.3,140.2 655.7,137.7 655.7,135.2 656.0,132.7 656.3,130.2 656.7,127.7 656.6,125.2 656.6,122.7 656.9,120.2 657.5,117.7 657.7,115.2 657.8,112.7 658.0,110.2 658.4,107.7 658.4,105.2 658.4,102.7 658.6,100.2 659.2,97.7 659.4,95.2 659.4,92.7 659.4,90.2 659.8,87.7 660.1,85.2 660.1,82.7 660.3,80.2 660.8,77.7 661.2,75.2 661.2,72.7 661.0,70.2 661.3,67.7 661.7,65.2 661.8,62.7 661.7,60.2 662.0,57.7 662.5,55.2 662.5,52.7 662.0,51.2" fill="#3cc020"/>
<polygon points="644.1,251.2 643.3,252.7 643.1,255.2 643.0,257.7 642.8,260.2 642.2,262.7 642.1,265.2 642.7,266.7 642.8,266.7 643.6,265.2 644.0,262.7 643.8,260.2 644.1,257.7 644.4,255.2 644.8,252.7 644.2,251.2" fill="#3cc020"/>
<polygon points="642.2,271.2 641.5,272.7 641.1,275.2 641.0,277.7 641.1,280.2 640.6,282.7 640.3,285.2 640.6,287.7 640.6,289.2 640.7,289.2 640.9,287.7 641.7,285.2 641.9,282.7 641.8,280.2 642.3,277.7 642.7,275.2 642.8,272.7 642.3,271.2" fill="#3cc020"/>
<polygon points="640.4,291.2 640.0,292.7 639.3,295.2 639.9,296.7 640.0,296.7 640.8,295.2 640.6,292.7 640.5,291.2" fill="#3cc020"/>
<polygon points="661.9,51.2 661.6,52.7 661.1,55.2 661.1,57.7 661.2,59.2 661.3,59.2 661.7,57.7 662.2,55.2 662.1,52.7 662.0,51.2" fill="#8cd818"/>
<polygon points="661.1,61.2 660.5,62.7 660.1,65.2 660.1,67.7 659.9,70.2 659.2,72.7 658.8,75.2 658.7,77.7 658.8,80.2 658.5,82.7 658.1,85.2 657.9,87.7 657.9,90.2 657.5,92.7 657.0,95.2 656.8,97.7 657.0,100.2 656.7,102.7 656.3,105.2 655.9,107.7 655.8,110.2 655.6,112.7 655.3,115.2 655.0,117.7 655.2,120.2 655.2,122.7 654.8,125.2 654.3,127.7 654.3,130.2 654.2,132.7 654.0,135.2 653.6,137.7 653.7,140.2 653.6,142.7 653.2,145.2 652.6,147.7 652.5,150.2 652.4,152.7 652.4,155.2 651.9,157.7 651.8,160.2 651.6,162.7 651.5,165.2 651.0,167.7 650.8,170.2 650.8,172.7 651.3,175.2 650.5,177.7 650.3,180.2 650.0,182.7 650.0,185.2 649.4,187.7 649.2,190.2 649.0,192.7 649.7,194.2 649.8,194.2 650.7,192.7 651.1,190.2 651.3,187.7 651.2,185.2 651.8,182.7 652.0,180.2 652.1,177.7 651.8,175.2 652.6,172.7 653.0,170.2 653.3,167.7 653.1,165.2 653.5,162.7 653.7,160.2 654.0,157.7 653.9,155.2 654.3,152.7 654.6,150.2 654.9,147.7 654.7,145.2 654.7,142.7 655.1,140.2 655.5,137.7 655.5,135.2 655.7,132.7 656.1,130.2 656.5,127.7 656.4,125.2 656.4,122.7 656.7,120.2 657.3,117.7 657.5,115.2 657.6,112.7 657.8,110.2 658.2,107.7 658.2,105.2 658.2,102.7 658.4,100.2 659.0,97.7 659.2,95.2 659.2,92.7 659.2,90.2 659.6,87.7 659.9,85.2 659.9,82.7 660.1,80.2 660.6,77.7 661.0,75.2 661.0,72.7 660.7,70.2 661.0,67.7 661.4,65.2 661.5,62.7 661.2,61.2" fill="#8cd818"/>
<polygon points="649.5,196.2 648.8,197.7 648.3,200.2 647.8,202.7 647.9,205.2 647.5,207.7 647.2,210.2 646.9,212.7 647.1,215.2 646.6,217.7 646.2,220.2 645.7,222.7 645.8,225.2 645.8,227.7 645.6,230.2 645.1,232.7 645.4,235.2 645.5,236.7 645.6,236.7 646.0,235.2 646.8,232.7 646.8,230.2 647.1,227.7 647.6,225.2 648.1,222.7 648.2,220.2 648.2,217.7 648.3,215.2 649.0,212.7 649.1,210.2 649.3,207.7 649.4,205.2 650.0,202.7 650.0,200.2 650.0,197.7 649.6,196.2" fill="#8cd818"/>
<polygon points="645.3,238.7 644.8,240.2 644.1,242.7 644.2,245.2 644.5,246.7 644.6,246.7 645.2,245.2 645.8,242.7 645.7,240.2 645.4,238.7" fill="#8cd818"/>
<polygon points="644.1,251.2 643.5,252.7 643.4,255.2 643.6,256.7 643.7,256.7 644.1,255.2 644.5,252.7 644.2,251.2" fill="#8cd818"/>
<polygon points="643.2,261.2 642.4,262.7 642.4,265.2 642.7,266.7 642.8,266.7 643.3,265.2 643.7,262.7 643.3,261.2" fill="#8cd818"/>
<polygon points="642.2,271.2 641.8,272.7 641.4,275.2 641.3,277.7 641.5,279.2 641.6,279.2 642.0,277.7 642.5,275.2 642.5,272.7 642.3,271.2" fill="#8cd818"/>
<polygon points="641.3,281.2 640.9,282.7 640.6,285.2 640.8,286.7 640.9,286.7 641.3,285.2 641.6,282.7 641.4,281.2" fill="#8cd818"/>
<polygon points="640.1,293.7 639.6,295.2 639.8,296.7 640.1,296.7 640.5,295.2 640.3,293.7" fill="#8cd818"/>
<polygon points="661.7,53.7 661.3,55.2 661.4,56.7 661.6,56.7 661.9,55.2 661.9,53.7" fill="#dce81a"/>
<polygon points="661.1,61.2 660.8,62.7 660.3,65.2 660.6,66.7 660.7,66.7 661.2,65.2 661.1,62.7 661.2,61.2" fill="#dce81a"/>
<polygon points="660.2,71.2 659.4,72.7 659.0,75.2 658.9,77.7 659.1,80.2 658.7,82.7 658.3,85.2 658.1,87.7 658.2,90.2 657.7,92.7 657.2,95.2 657.0,97.7 657.2,100.2 656.9,102.7 656.4,105.2 656.0,107.7 656.0,110.2 655.8,112.7 655.5,115.2 655.2,117.7 655.5,120.2 655.5,122.7 655.0,125.2 654.4,127.7 654.4,130.2 654.4,132.7 654.2,135.2 653.8,137.7 653.9,140.2 653.9,142.7 653.5,145.2 652.8,147.7 652.6,150.2 652.6,152.7 652.6,155.2 652.1,157.7 651.9,160.2 651.8,162.7 651.7,165.2 651.2,167.7 651.0,170.2 651.0,172.7 651.6,174.2 651.7,174.2 652.4,172.7 652.9,170.2 653.1,167.7 652.9,165.2 653.3,162.7 653.5,160.2 653.8,157.7 653.7,155.2 654.1,152.7 654.5,150.2 654.7,147.7 654.4,145.2 654.5,142.7 654.8,140.2 655.4,137.7 655.3,135.2 655.5,132.7 655.9,130.2 656.3,127.7 656.1,125.2 656.1,122.7 656.5,120.2 657.1,117.7 657.3,115.2 657.4,112.7 657.6,110.2 658.0,107.7 658.0,105.2 658.0,102.7 658.1,100.2 658.8,97.7 659.0,95.2 659.0,92.7 658.9,90.2 659.4,87.7 659.7,85.2 659.7,82.7 659.8,80.2 660.4,77.7 660.8,75.2 660.8,72.7 660.3,71.2" fill="#dce81a"/>
<polygon points="651.4,176.2 650.7,177.7 650.4,180.2 650.1,182.7 650.3,185.2 649.6,187.7 649.4,190.2 649.2,192.7 649.7,194.2 649.8,194.2 650.6,192.7 650.9,190.2 651.1,187.7 650.9,185.2 651.6,182.7 651.8,180.2 651.9,177.7 651.5,176.2" fill="#dce81a"/>
<polygon points="649.5,196.2 649.0,197.7 648.5,200.2 648.0,202.7 648.1,205.2 647.7,207.7 647.4,210.2 647.0,212.7 647.3,215.2 646.8,217.7 646.3,220.2 645.9,222.7 646.0,225.2 646.0,227.7 645.8,230.2 645.3,232.7 645.7,234.2 645.8,234.2 646.6,232.7 646.6,230.2 646.9,227.7 647.4,225.2 648.0,222.7 648.0,220.2 648.0,217.7 648.0,215.2 648.8,212.7 648.9,210.2 649.1,207.7 649.2,205.2 649.8,202.7 649.8,200.2 649.8,197.7 649.6,196.2" fill="#dce81a"/>
<polygon points="644.9,241.2 644.3,242.7 644.6,244.2 645.0,244.2 645.6,242.7 645.3,241.2" fill="#dce81a"/>
<polygon points="643.1,261.2 642.6,262.7 642.8,264.2 643.1,264.2 643.5,262.7 643.3,261.2" fill="#dce81a"/>
<polygon points="642.0,273.7 641.7,275.2 641.7,276.7 641.8,276.7 642.2,275.2 642.1,273.7" fill="#dce81a"/>
<polygon points="660.2,71.2 659.6,72.7 659.1,75.2 659.0,77.7 659.5,79.2 659.6,79.2 660.3,77.7 660.6,75.2 660.6,72.7 660.3,71.2" fill="#fcd81c"/>
<polygon points="659.3,81.2 659.1,82.7 658.5,85.2 658.3,87.7 658.6,89.2 658.7,89.2 659.2,87.7 659.5,85.2 659.4,82.7 659.4,81.2" fill="#fcd81c"/>
<polygon points="658.4,91.2 657.8,92.7 657.4,95.2 657.2,97.7 657.6,100.2 657.2,102.7 656.6,105.2 656.2,107.7 656.2,110.2 655.9,112.7 655.6,115.2 655.4,117.7 655.7,120.2 655.8,121.7 655.9,121.7 656.2,120.2 657.0,117.7 657.1,115.2 657.2,112.7 657.4,110.2 657.8,107.7 657.9,105.2 657.7,102.7 657.8,100.2 658.6,97.7 658.9,95.2 658.8,92.7 658.5,91.2" fill="#fcd81c"/>
<polygon points="655.6,123.7 655.2,125.2 654.6,127.7 654.6,130.2 654.6,132.7 654.5,135.2 653.9,137.7 654.3,140.2 654.2,141.7 654.3,141.7 654.5,140.2 655.2,137.7 655.0,135.2 655.3,132.7 655.7,130.2 656.1,127.7 655.9,125.2 655.7,123.7" fill="#fcd81c"/>
<polygon points="654.0,143.7 653.8,145.2 652.9,147.7 652.8,150.2 652.8,152.7 652.9,155.2 652.2,157.7 652.1,160.2 652.0,162.7 652.0,165.2 651.3,167.7 651.2,170.2 651.2,172.7 651.6,174.2 651.7,174.2 652.3,172.7 652.7,170.2 653.0,167.7 652.7,165.2 653.1,162.7 653.4,160.2 653.7,157.7 653.4,155.2 653.9,152.7 654.3,150.2 654.6,147.7 654.1,145.2 654.1,143.7" fill="#fcd81c"/>
<polygon points="651.4,176.2 651.0,177.7 650.6,180.2 650.3,182.7 650.7,184.2 650.8,184.2 651.4,182.7 651.6,180.2 651.7,177.7 651.5,176.2" fill="#fcd81c"/>
<polygon points="650.5,186.2 649.8,187.7 649.5,190.2 649.4,192.7 649.7,194.2 649.8,194.2 650.4,192.7 650.7,190.2 651.0,187.7 650.6,186.2" fill="#fcd81c"/>
<polygon points="649.2,198.7 648.6,200.2 648.2,202.7 648.4,205.2 647.9,207.7 647.6,210.2 647.2,212.7 647.7,214.2 647.8,214.2 648.6,212.7 648.8,210.2 648.9,207.7 648.9,205.2 649.6,202.7 649.7,200.2 649.3,198.7" fill="#fcd81c"/>
<polygon points="647.5,216.2 647.0,217.7 646.5,220.2 646.0,222.7 646.2,225.2 646.5,226.7 646.6,226.7 647.2,225.2 647.8,222.7 647.9,220.2 647.8,217.7 647.6,216.2" fill="#fcd81c"/>
<polygon points="646.0,231.2 645.6,232.7 645.7,234.2 645.9,234.2 646.3,232.7 646.2,231.2" fill="#fcd81c"/>
<polygon points="645.0,241.2 644.6,242.7 644.7,244.2 644.9,244.2 645.4,242.7 645.2,241.2" fill="#fcd81c"/>
<polygon points="660.2,71.2 659.8,72.7 659.2,75.2 659.2,77.7 659.5,79.2 659.6,79.2 660.1,77.7 660.5,75.2 660.4,72.7 660.3,71.2" fill="#f8981c"/>
<polygon points="659.1,83.7 658.7,85.2 658.6,87.7 658.6,89.2 658.7,89.2 659.0,87.7 659.3,85.2 659.2,83.7" fill="#f8981c"/>
<polygon points="658.4,91.2 658.0,92.7 657.5,95.2 657.3,97.7 657.7,99.2 657.8,99.2 658.5,97.7 658.8,95.2 658.6,92.7 658.5,91.2" fill="#f8981c"/>
<polygon points="657.3,103.7 656.7,105.2 656.3,107.7 656.3,110.2 656.1,112.7 655.7,115.2 655.5,117.7 656.0,119.2 656.1,119.2 656.9,117.7 657.0,115.2 657.1,112.7 657.3,110.2 657.7,107.7 657.7,105.2 657.4,103.7" fill="#f8981c"/>
<polygon points="655.4,126.2 654.7,127.7 654.8,130.2 655.0,131.7 655.1,131.7 655.5,130.2 656.0,127.7 655.5,126.2" fill="#f8981c"/>
<polygon points="654.5,136.2 654.1,137.7 654.3,139.2 654.6,139.2 655.0,137.7 654.8,136.2" fill="#f8981c"/>
<polygon points="653.8,146.2 653.0,147.7 652.9,150.2 652.9,152.7 653.2,154.2 653.3,154.2 653.8,152.7 654.2,150.2 654.5,147.7 653.9,146.2" fill="#f8981c"/>
<polygon points="653.0,156.2 652.3,157.7 652.3,160.2 652.1,162.7 652.4,164.2 652.5,164.2 652.9,162.7 653.2,160.2 653.5,157.7 653.1,156.2" fill="#f8981c"/>
<polygon points="652.2,166.2 651.4,167.7 651.3,170.2 651.4,172.7 651.6,174.2 651.7,174.2 652.1,172.7 652.6,170.2 652.9,167.7 652.3,166.2" fill="#f8981c"/>
<polygon points="651.2,178.7 650.8,180.2 650.5,182.7 650.7,184.2 650.8,184.2 651.2,182.7 651.4,180.2 651.3,178.7" fill="#f8981c"/>
<polygon points="650.5,186.2 650.0,187.7 649.7,190.2 649.6,192.7 649.7,194.2 649.8,194.2 650.1,192.7 650.6,190.2 650.8,187.7 650.6,186.2" fill="#f8981c"/>
<polygon points="649.2,198.7 648.8,200.2 648.3,202.7 648.7,204.2 648.8,204.2 649.5,202.7 649.5,200.2 649.3,198.7" fill="#f8981c"/>
<polygon points="648.5,206.2 648.1,207.7 647.7,210.2 647.3,212.7 647.7,214.2 647.8,214.2 648.5,212.7 648.6,210.2 648.7,207.7 648.6,206.2" fill="#f8981c"/>
<polygon points="647.5,216.2 647.3,217.7 646.6,220.2 646.1,222.7 646.4,225.2 646.5,226.7 646.6,226.7 647.0,225.2 647.7,222.7 647.7,220.2 647.5,217.7 647.6,216.2" fill="#f8981c"/>
<polygon points="646.1,231.2 645.9,232.7 645.8,234.2 645.8,234.2 646.0,232.7 646.1,231.2" fill="#f8981c"/>
<polygon points="645.1,241.2 644.8,242.7 644.8,244.2 644.9,244.2 645.1,242.7 645.1,241.2" fill="#f8981c"/>
<polygon points="660.0,73.7 659.4,75.2 659.4,77.7 659.5,79.2 659.6,79.2 659.9,77.7 660.4,75.2 660.1,73.7" fill="#ec4c1c"/>
<polygon points="658.2,93.7 657.6,95.2 657.4,97.7 657.7,99.2 657.8,99.2 658.4,97.7 658.6,95.2 658.3,93.7" fill="#ec4c1c"/>
<polygon points="657.3,103.7 656.9,105.2 656.4,107.7 656.5,110.2 656.2,112.7 655.9,115.2 655.6,117.7 656.0,119.2 656.1,119.2 656.8,117.7 656.9,115.2 657.0,112.7 657.1,110.2 657.6,107.7 657.6,105.2 657.4,103.7" fill="#ec4c1c"/>
<polygon points="655.4,126.2 654.8,127.7 655.1,130.2 655.0,131.7 655.1,131.7 655.2,130.2 655.9,127.7 655.5,126.2" fill="#ec4c1c"/>
<polygon points="654.6,136.2 654.2,137.7 654.3,139.2 654.5,139.2 654.9,137.7 654.8,136.2" fill="#ec4c1c"/>
<polygon points="653.8,146.2 653.1,147.7 653.0,150.2 653.1,152.7 653.2,154.2 653.3,154.2 653.6,152.7 654.1,150.2 654.4,147.7 653.9,146.2" fill="#ec4c1c"/>
<polygon points="653.0,156.2 652.5,157.7 652.4,160.2 652.4,162.7 652.4,164.2 652.5,164.2 652.7,162.7 653.1,160.2 653.4,157.7 653.1,156.2" fill="#ec4c1c"/>
<polygon points="652.2,166.2 651.5,167.7 651.4,170.2 651.8,171.7 651.9,171.7 652.4,170.2 652.7,167.7 652.3,166.2" fill="#ec4c1c"/>
<polygon points="651.0,181.2 650.8,182.7 650.7,184.2 650.7,184.2 650.9,182.7 651.0,181.2" fill="#ec4c1c"/>
<polygon points="650.5,186.2 650.2,187.7 649.9,190.2 649.9,191.7 650.0,191.7 650.4,190.2 650.6,187.7 650.6,186.2" fill="#ec4c1c"/>
<polygon points="648.9,201.2 648.4,202.7 648.6,204.2 648.9,204.2 649.4,202.7 649.2,201.2" fill="#ec4c1c"/>
<polygon points="648.3,208.7 647.9,210.2 647.5,212.7 647.7,214.2 647.8,214.2 648.4,212.7 648.4,210.2 648.4,208.7" fill="#ec4c1c"/>
<polygon points="647.3,218.7 646.8,220.2 646.2,222.7 646.7,224.2 646.8,224.2 647.6,222.7 647.6,220.2 647.4,218.7" fill="#ec4c1c"/>
<polygon points="659.9,73.7 659.5,75.2 659.6,76.7 659.9,76.7 660.2,75.2 660.1,73.7" fill="#dc241c"/>
<polygon points="658.2,93.7 657.8,95.2 657.6,97.7 657.7,99.2 657.8,99.2 658.2,97.7 658.5,95.2 658.3,93.7" fill="#dc241c"/>
<polygon points="657.0,106.2 656.5,107.7 656.7,109.2 657.0,109.2 657.5,107.7 657.3,106.2" fill="#dc241c"/>
<polygon points="656.7,111.2 656.5,112.7 656.0,115.2 655.7,117.7 656.0,119.2 656.1,119.2 656.6,117.7 656.8,115.2 656.7,112.7 656.8,111.2" fill="#dc241c"/>
<polygon points="655.4,126.2 655.0,127.7 655.1,129.2 655.4,129.2 655.8,127.7 655.6,126.2" fill="#dc241c"/>
<polygon points="653.8,146.2 653.2,147.7 653.2,150.2 653.4,151.7 653.5,151.7 653.9,150.2 654.3,147.7 653.9,146.2" fill="#dc241c"/>
<polygon points="653.0,156.2 652.7,157.7 652.7,159.2 652.9,159.2 653.2,157.7 653.2,156.2" fill="#dc241c"/>
<polygon points="652.2,166.2 651.7,167.7 651.6,170.2 651.8,171.7 651.9,171.7 652.3,170.2 652.6,167.7 652.3,166.2" fill="#dc241c"/>
<polygon points="649.0,201.2 648.6,202.7 648.7,204.2 648.9,204.2 649.2,202.7 649.1,201.2" fill="#dc241c"/>
<polygon points="648.0,211.2 647.6,212.7 647.7,214.2 647.9,214.2 648.2,212.7 648.1,211.2" fill="#dc241c"/>
<polygon points="647.3,218.7 647.0,220.2 646.4,222.7 646.7,224.2 646.8,224.2 647.5,222.7 647.4,220.2 647.4,218.7" fill="#dc241c"/>
<polygon points="692.9,43.7 691.3,45.2 691.2,47.7 691.3,50.2 691.0,52.7 690.5,55.2 690.0,57.7 689.9,60.2 690.0,62.7 689.7,65.2 689.2,67.7 688.8,70.2 688.7,72.7 688.6,75.2 688.4,77.7 688.0,80.2 687.7,82.7 687.5,85.2 687.4,87.7 687.0,90.2 686.8,92.7 686.6,95.2 686.4,97.7 686.1,100.2 685.8,102.7 685.6,105.2 685.6,107.7 685.3,110.2 685.0,112.7 684.6,115.2 684.6,117.7 684.6,120.2 684.5,122.7 684.0,125.2 683.7,127.7 683.6,130.2 683.8,132.7 683.5,135.2 683.1,137.7 682.7,140.2 682.7,142.7 682.6,145.2 682.5,147.7 682.0,150.2 681.8,152.7 681.6,155.2 681.7,157.7 681.3,160.2 681.1,162.7 680.8,165.2 680.7,167.7 680.4,170.2 680.2,172.7 679.9,175.2 679.9,177.7 679.7,180.2 679.4,182.7 679.0,185.2 678.9,187.7 678.8,190.2 678.7,192.7 678.1,195.2 677.8,197.7 677.6,200.2 677.7,202.7 677.4,205.2 676.9,207.7 676.5,210.2 676.4,212.7 676.4,215.2 676.1,217.7 675.6,220.2 675.3,222.7 675.2,225.2 675.2,227.7 674.9,230.2 674.6,232.7 674.4,235.2 674.3,237.7 674.1,240.2 673.8,242.7 673.6,245.2 673.4,247.7 673.3,250.2 672.8,252.7 672.6,255.2 672.3,257.7 672.5,260.2 672.2,262.7 671.7,265.2 671.2,267.7 671.2,270.2 671.3,272.7 671.2,275.2 670.4,277.7 670.1,280.2 670.0,282.7 670.4,285.2 669.9,287.7 669.4,290.2 669.0,292.7 669.1,295.2 670.3,296.7 670.4,296.7 671.9,295.2 672.4,292.7 672.5,290.2 672.5,287.7 672.5,285.2 673.3,282.7 673.6,280.2 673.8,277.7 673.4,275.2 673.9,272.7 674.4,270.2 674.9,267.7 674.8,265.2 674.8,262.7 674.9,260.2 675.6,257.7 675.8,255.2 676.0,252.7 676.0,250.2 676.4,247.7 676.7,245.2 677.0,242.7 677.1,240.2 677.5,237.7 677.9,235.2 678.2,232.7 678.3,230.2 678.6,227.7 679.0,225.2 679.4,222.7 679.6,220.2 679.6,217.7 679.8,215.2 680.3,212.7 680.7,210.2 680.8,207.7 680.8,205.2 680.9,202.7 681.5,200.2 681.9,197.7 682.0,195.2 681.9,192.7 682.3,190.2 682.7,187.7 683.1,185.2 683.2,182.7 683.4,180.2 683.6,177.7 684.0,175.2 684.1,172.7 684.3,170.2 684.4,167.7 684.7,165.2 684.9,162.7 685.1,160.2 685.1,157.7 685.5,155.2 685.7,152.7 685.9,150.2 685.8,147.7 686.1,145.2 686.5,142.7 686.9,140.2 686.9,137.7 686.9,135.2 687.0,132.7 687.6,130.2 687.9,127.7 688.0,125.2 687.9,122.7 688.2,120.2 688.6,117.7 689.0,115.2 689.0,112.7 689.2,110.2 689.3,107.7 689.8,105.2 690.0,102.7 690.1,100.2 690.2,97.7 690.5,95.2 690.8,92.7 691.0,90.2 691.0,87.7 691.3,85.2 691.6,82.7 691.8,80.2 691.8,77.7 692.0,75.2 692.3,72.7 692.7,70.2 692.7,67.7 692.6,65.2 692.8,62.7 693.3,60.2 693.6,57.7 693.6,55.2 693.5,52.7 693.7,50.2 694.3,47.7 694.6,45.2 693.0,43.7" fill="#1d6cbc"/>
<polygon points="692.9,43.7 691.7,45.2 691.6,47.7 691.8,50.2 691.5,52.7 690.9,55.2 690.4,57.7 690.3,60.2 690.4,62.7 690.1,65.2 689.6,67.7 689.2,70.2 689.1,72.7 689.0,75.2 688.8,77.7 688.3,80.2 688.1,82.7 687.9,85.2 687.7,87.7 687.4,90.2 687.1,92.7 686.9,95.2 686.8,97.7 686.4,100.2 686.1,102.7 685.9,105.2 685.9,107.7 685.6,110.2 685.3,112.7 685.0,115.2 684.9,117.7 684.9,120.2 684.9,122.7 684.3,125.2 684.1,127.7 683.9,130.2 684.2,132.7 683.8,135.2 683.5,137.7 683.0,140.2 683.1,142.7 683.0,145.2 682.9,147.7 682.4,150.2 682.2,152.7 682.0,155.2 682.0,157.7 681.6,160.2 681.4,162.7 681.1,165.2 681.1,167.7 680.7,170.2 680.5,172.7 680.3,175.2 680.3,177.7 680.1,180.2 679.8,182.7 679.3,185.2 679.3,187.7 679.2,190.2 679.1,192.7 678.5,195.2 678.1,197.7 678.0,200.2 678.1,202.7 677.8,205.2 677.2,207.7 676.8,210.2 676.7,212.7 676.8,215.2 676.5,217.7 676.0,220.2 675.6,222.7 675.6,225.2 675.5,227.7 675.3,230.2 674.9,232.7 674.7,235.2 674.7,237.7 674.5,240.2 674.1,242.7 673.9,245.2 673.8,247.7 673.7,250.2 673.2,252.7 672.9,255.2 672.7,257.7 673.0,260.2 672.6,262.7 672.1,265.2 671.6,267.7 671.6,270.2 671.7,272.7 671.7,275.2 670.8,277.7 670.5,280.2 670.4,282.7 670.8,285.2 670.3,287.7 669.8,290.2 669.4,292.7 669.5,295.2 670.3,296.7 670.4,296.7 671.5,295.2 672.1,292.7 672.1,290.2 672.1,287.7 672.0,285.2 672.9,282.7 673.3,280.2 673.4,277.7 673.0,275.2 673.4,272.7 674.0,270.2 674.5,267.7 674.4,265.2 674.4,262.7 674.5,260.2 675.2,257.7 675.5,255.2 675.6,252.7 675.6,250.2 676.0,247.7 676.4,245.2 676.6,242.7 676.7,240.2 677.1,237.7 677.5,235.2 677.8,232.7 678.0,230.2 678.2,227.7 678.7,225.2 679.1,222.7 679.3,220.2 679.2,217.7 679.4,215.2 680.0,212.7 680.4,210.2 680.5,207.7 680.4,205.2 680.5,202.7 681.2,200.2 681.5,197.7 681.7,195.2 681.5,192.7 681.9,190.2 682.4,187.7 682.8,185.2 682.9,182.7 683.0,180.2 683.2,177.7 683.7,175.2 683.8,172.7 684.0,170.2 684.0,167.7 684.4,165.2 684.5,162.7 684.7,160.2 684.7,157.7 685.2,155.2 685.4,152.7 685.6,150.2 685.4,147.7 685.8,145.2 686.1,142.7 686.6,140.2 686.5,137.7 686.5,135.2 686.6,132.7 687.3,130.2 687.5,127.7 687.7,125.2 687.5,122.7 687.9,120.2 688.3,117.7 688.7,115.2 688.7,112.7 688.8,110.2 689.0,107.7 689.4,105.2 689.7,102.7 689.8,100.2 689.9,97.7 690.2,95.2 690.4,92.7 690.6,90.2 690.7,87.7 691.0,85.2 691.2,82.7 691.4,80.2 691.4,77.7 691.6,75.2 692.0,72.7 692.3,70.2 692.4,67.7 692.2,65.2 692.4,62.7 692.9,60.2 693.3,57.7 693.3,55.2 693.1,52.7 693.2,50.2 693.9,47.7 694.2,45.2 693.0,43.7" fill="#198c90"/>
<polygon points="692.9,43.7 692.0,45.2 691.9,47.7 692.3,50.2 691.9,52.7 691.2,55.2 690.7,57.7 690.6,60.2 690.7,62.7 690.5,65.2 689.8,67.7 689.5,70.2 689.4,72.7 689.3,75.2 689.0,77.7 688.6,80.2 688.3,82.7 688.2,85.2 688.0,87.7 687.6,90.2 687.4,92.7 687.2,95.2 687.0,97.7 686.7,100.2 686.4,102.7 686.1,105.2 686.2,107.7 685.9,110.2 685.6,112.7 685.2,115.2 685.2,117.7 685.2,120.2 685.2,122.7 684.6,125.2 684.3,127.7 684.2,130.2 684.5,132.7 684.1,135.2 683.7,137.7 683.3,140.2 683.3,142.7 683.3,145.2 683.2,147.7 682.6,150.2 682.4,152.7 682.3,155.2 682.3,157.7 681.9,160.2 681.7,162.7 681.4,165.2 681.4,167.7 681.0,170.2 680.8,172.7 680.5,175.2 680.6,177.7 680.3,180.2 680.0,182.7 679.6,185.2 679.5,187.7 679.5,190.2 679.4,192.7 678.7,195.2 678.4,197.7 678.2,200.2 678.4,202.7 678.1,205.2 677.5,207.7 677.1,210.2 677.0,212.7 677.0,215.2 676.8,217.7 676.2,220.2 675.9,222.7 675.8,225.2 675.8,227.7 675.6,230.2 675.2,232.7 675.0,235.2 675.0,237.7 674.9,240.2 674.4,242.7 674.2,245.2 674.1,247.7 674.1,250.2 673.5,252.7 673.2,255.2 673.0,257.7 673.4,260.2 673.0,262.7 672.4,265.2 671.9,267.7 671.9,270.2 672.1,272.7 672.4,274.2 672.5,274.2 673.0,272.7 673.7,270.2 674.2,267.7 674.1,265.2 674.1,262.7 674.1,260.2 674.9,257.7 675.2,255.2 675.3,252.7 675.2,250.2 675.7,247.7 676.1,245.2 676.3,242.7 676.4,240.2 676.8,237.7 677.2,235.2 677.6,232.7 677.7,230.2 677.9,227.7 678.4,225.2 678.8,222.7 679.0,220.2 678.9,217.7 679.2,215.2 679.7,212.7 680.1,210.2 680.2,207.7 680.1,205.2 680.2,202.7 680.9,200.2 681.3,197.7 681.4,195.2 681.2,192.7 681.6,190.2 682.1,187.7 682.5,185.2 682.6,182.7 682.8,180.2 682.9,177.7 683.4,175.2 683.5,172.7 683.7,170.2 683.8,167.7 684.1,165.2 684.2,162.7 684.4,160.2 684.4,157.7 684.9,155.2 685.1,152.7 685.3,150.2 685.1,147.7 685.5,145.2 685.8,142.7 686.3,140.2 686.3,137.7 686.3,135.2 686.3,132.7 687.0,130.2 687.3,127.7 687.4,125.2 687.2,122.7 687.6,120.2 688.0,117.7 688.4,115.2 688.4,112.7 688.5,110.2 688.7,107.7 689.2,105.2 689.4,102.7 689.6,100.2 689.6,97.7 689.9,95.2 690.2,92.7 690.4,90.2 690.4,87.7 690.7,85.2 691.0,82.7 691.1,80.2 691.1,77.7 691.3,75.2 691.7,72.7 692.0,70.2 692.1,67.7 691.9,65.2 692.1,62.7 692.6,60.2 693.0,57.7 693.0,55.2 692.7,52.7 692.7,50.2 693.6,47.7 693.9,45.2 693.0,43.7" fill="#1aa850"/>
<polygon points="672.2,276.2 671.1,277.7 670.8,280.2 670.7,282.7 671.5,284.2 671.6,284.2 672.6,282.7 673.0,280.2 673.1,277.7 672.3,276.2" fill="#1aa850"/>
<polygon points="671.3,286.2 670.7,287.7 670.2,290.2 669.7,292.7 669.8,295.2 670.3,296.7 670.4,296.7 671.1,295.2 671.8,292.7 671.7,290.2 671.7,287.7 671.4,286.2" fill="#1aa850"/>
<polygon points="692.9,43.7 692.3,45.2 692.2,47.7 692.5,49.2 692.6,49.2 693.3,47.7 693.6,45.2 693.0,43.7" fill="#3cc020"/>
<polygon points="692.1,53.7 691.5,55.2 690.9,57.7 690.9,60.2 691.1,62.7 690.8,65.2 690.1,67.7 689.7,70.2 689.6,72.7 689.6,75.2 689.3,77.7 688.8,80.2 688.6,82.7 688.4,85.2 688.2,87.7 687.9,90.2 687.6,92.7 687.4,95.2 687.3,97.7 686.9,100.2 686.6,102.7 686.4,105.2 686.4,107.7 686.2,110.2 685.8,112.7 685.4,115.2 685.4,117.7 685.5,120.2 685.5,122.7 684.8,125.2 684.5,127.7 684.4,130.2 684.8,132.7 684.4,135.2 684.0,137.7 683.5,140.2 683.6,142.7 683.5,145.2 683.5,147.7 682.8,150.2 682.7,152.7 682.5,155.2 682.6,157.7 682.1,160.2 681.9,162.7 681.6,165.2 681.6,167.7 681.2,170.2 681.0,172.7 680.7,175.2 680.8,177.7 680.6,180.2 680.3,182.7 679.8,185.2 679.8,187.7 679.8,190.2 679.7,192.7 679.0,195.2 678.6,197.7 678.5,200.2 678.7,202.7 678.3,205.2 677.7,207.7 677.3,210.2 677.2,212.7 677.3,215.2 677.0,217.7 676.5,220.2 676.1,222.7 676.1,225.2 676.1,227.7 675.8,230.2 675.4,232.7 675.3,235.2 675.3,237.7 675.2,240.2 674.7,242.7 674.5,245.2 674.4,247.7 674.7,249.2 674.8,249.2 675.4,247.7 675.8,245.2 676.1,242.7 676.1,240.2 676.5,237.7 677.0,235.2 677.3,232.7 677.4,230.2 677.6,227.7 678.2,225.2 678.6,222.7 678.8,220.2 678.7,217.7 678.9,215.2 679.5,212.7 679.9,210.2 680.0,207.7 679.8,205.2 680.0,202.7 680.7,200.2 681.1,197.7 681.2,195.2 681.0,192.7 681.4,190.2 681.9,187.7 682.3,185.2 682.3,182.7 682.5,180.2 682.7,177.7 683.2,175.2 683.3,172.7 683.5,170.2 683.5,167.7 683.9,165.2 684.0,162.7 684.2,160.2 684.2,157.7 684.7,155.2 684.9,152.7 685.1,150.2 684.9,147.7 685.2,145.2 685.6,142.7 686.1,140.2 686.0,137.7 686.0,135.2 686.0,132.7 686.8,130.2 687.1,127.7 687.2,125.2 686.9,122.7 687.4,120.2 687.8,117.7 688.2,115.2 688.2,112.7 688.3,110.2 688.5,107.7 689.0,105.2 689.2,102.7 689.3,100.2 689.4,97.7 689.7,95.2 689.9,92.7 690.1,90.2 690.2,87.7 690.4,85.2 690.7,82.7 690.9,80.2 690.9,77.7 691.0,75.2 691.5,72.7 691.8,70.2 691.8,67.7 691.5,65.2 691.7,62.7 692.4,60.2 692.8,57.7 692.7,55.2 692.2,53.7" fill="#3cc020"/>
<polygon points="674.5,251.2 673.8,252.7 673.5,255.2 673.3,257.7 673.8,259.2 673.9,259.2 674.6,257.7 674.9,255.2 675.0,252.7 674.6,251.2" fill="#3cc020"/>
<polygon points="673.4,263.7 672.7,265.2 672.1,267.7 672.2,270.2 672.6,271.7 672.7,271.7 673.4,270.2 674.0,267.7 673.8,265.2 673.5,263.7" fill="#3cc020"/>
<polygon points="672.2,276.2 671.4,277.7 671.0,280.2 670.9,282.7 671.5,284.2 671.6,284.2 672.3,282.7 672.7,280.2 672.9,277.7 672.3,276.2" fill="#3cc020"/>
<polygon points="671.0,288.7 670.5,290.2 669.9,292.7 670.3,295.2 670.3,296.7 670.4,296.7 670.7,295.2 671.5,292.7 671.4,290.2 671.1,288.7" fill="#3cc020"/>
<polygon points="692.8,43.7 692.6,45.2 692.7,46.7 692.9,46.7 693.3,45.2 693.1,43.7" fill="#8cd818"/>
<polygon points="692.1,53.7 691.8,55.2 691.2,57.7 691.1,60.2 691.4,61.7 691.5,61.7 692.1,60.2 692.5,57.7 692.3,55.2 692.2,53.7" fill="#8cd818"/>
<polygon points="691.0,66.2 690.3,67.7 689.9,70.2 689.8,72.7 689.9,75.2 689.6,77.7 689.0,80.2 688.8,82.7 688.6,85.2 688.5,87.7 688.1,90.2 687.8,92.7 687.6,95.2 687.5,97.7 687.1,100.2 686.8,102.7 686.6,105.2 686.6,107.7 686.4,110.2 686.0,112.7 685.6,115.2 685.6,117.7 685.7,120.2 685.7,122.7 685.0,125.2 684.7,127.7 684.6,130.2 685.1,132.7 684.6,135.2 684.2,137.7 683.7,140.2 683.8,142.7 683.8,145.2 683.8,147.7 683.1,150.2 682.9,152.7 682.7,155.2 682.8,157.7 682.4,160.2 682.1,162.7 681.8,165.2 681.8,167.7 681.4,170.2 681.2,172.7 680.9,175.2 681.1,177.7 680.8,180.2 680.5,182.7 680.0,185.2 680.0,187.7 680.0,190.2 680.0,192.7 679.2,195.2 678.8,197.7 678.7,200.2 679.1,202.7 678.6,205.2 677.9,207.7 677.5,210.2 677.4,212.7 677.6,215.2 677.3,217.7 676.7,220.2 676.3,222.7 676.3,225.2 676.4,227.7 676.1,230.2 675.7,232.7 675.5,235.2 675.6,237.7 675.7,239.2 675.8,239.2 676.2,237.7 676.7,235.2 677.1,232.7 677.2,230.2 677.4,227.7 677.9,225.2 678.4,222.7 678.6,220.2 678.4,217.7 678.6,215.2 679.3,212.7 679.7,210.2 679.8,207.7 679.6,205.2 679.6,202.7 680.5,200.2 680.9,197.7 681.0,195.2 680.6,192.7 681.1,190.2 681.6,187.7 682.1,185.2 682.1,182.7 682.3,180.2 682.5,177.7 683.0,175.2 683.1,172.7 683.3,170.2 683.3,167.7 683.7,165.2 683.8,162.7 684.0,160.2 683.9,157.7 684.5,155.2 684.7,152.7 684.9,150.2 684.6,147.7 685.0,145.2 685.4,142.7 685.9,140.2 685.8,137.7 685.7,135.2 685.7,132.7 686.6,130.2 686.9,127.7 687.0,125.2 686.7,122.7 687.1,120.2 687.6,117.7 688.0,115.2 688.0,112.7 688.1,110.2 688.3,107.7 688.8,105.2 689.0,102.7 689.1,100.2 689.2,97.7 689.5,95.2 689.7,92.7 689.9,90.2 689.9,87.7 690.2,85.2 690.5,82.7 690.7,80.2 690.6,77.7 690.7,75.2 691.2,72.7 691.6,70.2 691.6,67.7 691.1,66.2" fill="#8cd818"/>
<polygon points="675.5,241.2 675.0,242.7 674.9,245.2 674.9,246.7 675.0,246.7 675.4,245.2 675.7,242.7 675.6,241.2" fill="#8cd818"/>
<polygon points="674.5,251.2 674.2,252.7 673.8,255.2 673.6,257.7 673.8,259.2 673.9,259.2 674.3,257.7 674.6,255.2 674.7,252.7 674.6,251.2" fill="#8cd818"/>
<polygon points="673.4,263.7 673.1,265.2 672.3,267.7 672.7,270.2 672.6,271.7 672.7,271.7 673.0,270.2 673.8,267.7 673.4,265.2 673.5,263.7" fill="#8cd818"/>
<polygon points="672.2,276.2 671.6,277.7 671.3,280.2 671.2,282.7 671.5,284.2 671.6,284.2 672.1,282.7 672.5,280.2 672.6,277.7 672.3,276.2" fill="#8cd818"/>
<polygon points="670.7,291.2 670.2,292.7 670.4,294.2 670.7,294.2 671.2,292.7 671.0,291.2" fill="#8cd818"/>
<polygon points="691.8,56.2 691.4,57.7 691.6,59.2 691.8,59.2 692.3,57.7 692.1,56.2" fill="#dce81a"/>
<polygon points="691.0,66.2 690.6,67.7 690.1,70.2 690.1,72.7 690.3,74.2 690.4,74.2 691.0,72.7 691.4,70.2 691.4,67.7 691.1,66.2" fill="#dce81a"/>
<polygon points="690.2,76.2 690.0,77.7 689.2,80.2 689.0,82.7 688.8,85.2 688.7,87.7 688.2,90.2 688.0,92.7 687.8,95.2 687.7,97.7 687.3,100.2 687.0,102.7 686.7,105.2 686.8,107.7 686.5,110.2 686.2,112.7 685.8,115.2 685.8,117.7 685.9,120.2 686.2,121.7 686.3,121.7 686.9,120.2 687.4,117.7 687.9,115.2 687.8,112.7 687.9,110.2 688.1,107.7 688.6,105.2 688.8,102.7 689.0,100.2 689.0,97.7 689.3,95.2 689.5,92.7 689.7,90.2 689.7,87.7 690.0,85.2 690.3,82.7 690.5,80.2 690.2,77.7 690.3,76.2" fill="#dce81a"/>
<polygon points="686.1,123.7 685.2,125.2 684.9,127.7 684.8,130.2 685.4,131.7 685.5,131.7 686.4,130.2 686.7,127.7 686.8,125.2 686.2,123.7" fill="#dce81a"/>
<polygon points="685.3,133.7 685.0,135.2 684.4,137.7 683.9,140.2 684.0,142.7 684.1,145.2 684.2,146.7 684.3,146.7 684.7,145.2 685.2,142.7 685.7,140.2 685.6,137.7 685.4,135.2 685.4,133.7" fill="#dce81a"/>
<polygon points="684.1,148.7 683.2,150.2 683.1,152.7 682.9,155.2 683.2,157.7 682.5,160.2 682.3,162.7 682.0,165.2 682.0,167.7 681.6,170.2 681.4,172.7 681.1,175.2 681.3,177.7 681.0,180.2 680.7,182.7 680.2,185.2 680.2,187.7 680.4,190.2 680.4,191.7 680.5,191.7 680.8,190.2 681.5,187.7 681.9,185.2 681.9,182.7 682.1,180.2 682.2,177.7 682.8,175.2 682.9,172.7 683.1,170.2 683.1,167.7 683.5,165.2 683.6,162.7 683.8,160.2 683.6,157.7 684.3,155.2 684.5,152.7 684.7,150.2 684.2,148.7" fill="#dce81a"/>
<polygon points="680.2,193.7 679.3,195.2 679.0,197.7 678.9,200.2 679.4,201.7 679.5,201.7 680.3,200.2 680.7,197.7 680.8,195.2 680.3,193.7" fill="#dce81a"/>
<polygon points="678.9,206.2 678.1,207.7 677.6,210.2 677.6,212.7 677.9,215.2 677.6,217.7 676.8,220.2 676.5,222.7 676.5,225.2 676.7,227.7 676.4,230.2 675.9,232.7 675.8,235.2 675.9,236.7 676.0,236.7 676.5,235.2 676.9,232.7 676.8,230.2 677.0,227.7 677.8,225.2 678.2,222.7 678.4,220.2 678.1,217.7 678.3,215.2 679.1,212.7 679.6,210.2 679.6,207.7 679.0,206.2" fill="#dce81a"/>
<polygon points="673.0,266.2 672.6,267.7 672.8,269.2 673.0,269.2 673.5,267.7 673.3,266.2" fill="#dce81a"/>
<polygon points="671.9,278.7 671.6,280.2 671.6,281.7 671.8,281.7 672.2,280.2 672.1,278.7" fill="#dce81a"/>
<polygon points="670.8,291.2 670.6,292.7 670.5,294.2 670.6,294.2 670.9,292.7 670.9,291.2" fill="#dce81a"/>
<polygon points="690.8,68.7 690.3,70.2 690.4,72.7 690.3,74.2 690.4,74.2 690.6,72.7 691.2,70.2 690.9,68.7" fill="#fcd81c"/>
<polygon points="689.9,78.7 689.5,80.2 689.2,82.7 689.0,85.2 689.0,87.7 688.4,90.2 688.2,92.7 688.0,95.2 687.9,97.7 687.4,100.2 687.1,102.7 686.9,105.2 687.0,107.7 686.7,110.2 686.3,112.7 685.9,115.2 686.0,117.7 686.2,120.2 686.2,121.7 686.3,121.7 686.6,120.2 687.3,117.7 687.7,115.2 687.7,112.7 687.7,110.2 687.9,107.7 688.5,105.2 688.7,102.7 688.8,100.2 688.7,97.7 689.1,95.2 689.4,92.7 689.6,90.2 689.5,87.7 689.8,85.2 690.1,82.7 690.3,80.2 690.0,78.7" fill="#fcd81c"/>
<polygon points="686.1,123.7 685.3,125.2 685.1,127.7 685.0,130.2 685.4,131.7 685.5,131.7 686.2,130.2 686.5,127.7 686.7,125.2 686.2,123.7" fill="#fcd81c"/>
<polygon points="685.1,136.2 684.6,137.7 684.0,140.2 684.2,142.7 684.4,144.2 684.5,144.2 685.0,142.7 685.6,140.2 685.4,137.7 685.2,136.2" fill="#fcd81c"/>
<polygon points="684.1,148.7 683.4,150.2 683.3,152.7 683.1,155.2 683.4,156.7 683.5,156.7 684.1,155.2 684.3,152.7 684.5,150.2 684.2,148.7" fill="#fcd81c"/>
<polygon points="683.2,158.7 682.8,160.2 682.6,162.7 682.2,165.2 682.3,167.7 681.8,170.2 681.6,172.7 681.3,175.2 681.7,177.7 681.3,180.2 680.9,182.7 680.3,185.2 680.4,187.7 680.6,189.2 680.7,189.2 681.2,187.7 681.8,185.2 681.7,182.7 681.8,180.2 681.8,177.7 682.6,175.2 682.8,172.7 682.9,170.2 682.8,167.7 683.3,165.2 683.4,162.7 683.6,160.2 683.3,158.7" fill="#fcd81c"/>
<polygon points="680.2,193.7 679.5,195.2 679.1,197.7 679.0,200.2 679.4,201.7 679.5,201.7 680.1,200.2 680.5,197.7 680.6,195.2 680.3,193.7" fill="#fcd81c"/>
<polygon points="678.9,206.2 678.3,207.7 677.8,210.2 677.8,212.7 678.2,214.2 678.3,214.2 678.9,212.7 679.4,210.2 679.4,207.7 679.0,206.2" fill="#fcd81c"/>
<polygon points="677.7,218.7 677.0,220.2 676.7,222.7 676.7,225.2 676.9,226.7 677.0,226.7 677.5,225.2 678.1,222.7 678.2,220.2 677.8,218.7" fill="#fcd81c"/>
<polygon points="676.5,231.2 676.2,232.7 676.2,234.2 676.3,234.2 676.6,232.7 676.6,231.2" fill="#fcd81c"/>
<polygon points="673.1,266.2 672.9,267.7 672.9,269.2 672.9,269.2 673.2,267.7 673.2,266.2" fill="#fcd81c"/>
<polygon points="690.8,68.7 690.5,70.2 690.6,71.7 690.7,71.7 690.9,70.2 690.9,68.7" fill="#f8981c"/>
<polygon points="689.9,78.7 689.8,80.2 689.4,82.7 689.4,85.2 689.2,86.7 689.3,86.7 689.4,85.2 689.9,82.7 690.0,80.2 690.0,78.7" fill="#f8981c"/>
<polygon points="689.1,88.7 688.6,90.2 688.3,92.7 688.1,95.2 688.2,97.7 687.5,100.2 687.2,102.7 687.0,105.2 687.3,107.7 686.9,110.2 686.5,112.7 686.0,115.2 686.1,117.7 686.4,119.2 686.5,119.2 687.1,117.7 687.6,115.2 687.5,112.7 687.5,110.2 687.6,107.7 688.3,105.2 688.6,102.7 688.7,100.2 688.5,97.7 689.0,95.2 689.2,92.7 689.4,90.2 689.2,88.7" fill="#f8981c"/>
<polygon points="686.1,123.7 685.5,125.2 685.2,127.7 685.1,130.2 685.4,131.7 685.5,131.7 686.1,130.2 686.4,127.7 686.5,125.2 686.2,123.7" fill="#f8981c"/>
<polygon points="685.1,136.2 684.9,137.7 684.1,140.2 684.6,141.7 684.7,141.7 685.4,140.2 685.1,137.7 685.2,136.2" fill="#f8981c"/>
<polygon points="684.1,148.7 683.6,150.2 683.4,152.7 683.3,155.2 683.4,156.7 683.5,156.7 683.9,155.2 684.1,152.7 684.4,150.2 684.2,148.7" fill="#f8981c"/>
<polygon points="683.2,158.7 683.0,160.2 682.8,162.7 682.3,165.2 682.6,166.7 682.7,166.7 683.2,165.2 683.1,162.7 683.3,160.2 683.3,158.7" fill="#f8981c"/>
<polygon points="682.4,168.7 681.9,170.2 681.7,172.7 681.4,175.2 681.8,176.7 681.9,176.7 682.5,175.2 682.6,172.7 682.8,170.2 682.5,168.7" fill="#f8981c"/>
<polygon points="681.4,181.2 681.1,182.7 680.5,185.2 680.6,187.7 680.6,189.2 680.7,189.2 681.0,187.7 681.7,185.2 681.5,182.7 681.5,181.2" fill="#f8981c"/>
<polygon points="680.2,193.7 679.7,195.2 679.2,197.7 679.2,200.2 679.4,201.7 679.5,201.7 680.0,200.2 680.4,197.7 680.5,195.2 680.3,193.7" fill="#f8981c"/>
<polygon points="678.9,206.2 678.5,207.7 677.9,210.2 678.0,212.7 678.2,214.2 678.3,214.2 678.7,212.7 679.3,210.2 679.2,207.7 679.0,206.2" fill="#f8981c"/>
<polygon points="677.7,218.7 677.2,220.2 676.8,222.7 676.9,225.2 676.9,226.7 677.0,226.7 677.3,225.2 677.9,222.7 678.1,220.2 677.8,218.7" fill="#f8981c"/>
<polygon points="689.1,88.7 688.8,90.2 688.5,92.7 688.3,95.2 688.4,96.7 688.5,96.7 688.8,95.2 689.0,92.7 689.2,90.2 689.2,88.7" fill="#ec4c1c"/>
<polygon points="688.2,98.7 687.7,100.2 687.3,102.7 687.1,105.2 687.5,106.7 687.6,106.7 688.2,105.2 688.4,102.7 688.5,100.2 688.3,98.7" fill="#ec4c1c"/>
<polygon points="687.1,111.2 686.6,112.7 686.1,115.2 686.3,117.7 686.4,119.2 686.5,119.2 687.0,117.7 687.5,115.2 687.4,112.7 687.2,111.2" fill="#ec4c1c"/>
<polygon points="686.1,123.7 685.6,125.2 685.3,127.7 685.3,130.2 685.4,131.7 685.5,131.7 685.9,130.2 686.3,127.7 686.4,125.2 686.2,123.7" fill="#ec4c1c"/>
<polygon points="684.7,138.7 684.3,140.2 684.5,141.7 684.8,141.7 685.3,140.2 685.1,138.7" fill="#ec4c1c"/>
<polygon points="684.0,148.7 683.8,150.2 683.8,151.7 683.9,151.7 684.2,150.2 684.2,148.7" fill="#ec4c1c"/>
<polygon points="682.8,163.7 682.6,165.2 682.6,166.7 682.7,166.7 683.0,165.2 683.0,163.7" fill="#ec4c1c"/>
<polygon points="682.4,168.7 682.2,170.2 681.9,172.7 681.6,175.2 681.8,176.7 681.9,176.7 682.4,175.2 682.4,172.7 682.6,170.2 682.5,168.7" fill="#ec4c1c"/>
<polygon points="681.1,183.7 680.6,185.2 680.8,186.7 681.1,186.7 681.5,185.2 681.3,183.7" fill="#ec4c1c"/>
<polygon points="680.2,193.7 680.0,195.2 679.4,197.7 679.5,200.2 679.4,201.7 679.5,201.7 679.7,200.2 680.3,197.7 680.2,195.2 680.3,193.7" fill="#ec4c1c"/>
<polygon points="678.9,206.2 678.8,207.7 678.0,210.2 678.2,212.7 678.2,214.2 678.3,214.2 678.5,212.7 679.2,210.2 678.9,207.7 679.0,206.2" fill="#ec4c1c"/>
<polygon points="677.7,218.7 677.4,220.2 676.9,222.7 677.2,224.2 677.3,224.2 677.8,222.7 677.9,220.2 677.8,218.7" fill="#ec4c1c"/>
<polygon points="688.2,98.7 687.9,100.2 687.5,102.7 687.2,105.2 687.5,106.7 687.6,106.7 688.1,105.2 688.3,102.7 688.3,100.2 688.3,98.7" fill="#dc241c"/>
<polygon points="687.1,111.2 686.9,112.7 686.2,115.2 686.6,116.7 686.7,116.7 687.4,115.2 687.2,112.7 687.2,111.2" fill="#dc241c"/>
<polygon points="686.1,123.7 685.9,125.2 685.5,127.7 685.6,129.2 685.7,129.2 686.1,127.7 686.1,125.2 686.2,123.7" fill="#dc241c"/>
<polygon points="684.8,138.7 684.4,140.2 684.5,141.7 684.8,141.7 685.2,140.2 685.0,138.7" fill="#dc241c"/>
<polygon points="682.0,173.7 681.8,175.2 681.8,176.7 681.9,176.7 682.1,175.2 682.1,173.7" fill="#dc241c"/>
<polygon points="681.1,183.7 680.7,185.2 680.8,186.7 681.0,186.7 681.4,185.2 681.3,183.7" fill="#dc241c"/>
<polygon points="679.9,196.2 679.6,197.7 679.6,199.2 679.8,199.2 680.1,197.7 680.1,196.2" fill="#dc241c"/>
<polygon points="678.6,208.7 678.1,210.2 678.3,211.7 678.6,211.7 679.0,210.2 678.9,208.7" fill="#dc241c"/>
<polygon points="677.4,221.2 677.1,222.7 677.1,224.2 677.3,224.2 677.6,222.7 677.6,221.2" fill="#dc241c"/>
<polygon points="395.8,44.0 395.6,47.0 395.4,50.0 395.3,53.0 395.1,56.0 395.0,59.0 395.0,62.0 395.4,64.0 395.5,64.0 396.3,62.0 396.8,59.0 397.3,56.0 397.7,53.0 398.0,50.0 398.4,47.0 398.7,44.0" fill="#1d6cbc"/>
<polygon points="396.2,44.0 396.0,47.0 395.8,50.0 395.7,53.0 395.7,56.0 396.0,58.0 396.1,58.0 396.7,56.0 397.2,53.0 397.6,50.0 398.0,47.0 398.4,44.0" fill="#198c90"/>
<polygon points="396.5,44.0 396.3,47.0 396.3,50.0 396.5,52.0 396.6,52.0 397.2,50.0 397.7,47.0 398.1,44.0" fill="#1aa850"/>
<polygon points="426.2,44.0 426.0,47.0 425.9,50.0 425.7,53.0 425.5,56.0 425.4,59.0 425.5,62.0 425.9,64.0 425.9,64.0 426.7,62.0 427.3,59.0 427.7,56.0 428.1,53.0 428.5,50.0 428.8,47.0 429.2,44.0" fill="#1d6cbc"/>
<polygon points="426.6,44.0 426.4,47.0 426.3,50.0 426.1,53.0 426.1,56.0 426.4,58.0 426.5,58.0 427.1,56.0 427.6,53.0 428.1,50.0 428.4,47.0 428.8,44.0" fill="#198c90"/>
<polygon points="426.9,44.0 426.8,47.0 426.7,50.0 426.9,52.0 427.0,52.0 427.6,50.0 428.1,47.0 428.5,44.0" fill="#1aa850"/>
<polygon points="456.7,44.0 456.5,47.0 456.3,50.0 456.1,53.0 456.0,56.0 455.9,59.0 455.9,62.0 456.3,64.0 456.4,64.0 457.1,62.0 457.7,59.0 458.1,56.0 458.5,53.0 458.9,50.0 459.2,47.0 459.6,44.0" fill="#1d6cbc"/>
<polygon points="457.0,44.0 456.8,47.0 456.7,50.0 456.6,53.0 456.5,56.0 456.8,58.0 456.9,58.0 457.6,56.0 458.1,53.0 458.5,50.0 458.9,47.0 459.2,44.0" fill="#198c90"/>
<polygon points="457.3,44.0 457.2,47.0 457.1,50.0 457.4,52.0 457.5,52.0 458.0,50.0 458.5,47.0 458.9,44.0" fill="#1aa850"/>
<polygon points="487.1,44.0 486.9,47.0 486.7,50.0 486.5,53.0 486.4,56.0 486.3,59.0 486.3,62.0 486.7,64.0 486.8,64.0 487.6,62.0 488.1,59.0 488.6,56.0 489.0,53.0 489.3,50.0 489.7,47.0 490.0,44.0" fill="#1d6cbc"/>
<polygon points="487.4,44.0 487.3,47.0 487.1,50.0 487.0,53.0 487.0,56.0 487.3,58.0 487.3,58.0 488.0,56.0 488.5,53.0 488.9,50.0 489.3,47.0 489.7,44.0" fill="#198c90"/>
<polygon points="487.8,44.0 487.6,47.0 487.6,50.0 487.8,52.0 487.9,52.0 488.5,50.0 488.9,47.0 489.4,44.0" fill="#1aa850"/>
<polygon points="517.5,44.0 517.3,47.0 517.1,50.0 517.0,53.0 516.8,56.0 516.7,59.0 516.7,62.0 517.1,64.0 517.2,64.0 518.0,62.0 518.5,59.0 519.0,56.0 519.4,53.0 519.8,50.0 520.1,47.0 520.5,44.0" fill="#1d6cbc"/>
<polygon points="517.9,44.0 517.7,47.0 517.5,50.0 517.4,53.0 517.4,56.0 517.7,58.0 517.8,58.0 518.4,56.0 518.9,53.0 519.4,50.0 519.7,47.0 520.1,44.0" fill="#198c90"/>
<polygon points="518.2,44.0 518.1,47.0 518.0,50.0 518.2,52.0 518.3,52.0 518.9,50.0 519.4,47.0 519.8,44.0" fill="#1aa850"/>
<polygon points="548.0,44.0 547.8,47.0 547.6,50.0 547.4,53.0 547.3,56.0 547.2,59.0 547.2,62.0 547.6,64.0 547.7,64.0 548.4,62.0 549.0,59.0 549.4,56.0 549.8,53.0 550.2,50.0 550.5,47.0 550.9,44.0" fill="#1d6cbc"/>
<polygon points="548.3,44.0 548.1,47.0 548.0,50.0 547.9,53.0 547.8,56.0 548.1,58.0 548.2,58.0 548.9,56.0 549.4,53.0 549.8,50.0 550.2,47.0 550.5,44.0" fill="#198c90"/>
<polygon points="548.6,44.0 548.5,47.0 548.4,50.0 548.7,52.0 548.7,52.0 549.3,50.0 549.8,47.0 550.2,44.0" fill="#1aa850"/>
<polygon points="578.4,44.0 578.2,47.0 578.0,50.0 577.8,53.0 577.7,56.0 577.6,59.0 577.6,62.0 578.0,64.0 578.1,64.0 578.9,62.0 579.4,59.0 579.8,56.0 580.2,53.0 580.6,50.0 581.0,47.0 581.3,44.0" fill="#1d6cbc"/>
<polygon points="578.7,44.0 578.6,47.0 578.4,50.0 578.3,53.0 578.3,56.0 578.5,58.0 578.6,58.0 579.3,56.0 579.8,53.0 580.2,50.0 580.6,47.0 581.0,44.0" fill="#198c90"/>
<polygon points="579.1,44.0 578.9,47.0 578.9,50.0 579.1,52.0 579.2,52.0 579.8,50.0 580.2,47.0 580.6,44.0" fill="#1aa850"/>
<polygon points="608.8,44.0 608.6,47.0 608.4,50.0 608.3,53.0 608.1,56.0 608.0,59.0 608.0,62.0 608.4,64.0 608.5,64.0 609.3,62.0 609.8,59.0 610.3,56.0 610.7,53.0 611.0,50.0 611.4,47.0 611.7,44.0" fill="#1d6cbc"/>
<polygon points="609.2,44.0 609.0,47.0 608.8,50.0 608.7,53.0 608.7,56.0 609.0,58.0 609.1,58.0 609.7,56.0 610.2,53.0 610.6,50.0 611.0,47.0 611.4,44.0" fill="#198c90"/>
<polygon points="609.5,44.0 609.4,47.0 609.3,50.0 609.5,52.0 609.6,52.0 610.2,50.0 610.7,47.0 611.1,44.0" fill="#1aa850"/>
<polygon points="639.2,44.0 639.1,47.0 638.9,50.0 638.7,53.0 638.6,56.0 638.5,59.0 638.5,62.0 638.9,64.0 639.0,64.0 639.7,62.0 640.3,59.0 640.7,56.0 641.1,53.0 641.5,50.0 641.8,47.0 642.2,44.0" fill="#1d6cbc"/>
<polygon points="639.6,44.0 639.4,47.0 639.3,50.0 639.2,53.0 639.1,56.0 639.4,58.0 639.5,58.0 640.1,56.0 640.6,53.0 641.1,50.0 641.5,47.0 641.8,44.0" fill="#198c90"/>
<polygon points="639.9,44.0 639.8,47.0 639.7,50.0 639.9,52.0 640.0,52.0 640.6,50.0 641.1,47.0 641.5,44.0" fill="#1aa850"/>
<polygon points="669.7,44.0 669.5,47.0 669.3,50.0 669.1,53.0 669.0,56.0 668.9,59.0 668.9,62.0 669.3,64.0 669.4,64.0 670.1,62.0 670.7,59.0 671.1,56.0 671.5,53.0 671.9,50.0 672.3,47.0 672.6,44.0" fill="#1d6cbc"/>
<polygon points="670.0,44.0 669.9,47.0 669.7,50.0 669.6,53.0 669.5,56.0 669.8,58.0 669.9,58.0 670.6,56.0 671.1,53.0 671.5,50.0 671.9,47.0 672.3,44.0" fill="#198c90"/>
<polygon points="670.3,44.0 670.2,47.0 670.2,50.0 670.4,52.0 670.5,52.0 671.0,50.0 671.5,47.0 671.9,44.0" fill="#1aa850"/>
</g>
</g>
<filter id="b" x="-5%" y="-5%" width="110%" height="110%"><feGaussianBlur stdDeviation="0.22 0.6"/></filter>
<line x1="395.3" y1="47.2" x2="395.3" y2="294.3" stroke="#000" stroke-width="1.2" stroke-dasharray="2 2"/>
<rect x="394.5" y="293.7" width="294.0" height="1.4" fill="#000"/>
<rect x="391.5" y="293.8" width="3.5" height="1" fill="#777"/>
<text x="389.8" y="297.9" text-anchor="end" font-family="Liberation Sans, sans-serif" font-size="9.6" fill="#111">-8</text>
<rect x="391.5" y="278.3" width="3.5" height="1" fill="#777"/>
<text x="389.8" y="282.4" text-anchor="end" font-family="Liberation Sans, sans-serif" font-size="9.6" fill="#111">-7</text>
<rect x="391.5" y="262.7" width="3.5" height="1" fill="#777"/>
<text x="389.8" y="266.8" text-anchor="end" font-family="Liberation Sans, sans-serif" font-size="9.6" fill="#111">-6</text>
<rect x="391.5" y="247.2" width="3.5" height="1" fill="#777"/>
<text x="389.8" y="251.3" text-anchor="end" font-family="Liberation Sans, sans-serif" font-size="9.6" fill="#111">-5</text>
<rect x="391.5" y="231.7" width="3.5" height="1" fill="#777"/>
<text x="389.8" y="235.8" text-anchor="end" font-family="Liberation Sans, sans-serif" font-size="9.6" fill="#111">-4</text>
<rect x="391.5" y="216.2" width="3.5" height="1" fill="#777"/>
<text x="389.8" y="220.3" text-anchor="end" font-family="Liberation Sans, sans-serif" font-size="9.6" fill="#111">-3</text>
<rect x="391.5" y="200.6" width="3.5" height="1" fill="#777"/>
<text x="389.8" y="204.7" text-anchor="end" font-family="Liberation Sans, sans-serif" font-size="9.6" fill="#111">-2</text>
<rect x="391.5" y="185.1" width="3.5" height="1" fill="#777"/>
<text x="389.8" y="189.2" text-anchor="end" font-family="Liberation Sans, sans-serif" font-size="9.6" fill="#111">-1</text>
<rect x="391.5" y="169.6" width="3.5" height="1" fill="#777"/>
<text x="389.8" y="173.7" text-anchor="end" font-family="Liberation Sans, sans-serif" font-size="9.6" fill="#111">0</text>
<rect x="391.5" y="154.0" width="3.5" height="1" fill="#777"/>
<text x="389.8" y="158.1" text-anchor="end" font-family="Liberation Sans, sans-serif" font-size="9.6" fill="#111">1</text>
<rect x="391.5" y="138.5" width="3.5" height="1" fill="#777"/>
<text x="389.8" y="142.6" text-anchor="end" font-family="Liberation Sans, sans-serif" font-size="9.6" fill="#111">2</text>
<rect x="391.5" y="123.0" width="3.5" height="1" fill="#777"/>
<text x="389.8" y="127.1" text-anchor="end" font-family="Liberation Sans, sans-serif" font-size="9.6" fill="#111">3</text>
<rect x="391.5" y="107.4" width="3.5" height="1" fill="#777"/>
<text x="389.8" y="111.5" text-anchor="end" font-family="Liberation Sans, sans-serif" font-size="9.6" fill="#111">4</text>
<rect x="391.5" y="91.9" width="3.5" height="1" fill="#777"/>
<text x="389.8" y="96.0" text-anchor="end" font-family="Liberation Sans, sans-serif" font-size="9.6" fill="#111">5</text>
<rect x="391.5" y="76.4" width="3.5" height="1" fill="#777"/>
<text x="389.8" y="80.5" text-anchor="end" font-family="Liberation Sans, sans-serif" font-size="9.6" fill="#111">6</text>
<rect x="391.5" y="60.9" width="3.5" height="1" fill="#777"/>
<text x="389.8" y="65.0" text-anchor="end" font-family="Liberation Sans, sans-serif" font-size="9.6" fill="#111">7</text>
<rect x="395.2" y="295.1" width="1" height="3.2" fill="#444"/>
<rect x="410.0" y="295.1" width="1" height="2.4" fill="#444"/>
<rect x="424.8" y="295.1" width="1" height="2.4" fill="#444"/>
<rect x="439.6" y="295.1" width="1" height="2.4" fill="#444"/>
<rect x="454.4" y="295.1" width="1" height="3.2" fill="#444"/>
<rect x="469.2" y="295.1" width="1" height="2.4" fill="#444"/>
<rect x="484.0" y="295.1" width="1" height="2.4" fill="#444"/>
<rect x="498.8" y="295.1" width="1" height="2.4" fill="#444"/>
<rect x="513.6" y="295.1" width="1" height="3.2" fill="#444"/>
<rect x="528.4" y="295.1" width="1" height="2.4" fill="#444"/>
<rect x="543.2" y="295.1" width="1" height="2.4" fill="#444"/>
<rect x="558.0" y="295.1" width="1" height="2.4" fill="#444"/>
<rect x="572.8" y="295.1" width="1" height="3.2" fill="#444"/>
<rect x="587.6" y="295.1" width="1" height="2.4" fill="#444"/>
<rect x="602.4" y="295.1" width="1" height="2.4" fill="#444"/>
<rect x="617.2" y="295.1" width="1" height="2.4" fill="#444"/>
<rect x="632.0" y="295.1" width="1" height="3.2" fill="#444"/>
<rect x="646.8" y="295.1" width="1" height="2.4" fill="#444"/>
<rect x="661.6" y="295.1" width="1" height="2.4" fill="#444"/>
<rect x="676.4" y="295.1" width="1" height="2.4" fill="#444"/>
<text x="396.5" y="310.0" text-anchor="middle" font-family="Liberation Sans, sans-serif" font-size="9.6" fill="#111">0</text>
<text x="454.9" y="310.0" text-anchor="middle" font-family="Liberation Sans, sans-serif" font-size="9.6" fill="#111">20</text>
<text x="514.1" y="310.0" text-anchor="middle" font-family="Liberation Sans, sans-serif" font-size="9.6" fill="#111">40</text>
<text x="573.3" y="310.0" text-anchor="middle" font-family="Liberation Sans, sans-serif" font-size="9.6" fill="#111">60</text>
<text x="632.5" y="310.0" text-anchor="middle" font-family="Liberation Sans, sans-serif" font-size="9.6" fill="#111">80</text>
<text x="541.3" y="321.6" text-anchor="middle" font-family="Liberation Sans, sans-serif" font-weight="bold" font-size="9.5" fill="#111">[µs]</text>
<text transform="translate(376.0,171.2) rotate(-90)" text-anchor="middle" font-family="Liberation Sans, sans-serif" font-weight="bold" font-size="9.5" fill="#111">[MHz]</text>
</svg>
</body></html>
